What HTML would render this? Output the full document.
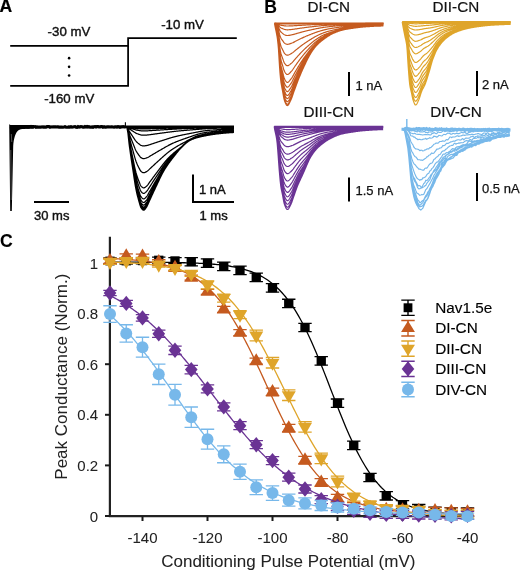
<!DOCTYPE html>
<html><head><meta charset="utf-8"><style>
html,body{margin:0;padding:0;background:#fff;width:520px;height:570px;overflow:hidden}
svg{display:block;font-family:"Liberation Sans", sans-serif;transform:translateZ(0)}
</style></head><body>
<svg width="520" height="570" viewBox="0 0 520 570">

<text x="-0.4" y="12.4" font-size="17.6" text-anchor="start" font-weight="bold" fill="#000" stroke="#000" stroke-width="0.2" stroke-linejoin="round" >A</text>
<text x="264.2" y="12.7" font-size="17.6" text-anchor="start" font-weight="bold" fill="#000" stroke="#000" stroke-width="0.1" stroke-linejoin="round" >B</text>
<text x="0.0" y="247.3" font-size="17.6" text-anchor="start" font-weight="bold" fill="#000" stroke="#000" stroke-width="0.1" stroke-linejoin="round" >C</text>
<path d="M10.2 45.9 H128.1 M10.2 85.9 H128.1 V38.15 H236.8" fill="none" stroke="#000" stroke-width="1.75"/>
<circle cx="69.1" cy="58.15" r="1.3" fill="#000"/>
<circle cx="69.1" cy="66.85" r="1.3" fill="#000"/>
<circle cx="69.1" cy="75.55" r="1.3" fill="#000"/>
<text x="47.6" y="36.1" font-size="13.25" text-anchor="start" font-weight="normal" fill="#111" stroke="#111" stroke-width="0.4" stroke-linejoin="round" >-30 mV</text>
<text x="161.2" y="28.8" font-size="13.25" text-anchor="start" font-weight="normal" fill="#111" stroke="#111" stroke-width="0.4" stroke-linejoin="round" >-10 mV</text>
<text x="44.2" y="102.9" font-size="13.25" text-anchor="start" font-weight="normal" fill="#111" stroke="#111" stroke-width="0.4" stroke-linejoin="round" >-160 mV</text>
<path d="M9.2 124.2 L10.2 210.9 L11.8 210.9 L13.2 146 C13.8 138 15.5 132.5 18.5 130.2 C21 129 26 128.8 34 128.6 L34 125 L10.5 125 Z" fill="#000"/>
<path d="M10.8 150 L11.2 200 M11.3 134 L11.8 142" stroke="#666" stroke-width="0.8"/>
<path d="M10.0 126.72 L11.0 126.93 L12.0 126.81 L13.0 126.97 L14.0 126.99 L15.0 126.60 L16.0 126.56 L17.0 127.14 L18.0 126.73 L19.0 126.71 L20.0 127.25 L21.0 126.88 L22.0 127.14 L23.0 126.88 L24.0 127.00 L25.0 126.66 L26.0 126.99 L27.0 127.16 L28.0 126.92 L29.0 127.07 L30.0 127.02 L31.0 126.59 L32.0 127.08 L33.0 126.96 L34.0 126.76 L35.0 126.57 L36.0 127.16 L37.0 126.88 L38.0 127.05 L39.0 127.17 L40.0 127.05 L41.0 127.19 L42.0 126.83 L43.0 127.11 L44.0 126.86 L45.0 127.20 L46.0 127.17 L47.0 126.62 L48.0 126.65 L49.0 126.70 L50.0 127.23 L51.0 126.86 L52.0 126.99 L53.0 126.76 L54.0 126.91 L55.0 126.82 L56.0 126.80 L57.0 126.96 L58.0 126.96 L59.0 127.18 L60.0 127.03 L61.0 127.20 L62.0 127.15 L63.0 127.24 L64.0 127.02 L65.0 126.66 L66.0 127.15 L67.0 127.23 L68.0 127.18 L69.0 126.95 L70.0 127.05 L71.0 126.70 L72.0 127.13 L73.0 126.95 L74.0 126.75 L75.0 126.59 L76.0 127.15 L77.0 127.24 L78.0 126.61 L79.0 127.11 L80.0 126.84 L81.0 126.66 L82.0 126.76 L83.0 127.09 L84.0 127.16 L85.0 126.58 L86.0 126.98 L87.0 126.58 L88.0 127.05 L89.0 126.78 L90.0 127.17 L91.0 127.24 L92.0 126.90 L93.0 127.25 L94.0 126.77 L95.0 126.60 L96.0 126.97 L97.0 126.57 L98.0 126.69 L99.0 126.84 L100.0 126.98 L101.0 126.66 L102.0 126.58 L103.0 127.16 L104.0 126.77 L105.0 127.22 L106.0 127.18 L107.0 126.81 L108.0 126.87 L109.0 126.91 L110.0 127.00 L111.0 126.97 L112.0 126.94 L113.0 126.98 L114.0 127.21 L115.0 126.90 L116.0 126.85 L117.0 127.05 L118.0 126.72 L119.0 126.76 L120.0 127.23 L121.0 126.91 L122.0 126.93 L123.0 126.56 L124.0 126.84 L125.0 126.96 L126.0 126.56" fill="none" stroke="#000" stroke-width="3.2"/>
<path d="M125.4 127 L125.4 122.3" fill="none" stroke="#000" stroke-width="1.1"/>
<path d="M126.5 126.90 L127.0 128.38 L127.5 130.73 L128.0 133.76 L128.5 138.35 L129.0 142.98 L129.5 146.84 L130.0 150.52 L130.5 154.06 L131.0 157.48 L131.5 160.81 L132.0 164.09 L132.5 167.35 L133.0 170.62 L133.5 173.96 L134.0 177.33 L134.5 180.65 L135.0 183.83 L135.5 186.79 L136.0 189.47 L136.5 191.83 L137.0 194.02 L137.5 196.05 L138.0 197.96 L138.5 199.78 L139.0 201.53 L139.5 203.29 L140.0 205.07 L140.5 206.63 L141.0 207.70 L141.5 208.43 L142.0 209.10 L142.5 209.64 L143.0 210.02 L143.5 210.19 L144.0 210.11 L144.5 209.78 L145.0 209.26 L145.5 208.64 L146.0 207.97 L146.5 207.26 L147.0 206.36 L147.5 205.29 L148.0 204.15 L148.5 202.98 L149.0 201.87 L149.5 200.80 L150.0 199.73 L150.5 198.64 L151.0 197.54 L151.5 196.45 L152.0 195.35 L152.5 194.26 L153.0 193.17 L153.5 192.08 L154.0 191.01 L154.5 189.96 L155.0 188.90 L155.5 187.84 L156.0 186.78 L156.5 185.70 L157.0 184.63 L157.5 183.56 L158.0 182.49 L158.5 181.42 L159.0 180.36 L159.5 179.31 L160.0 178.28 L160.5 177.25 L161.0 176.24 L161.5 175.25 L162.0 174.28 L162.5 173.33 L163.0 172.41 L163.5 171.51 L164.0 170.64 L164.5 169.80 L165.0 168.98 L165.5 168.18 L166.0 167.40 L166.5 166.63 L167.0 165.88 L167.5 165.13 L168.0 164.41 L168.5 163.69 L169.0 162.98 L169.5 162.29 L170.0 161.61 L170.5 160.93 L171.0 160.26 L171.5 159.60 L172.0 158.95 L172.5 158.30 L173.0 157.66 L173.5 157.03 L174.0 156.39 L174.5 155.76 L175.0 155.14 L175.5 154.50 L176.0 153.86 L176.5 153.21 L177.0 152.57 L177.5 151.92 L178.0 151.27 L178.5 150.62 L179.0 149.98 L179.5 149.35 L180.0 148.72 L180.5 148.11 L181.0 147.51 L181.5 146.93 L182.0 146.37 L182.5 145.82 L183.0 145.30 L183.5 144.80 L184.0 144.32 L184.5 143.88 L185.0 143.46 L185.5 143.08 L186.0 142.73 L186.5 142.40 L187.0 142.08 L187.5 141.78 L188.0 141.49 L188.5 141.20 L189.0 140.93 L189.5 140.66 L190.0 140.41 L190.5 140.16 L191.0 139.93 L191.5 139.70 L192.0 139.48 L192.5 139.27 L193.0 139.07 L193.5 138.88 L194.0 138.69 L194.5 138.51 L195.0 138.34 L195.5 138.18 L196.0 138.02 L196.5 137.87 L197.0 137.72 L197.5 137.58 L198.0 137.44 L198.5 137.31 L199.0 137.18 L199.5 137.06 L200.0 136.94 L200.5 136.82 L201.0 136.70 L201.5 136.59 L202.0 136.48 L202.5 136.38 L203.0 136.27 L203.5 136.17 L204.0 136.07 L204.5 135.97 L205.0 135.88 L205.5 135.78 L206.0 135.68 L206.5 135.59 L207.0 135.50 L207.5 135.40 L208.0 135.31 L208.5 135.22 L209.0 135.13 L209.5 135.04 L210.0 134.96 L210.5 134.87 L211.0 134.79 L211.5 134.71 L212.0 134.63 L212.5 134.55 L213.0 134.47 L213.5 134.40 L214.0 134.33 L214.5 134.26 L215.0 134.19 L215.5 134.13 L216.0 134.06 L216.5 134.00 L217.0 133.95 L217.5 133.89 L218.0 133.83 L218.5 133.78 L219.0 133.72 L219.5 133.67 L220.0 133.61 L220.5 133.56 L221.0 133.50 L221.5 133.45 L222.0 133.40 L222.5 133.35 L223.0 133.30 L223.5 133.25 L224.0 133.20 L224.5 133.15 L225.0 133.11 L225.5 133.06 L226.0 133.01 L226.5 132.97 L227.0 132.93 L227.5 132.89 L228.0 132.85 L228.5 132.81 L229.0 132.77 L229.5 132.74 L230.0 132.70 L230.5 132.67 L231.0 132.64 L231.5 132.61 L232.0 132.58 L232.5 132.55 L233.0 132.53 L233.5 132.50 L234.0 132.48 M126.5 126.90 L127.0 128.37 L127.5 130.70 L128.0 133.70 L128.5 138.25 L129.0 142.84 L129.5 146.67 L130.0 150.32 L130.5 153.83 L131.0 157.22 L131.5 160.53 L132.0 163.78 L132.5 167.01 L133.0 170.26 L133.5 173.57 L134.0 176.91 L134.5 180.20 L135.0 183.35 L135.5 186.29 L136.0 188.94 L136.5 191.29 L137.0 193.46 L137.5 195.47 L138.0 197.37 L138.5 199.17 L139.0 200.90 L139.5 202.65 L140.0 204.42 L140.5 205.96 L141.0 207.02 L141.5 207.75 L142.0 208.40 L142.5 208.95 L143.0 209.32 L143.5 209.49 L144.0 209.41 L144.5 209.08 L145.0 208.58 L145.5 207.96 L146.0 207.30 L146.5 206.61 L147.0 205.73 L147.5 204.68 L148.0 203.55 L148.5 202.40 L149.0 201.30 L149.5 200.25 L150.0 199.19 L150.5 198.12 L151.0 197.04 L151.5 195.96 L152.0 194.87 L152.5 193.79 L153.0 192.72 L153.5 191.65 L154.0 190.60 L154.5 189.55 L155.0 188.51 L155.5 187.47 L156.0 186.42 L156.5 185.36 L157.0 184.30 L157.5 183.24 L158.0 182.19 L158.5 181.13 L159.0 180.09 L159.5 179.05 L160.0 178.03 L160.5 177.01 L161.0 176.01 L161.5 175.03 L162.0 174.07 L162.5 173.13 L163.0 172.21 L163.5 171.32 L164.0 170.46 L164.5 169.63 L165.0 168.82 L165.5 168.02 L166.0 167.25 L166.5 166.49 L167.0 165.74 L167.5 165.00 L168.0 164.28 L168.5 163.57 L169.0 162.87 L169.5 162.19 L170.0 161.51 L170.5 160.84 L171.0 160.18 L171.5 159.53 L172.0 158.88 L172.5 158.24 L173.0 157.61 L173.5 156.98 L174.0 156.35 L174.5 155.73 L175.0 155.11 L175.5 154.49 L176.0 153.86 L176.5 153.22 L177.0 152.58 L177.5 151.94 L178.0 151.30 L178.5 150.66 L179.0 150.03 L179.5 149.40 L180.0 148.78 L180.5 148.18 L181.0 147.58 L181.5 147.00 L182.0 146.43 L182.5 145.89 L183.0 145.36 L183.5 144.86 L184.0 144.38 L184.5 143.93 L185.0 143.50 L185.5 143.11 L186.0 142.75 L186.5 142.42 L187.0 142.10 L187.5 141.80 L188.0 141.50 L188.5 141.22 L189.0 140.94 L189.5 140.68 L190.0 140.42 L190.5 140.17 L191.0 139.94 L191.5 139.71 L192.0 139.49 L192.5 139.28 L193.0 139.07 L193.5 138.88 L194.0 138.69 L194.5 138.51 L195.0 138.34 L195.5 138.17 L196.0 138.01 L196.5 137.86 L197.0 137.71 L197.5 137.57 L198.0 137.43 L198.5 137.30 L199.0 137.17 L199.5 137.05 L200.0 136.92 L200.5 136.81 L201.0 136.69 L201.5 136.58 L202.0 136.47 L202.5 136.37 L203.0 136.26 L203.5 136.16 L204.0 136.06 L204.5 135.96 L205.0 135.86 L205.5 135.77 L206.0 135.67 L206.5 135.58 L207.0 135.49 L207.5 135.40 L208.0 135.30 L208.5 135.21 L209.0 135.13 L209.5 135.04 L210.0 134.95 L210.5 134.87 L211.0 134.78 L211.5 134.70 L212.0 134.62 L212.5 134.54 L213.0 134.47 L213.5 134.39 L214.0 134.32 L214.5 134.25 L215.0 134.18 L215.5 134.12 L216.0 134.05 L216.5 133.99 L217.0 133.93 L217.5 133.88 L218.0 133.82 L218.5 133.76 L219.0 133.71 L219.5 133.65 L220.0 133.60 L220.5 133.55 L221.0 133.49 L221.5 133.44 L222.0 133.39 L222.5 133.34 L223.0 133.29 L223.5 133.24 L224.0 133.19 L224.5 133.14 L225.0 133.09 L225.5 133.05 L226.0 133.00 L226.5 132.96 L227.0 132.92 L227.5 132.87 L228.0 132.83 L228.5 132.80 L229.0 132.76 L229.5 132.72 L230.0 132.69 L230.5 132.65 L231.0 132.62 L231.5 132.59 L232.0 132.56 L232.5 132.53 L233.0 132.50 L233.5 132.48 L234.0 132.46 M126.5 126.90 L127.0 128.35 L127.5 130.66 L128.0 133.62 L128.5 138.11 L129.0 142.65 L129.5 146.43 L130.0 150.04 L130.5 153.50 L131.0 156.85 L131.5 160.12 L132.0 163.33 L132.5 166.53 L133.0 169.73 L133.5 173.00 L134.0 176.30 L134.5 179.55 L135.0 182.67 L135.5 185.57 L136.0 188.19 L136.5 190.51 L137.0 192.65 L137.5 194.64 L138.0 196.51 L138.5 198.29 L139.0 200.00 L139.5 201.73 L140.0 203.48 L140.5 205.00 L141.0 206.05 L141.5 206.77 L142.0 207.42 L142.5 207.95 L143.0 208.33 L143.5 208.49 L144.0 208.41 L144.5 208.09 L145.0 207.60 L145.5 207.00 L146.0 206.35 L146.5 205.68 L147.0 204.82 L147.5 203.81 L148.0 202.70 L148.5 201.57 L149.0 200.49 L149.5 199.46 L150.0 198.42 L150.5 197.37 L151.0 196.31 L151.5 195.25 L152.0 194.19 L152.5 193.13 L153.0 192.08 L153.5 191.03 L154.0 189.99 L154.5 188.96 L155.0 187.95 L155.5 186.92 L156.0 185.89 L156.5 184.86 L157.0 183.82 L157.5 182.78 L158.0 181.75 L158.5 180.72 L159.0 179.69 L159.5 178.67 L160.0 177.66 L160.5 176.67 L161.0 175.68 L161.5 174.72 L162.0 173.77 L162.5 172.84 L163.0 171.93 L163.5 171.05 L164.0 170.20 L164.5 169.37 L165.0 168.57 L165.5 167.79 L166.0 167.02 L166.5 166.27 L167.0 165.53 L167.5 164.81 L168.0 164.09 L168.5 163.39 L169.0 162.71 L169.5 162.03 L170.0 161.36 L170.5 160.70 L171.0 160.05 L171.5 159.41 L172.0 158.77 L172.5 158.14 L173.0 157.52 L173.5 156.90 L174.0 156.29 L174.5 155.67 L175.0 155.07 L175.5 154.46 L176.0 153.84 L176.5 153.22 L177.0 152.60 L177.5 151.97 L178.0 151.34 L178.5 150.71 L179.0 150.09 L179.5 149.47 L180.0 148.86 L180.5 148.26 L181.0 147.67 L181.5 147.09 L182.0 146.52 L182.5 145.98 L183.0 145.45 L183.5 144.94 L184.0 144.46 L184.5 144.00 L185.0 143.57 L185.5 143.16 L186.0 142.79 L186.5 142.44 L187.0 142.13 L187.5 141.82 L188.0 141.52 L188.5 141.24 L189.0 140.96 L189.5 140.69 L190.0 140.44 L190.5 140.19 L191.0 139.95 L191.5 139.72 L192.0 139.50 L192.5 139.28 L193.0 139.08 L193.5 138.88 L194.0 138.69 L194.5 138.51 L195.0 138.33 L195.5 138.17 L196.0 138.01 L196.5 137.85 L197.0 137.70 L197.5 137.56 L198.0 137.42 L198.5 137.29 L199.0 137.16 L199.5 137.03 L200.0 136.91 L200.5 136.79 L201.0 136.67 L201.5 136.56 L202.0 136.45 L202.5 136.35 L203.0 136.24 L203.5 136.14 L204.0 136.04 L204.5 135.94 L205.0 135.85 L205.5 135.75 L206.0 135.66 L206.5 135.57 L207.0 135.47 L207.5 135.38 L208.0 135.29 L208.5 135.20 L209.0 135.11 L209.5 135.03 L210.0 134.94 L210.5 134.86 L211.0 134.77 L211.5 134.69 L212.0 134.61 L212.5 134.53 L213.0 134.46 L213.5 134.38 L214.0 134.31 L214.5 134.24 L215.0 134.17 L215.5 134.10 L216.0 134.04 L216.5 133.97 L217.0 133.91 L217.5 133.85 L218.0 133.80 L218.5 133.74 L219.0 133.69 L219.5 133.64 L220.0 133.58 L220.5 133.53 L221.0 133.48 L221.5 133.42 L222.0 133.37 L222.5 133.32 L223.0 133.27 L223.5 133.22 L224.0 133.17 L224.5 133.12 L225.0 133.08 L225.5 133.03 L226.0 132.99 L226.5 132.94 L227.0 132.90 L227.5 132.86 L228.0 132.81 L228.5 132.77 L229.0 132.74 L229.5 132.70 L230.0 132.66 L230.5 132.63 L231.0 132.59 L231.5 132.56 L232.0 132.53 L232.5 132.50 L233.0 132.47 L233.5 132.45 L234.0 132.42 M126.5 126.90 L127.0 128.33 L127.5 130.59 L128.0 133.50 L128.5 137.92 L129.0 142.38 L129.5 146.10 L130.0 149.64 L130.5 153.05 L131.0 156.34 L131.5 159.55 L132.0 162.71 L132.5 165.85 L133.0 169.00 L133.5 172.21 L134.0 175.46 L134.5 178.65 L135.0 181.71 L135.5 184.56 L136.0 187.14 L136.5 189.42 L137.0 191.52 L137.5 193.48 L138.0 195.32 L138.5 197.07 L139.0 198.75 L139.5 200.45 L140.0 202.16 L140.5 203.66 L141.0 204.69 L141.5 205.40 L142.0 206.04 L142.5 206.56 L143.0 206.93 L143.5 207.09 L144.0 207.02 L144.5 206.71 L145.0 206.23 L145.5 205.65 L146.0 205.02 L146.5 204.38 L147.0 203.55 L147.5 202.57 L148.0 201.50 L148.5 200.41 L149.0 199.34 L149.5 198.34 L150.0 197.33 L150.5 196.31 L151.0 195.28 L151.5 194.25 L152.0 193.22 L152.5 192.19 L153.0 191.17 L153.5 190.14 L154.0 189.13 L154.5 188.13 L155.0 187.14 L155.5 186.15 L156.0 185.15 L156.5 184.14 L157.0 183.14 L157.5 182.13 L158.0 181.12 L158.5 180.11 L159.0 179.11 L159.5 178.12 L160.0 177.14 L160.5 176.16 L161.0 175.20 L161.5 174.26 L162.0 173.33 L162.5 172.42 L163.0 171.53 L163.5 170.66 L164.0 169.82 L164.5 169.00 L165.0 168.21 L165.5 167.44 L166.0 166.69 L166.5 165.95 L167.0 165.23 L167.5 164.52 L168.0 163.82 L168.5 163.13 L169.0 162.46 L169.5 161.79 L170.0 161.14 L170.5 160.49 L171.0 159.85 L171.5 159.22 L172.0 158.60 L172.5 157.99 L173.0 157.38 L173.5 156.77 L174.0 156.17 L174.5 155.58 L175.0 154.98 L175.5 154.39 L176.0 153.80 L176.5 153.20 L177.0 152.60 L177.5 151.99 L178.0 151.38 L178.5 150.76 L179.0 150.16 L179.5 149.55 L180.0 148.95 L180.5 148.36 L181.0 147.77 L181.5 147.20 L182.0 146.64 L182.5 146.10 L183.0 145.57 L183.5 145.06 L184.0 144.57 L184.5 144.10 L185.0 143.65 L185.5 143.24 L186.0 142.85 L186.5 142.48 L187.0 142.15 L187.5 141.85 L188.0 141.55 L188.5 141.26 L189.0 140.98 L189.5 140.71 L190.0 140.45 L190.5 140.20 L191.0 139.96 L191.5 139.73 L192.0 139.51 L192.5 139.29 L193.0 139.08 L193.5 138.88 L194.0 138.69 L194.5 138.50 L195.0 138.33 L195.5 138.16 L196.0 137.99 L196.5 137.84 L197.0 137.68 L197.5 137.54 L198.0 137.40 L198.5 137.26 L199.0 137.13 L199.5 137.00 L200.0 136.88 L200.5 136.76 L201.0 136.65 L201.5 136.53 L202.0 136.42 L202.5 136.32 L203.0 136.21 L203.5 136.11 L204.0 136.01 L204.5 135.91 L205.0 135.82 L205.5 135.72 L206.0 135.63 L206.5 135.54 L207.0 135.45 L207.5 135.36 L208.0 135.27 L208.5 135.18 L209.0 135.09 L209.5 135.01 L210.0 134.92 L210.5 134.84 L211.0 134.76 L211.5 134.67 L212.0 134.59 L212.5 134.52 L213.0 134.44 L213.5 134.36 L214.0 134.29 L214.5 134.22 L215.0 134.15 L215.5 134.08 L216.0 134.01 L216.5 133.95 L217.0 133.89 L217.5 133.83 L218.0 133.77 L218.5 133.71 L219.0 133.66 L219.5 133.61 L220.0 133.55 L220.5 133.50 L221.0 133.45 L221.5 133.40 L222.0 133.35 L222.5 133.29 L223.0 133.24 L223.5 133.20 L224.0 133.15 L224.5 133.10 L225.0 133.05 L225.5 133.01 L226.0 132.96 L226.5 132.92 L227.0 132.87 L227.5 132.83 L228.0 132.79 L228.5 132.75 L229.0 132.71 L229.5 132.67 L230.0 132.63 L230.5 132.59 L231.0 132.56 L231.5 132.52 L232.0 132.49 L232.5 132.46 L233.0 132.43 L233.5 132.40 L234.0 132.37 M126.5 126.90 L127.0 128.29 L127.5 130.50 L128.0 133.34 L128.5 137.65 L129.0 141.99 L129.5 145.62 L130.0 149.07 L130.5 152.39 L131.0 155.60 L131.5 158.73 L132.0 161.82 L132.5 164.88 L133.0 167.95 L133.5 171.08 L134.0 174.24 L134.5 177.36 L135.0 180.34 L135.5 183.13 L136.0 185.64 L136.5 187.86 L137.0 189.91 L137.5 191.82 L138.0 193.61 L138.5 195.32 L139.0 196.96 L139.5 198.61 L140.0 200.29 L140.5 201.74 L141.0 202.75 L141.5 203.44 L142.0 204.06 L142.5 204.57 L143.0 204.93 L143.5 205.10 L144.0 205.02 L144.5 204.73 L145.0 204.28 L145.5 203.72 L146.0 203.12 L146.5 202.50 L147.0 201.73 L147.5 200.80 L148.0 199.78 L148.5 198.73 L149.0 197.70 L149.5 196.73 L150.0 195.76 L150.5 194.79 L151.0 193.80 L151.5 192.81 L152.0 191.82 L152.5 190.83 L153.0 189.84 L153.5 188.86 L154.0 187.89 L154.5 186.92 L155.0 185.97 L155.5 185.02 L156.0 184.06 L156.5 183.10 L157.0 182.13 L157.5 181.16 L158.0 180.19 L158.5 179.22 L159.0 178.26 L159.5 177.30 L160.0 176.36 L160.5 175.41 L161.0 174.49 L161.5 173.57 L162.0 172.67 L162.5 171.78 L163.0 170.92 L163.5 170.07 L164.0 169.25 L164.5 168.45 L165.0 167.67 L165.5 166.92 L166.0 166.19 L166.5 165.47 L167.0 164.77 L167.5 164.08 L168.0 163.40 L168.5 162.73 L169.0 162.07 L169.5 161.43 L170.0 160.79 L170.5 160.16 L171.0 159.54 L171.5 158.93 L172.0 158.33 L172.5 157.73 L173.0 157.14 L173.5 156.56 L174.0 155.98 L174.5 155.40 L175.0 154.83 L175.5 154.26 L176.0 153.69 L176.5 153.12 L177.0 152.55 L177.5 151.96 L178.0 151.38 L178.5 150.79 L179.0 150.21 L179.5 149.62 L180.0 149.04 L180.5 148.46 L181.0 147.89 L181.5 147.33 L182.0 146.78 L182.5 146.24 L183.0 145.71 L183.5 145.20 L184.0 144.71 L184.5 144.23 L185.0 143.78 L185.5 143.35 L186.0 142.94 L186.5 142.55 L187.0 142.20 L187.5 141.87 L188.0 141.57 L188.5 141.28 L189.0 141.00 L189.5 140.73 L190.0 140.47 L190.5 140.22 L191.0 139.97 L191.5 139.74 L192.0 139.51 L192.5 139.29 L193.0 139.08 L193.5 138.88 L194.0 138.68 L194.5 138.49 L195.0 138.31 L195.5 138.14 L196.0 137.97 L196.5 137.81 L197.0 137.65 L197.5 137.51 L198.0 137.36 L198.5 137.23 L199.0 137.09 L199.5 136.96 L200.0 136.84 L200.5 136.72 L201.0 136.60 L201.5 136.49 L202.0 136.37 L202.5 136.27 L203.0 136.16 L203.5 136.06 L204.0 135.96 L204.5 135.86 L205.0 135.77 L205.5 135.67 L206.0 135.58 L206.5 135.49 L207.0 135.40 L207.5 135.32 L208.0 135.23 L208.5 135.14 L209.0 135.06 L209.5 134.97 L210.0 134.89 L210.5 134.81 L211.0 134.72 L211.5 134.64 L212.0 134.56 L212.5 134.49 L213.0 134.41 L213.5 134.33 L214.0 134.26 L214.5 134.19 L215.0 134.11 L215.5 134.05 L216.0 133.98 L216.5 133.91 L217.0 133.85 L217.5 133.79 L218.0 133.73 L218.5 133.67 L219.0 133.61 L219.5 133.56 L220.0 133.51 L220.5 133.46 L221.0 133.40 L221.5 133.35 L222.0 133.30 L222.5 133.25 L223.0 133.20 L223.5 133.16 L224.0 133.11 L224.5 133.06 L225.0 133.01 L225.5 132.97 L226.0 132.92 L226.5 132.88 L227.0 132.83 L227.5 132.79 L228.0 132.75 L228.5 132.70 L229.0 132.66 L229.5 132.62 L230.0 132.58 L230.5 132.55 L231.0 132.51 L231.5 132.47 L232.0 132.44 L232.5 132.41 L233.0 132.37 L233.5 132.34 L234.0 132.31 M126.5 126.90 L127.0 128.25 L127.5 130.38 L128.0 133.12 L128.5 137.29 L129.0 141.49 L129.5 145.00 L130.0 148.34 L130.5 151.55 L131.0 154.65 L131.5 157.68 L132.0 160.65 L132.5 163.61 L133.0 166.58 L133.5 169.61 L134.0 172.67 L134.5 175.68 L135.0 178.57 L135.5 181.26 L136.0 183.68 L136.5 185.83 L137.0 187.81 L137.5 189.66 L138.0 191.40 L138.5 193.04 L139.0 194.63 L139.5 196.23 L140.0 197.85 L140.5 199.26 L141.0 200.23 L141.5 200.90 L142.0 201.50 L142.5 201.99 L143.0 202.34 L143.5 202.50 L144.0 202.43 L144.5 202.15 L145.0 201.73 L145.5 201.21 L146.0 200.64 L146.5 200.06 L147.0 199.35 L147.5 198.49 L148.0 197.53 L148.5 196.53 L149.0 195.55 L149.5 194.62 L150.0 193.70 L150.5 192.78 L151.0 191.85 L151.5 190.91 L152.0 189.97 L152.5 189.03 L153.0 188.09 L153.5 187.16 L154.0 186.23 L154.5 185.32 L155.0 184.41 L155.5 183.51 L156.0 182.60 L156.5 181.69 L157.0 180.77 L157.5 179.85 L158.0 178.94 L158.5 178.02 L159.0 177.10 L159.5 176.19 L160.0 175.29 L160.5 174.39 L161.0 173.50 L161.5 172.62 L162.0 171.76 L162.5 170.91 L163.0 170.07 L163.5 169.26 L164.0 168.46 L164.5 167.68 L165.0 166.93 L165.5 166.20 L166.0 165.49 L166.5 164.80 L167.0 164.12 L167.5 163.45 L168.0 162.80 L168.5 162.15 L169.0 161.52 L169.5 160.90 L170.0 160.28 L170.5 159.68 L171.0 159.08 L171.5 158.50 L172.0 157.92 L172.5 157.35 L173.0 156.78 L173.5 156.22 L174.0 155.66 L174.5 155.11 L175.0 154.56 L175.5 154.02 L176.0 153.48 L176.5 152.94 L177.0 152.40 L177.5 151.86 L178.0 151.31 L178.5 150.76 L179.0 150.20 L179.5 149.64 L180.0 149.09 L180.5 148.53 L181.0 147.99 L181.5 147.44 L182.0 146.91 L182.5 146.38 L183.0 145.86 L183.5 145.35 L184.0 144.86 L184.5 144.38 L185.0 143.92 L185.5 143.48 L186.0 143.06 L186.5 142.66 L187.0 142.28 L187.5 141.92 L188.0 141.59 L188.5 141.29 L189.0 141.01 L189.5 140.74 L190.0 140.48 L190.5 140.22 L191.0 139.97 L191.5 139.74 L192.0 139.51 L192.5 139.28 L193.0 139.07 L193.5 138.86 L194.0 138.66 L194.5 138.47 L195.0 138.28 L195.5 138.11 L196.0 137.93 L196.5 137.77 L197.0 137.61 L197.5 137.46 L198.0 137.31 L198.5 137.17 L199.0 137.03 L199.5 136.90 L200.0 136.77 L200.5 136.65 L201.0 136.53 L201.5 136.42 L202.0 136.30 L202.5 136.19 L203.0 136.09 L203.5 135.99 L204.0 135.89 L204.5 135.79 L205.0 135.69 L205.5 135.60 L206.0 135.51 L206.5 135.42 L207.0 135.33 L207.5 135.25 L208.0 135.16 L208.5 135.08 L209.0 135.00 L209.5 134.91 L210.0 134.83 L210.5 134.75 L211.0 134.67 L211.5 134.59 L212.0 134.51 L212.5 134.44 L213.0 134.36 L213.5 134.28 L214.0 134.21 L214.5 134.14 L215.0 134.07 L215.5 134.00 L216.0 133.93 L216.5 133.86 L217.0 133.80 L217.5 133.73 L218.0 133.67 L218.5 133.61 L219.0 133.55 L219.5 133.49 L220.0 133.44 L220.5 133.39 L221.0 133.34 L221.5 133.29 L222.0 133.24 L222.5 133.19 L223.0 133.14 L223.5 133.09 L224.0 133.05 L224.5 133.00 L225.0 132.95 L225.5 132.91 L226.0 132.86 L226.5 132.82 L227.0 132.77 L227.5 132.73 L228.0 132.69 L228.5 132.64 L229.0 132.60 L229.5 132.56 L230.0 132.52 L230.5 132.48 L231.0 132.45 L231.5 132.41 L232.0 132.37 L232.5 132.34 L233.0 132.30 L233.5 132.27 L234.0 132.24 M126.5 126.90 L127.0 128.18 L127.5 130.21 L128.0 132.83 L128.5 136.79 L129.0 140.80 L129.5 144.13 L130.0 147.32 L130.5 150.37 L131.0 153.33 L131.5 156.21 L132.0 159.05 L132.5 161.86 L133.0 164.69 L133.5 167.58 L134.0 170.49 L134.5 173.36 L135.0 176.10 L135.5 178.67 L136.0 180.98 L136.5 183.03 L137.0 184.91 L137.5 186.67 L138.0 188.32 L138.5 189.89 L139.0 191.40 L139.5 192.93 L140.0 194.47 L140.5 195.81 L141.0 196.74 L141.5 197.37 L142.0 197.95 L142.5 198.42 L143.0 198.75 L143.5 198.90 L144.0 198.83 L144.5 198.59 L145.0 198.20 L145.5 197.72 L146.0 197.20 L146.5 196.66 L147.0 196.03 L147.5 195.25 L148.0 194.38 L148.5 193.46 L149.0 192.54 L149.5 191.66 L150.0 190.81 L150.5 189.96 L151.0 189.09 L151.5 188.23 L152.0 187.36 L152.5 186.48 L153.0 185.61 L153.5 184.75 L154.0 183.88 L154.5 183.03 L155.0 182.18 L155.5 181.34 L156.0 180.50 L156.5 179.66 L157.0 178.81 L157.5 177.96 L158.0 177.11 L158.5 176.26 L159.0 175.40 L159.5 174.56 L160.0 173.71 L160.5 172.87 L161.0 172.04 L161.5 171.22 L162.0 170.40 L162.5 169.60 L163.0 168.81 L163.5 168.04 L164.0 167.28 L164.5 166.54 L165.0 165.82 L165.5 165.12 L166.0 164.43 L166.5 163.78 L167.0 163.13 L167.5 162.50 L168.0 161.88 L168.5 161.26 L169.0 160.66 L169.5 160.07 L170.0 159.49 L170.5 158.92 L171.0 158.36 L171.5 157.80 L172.0 157.25 L172.5 156.71 L173.0 156.18 L173.5 155.65 L174.0 155.13 L174.5 154.61 L175.0 154.09 L175.5 153.58 L176.0 153.08 L176.5 152.57 L177.0 152.07 L177.5 151.57 L178.0 151.07 L178.5 150.57 L179.0 150.06 L179.5 149.54 L180.0 149.03 L180.5 148.51 L181.0 147.99 L181.5 147.48 L182.0 146.97 L182.5 146.47 L183.0 145.97 L183.5 145.48 L184.0 145.00 L184.5 144.53 L185.0 144.07 L185.5 143.62 L186.0 143.19 L186.5 142.78 L187.0 142.38 L187.5 142.00 L188.0 141.65 L188.5 141.31 L189.0 141.00 L189.5 140.71 L190.0 140.44 L190.5 140.19 L191.0 139.94 L191.5 139.70 L192.0 139.47 L192.5 139.24 L193.0 139.03 L193.5 138.82 L194.0 138.61 L194.5 138.42 L195.0 138.23 L195.5 138.04 L196.0 137.87 L196.5 137.70 L197.0 137.53 L197.5 137.37 L198.0 137.22 L198.5 137.07 L199.0 136.93 L199.5 136.80 L200.0 136.67 L200.5 136.54 L201.0 136.42 L201.5 136.30 L202.0 136.19 L202.5 136.08 L203.0 135.97 L203.5 135.87 L204.0 135.76 L204.5 135.67 L205.0 135.57 L205.5 135.48 L206.0 135.39 L206.5 135.30 L207.0 135.21 L207.5 135.12 L208.0 135.04 L208.5 134.96 L209.0 134.88 L209.5 134.80 L210.0 134.72 L210.5 134.65 L211.0 134.57 L211.5 134.49 L212.0 134.42 L212.5 134.34 L213.0 134.27 L213.5 134.20 L214.0 134.12 L214.5 134.05 L215.0 133.98 L215.5 133.91 L216.0 133.84 L216.5 133.78 L217.0 133.71 L217.5 133.65 L218.0 133.58 L218.5 133.52 L219.0 133.46 L219.5 133.40 L220.0 133.34 L220.5 133.29 L221.0 133.23 L221.5 133.18 L222.0 133.13 L222.5 133.08 L223.0 133.03 L223.5 132.99 L224.0 132.94 L224.5 132.90 L225.0 132.85 L225.5 132.81 L226.0 132.76 L226.5 132.72 L227.0 132.68 L227.5 132.64 L228.0 132.59 L228.5 132.55 L229.0 132.51 L229.5 132.47 L230.0 132.43 L230.5 132.39 L231.0 132.35 L231.5 132.31 L232.0 132.28 L232.5 132.24 L233.0 132.20 L233.5 132.17 L234.0 132.13 M126.5 126.90 L127.0 128.08 L127.5 129.96 L128.0 132.38 L128.5 136.04 L129.0 139.73 L129.5 142.82 L130.0 145.76 L130.5 148.58 L131.0 151.31 L131.5 153.97 L132.0 156.59 L132.5 159.19 L133.0 161.81 L133.5 164.47 L134.0 167.16 L134.5 169.81 L135.0 172.35 L135.5 174.71 L136.0 176.85 L136.5 178.74 L137.0 180.48 L137.5 182.11 L138.0 183.63 L138.5 185.08 L139.0 186.48 L139.5 187.88 L140.0 189.31 L140.5 190.55 L141.0 191.41 L141.5 191.99 L142.0 192.52 L142.5 192.95 L143.0 193.26 L143.5 193.40 L144.0 193.34 L144.5 193.13 L145.0 192.80 L145.5 192.38 L146.0 191.92 L146.5 191.44 L147.0 190.91 L147.5 190.25 L148.0 189.50 L148.5 188.69 L149.0 187.87 L149.5 187.07 L150.0 186.31 L150.5 185.55 L151.0 184.79 L151.5 184.02 L152.0 183.25 L152.5 182.48 L153.0 181.70 L153.5 180.93 L154.0 180.16 L154.5 179.39 L155.0 178.63 L155.5 177.88 L156.0 177.14 L156.5 176.39 L157.0 175.64 L157.5 174.89 L158.0 174.13 L158.5 173.38 L159.0 172.62 L159.5 171.86 L160.0 171.11 L160.5 170.36 L161.0 169.61 L161.5 168.87 L162.0 168.13 L162.5 167.41 L163.0 166.69 L163.5 165.98 L164.0 165.29 L164.5 164.61 L165.0 163.94 L165.5 163.28 L166.0 162.65 L166.5 162.03 L167.0 161.43 L167.5 160.85 L168.0 160.28 L168.5 159.71 L169.0 159.16 L169.5 158.62 L170.0 158.09 L170.5 157.56 L171.0 157.04 L171.5 156.54 L172.0 156.03 L172.5 155.54 L173.0 155.05 L173.5 154.57 L174.0 154.09 L174.5 153.62 L175.0 153.15 L175.5 152.69 L176.0 152.23 L176.5 151.78 L177.0 151.33 L177.5 150.88 L178.0 150.43 L178.5 149.99 L179.0 149.55 L179.5 149.10 L180.0 148.65 L180.5 148.19 L181.0 147.74 L181.5 147.28 L182.0 146.82 L182.5 146.36 L183.0 145.90 L183.5 145.45 L184.0 145.00 L184.5 144.56 L185.0 144.12 L185.5 143.70 L186.0 143.28 L186.5 142.87 L187.0 142.47 L187.5 142.08 L188.0 141.71 L188.5 141.35 L189.0 141.00 L189.5 140.68 L190.0 140.37 L190.5 140.08 L191.0 139.81 L191.5 139.56 L192.0 139.33 L192.5 139.11 L193.0 138.89 L193.5 138.68 L194.0 138.47 L194.5 138.27 L195.0 138.08 L195.5 137.89 L196.0 137.71 L196.5 137.54 L197.0 137.37 L197.5 137.21 L198.0 137.05 L198.5 136.90 L199.0 136.75 L199.5 136.61 L200.0 136.47 L200.5 136.34 L201.0 136.21 L201.5 136.09 L202.0 135.97 L202.5 135.86 L203.0 135.75 L203.5 135.64 L204.0 135.54 L204.5 135.44 L205.0 135.34 L205.5 135.25 L206.0 135.16 L206.5 135.07 L207.0 134.98 L207.5 134.89 L208.0 134.81 L208.5 134.73 L209.0 134.65 L209.5 134.57 L210.0 134.50 L210.5 134.43 L211.0 134.35 L211.5 134.28 L212.0 134.21 L212.5 134.14 L213.0 134.07 L213.5 134.00 L214.0 133.94 L214.5 133.87 L215.0 133.80 L215.5 133.74 L216.0 133.67 L216.5 133.61 L217.0 133.54 L217.5 133.48 L218.0 133.42 L218.5 133.36 L219.0 133.30 L219.5 133.24 L220.0 133.18 L220.5 133.12 L221.0 133.07 L221.5 133.01 L222.0 132.96 L222.5 132.90 L223.0 132.85 L223.5 132.80 L224.0 132.75 L224.5 132.71 L225.0 132.66 L225.5 132.62 L226.0 132.58 L226.5 132.53 L227.0 132.49 L227.5 132.45 L228.0 132.41 L228.5 132.38 L229.0 132.34 L229.5 132.30 L230.0 132.26 L230.5 132.22 L231.0 132.18 L231.5 132.15 L232.0 132.11 L232.5 132.07 L233.0 132.04 L233.5 132.00 L234.0 131.97 M126.5 126.90 L127.0 127.99 L127.5 129.71 L128.0 131.92 L128.5 135.28 L129.0 138.67 L129.5 141.50 L130.0 144.20 L130.5 146.79 L131.0 149.29 L131.5 151.73 L132.0 154.14 L132.5 156.52 L133.0 158.92 L133.5 161.37 L134.0 163.83 L134.5 166.26 L135.0 168.59 L135.5 170.76 L136.0 172.72 L136.5 174.45 L137.0 176.05 L137.5 177.54 L138.0 178.94 L138.5 180.27 L139.0 181.55 L139.5 182.84 L140.0 184.15 L140.5 185.28 L141.0 186.07 L141.5 186.61 L142.0 187.09 L142.5 187.49 L143.0 187.77 L143.5 187.90 L144.0 187.85 L144.5 187.67 L145.0 187.38 L145.5 187.02 L146.0 186.61 L146.5 186.20 L147.0 185.75 L147.5 185.20 L148.0 184.55 L148.5 183.85 L149.0 183.12 L149.5 182.40 L150.0 181.72 L150.5 181.05 L151.0 180.38 L151.5 179.71 L152.0 179.03 L152.5 178.34 L153.0 177.66 L153.5 176.97 L154.0 176.29 L154.5 175.61 L155.0 174.93 L155.5 174.26 L156.0 173.60 L156.5 172.94 L157.0 172.28 L157.5 171.62 L158.0 170.96 L158.5 170.29 L159.0 169.62 L159.5 168.95 L160.0 168.28 L160.5 167.61 L161.0 166.95 L161.5 166.29 L162.0 165.63 L162.5 164.98 L163.0 164.33 L163.5 163.70 L164.0 163.07 L164.5 162.45 L165.0 161.84 L165.5 161.24 L166.0 160.66 L166.5 160.08 L167.0 159.53 L167.5 158.98 L168.0 158.46 L168.5 157.94 L169.0 157.44 L169.5 156.95 L170.0 156.46 L170.5 155.98 L171.0 155.51 L171.5 155.04 L172.0 154.59 L172.5 154.14 L173.0 153.69 L173.5 153.25 L174.0 152.82 L174.5 152.39 L175.0 151.97 L175.5 151.55 L176.0 151.14 L176.5 150.73 L177.0 150.32 L177.5 149.92 L178.0 149.52 L178.5 149.12 L179.0 148.73 L179.5 148.33 L180.0 147.94 L180.5 147.55 L181.0 147.15 L181.5 146.75 L182.0 146.35 L182.5 145.95 L183.0 145.54 L183.5 145.14 L184.0 144.73 L184.5 144.33 L185.0 143.93 L185.5 143.53 L186.0 143.14 L186.5 142.75 L187.0 142.37 L187.5 142.00 L188.0 141.64 L188.5 141.28 L189.0 140.94 L189.5 140.60 L190.0 140.28 L190.5 139.97 L191.0 139.68 L191.5 139.40 L192.0 139.13 L192.5 138.88 L193.0 138.65 L193.5 138.44 L194.0 138.24 L194.5 138.04 L195.0 137.85 L195.5 137.66 L196.0 137.48 L196.5 137.31 L197.0 137.14 L197.5 136.97 L198.0 136.82 L198.5 136.66 L199.0 136.51 L199.5 136.37 L200.0 136.23 L200.5 136.09 L201.0 135.96 L201.5 135.84 L202.0 135.71 L202.5 135.60 L203.0 135.48 L203.5 135.37 L204.0 135.27 L204.5 135.16 L205.0 135.07 L205.5 134.97 L206.0 134.88 L206.5 134.79 L207.0 134.70 L207.5 134.61 L208.0 134.53 L208.5 134.45 L209.0 134.37 L209.5 134.30 L210.0 134.22 L210.5 134.15 L211.0 134.08 L211.5 134.01 L212.0 133.94 L212.5 133.87 L213.0 133.81 L213.5 133.74 L214.0 133.68 L214.5 133.62 L215.0 133.56 L215.5 133.50 L216.0 133.44 L216.5 133.38 L217.0 133.32 L217.5 133.26 L218.0 133.20 L218.5 133.14 L219.0 133.08 L219.5 133.03 L220.0 132.97 L220.5 132.91 L221.0 132.86 L221.5 132.81 L222.0 132.75 L222.5 132.70 L223.0 132.65 L223.5 132.60 L224.0 132.55 L224.5 132.50 L225.0 132.45 L225.5 132.41 L226.0 132.36 L226.5 132.32 L227.0 132.27 L227.5 132.23 L228.0 132.19 L228.5 132.15 L229.0 132.12 L229.5 132.08 L230.0 132.04 L230.5 132.01 L231.0 131.97 L231.5 131.94 L232.0 131.90 L232.5 131.87 L233.0 131.83 L233.5 131.80 L234.0 131.77 M126.5 126.90 L127.0 127.72 L127.5 129.01 L128.0 130.67 L128.5 133.19 L129.0 135.74 L129.5 137.86 L130.0 139.89 L130.5 141.83 L131.0 143.71 L131.5 145.54 L132.0 147.35 L132.5 149.14 L133.0 150.94 L133.5 152.78 L134.0 154.63 L134.5 156.45 L135.0 158.20 L135.5 159.83 L136.0 161.30 L136.5 162.60 L137.0 163.80 L137.5 164.92 L138.0 165.97 L138.5 166.97 L139.0 167.93 L139.5 168.90 L140.0 169.88 L140.5 170.74 L141.0 171.33 L141.5 171.73 L142.0 172.09 L142.5 172.39 L143.0 172.60 L143.5 172.70 L144.0 172.67 L144.5 172.56 L145.0 172.37 L145.5 172.14 L146.0 171.87 L146.5 171.59 L147.0 171.30 L147.5 170.98 L148.0 170.58 L148.5 170.14 L149.0 169.66 L149.5 169.16 L150.0 168.67 L150.5 168.19 L151.0 167.74 L151.5 167.28 L152.0 166.82 L152.5 166.36 L153.0 165.90 L153.5 165.43 L154.0 164.96 L154.5 164.50 L155.0 164.03 L155.5 163.57 L156.0 163.10 L156.5 162.65 L157.0 162.19 L157.5 161.74 L158.0 161.29 L158.5 160.84 L159.0 160.39 L159.5 159.94 L160.0 159.48 L160.5 159.03 L161.0 158.57 L161.5 158.11 L162.0 157.66 L162.5 157.20 L163.0 156.75 L163.5 156.30 L164.0 155.85 L164.5 155.41 L165.0 154.97 L165.5 154.54 L166.0 154.11 L166.5 153.68 L167.0 153.27 L167.5 152.86 L168.0 152.45 L168.5 152.06 L169.0 151.67 L169.5 151.29 L170.0 150.93 L170.5 150.57 L171.0 150.22 L171.5 149.88 L172.0 149.54 L172.5 149.20 L173.0 148.88 L173.5 148.55 L174.0 148.23 L174.5 147.92 L175.0 147.61 L175.5 147.30 L176.0 147.00 L176.5 146.70 L177.0 146.40 L177.5 146.11 L178.0 145.82 L178.5 145.54 L179.0 145.25 L179.5 144.97 L180.0 144.69 L180.5 144.42 L181.0 144.14 L181.5 143.87 L182.0 143.60 L182.5 143.33 L183.0 143.06 L183.5 142.79 L184.0 142.53 L184.5 142.26 L185.0 141.99 L185.5 141.71 L186.0 141.44 L186.5 141.16 L187.0 140.89 L187.5 140.61 L188.0 140.33 L188.5 140.06 L189.0 139.78 L189.5 139.51 L190.0 139.24 L190.5 138.98 L191.0 138.72 L191.5 138.46 L192.0 138.21 L192.5 137.96 L193.0 137.72 L193.5 137.48 L194.0 137.25 L194.5 137.03 L195.0 136.81 L195.5 136.61 L196.0 136.41 L196.5 136.22 L197.0 136.04 L197.5 135.88 L198.0 135.72 L198.5 135.58 L199.0 135.44 L199.5 135.30 L200.0 135.17 L200.5 135.04 L201.0 134.92 L201.5 134.80 L202.0 134.68 L202.5 134.56 L203.0 134.45 L203.5 134.34 L204.0 134.24 L204.5 134.14 L205.0 134.04 L205.5 133.94 L206.0 133.85 L206.5 133.76 L207.0 133.67 L207.5 133.58 L208.0 133.50 L208.5 133.42 L209.0 133.34 L209.5 133.27 L210.0 133.20 L210.5 133.13 L211.0 133.06 L211.5 132.99 L212.0 132.93 L212.5 132.87 L213.0 132.80 L213.5 132.75 L214.0 132.69 L214.5 132.63 L215.0 132.58 L215.5 132.52 L216.0 132.47 L216.5 132.42 L217.0 132.37 L217.5 132.32 L218.0 132.27 L218.5 132.22 L219.0 132.18 L219.5 132.13 L220.0 132.09 L220.5 132.04 L221.0 132.00 L221.5 131.96 L222.0 131.92 L222.5 131.87 L223.0 131.83 L223.5 131.79 L224.0 131.75 L224.5 131.71 L225.0 131.67 L225.5 131.63 L226.0 131.59 L226.5 131.55 L227.0 131.51 L227.5 131.47 L228.0 131.44 L228.5 131.40 L229.0 131.36 L229.5 131.32 L230.0 131.29 L230.5 131.25 L231.0 131.22 L231.5 131.18 L232.0 131.15 L232.5 131.12 L233.0 131.08 L233.5 131.05 L234.0 131.02 M126.5 126.90 L127.0 127.46 L127.5 128.36 L128.0 129.51 L128.5 131.26 L129.0 133.02 L129.5 134.49 L130.0 135.89 L130.5 137.23 L131.0 138.54 L131.5 139.80 L132.0 141.05 L132.5 142.29 L133.0 143.54 L133.5 144.81 L134.0 146.09 L134.5 147.35 L135.0 148.56 L135.5 149.69 L136.0 150.71 L136.5 151.61 L137.0 152.44 L137.5 153.22 L138.0 153.94 L138.5 154.63 L139.0 155.30 L139.5 155.97 L140.0 156.65 L140.5 157.24 L141.0 157.65 L141.5 157.93 L142.0 158.18 L142.5 158.39 L143.0 158.53 L143.5 158.60 L144.0 158.58 L144.5 158.51 L145.0 158.40 L145.5 158.26 L146.0 158.10 L146.5 157.92 L147.0 157.74 L147.5 157.55 L148.0 157.33 L148.5 157.07 L149.0 156.78 L149.5 156.47 L150.0 156.15 L150.5 155.84 L151.0 155.53 L151.5 155.24 L152.0 154.95 L152.5 154.66 L153.0 154.36 L153.5 154.07 L154.0 153.77 L154.5 153.47 L155.0 153.18 L155.5 152.88 L156.0 152.58 L156.5 152.29 L157.0 151.99 L157.5 151.70 L158.0 151.41 L158.5 151.12 L159.0 150.83 L159.5 150.55 L160.0 150.26 L160.5 149.97 L161.0 149.68 L161.5 149.39 L162.0 149.10 L162.5 148.81 L163.0 148.52 L163.5 148.23 L164.0 147.94 L164.5 147.65 L165.0 147.36 L165.5 147.07 L166.0 146.79 L166.5 146.51 L167.0 146.23 L167.5 145.95 L168.0 145.68 L168.5 145.41 L169.0 145.14 L169.5 144.88 L170.0 144.63 L170.5 144.37 L171.0 144.12 L171.5 143.88 L172.0 143.64 L172.5 143.41 L173.0 143.19 L173.5 142.97 L174.0 142.75 L174.5 142.53 L175.0 142.32 L175.5 142.11 L176.0 141.90 L176.5 141.70 L177.0 141.50 L177.5 141.30 L178.0 141.10 L178.5 140.91 L179.0 140.72 L179.5 140.53 L180.0 140.34 L180.5 140.16 L181.0 139.97 L181.5 139.79 L182.0 139.61 L182.5 139.43 L183.0 139.25 L183.5 139.07 L184.0 138.90 L184.5 138.72 L185.0 138.55 L185.5 138.38 L186.0 138.21 L186.5 138.04 L187.0 137.86 L187.5 137.69 L188.0 137.52 L188.5 137.35 L189.0 137.18 L189.5 137.00 L190.0 136.82 L190.5 136.65 L191.0 136.47 L191.5 136.30 L192.0 136.12 L192.5 135.95 L193.0 135.77 L193.5 135.60 L194.0 135.43 L194.5 135.26 L195.0 135.09 L195.5 134.93 L196.0 134.76 L196.5 134.60 L197.0 134.45 L197.5 134.30 L198.0 134.15 L198.5 134.00 L199.0 133.86 L199.5 133.73 L200.0 133.60 L200.5 133.47 L201.0 133.35 L201.5 133.24 L202.0 133.13 L202.5 133.03 L203.0 132.94 L203.5 132.85 L204.0 132.76 L204.5 132.67 L205.0 132.59 L205.5 132.51 L206.0 132.43 L206.5 132.35 L207.0 132.28 L207.5 132.21 L208.0 132.13 L208.5 132.07 L209.0 132.00 L209.5 131.93 L210.0 131.87 L210.5 131.81 L211.0 131.75 L211.5 131.69 L212.0 131.63 L212.5 131.57 L213.0 131.52 L213.5 131.47 L214.0 131.42 L214.5 131.37 L215.0 131.32 L215.5 131.27 L216.0 131.23 L216.5 131.18 L217.0 131.14 L217.5 131.10 L218.0 131.06 L218.5 131.02 L219.0 130.98 L219.5 130.94 L220.0 130.91 L220.5 130.87 L221.0 130.83 L221.5 130.80 L222.0 130.77 L222.5 130.73 L223.0 130.70 L223.5 130.67 L224.0 130.64 L224.5 130.61 L225.0 130.58 L225.5 130.55 L226.0 130.52 L226.5 130.49 L227.0 130.46 L227.5 130.43 L228.0 130.41 L228.5 130.38 L229.0 130.35 L229.5 130.33 L230.0 130.30 L230.5 130.28 L231.0 130.25 L231.5 130.22 L232.0 130.20 L232.5 130.17 L233.0 130.15 L233.5 130.12 L234.0 130.10 M126.5 126.90 L127.0 127.24 L127.5 127.77 L128.0 128.46 L128.5 129.51 L129.0 130.57 L129.5 131.45 L130.0 132.29 L130.5 133.09 L131.0 133.87 L131.5 134.63 L132.0 135.38 L132.5 136.13 L133.0 136.87 L133.5 137.64 L134.0 138.40 L134.5 139.16 L135.0 139.88 L135.5 140.56 L136.0 141.17 L136.5 141.71 L137.0 142.21 L137.5 142.67 L138.0 143.11 L138.5 143.52 L139.0 143.92 L139.5 144.32 L140.0 144.73 L140.5 145.08 L141.0 145.33 L141.5 145.50 L142.0 145.65 L142.5 145.77 L143.0 145.86 L143.5 145.90 L144.0 145.89 L144.5 145.85 L145.0 145.80 L145.5 145.72 L146.0 145.63 L146.5 145.53 L147.0 145.43 L147.5 145.33 L148.0 145.22 L148.5 145.08 L149.0 144.93 L149.5 144.77 L150.0 144.59 L150.5 144.42 L151.0 144.24 L151.5 144.07 L152.0 143.91 L152.5 143.74 L153.0 143.58 L153.5 143.42 L154.0 143.25 L154.5 143.08 L155.0 142.92 L155.5 142.75 L156.0 142.58 L156.5 142.42 L157.0 142.25 L157.5 142.09 L158.0 141.92 L158.5 141.76 L159.0 141.59 L159.5 141.43 L160.0 141.27 L160.5 141.11 L161.0 140.95 L161.5 140.79 L162.0 140.63 L162.5 140.47 L163.0 140.30 L163.5 140.14 L164.0 139.98 L164.5 139.81 L165.0 139.65 L165.5 139.49 L166.0 139.33 L166.5 139.17 L167.0 139.01 L167.5 138.85 L168.0 138.69 L168.5 138.53 L169.0 138.38 L169.5 138.22 L170.0 138.07 L170.5 137.92 L171.0 137.77 L171.5 137.63 L172.0 137.49 L172.5 137.34 L173.0 137.21 L173.5 137.07 L174.0 136.94 L174.5 136.81 L175.0 136.68 L175.5 136.56 L176.0 136.43 L176.5 136.31 L177.0 136.19 L177.5 136.08 L178.0 135.96 L178.5 135.84 L179.0 135.73 L179.5 135.62 L180.0 135.51 L180.5 135.40 L181.0 135.29 L181.5 135.18 L182.0 135.08 L182.5 134.97 L183.0 134.87 L183.5 134.76 L184.0 134.66 L184.5 134.56 L185.0 134.46 L185.5 134.36 L186.0 134.26 L186.5 134.16 L187.0 134.06 L187.5 133.97 L188.0 133.87 L188.5 133.77 L189.0 133.68 L189.5 133.58 L190.0 133.48 L190.5 133.39 L191.0 133.29 L191.5 133.20 L192.0 133.10 L192.5 133.00 L193.0 132.90 L193.5 132.80 L194.0 132.71 L194.5 132.61 L195.0 132.51 L195.5 132.41 L196.0 132.31 L196.5 132.22 L197.0 132.12 L197.5 132.02 L198.0 131.93 L198.5 131.83 L199.0 131.74 L199.5 131.65 L200.0 131.56 L200.5 131.47 L201.0 131.39 L201.5 131.30 L202.0 131.22 L202.5 131.14 L203.0 131.06 L203.5 130.98 L204.0 130.91 L204.5 130.84 L205.0 130.78 L205.5 130.71 L206.0 130.65 L206.5 130.59 L207.0 130.54 L207.5 130.49 L208.0 130.44 L208.5 130.39 L209.0 130.34 L209.5 130.30 L210.0 130.25 L210.5 130.21 L211.0 130.16 L211.5 130.12 L212.0 130.08 L212.5 130.04 L213.0 130.00 L213.5 129.96 L214.0 129.93 L214.5 129.89 L215.0 129.86 L215.5 129.82 L216.0 129.79 L216.5 129.76 L217.0 129.72 L217.5 129.69 L218.0 129.66 L218.5 129.63 L219.0 129.61 L219.5 129.58 L220.0 129.55 L220.5 129.52 L221.0 129.50 L221.5 129.47 L222.0 129.45 L222.5 129.43 L223.0 129.40 L223.5 129.38 L224.0 129.36 L224.5 129.34 L225.0 129.32 L225.5 129.30 L226.0 129.28 L226.5 129.26 L227.0 129.24 L227.5 129.22 L228.0 129.20 L228.5 129.18 L229.0 129.16 L229.5 129.15 L230.0 129.13 L230.5 129.11 L231.0 129.10 L231.5 129.08 L232.0 129.06 L232.5 129.05 L233.0 129.03 L233.5 129.02 L234.0 129.00 M126.5 126.90 L127.0 127.05 L127.5 127.28 L128.0 127.58 L128.5 128.04 L129.0 128.50 L129.5 128.89 L130.0 129.25 L130.5 129.61 L131.0 129.95 L131.5 130.28 L132.0 130.61 L132.5 130.93 L133.0 131.26 L133.5 131.59 L134.0 131.93 L134.5 132.26 L135.0 132.57 L135.5 132.87 L136.0 133.13 L136.5 133.37 L137.0 133.59 L137.5 133.79 L138.0 133.98 L138.5 134.16 L139.0 134.34 L139.5 134.51 L140.0 134.69 L140.5 134.84 L141.0 134.95 L141.5 135.02 L142.0 135.09 L142.5 135.14 L143.0 135.18 L143.5 135.20 L144.0 135.20 L144.5 135.18 L145.0 135.16 L145.5 135.13 L146.0 135.09 L146.5 135.05 L147.0 135.01 L147.5 134.97 L148.0 134.93 L148.5 134.88 L149.0 134.82 L149.5 134.75 L150.0 134.68 L150.5 134.61 L151.0 134.53 L151.5 134.46 L152.0 134.39 L152.5 134.32 L153.0 134.26 L153.5 134.19 L154.0 134.12 L154.5 134.05 L155.0 133.98 L155.5 133.92 L156.0 133.85 L156.5 133.78 L157.0 133.71 L157.5 133.64 L158.0 133.57 L158.5 133.50 L159.0 133.43 L159.5 133.37 L160.0 133.30 L160.5 133.23 L161.0 133.17 L161.5 133.10 L162.0 133.03 L162.5 132.97 L163.0 132.90 L163.5 132.83 L164.0 132.77 L164.5 132.70 L165.0 132.63 L165.5 132.56 L166.0 132.50 L166.5 132.43 L167.0 132.36 L167.5 132.30 L168.0 132.23 L168.5 132.16 L169.0 132.10 L169.5 132.03 L170.0 131.97 L170.5 131.90 L171.0 131.84 L171.5 131.78 L172.0 131.71 L172.5 131.65 L173.0 131.59 L173.5 131.53 L174.0 131.48 L174.5 131.42 L175.0 131.36 L175.5 131.31 L176.0 131.25 L176.5 131.20 L177.0 131.15 L177.5 131.10 L178.0 131.05 L178.5 131.00 L179.0 130.95 L179.5 130.90 L180.0 130.85 L180.5 130.80 L181.0 130.75 L181.5 130.71 L182.0 130.66 L182.5 130.62 L183.0 130.57 L183.5 130.53 L184.0 130.48 L184.5 130.44 L185.0 130.40 L185.5 130.35 L186.0 130.31 L186.5 130.27 L187.0 130.23 L187.5 130.19 L188.0 130.14 L188.5 130.10 L189.0 130.06 L189.5 130.02 L190.0 129.98 L190.5 129.94 L191.0 129.90 L191.5 129.86 L192.0 129.82 L192.5 129.78 L193.0 129.74 L193.5 129.70 L194.0 129.66 L194.5 129.62 L195.0 129.58 L195.5 129.54 L196.0 129.50 L196.5 129.46 L197.0 129.42 L197.5 129.38 L198.0 129.34 L198.5 129.30 L199.0 129.26 L199.5 129.22 L200.0 129.18 L200.5 129.14 L201.0 129.10 L201.5 129.06 L202.0 129.02 L202.5 128.98 L203.0 128.95 L203.5 128.91 L204.0 128.87 L204.5 128.84 L205.0 128.80 L205.5 128.77 L206.0 128.74 L206.5 128.70 L207.0 128.67 L207.5 128.64 L208.0 128.62 L208.5 128.59 L209.0 128.56 L209.5 128.54 L210.0 128.51 L210.5 128.49 L211.0 128.47 L211.5 128.45 L212.0 128.43 L212.5 128.41 L213.0 128.39 L213.5 128.37 L214.0 128.35 L214.5 128.33 L215.0 128.32 L215.5 128.30 L216.0 128.28 L216.5 128.27 L217.0 128.25 L217.5 128.24 L218.0 128.22 L218.5 128.21 L219.0 128.19 L219.5 128.18 L220.0 128.16 L220.5 128.15 L221.0 128.14 L221.5 128.12 L222.0 128.11 L222.5 128.10 L223.0 128.09 L223.5 128.07 L224.0 128.06 L224.5 128.05 L225.0 128.04 L225.5 128.03 L226.0 128.02 L226.5 128.01 L227.0 128.00 L227.5 127.99 L228.0 127.98 L228.5 127.97 L229.0 127.96 L229.5 127.96 L230.0 127.95 L230.5 127.94 L231.0 127.93 L231.5 127.92 L232.0 127.92 L232.5 127.91 L233.0 127.90 L233.5 127.89 L234.0 127.89 M126.5 126.90 L127.0 126.97 L127.5 127.08 L128.0 127.23 L128.5 127.45 L129.0 127.67 L129.5 127.86 L130.0 128.03 L130.5 128.20 L131.0 128.37 L131.5 128.53 L132.0 128.69 L132.5 128.84 L133.0 129.00 L133.5 129.16 L134.0 129.32 L134.5 129.48 L135.0 129.63 L135.5 129.78 L136.0 129.90 L136.5 130.02 L137.0 130.12 L137.5 130.22 L138.0 130.31 L138.5 130.40 L139.0 130.48 L139.5 130.57 L140.0 130.65 L140.5 130.73 L141.0 130.78 L141.5 130.82 L142.0 130.85 L142.5 130.87 L143.0 130.89 L143.5 130.90 L144.0 130.90 L144.5 130.89 L145.0 130.88 L145.5 130.87 L146.0 130.85 L146.5 130.83 L147.0 130.81 L147.5 130.79 L148.0 130.77 L148.5 130.75 L149.0 130.72 L149.5 130.69 L150.0 130.66 L150.5 130.62 L151.0 130.59 L151.5 130.56 L152.0 130.52 L152.5 130.49 L153.0 130.46 L153.5 130.43 L154.0 130.39 L154.5 130.36 L155.0 130.33 L155.5 130.30 L156.0 130.26 L156.5 130.23 L157.0 130.20 L157.5 130.17 L158.0 130.13 L158.5 130.10 L159.0 130.07 L159.5 130.04 L160.0 130.01 L160.5 129.97 L161.0 129.94 L161.5 129.91 L162.0 129.88 L162.5 129.85 L163.0 129.82 L163.5 129.79 L164.0 129.75 L164.5 129.72 L165.0 129.69 L165.5 129.66 L166.0 129.63 L166.5 129.60 L167.0 129.56 L167.5 129.53 L168.0 129.50 L168.5 129.47 L169.0 129.44 L169.5 129.41 L170.0 129.38 L170.5 129.35 L171.0 129.32 L171.5 129.29 L172.0 129.26 L172.5 129.23 L173.0 129.20 L173.5 129.17 L174.0 129.14 L174.5 129.11 L175.0 129.09 L175.5 129.06 L176.0 129.03 L176.5 129.01 L177.0 128.98 L177.5 128.96 L178.0 128.93 L178.5 128.91 L179.0 128.88 L179.5 128.86 L180.0 128.84 L180.5 128.82 L181.0 128.79 L181.5 128.77 L182.0 128.75 L182.5 128.73 L183.0 128.71 L183.5 128.68 L184.0 128.66 L184.5 128.64 L185.0 128.62 L185.5 128.60 L186.0 128.58 L186.5 128.56 L187.0 128.54 L187.5 128.52 L188.0 128.50 L188.5 128.48 L189.0 128.46 L189.5 128.44 L190.0 128.42 L190.5 128.40 L191.0 128.38 L191.5 128.37 L192.0 128.35 L192.5 128.33 L193.0 128.31 L193.5 128.29 L194.0 128.27 L194.5 128.25 L195.0 128.23 L195.5 128.22 L196.0 128.20 L196.5 128.18 L197.0 128.16 L197.5 128.14 L198.0 128.12 L198.5 128.10 L199.0 128.08 L199.5 128.06 L200.0 128.04 L200.5 128.02 L201.0 128.00 L201.5 127.99 L202.0 127.97 L202.5 127.95 L203.0 127.93 L203.5 127.91 L204.0 127.89 L204.5 127.88 L205.0 127.86 L205.5 127.84 L206.0 127.83 L206.5 127.81 L207.0 127.80 L207.5 127.78 L208.0 127.76 L208.5 127.75 L209.0 127.74 L209.5 127.72 L210.0 127.71 L210.5 127.70 L211.0 127.69 L211.5 127.68 L212.0 127.66 L212.5 127.65 L213.0 127.65 L213.5 127.64 L214.0 127.63 L214.5 127.62 L215.0 127.61 L215.5 127.60 L216.0 127.59 L216.5 127.58 L217.0 127.58 L217.5 127.57 L218.0 127.56 L218.5 127.55 L219.0 127.54 L219.5 127.54 L220.0 127.53 L220.5 127.52 L221.0 127.52 L221.5 127.51 L222.0 127.50 L222.5 127.50 L223.0 127.49 L223.5 127.49 L224.0 127.48 L224.5 127.47 L225.0 127.47 L225.5 127.46 L226.0 127.46 L226.5 127.45 L227.0 127.45 L227.5 127.44 L228.0 127.44 L228.5 127.43 L229.0 127.43 L229.5 127.42 L230.0 127.42 L230.5 127.42 L231.0 127.41 L231.5 127.41 L232.0 127.40 L232.5 127.40 L233.0 127.40 L233.5 127.39 L234.0 127.39 M126.5 126.90 L127.0 126.94 L127.5 126.99 L128.0 127.06 L128.5 127.17 L129.0 127.29 L129.5 127.38 L130.0 127.47 L130.5 127.55 L131.0 127.63 L131.5 127.71 L132.0 127.79 L132.5 127.87 L133.0 127.95 L133.5 128.03 L134.0 128.11 L134.5 128.19 L135.0 128.27 L135.5 128.34 L136.0 128.40 L136.5 128.46 L137.0 128.51 L137.5 128.56 L138.0 128.61 L138.5 128.65 L139.0 128.69 L139.5 128.73 L140.0 128.78 L140.5 128.81 L141.0 128.84 L141.5 128.86 L142.0 128.87 L142.5 128.89 L143.0 128.90 L143.5 128.90 L144.0 128.90 L144.5 128.90 L145.0 128.89 L145.5 128.88 L146.0 128.88 L146.5 128.87 L147.0 128.86 L147.5 128.85 L148.0 128.84 L148.5 128.83 L149.0 128.81 L149.5 128.80 L150.0 128.78 L150.5 128.76 L151.0 128.75 L151.5 128.73 L152.0 128.71 L152.5 128.70 L153.0 128.68 L153.5 128.67 L154.0 128.65 L154.5 128.63 L155.0 128.62 L155.5 128.60 L156.0 128.59 L156.5 128.57 L157.0 128.55 L157.5 128.54 L158.0 128.52 L158.5 128.51 L159.0 128.49 L159.5 128.47 L160.0 128.46 L160.5 128.44 L161.0 128.43 L161.5 128.41 L162.0 128.40 L162.5 128.38 L163.0 128.36 L163.5 128.35 L164.0 128.33 L164.5 128.32 L165.0 128.30 L165.5 128.29 L166.0 128.27 L166.5 128.25 L167.0 128.24 L167.5 128.22 L168.0 128.21 L168.5 128.19 L169.0 128.18 L169.5 128.16 L170.0 128.15 L170.5 128.13 L171.0 128.12 L171.5 128.10 L172.0 128.09 L172.5 128.07 L173.0 128.06 L173.5 128.04 L174.0 128.03 L174.5 128.01 L175.0 128.00 L175.5 127.99 L176.0 127.97 L176.5 127.96 L177.0 127.95 L177.5 127.94 L178.0 127.92 L178.5 127.91 L179.0 127.90 L179.5 127.89 L180.0 127.88 L180.5 127.87 L181.0 127.85 L181.5 127.84 L182.0 127.83 L182.5 127.82 L183.0 127.81 L183.5 127.80 L184.0 127.79 L184.5 127.78 L185.0 127.77 L185.5 127.76 L186.0 127.75 L186.5 127.74 L187.0 127.73 L187.5 127.72 L188.0 127.71 L188.5 127.70 L189.0 127.69 L189.5 127.68 L190.0 127.67 L190.5 127.66 L191.0 127.65 L191.5 127.64 L192.0 127.63 L192.5 127.62 L193.0 127.61 L193.5 127.60 L194.0 127.59 L194.5 127.59 L195.0 127.58 L195.5 127.57 L196.0 127.56 L196.5 127.55 L197.0 127.54 L197.5 127.53 L198.0 127.52 L198.5 127.51 L199.0 127.50 L199.5 127.49 L200.0 127.48 L200.5 127.47 L201.0 127.46 L201.5 127.45 L202.0 127.44 L202.5 127.43 L203.0 127.43 L203.5 127.42 L204.0 127.41 L204.5 127.40 L205.0 127.39 L205.5 127.38 L206.0 127.37 L206.5 127.37 L207.0 127.36 L207.5 127.35 L208.0 127.34 L208.5 127.33 L209.0 127.33 L209.5 127.32 L210.0 127.31 L210.5 127.31 L211.0 127.30 L211.5 127.29 L212.0 127.29 L212.5 127.28 L213.0 127.28 L213.5 127.27 L214.0 127.27 L214.5 127.26 L215.0 127.26 L215.5 127.26 L216.0 127.25 L216.5 127.25 L217.0 127.24 L217.5 127.24 L218.0 127.24 L218.5 127.23 L219.0 127.23 L219.5 127.22 L220.0 127.22 L220.5 127.22 L221.0 127.21 L221.5 127.21 L222.0 127.21 L222.5 127.20 L223.0 127.20 L223.5 127.20 L224.0 127.19 L224.5 127.19 L225.0 127.19 L225.5 127.19 L226.0 127.18 L226.5 127.18 L227.0 127.18 L227.5 127.18 L228.0 127.17 L228.5 127.17 L229.0 127.17 L229.5 127.17 L230.0 127.16 L230.5 127.16 L231.0 127.16 L231.5 127.16 L232.0 127.16 L232.5 127.15 L233.0 127.15 L233.5 127.15 L234.0 127.15 M126.5 126.90 L127.0 126.92 L127.5 126.95 L128.0 126.98 L128.5 127.04 L129.0 127.09 L129.5 127.14 L130.0 127.18 L130.5 127.23 L131.0 127.27 L131.5 127.31 L132.0 127.35 L132.5 127.39 L133.0 127.42 L133.5 127.47 L134.0 127.51 L134.5 127.55 L135.0 127.58 L135.5 127.62 L136.0 127.65 L136.5 127.68 L137.0 127.71 L137.5 127.73 L138.0 127.75 L138.5 127.77 L139.0 127.80 L139.5 127.82 L140.0 127.84 L140.5 127.86 L141.0 127.87 L141.5 127.88 L142.0 127.89 L142.5 127.89 L143.0 127.90 L143.5 127.90 L144.0 127.90 L144.5 127.90 L145.0 127.90 L145.5 127.89 L146.0 127.89 L146.5 127.88 L147.0 127.88 L147.5 127.87 L148.0 127.87 L148.5 127.86 L149.0 127.86 L149.5 127.85 L150.0 127.84 L150.5 127.83 L151.0 127.82 L151.5 127.82 L152.0 127.81 L152.5 127.80 L153.0 127.79 L153.5 127.78 L154.0 127.78 L154.5 127.77 L155.0 127.76 L155.5 127.75 L156.0 127.74 L156.5 127.74 L157.0 127.73 L157.5 127.72 L158.0 127.71 L158.5 127.70 L159.0 127.70 L159.5 127.69 L160.0 127.68 L160.5 127.67 L161.0 127.66 L161.5 127.66 L162.0 127.65 L162.5 127.64 L163.0 127.63 L163.5 127.63 L164.0 127.62 L164.5 127.61 L165.0 127.60 L165.5 127.59 L166.0 127.59 L166.5 127.58 L167.0 127.57 L167.5 127.56 L168.0 127.56 L168.5 127.55 L169.0 127.54 L169.5 127.53 L170.0 127.52 L170.5 127.52 L171.0 127.51 L171.5 127.50 L172.0 127.49 L172.5 127.49 L173.0 127.48 L173.5 127.47 L174.0 127.47 L174.5 127.46 L175.0 127.45 L175.5 127.45 L176.0 127.44 L176.5 127.43 L177.0 127.43 L177.5 127.42 L178.0 127.41 L178.5 127.41 L179.0 127.40 L179.5 127.40 L180.0 127.39 L180.5 127.38 L181.0 127.38 L181.5 127.37 L182.0 127.37 L182.5 127.36 L183.0 127.36 L183.5 127.35 L184.0 127.35 L184.5 127.34 L185.0 127.34 L185.5 127.33 L186.0 127.33 L186.5 127.32 L187.0 127.32 L187.5 127.31 L188.0 127.31 L188.5 127.30 L189.0 127.30 L189.5 127.29 L190.0 127.29 L190.5 127.28 L191.0 127.28 L191.5 127.27 L192.0 127.27 L192.5 127.26 L193.0 127.26 L193.5 127.25 L194.0 127.25 L194.5 127.25 L195.0 127.24 L195.5 127.24 L196.0 127.23 L196.5 127.23 L197.0 127.22 L197.5 127.22 L198.0 127.21 L198.5 127.21 L199.0 127.20 L199.5 127.20 L200.0 127.19 L200.5 127.19 L201.0 127.18 L201.5 127.18 L202.0 127.17 L202.5 127.17 L203.0 127.17 L203.5 127.16 L204.0 127.16 L204.5 127.15 L205.0 127.15 L205.5 127.14 L206.0 127.14 L206.5 127.13 L207.0 127.13 L207.5 127.13 L208.0 127.12 L208.5 127.12 L209.0 127.12 L209.5 127.11 L210.0 127.11 L210.5 127.11 L211.0 127.10 L211.5 127.10 L212.0 127.10 L212.5 127.09 L213.0 127.09 L213.5 127.09 L214.0 127.09 L214.5 127.08 L215.0 127.08 L215.5 127.08 L216.0 127.08 L216.5 127.08 L217.0 127.07 L217.5 127.07 L218.0 127.07 L218.5 127.07 L219.0 127.07 L219.5 127.06 L220.0 127.06 L220.5 127.06 L221.0 127.06 L221.5 127.06 L222.0 127.05 L222.5 127.05 L223.0 127.05 L223.5 127.05 L224.0 127.05 L224.5 127.05 L225.0 127.05 L225.5 127.04 L226.0 127.04 L226.5 127.04 L227.0 127.04 L227.5 127.04 L228.0 127.04 L228.5 127.04 L229.0 127.03 L229.5 127.03 L230.0 127.03 L230.5 127.03 L231.0 127.03 L231.5 127.03 L232.0 127.03 L232.5 127.03 L233.0 127.03 L233.5 127.03 L234.0 127.02" fill="none" stroke="#000" stroke-width="1.25" stroke-linejoin="round" opacity="1"/>
<path d="M126 126.7 H234" fill="none" stroke="#000" stroke-width="2.6"/>
<path d="M34 202 H69" stroke="#000" stroke-width="2"/>
<text x="34" y="220" font-size="13" text-anchor="start" font-weight="normal" fill="#111" stroke="#111" stroke-width="0.4" stroke-linejoin="round" >30 ms</text>
<path d="M193 174.5 V202 H234" fill="none" stroke="#000" stroke-width="2"/>
<text x="199" y="194" font-size="13" text-anchor="start" font-weight="normal" fill="#111" stroke="#111" stroke-width="0.4" stroke-linejoin="round" >1 nA</text>
<text x="199.5" y="220" font-size="13" text-anchor="start" font-weight="normal" fill="#111" stroke="#111" stroke-width="0.4" stroke-linejoin="round" >1 ms</text>
<path d="M274.5 23.20 L275.0 26.23 L275.5 28.73 L276.0 30.98 L276.5 33.30 L277.0 36.02 L277.5 39.45 L278.0 43.81 L278.5 49.35 L279.0 57.72 L279.5 66.05 L280.0 72.58 L280.5 78.22 L281.0 82.35 L281.5 85.48 L282.0 88.12 L282.5 90.62 L283.0 93.37 L283.5 96.31 L284.0 98.93 L284.5 100.69 L285.0 102.03 L285.5 103.26 L286.0 104.30 L286.5 105.08 L287.0 105.52 L287.5 105.57 L288.0 105.26 L288.5 104.65 L289.0 103.84 L289.5 102.88 L290.0 101.85 L290.5 100.81 L291.0 99.78 L291.5 98.57 L292.0 97.20 L292.5 95.75 L293.0 94.26 L293.5 92.79 L294.0 91.40 L294.5 90.04 L295.0 88.68 L295.5 87.31 L296.0 85.95 L296.5 84.59 L297.0 83.26 L297.5 81.94 L298.0 80.65 L298.5 79.38 L299.0 78.13 L299.5 76.89 L300.0 75.66 L300.5 74.46 L301.0 73.27 L301.5 72.11 L302.0 70.97 L302.5 69.87 L303.0 68.77 L303.5 67.68 L304.0 66.59 L304.5 65.51 L305.0 64.44 L305.5 63.38 L306.0 62.34 L306.5 61.31 L307.0 60.29 L307.5 59.30 L308.0 58.33 L308.5 57.38 L309.0 56.45 L309.5 55.55 L310.0 54.68 L310.5 53.84 L311.0 53.03 L311.5 52.25 L312.0 51.48 L312.5 50.73 L313.0 49.99 L313.5 49.28 L314.0 48.59 L314.5 47.93 L315.0 47.29 L315.5 46.68 L316.0 46.10 L316.5 45.55 L317.0 45.03 L317.5 44.53 L318.0 44.04 L318.5 43.56 L319.0 43.10 L319.5 42.65 L320.0 42.22 L320.5 41.79 L321.0 41.38 L321.5 40.98 L322.0 40.58 L322.5 40.19 L323.0 39.81 L323.5 39.44 L324.0 39.07 L324.5 38.71 L325.0 38.35 L325.5 37.99 L326.0 37.63 L326.5 37.28 L327.0 36.93 L327.5 36.58 L328.0 36.24 L328.5 35.91 L329.0 35.59 L329.5 35.28 L330.0 34.98 L330.5 34.69 L331.0 34.42 L331.5 34.16 L332.0 33.91 L332.5 33.67 L333.0 33.43 L333.5 33.20 L334.0 32.97 L334.5 32.74 L335.0 32.53 L335.5 32.31 L336.0 32.11 L336.5 31.90 L337.0 31.71 L337.5 31.52 L338.0 31.34 L338.5 31.17 L339.0 31.00 L339.5 30.85 L340.0 30.70 L340.5 30.56 L341.0 30.43 L341.5 30.30 L342.0 30.18 L342.5 30.06 L343.0 29.95 L343.5 29.84 L344.0 29.73 L344.5 29.63 L345.0 29.53 L345.5 29.43 L346.0 29.34 L346.5 29.25 L347.0 29.16 L347.5 29.07 L348.0 28.99 L348.5 28.91 L349.0 28.83 L349.5 28.75 L350.0 28.67 L350.5 28.59 L351.0 28.52 L351.5 28.44 L352.0 28.37 L352.5 28.29 L353.0 28.22 L353.5 28.15 L354.0 28.08 L354.5 28.00 L355.0 27.93 L355.5 27.86 L356.0 27.79 L356.5 27.72 L357.0 27.65 L357.5 27.59 L358.0 27.52 L358.5 27.46 L359.0 27.40 L359.5 27.34 L360.0 27.28 L360.5 27.22 L361.0 27.17 L361.5 27.12 L362.0 27.07 L362.5 27.03 L363.0 26.98 L363.5 26.94 L364.0 26.91 L364.5 26.87 L365.0 26.84 L365.5 26.80 L366.0 26.77 L366.5 26.73 L367.0 26.70 L367.5 26.67 L368.0 26.63 L368.5 26.60 L369.0 26.57 L369.5 26.53 L370.0 26.50 L370.5 26.47 L371.0 26.44 L371.5 26.41 L372.0 26.38 L372.5 26.35 L373.0 26.32 L373.5 26.30 L374.0 26.27 L374.5 26.25 L375.0 26.22 L375.5 26.20 L376.0 26.18 L376.5 26.16 L377.0 26.14 L377.5 26.12 L378.0 26.10 L378.5 26.08 L379.0 26.07 L379.5 26.05 L380.0 26.04 L380.5 26.03 L381.0 26.02 L381.5 26.02 L382.0 26.01 L382.5 26.01 L383.0 26.00 L383.5 26.00 M274.5 23.20 L275.0 26.18 L275.5 28.64 L276.0 30.85 L276.5 33.14 L277.0 35.82 L277.5 39.19 L278.0 43.48 L278.5 48.94 L279.0 57.18 L279.5 65.37 L280.0 71.80 L280.5 77.35 L281.0 81.42 L281.5 84.50 L282.0 87.09 L282.5 89.56 L283.0 92.26 L283.5 95.16 L284.0 97.73 L284.5 99.46 L285.0 100.79 L285.5 101.99 L286.0 103.02 L286.5 103.78 L287.0 104.22 L287.5 104.27 L288.0 103.97 L288.5 103.38 L289.0 102.59 L289.5 101.66 L290.0 100.65 L290.5 99.64 L291.0 98.64 L291.5 97.47 L292.0 96.15 L292.5 94.74 L293.0 93.28 L293.5 91.85 L294.0 90.48 L294.5 89.15 L295.0 87.82 L295.5 86.49 L296.0 85.16 L296.5 83.84 L297.0 82.53 L297.5 81.24 L298.0 79.97 L298.5 78.73 L299.0 77.51 L299.5 76.30 L300.0 75.10 L300.5 73.92 L301.0 72.75 L301.5 71.61 L302.0 70.50 L302.5 69.41 L303.0 68.34 L303.5 67.28 L304.0 66.21 L304.5 65.16 L305.0 64.11 L305.5 63.07 L306.0 62.05 L306.5 61.04 L307.0 60.05 L307.5 59.07 L308.0 58.11 L308.5 57.18 L309.0 56.26 L309.5 55.38 L310.0 54.52 L310.5 53.68 L311.0 52.88 L311.5 52.11 L312.0 51.35 L312.5 50.61 L313.0 49.89 L313.5 49.18 L314.0 48.50 L314.5 47.84 L315.0 47.21 L315.5 46.60 L316.0 46.02 L316.5 45.47 L317.0 44.95 L317.5 44.45 L318.0 43.96 L318.5 43.49 L319.0 43.03 L319.5 42.59 L320.0 42.16 L320.5 41.74 L321.0 41.33 L321.5 40.93 L322.0 40.54 L322.5 40.16 L323.0 39.78 L323.5 39.41 L324.0 39.05 L324.5 38.69 L325.0 38.34 L325.5 37.99 L326.0 37.64 L326.5 37.29 L327.0 36.95 L327.5 36.60 L328.0 36.27 L328.5 35.94 L329.0 35.62 L329.5 35.31 L330.0 35.01 L330.5 34.72 L331.0 34.44 L331.5 34.18 L332.0 33.93 L332.5 33.69 L333.0 33.46 L333.5 33.22 L334.0 33.00 L334.5 32.77 L335.0 32.56 L335.5 32.34 L336.0 32.14 L336.5 31.93 L337.0 31.74 L337.5 31.55 L338.0 31.37 L338.5 31.19 L339.0 31.02 L339.5 30.86 L340.0 30.71 L340.5 30.57 L341.0 30.43 L341.5 30.30 L342.0 30.18 L342.5 30.06 L343.0 29.95 L343.5 29.84 L344.0 29.73 L344.5 29.63 L345.0 29.53 L345.5 29.43 L346.0 29.34 L346.5 29.25 L347.0 29.16 L347.5 29.07 L348.0 28.98 L348.5 28.90 L349.0 28.82 L349.5 28.74 L350.0 28.67 L350.5 28.59 L351.0 28.51 L351.5 28.44 L352.0 28.37 L352.5 28.29 L353.0 28.22 L353.5 28.15 L354.0 28.08 L354.5 28.01 L355.0 27.94 L355.5 27.87 L356.0 27.80 L356.5 27.73 L357.0 27.66 L357.5 27.60 L358.0 27.53 L358.5 27.47 L359.0 27.41 L359.5 27.35 L360.0 27.29 L360.5 27.23 L361.0 27.18 L361.5 27.12 L362.0 27.07 L362.5 27.02 L363.0 26.98 L363.5 26.94 L364.0 26.90 L364.5 26.86 L365.0 26.83 L365.5 26.79 L366.0 26.76 L366.5 26.73 L367.0 26.69 L367.5 26.66 L368.0 26.62 L368.5 26.59 L369.0 26.56 L369.5 26.53 L370.0 26.50 L370.5 26.46 L371.0 26.43 L371.5 26.40 L372.0 26.37 L372.5 26.34 L373.0 26.32 L373.5 26.29 L374.0 26.26 L374.5 26.24 L375.0 26.21 L375.5 26.19 L376.0 26.16 L376.5 26.14 L377.0 26.12 L377.5 26.10 L378.0 26.08 L378.5 26.06 L379.0 26.05 L379.5 26.03 L380.0 26.02 L380.5 26.00 L381.0 25.99 L381.5 25.98 L382.0 25.98 L382.5 25.97 L383.0 25.96 L383.5 25.96 M274.5 23.20 L275.0 26.09 L275.5 28.46 L276.0 30.61 L276.5 32.82 L277.0 35.41 L277.5 38.68 L278.0 42.83 L278.5 48.12 L279.0 56.09 L279.5 64.02 L280.0 70.24 L280.5 75.61 L281.0 79.55 L281.5 82.53 L282.0 85.04 L282.5 87.43 L283.0 90.05 L283.5 92.85 L284.0 95.34 L284.5 97.02 L285.0 98.30 L285.5 99.47 L286.0 100.46 L286.5 101.20 L287.0 101.63 L287.5 101.67 L288.0 101.39 L288.5 100.84 L289.0 100.10 L289.5 99.21 L290.0 98.26 L290.5 97.29 L291.0 96.35 L291.5 95.26 L292.0 94.02 L292.5 92.69 L293.0 91.31 L293.5 89.93 L294.0 88.62 L294.5 87.35 L295.0 86.09 L295.5 84.82 L296.0 83.55 L296.5 82.29 L297.0 81.04 L297.5 79.81 L298.0 78.59 L298.5 77.41 L299.0 76.24 L299.5 75.08 L300.0 73.93 L300.5 72.80 L301.0 71.68 L301.5 70.59 L302.0 69.52 L302.5 68.47 L303.0 67.44 L303.5 66.43 L304.0 65.41 L304.5 64.41 L305.0 63.41 L305.5 62.41 L306.0 61.43 L306.5 60.46 L307.0 59.50 L307.5 58.56 L308.0 57.64 L308.5 56.73 L309.0 55.85 L309.5 54.99 L310.0 54.15 L310.5 53.34 L311.0 52.55 L311.5 51.80 L312.0 51.06 L312.5 50.34 L313.0 49.64 L313.5 48.95 L314.0 48.29 L314.5 47.64 L315.0 47.01 L315.5 46.41 L316.0 45.83 L316.5 45.28 L317.0 44.76 L317.5 44.26 L318.0 43.78 L318.5 43.32 L319.0 42.87 L319.5 42.44 L320.0 42.01 L320.5 41.60 L321.0 41.20 L321.5 40.81 L322.0 40.43 L322.5 40.05 L323.0 39.69 L323.5 39.33 L324.0 38.98 L324.5 38.63 L325.0 38.29 L325.5 37.95 L326.0 37.62 L326.5 37.28 L327.0 36.95 L327.5 36.62 L328.0 36.30 L328.5 35.98 L329.0 35.66 L329.5 35.35 L330.0 35.05 L330.5 34.76 L331.0 34.48 L331.5 34.21 L332.0 33.95 L332.5 33.71 L333.0 33.48 L333.5 33.25 L334.0 33.03 L334.5 32.81 L335.0 32.60 L335.5 32.39 L336.0 32.18 L336.5 31.98 L337.0 31.79 L337.5 31.60 L338.0 31.41 L338.5 31.23 L339.0 31.06 L339.5 30.90 L340.0 30.74 L340.5 30.59 L341.0 30.44 L341.5 30.31 L342.0 30.18 L342.5 30.06 L343.0 29.94 L343.5 29.83 L344.0 29.72 L344.5 29.62 L345.0 29.52 L345.5 29.42 L346.0 29.32 L346.5 29.23 L347.0 29.14 L347.5 29.05 L348.0 28.97 L348.5 28.89 L349.0 28.81 L349.5 28.73 L350.0 28.65 L350.5 28.58 L351.0 28.50 L351.5 28.43 L352.0 28.36 L352.5 28.29 L353.0 28.22 L353.5 28.15 L354.0 28.08 L354.5 28.01 L355.0 27.94 L355.5 27.88 L356.0 27.81 L356.5 27.74 L357.0 27.68 L357.5 27.61 L358.0 27.55 L358.5 27.48 L359.0 27.42 L359.5 27.36 L360.0 27.30 L360.5 27.24 L361.0 27.18 L361.5 27.13 L362.0 27.08 L362.5 27.02 L363.0 26.98 L363.5 26.93 L364.0 26.88 L364.5 26.84 L365.0 26.80 L365.5 26.77 L366.0 26.73 L366.5 26.70 L367.0 26.67 L367.5 26.64 L368.0 26.60 L368.5 26.57 L369.0 26.54 L369.5 26.51 L370.0 26.48 L370.5 26.45 L371.0 26.42 L371.5 26.39 L372.0 26.36 L372.5 26.33 L373.0 26.30 L373.5 26.27 L374.0 26.24 L374.5 26.22 L375.0 26.19 L375.5 26.16 L376.0 26.14 L376.5 26.11 L377.0 26.09 L377.5 26.07 L378.0 26.05 L378.5 26.03 L379.0 26.01 L379.5 25.99 L380.0 25.97 L380.5 25.96 L381.0 25.94 L381.5 25.93 L382.0 25.92 L382.5 25.91 L383.0 25.90 L383.5 25.89 M274.5 23.20 L275.0 25.97 L275.5 28.26 L276.0 30.32 L276.5 32.44 L277.0 34.93 L277.5 38.07 L278.0 42.06 L278.5 47.13 L279.0 54.79 L279.5 62.41 L280.0 68.39 L280.5 73.54 L281.0 77.33 L281.5 80.19 L282.0 82.60 L282.5 84.90 L283.0 87.41 L283.5 90.10 L284.0 92.49 L284.5 94.10 L285.0 95.33 L285.5 96.46 L286.0 97.41 L286.5 98.12 L287.0 98.53 L287.5 98.57 L288.0 98.31 L288.5 97.80 L289.0 97.11 L289.5 96.29 L290.0 95.39 L290.5 94.48 L291.0 93.60 L291.5 92.60 L292.0 91.45 L292.5 90.21 L293.0 88.92 L293.5 87.62 L294.0 86.36 L294.5 85.17 L295.0 83.97 L295.5 82.78 L296.0 81.58 L296.5 80.39 L297.0 79.21 L297.5 78.05 L298.0 76.90 L298.5 75.77 L299.0 74.66 L299.5 73.56 L300.0 72.48 L300.5 71.40 L301.0 70.35 L301.5 69.31 L302.0 68.28 L302.5 67.28 L303.0 66.31 L303.5 65.35 L304.0 64.39 L304.5 63.44 L305.0 62.49 L305.5 61.55 L306.0 60.62 L306.5 59.70 L307.0 58.78 L307.5 57.89 L308.0 57.00 L308.5 56.14 L309.0 55.29 L309.5 54.46 L310.0 53.65 L310.5 52.86 L311.0 52.10 L311.5 51.36 L312.0 50.65 L312.5 49.96 L313.0 49.28 L313.5 48.62 L314.0 47.97 L314.5 47.34 L315.0 46.73 L315.5 46.14 L316.0 45.57 L316.5 45.02 L317.0 44.50 L317.5 44.00 L318.0 43.53 L318.5 43.08 L319.0 42.64 L319.5 42.21 L320.0 41.80 L320.5 41.40 L321.0 41.01 L321.5 40.62 L322.0 40.25 L322.5 39.89 L323.0 39.54 L323.5 39.19 L324.0 38.85 L324.5 38.51 L325.0 38.18 L325.5 37.86 L326.0 37.54 L326.5 37.22 L327.0 36.91 L327.5 36.60 L328.0 36.29 L328.5 35.98 L329.0 35.67 L329.5 35.37 L330.0 35.08 L330.5 34.79 L331.0 34.51 L331.5 34.23 L332.0 33.97 L332.5 33.72 L333.0 33.48 L333.5 33.26 L334.0 33.04 L334.5 32.83 L335.0 32.62 L335.5 32.41 L336.0 32.21 L336.5 32.01 L337.0 31.82 L337.5 31.63 L338.0 31.45 L338.5 31.27 L339.0 31.10 L339.5 30.93 L340.0 30.76 L340.5 30.61 L341.0 30.46 L341.5 30.32 L342.0 30.18 L342.5 30.05 L343.0 29.93 L343.5 29.81 L344.0 29.70 L344.5 29.60 L345.0 29.50 L345.5 29.40 L346.0 29.30 L346.5 29.21 L347.0 29.12 L347.5 29.03 L348.0 28.94 L348.5 28.86 L349.0 28.78 L349.5 28.70 L350.0 28.62 L350.5 28.55 L351.0 28.47 L351.5 28.40 L352.0 28.33 L352.5 28.26 L353.0 28.19 L353.5 28.13 L354.0 28.06 L354.5 28.00 L355.0 27.93 L355.5 27.87 L356.0 27.80 L356.5 27.74 L357.0 27.68 L357.5 27.61 L358.0 27.55 L358.5 27.49 L359.0 27.43 L359.5 27.37 L360.0 27.31 L360.5 27.25 L361.0 27.19 L361.5 27.13 L362.0 27.08 L362.5 27.03 L363.0 26.97 L363.5 26.92 L364.0 26.88 L364.5 26.83 L365.0 26.78 L365.5 26.74 L366.0 26.70 L366.5 26.67 L367.0 26.63 L367.5 26.60 L368.0 26.57 L368.5 26.54 L369.0 26.51 L369.5 26.48 L370.0 26.45 L370.5 26.42 L371.0 26.39 L371.5 26.36 L372.0 26.33 L372.5 26.30 L373.0 26.27 L373.5 26.24 L374.0 26.21 L374.5 26.19 L375.0 26.16 L375.5 26.13 L376.0 26.11 L376.5 26.08 L377.0 26.06 L377.5 26.04 L378.0 26.01 L378.5 25.99 L379.0 25.97 L379.5 25.95 L380.0 25.93 L380.5 25.91 L381.0 25.89 L381.5 25.88 L382.0 25.86 L382.5 25.85 L383.0 25.83 L383.5 25.82 M274.5 23.20 L275.0 25.86 L275.5 28.05 L276.0 30.02 L276.5 32.06 L277.0 34.45 L277.5 37.46 L278.0 41.28 L278.5 46.15 L279.0 53.49 L279.5 60.80 L280.0 66.53 L280.5 71.47 L281.0 75.10 L281.5 77.85 L282.0 80.16 L282.5 82.36 L283.0 84.77 L283.5 87.35 L284.0 89.64 L284.5 91.19 L285.0 92.37 L285.5 93.44 L286.0 94.36 L286.5 95.04 L287.0 95.43 L287.5 95.48 L288.0 95.23 L288.5 94.76 L289.0 94.12 L289.5 93.36 L290.0 92.52 L290.5 91.66 L291.0 90.83 L291.5 89.91 L292.0 88.86 L292.5 87.70 L293.0 86.49 L293.5 85.27 L294.0 84.07 L294.5 82.94 L295.0 81.82 L295.5 80.69 L296.0 79.57 L296.5 78.45 L297.0 77.34 L297.5 76.23 L298.0 75.14 L298.5 74.07 L299.0 73.02 L299.5 71.99 L300.0 70.96 L300.5 69.95 L301.0 68.95 L301.5 67.96 L302.0 66.99 L302.5 66.03 L303.0 65.10 L303.5 64.19 L304.0 63.29 L304.5 62.39 L305.0 61.50 L305.5 60.61 L306.0 59.73 L306.5 58.85 L307.0 57.99 L307.5 57.13 L308.0 56.29 L308.5 55.46 L309.0 54.65 L309.5 53.86 L310.0 53.08 L310.5 52.32 L311.0 51.58 L311.5 50.87 L312.0 50.17 L312.5 49.51 L313.0 48.86 L313.5 48.22 L314.0 47.60 L314.5 46.99 L315.0 46.39 L315.5 45.82 L316.0 45.26 L316.5 44.72 L317.0 44.20 L317.5 43.71 L318.0 43.24 L318.5 42.79 L319.0 42.36 L319.5 41.94 L320.0 41.54 L320.5 41.15 L321.0 40.77 L321.5 40.39 L322.0 40.03 L322.5 39.68 L323.0 39.34 L323.5 39.00 L324.0 38.67 L324.5 38.35 L325.0 38.03 L325.5 37.72 L326.0 37.41 L326.5 37.11 L327.0 36.81 L327.5 36.51 L328.0 36.22 L328.5 35.93 L329.0 35.63 L329.5 35.35 L330.0 35.06 L330.5 34.78 L331.0 34.50 L331.5 34.23 L332.0 33.97 L332.5 33.72 L333.0 33.47 L333.5 33.24 L334.0 33.02 L334.5 32.81 L335.0 32.61 L335.5 32.41 L336.0 32.21 L336.5 32.02 L337.0 31.83 L337.5 31.64 L338.0 31.46 L338.5 31.28 L339.0 31.11 L339.5 30.94 L340.0 30.78 L340.5 30.62 L341.0 30.47 L341.5 30.32 L342.0 30.18 L342.5 30.04 L343.0 29.91 L343.5 29.79 L344.0 29.67 L344.5 29.57 L345.0 29.46 L345.5 29.36 L346.0 29.26 L346.5 29.17 L347.0 29.08 L347.5 28.99 L348.0 28.90 L348.5 28.82 L349.0 28.74 L349.5 28.66 L350.0 28.58 L350.5 28.51 L351.0 28.43 L351.5 28.36 L352.0 28.29 L352.5 28.22 L353.0 28.16 L353.5 28.09 L354.0 28.03 L354.5 27.96 L355.0 27.90 L355.5 27.84 L356.0 27.78 L356.5 27.72 L357.0 27.66 L357.5 27.60 L358.0 27.54 L358.5 27.48 L359.0 27.42 L359.5 27.36 L360.0 27.30 L360.5 27.24 L361.0 27.19 L361.5 27.13 L362.0 27.07 L362.5 27.02 L363.0 26.97 L363.5 26.92 L364.0 26.87 L364.5 26.82 L365.0 26.77 L365.5 26.73 L366.0 26.68 L366.5 26.64 L367.0 26.60 L367.5 26.56 L368.0 26.53 L368.5 26.49 L369.0 26.46 L369.5 26.43 L370.0 26.41 L370.5 26.38 L371.0 26.35 L371.5 26.32 L372.0 26.29 L372.5 26.26 L373.0 26.24 L373.5 26.21 L374.0 26.18 L374.5 26.15 L375.0 26.13 L375.5 26.10 L376.0 26.08 L376.5 26.05 L377.0 26.03 L377.5 26.00 L378.0 25.98 L378.5 25.95 L379.0 25.93 L379.5 25.91 L380.0 25.89 L380.5 25.87 L381.0 25.85 L381.5 25.83 L382.0 25.81 L382.5 25.79 L383.0 25.78 L383.5 25.76 M274.5 23.20 L275.0 25.71 L275.5 27.79 L276.0 29.66 L276.5 31.59 L277.0 33.84 L277.5 36.69 L278.0 40.31 L278.5 44.91 L279.0 51.86 L279.5 58.77 L280.0 64.19 L280.5 68.87 L281.0 72.30 L281.5 74.90 L282.0 77.09 L282.5 79.17 L283.0 81.45 L283.5 83.89 L284.0 86.06 L284.5 87.52 L285.0 88.64 L285.5 89.66 L286.0 90.52 L286.5 91.16 L287.0 91.54 L287.5 91.58 L288.0 91.36 L288.5 90.93 L289.0 90.35 L289.5 89.65 L290.0 88.88 L290.5 88.09 L291.0 87.32 L291.5 86.50 L292.0 85.55 L292.5 84.50 L293.0 83.39 L293.5 82.26 L294.0 81.14 L294.5 80.07 L295.0 79.04 L295.5 78.01 L296.0 76.97 L296.5 75.93 L297.0 74.90 L297.5 73.88 L298.0 72.86 L298.5 71.87 L299.0 70.89 L299.5 69.93 L300.0 68.97 L300.5 68.03 L301.0 67.09 L301.5 66.17 L302.0 65.27 L302.5 64.37 L303.0 63.50 L303.5 62.64 L304.0 61.80 L304.5 60.97 L305.0 60.14 L305.5 59.32 L306.0 58.50 L306.5 57.68 L307.0 56.88 L307.5 56.08 L308.0 55.29 L308.5 54.51 L309.0 53.75 L309.5 53.00 L310.0 52.26 L310.5 51.54 L311.0 50.84 L311.5 50.16 L312.0 49.49 L312.5 48.85 L313.0 48.23 L313.5 47.62 L314.0 47.03 L314.5 46.45 L315.0 45.89 L315.5 45.33 L316.0 44.80 L316.5 44.27 L317.0 43.77 L317.5 43.28 L318.0 42.82 L318.5 42.37 L319.0 41.94 L319.5 41.54 L320.0 41.15 L320.5 40.77 L321.0 40.40 L321.5 40.04 L322.0 39.69 L322.5 39.36 L323.0 39.02 L323.5 38.70 L324.0 38.38 L324.5 38.08 L325.0 37.77 L325.5 37.48 L326.0 37.18 L326.5 36.90 L327.0 36.61 L327.5 36.33 L328.0 36.06 L328.5 35.78 L329.0 35.51 L329.5 35.24 L330.0 34.97 L330.5 34.71 L331.0 34.44 L331.5 34.18 L332.0 33.93 L332.5 33.68 L333.0 33.43 L333.5 33.20 L334.0 32.97 L334.5 32.75 L335.0 32.54 L335.5 32.35 L336.0 32.16 L336.5 31.97 L337.0 31.79 L337.5 31.61 L338.0 31.44 L338.5 31.26 L339.0 31.09 L339.5 30.93 L340.0 30.77 L340.5 30.61 L341.0 30.45 L341.5 30.31 L342.0 30.16 L342.5 30.02 L343.0 29.89 L343.5 29.76 L344.0 29.64 L344.5 29.52 L345.0 29.41 L345.5 29.30 L346.0 29.20 L346.5 29.11 L347.0 29.01 L347.5 28.92 L348.0 28.84 L348.5 28.75 L349.0 28.67 L349.5 28.59 L350.0 28.51 L350.5 28.44 L351.0 28.37 L351.5 28.30 L352.0 28.23 L352.5 28.16 L353.0 28.09 L353.5 28.03 L354.0 27.96 L354.5 27.90 L355.0 27.84 L355.5 27.78 L356.0 27.72 L356.5 27.66 L357.0 27.61 L357.5 27.55 L358.0 27.49 L358.5 27.44 L359.0 27.38 L359.5 27.33 L360.0 27.27 L360.5 27.22 L361.0 27.16 L361.5 27.11 L362.0 27.06 L362.5 27.00 L363.0 26.95 L363.5 26.90 L364.0 26.85 L364.5 26.80 L365.0 26.75 L365.5 26.70 L366.0 26.66 L366.5 26.61 L367.0 26.57 L367.5 26.53 L368.0 26.49 L368.5 26.45 L369.0 26.41 L369.5 26.38 L370.0 26.35 L370.5 26.32 L371.0 26.29 L371.5 26.26 L372.0 26.23 L372.5 26.21 L373.0 26.18 L373.5 26.15 L374.0 26.13 L374.5 26.10 L375.0 26.08 L375.5 26.05 L376.0 26.03 L376.5 26.00 L377.0 25.98 L377.5 25.95 L378.0 25.93 L378.5 25.91 L379.0 25.88 L379.5 25.86 L380.0 25.84 L380.5 25.82 L381.0 25.79 L381.5 25.77 L382.0 25.75 L382.5 25.73 L383.0 25.72 L383.5 25.70 M274.5 23.20 L275.0 25.55 L275.5 27.49 L276.0 29.24 L276.5 31.05 L277.0 33.16 L277.5 35.82 L278.0 39.21 L278.5 43.51 L279.0 50.01 L279.5 56.48 L280.0 61.55 L280.5 65.93 L281.0 69.14 L281.5 71.57 L282.0 73.62 L282.5 75.57 L283.0 77.70 L283.5 79.99 L284.0 82.02 L284.5 83.38 L285.0 84.43 L285.5 85.38 L286.0 86.19 L286.5 86.79 L287.0 87.14 L287.5 87.18 L288.0 86.99 L288.5 86.61 L289.0 86.08 L289.5 85.46 L290.0 84.76 L290.5 84.04 L291.0 83.33 L291.5 82.61 L292.0 81.77 L292.5 80.83 L293.0 79.83 L293.5 78.80 L294.0 77.78 L294.5 76.78 L295.0 75.84 L295.5 74.90 L296.0 73.95 L296.5 73.01 L297.0 72.06 L297.5 71.13 L298.0 70.20 L298.5 69.28 L299.0 68.38 L299.5 67.49 L300.0 66.62 L300.5 65.75 L301.0 64.90 L301.5 64.05 L302.0 63.21 L302.5 62.39 L303.0 61.58 L303.5 60.78 L304.0 60.00 L304.5 59.24 L305.0 58.49 L305.5 57.73 L306.0 56.98 L306.5 56.23 L307.0 55.49 L307.5 54.75 L308.0 54.03 L308.5 53.31 L309.0 52.60 L309.5 51.90 L310.0 51.21 L310.5 50.54 L311.0 49.88 L311.5 49.24 L312.0 48.61 L312.5 48.00 L313.0 47.40 L313.5 46.83 L314.0 46.27 L314.5 45.73 L315.0 45.20 L315.5 44.68 L316.0 44.17 L316.5 43.67 L317.0 43.19 L317.5 42.72 L318.0 42.27 L318.5 41.83 L319.0 41.41 L319.5 41.01 L320.0 40.63 L320.5 40.26 L321.0 39.91 L321.5 39.57 L322.0 39.23 L322.5 38.91 L323.0 38.59 L323.5 38.28 L324.0 37.98 L324.5 37.69 L325.0 37.40 L325.5 37.12 L326.0 36.84 L326.5 36.57 L327.0 36.31 L327.5 36.04 L328.0 35.79 L328.5 35.53 L329.0 35.28 L329.5 35.03 L330.0 34.78 L330.5 34.53 L331.0 34.29 L331.5 34.04 L332.0 33.80 L332.5 33.56 L333.0 33.33 L333.5 33.10 L334.0 32.87 L334.5 32.66 L335.0 32.45 L335.5 32.24 L336.0 32.05 L336.5 31.86 L337.0 31.69 L337.5 31.52 L338.0 31.35 L338.5 31.18 L339.0 31.02 L339.5 30.86 L340.0 30.71 L340.5 30.55 L341.0 30.40 L341.5 30.25 L342.0 30.11 L342.5 29.97 L343.0 29.84 L343.5 29.71 L344.0 29.58 L344.5 29.46 L345.0 29.34 L345.5 29.23 L346.0 29.12 L346.5 29.02 L347.0 28.92 L347.5 28.83 L348.0 28.74 L348.5 28.66 L349.0 28.58 L349.5 28.50 L350.0 28.42 L350.5 28.34 L351.0 28.27 L351.5 28.20 L352.0 28.13 L352.5 28.06 L353.0 28.00 L353.5 27.93 L354.0 27.87 L354.5 27.81 L355.0 27.75 L355.5 27.69 L356.0 27.63 L356.5 27.58 L357.0 27.52 L357.5 27.47 L358.0 27.42 L358.5 27.36 L359.0 27.31 L359.5 27.26 L360.0 27.21 L360.5 27.16 L361.0 27.11 L361.5 27.06 L362.0 27.01 L362.5 26.96 L363.0 26.91 L363.5 26.86 L364.0 26.81 L364.5 26.76 L365.0 26.71 L365.5 26.66 L366.0 26.62 L366.5 26.57 L367.0 26.53 L367.5 26.49 L368.0 26.44 L368.5 26.40 L369.0 26.36 L369.5 26.33 L370.0 26.29 L370.5 26.25 L371.0 26.22 L371.5 26.19 L372.0 26.16 L372.5 26.13 L373.0 26.10 L373.5 26.08 L374.0 26.05 L374.5 26.03 L375.0 26.00 L375.5 25.98 L376.0 25.96 L376.5 25.93 L377.0 25.91 L377.5 25.89 L378.0 25.86 L378.5 25.84 L379.0 25.82 L379.5 25.79 L380.0 25.77 L380.5 25.75 L381.0 25.73 L381.5 25.71 L382.0 25.69 L382.5 25.67 L383.0 25.65 L383.5 25.63 M274.5 23.20 L275.0 25.38 L275.5 27.17 L276.0 28.79 L276.5 30.46 L277.0 32.41 L277.5 34.87 L278.0 38.01 L278.5 41.99 L279.0 48.00 L279.5 53.98 L280.0 58.68 L280.5 62.73 L281.0 65.70 L281.5 67.95 L282.0 69.84 L282.5 71.64 L283.0 73.61 L283.5 75.73 L284.0 77.60 L284.5 78.87 L285.0 79.83 L285.5 80.72 L286.0 81.46 L286.5 82.02 L287.0 82.34 L287.5 82.38 L288.0 82.21 L288.5 81.88 L289.0 81.42 L289.5 80.86 L290.0 80.24 L290.5 79.60 L291.0 78.95 L291.5 78.32 L292.0 77.59 L292.5 76.76 L293.0 75.88 L293.5 74.96 L294.0 74.04 L294.5 73.13 L295.0 72.26 L295.5 71.42 L296.0 70.57 L296.5 69.72 L297.0 68.87 L297.5 68.02 L298.0 67.18 L298.5 66.35 L299.0 65.53 L299.5 64.72 L300.0 63.93 L300.5 63.15 L301.0 62.37 L301.5 61.60 L302.0 60.84 L302.5 60.09 L303.0 59.35 L303.5 58.62 L304.0 57.91 L304.5 57.21 L305.0 56.53 L305.5 55.85 L306.0 55.17 L306.5 54.49 L307.0 53.82 L307.5 53.15 L308.0 52.49 L308.5 51.83 L309.0 51.18 L309.5 50.54 L310.0 49.91 L310.5 49.29 L311.0 48.68 L311.5 48.09 L312.0 47.50 L312.5 46.93 L313.0 46.37 L313.5 45.83 L314.0 45.31 L314.5 44.80 L315.0 44.31 L315.5 43.83 L316.0 43.35 L316.5 42.89 L317.0 42.43 L317.5 41.99 L318.0 41.56 L318.5 41.14 L319.0 40.74 L319.5 40.35 L320.0 39.97 L320.5 39.62 L321.0 39.27 L321.5 38.95 L322.0 38.63 L322.5 38.32 L323.0 38.02 L323.5 37.73 L324.0 37.45 L324.5 37.17 L325.0 36.90 L325.5 36.63 L326.0 36.37 L326.5 36.12 L327.0 35.87 L327.5 35.63 L328.0 35.39 L328.5 35.15 L329.0 34.92 L329.5 34.69 L330.0 34.46 L330.5 34.23 L331.0 34.01 L331.5 33.79 L332.0 33.56 L332.5 33.34 L333.0 33.13 L333.5 32.91 L334.0 32.70 L334.5 32.49 L335.0 32.28 L335.5 32.08 L336.0 31.89 L336.5 31.70 L337.0 31.52 L337.5 31.35 L338.0 31.18 L338.5 31.03 L339.0 30.87 L339.5 30.72 L340.0 30.57 L340.5 30.43 L341.0 30.28 L341.5 30.14 L342.0 30.01 L342.5 29.87 L343.0 29.74 L343.5 29.61 L344.0 29.48 L344.5 29.36 L345.0 29.24 L345.5 29.13 L346.0 29.02 L346.5 28.91 L347.0 28.81 L347.5 28.71 L348.0 28.61 L348.5 28.53 L349.0 28.44 L349.5 28.36 L350.0 28.29 L350.5 28.21 L351.0 28.14 L351.5 28.07 L352.0 28.00 L352.5 27.93 L353.0 27.87 L353.5 27.80 L354.0 27.74 L354.5 27.68 L355.0 27.62 L355.5 27.57 L356.0 27.51 L356.5 27.45 L357.0 27.40 L357.5 27.35 L358.0 27.30 L358.5 27.25 L359.0 27.20 L359.5 27.15 L360.0 27.10 L360.5 27.05 L361.0 27.01 L361.5 26.96 L362.0 26.91 L362.5 26.87 L363.0 26.82 L363.5 26.78 L364.0 26.73 L364.5 26.69 L365.0 26.64 L365.5 26.60 L366.0 26.55 L366.5 26.51 L367.0 26.47 L367.5 26.42 L368.0 26.38 L368.5 26.34 L369.0 26.30 L369.5 26.26 L370.0 26.22 L370.5 26.19 L371.0 26.15 L371.5 26.11 L372.0 26.08 L372.5 26.05 L373.0 26.02 L373.5 25.99 L374.0 25.96 L374.5 25.93 L375.0 25.90 L375.5 25.88 L376.0 25.86 L376.5 25.84 L377.0 25.82 L377.5 25.79 L378.0 25.77 L378.5 25.75 L379.0 25.73 L379.5 25.71 L380.0 25.69 L380.5 25.67 L381.0 25.65 L381.5 25.63 L382.0 25.60 L382.5 25.58 L383.0 25.57 L383.5 25.55 M274.5 23.20 L275.0 25.09 L275.5 26.64 L276.0 28.04 L276.5 29.49 L277.0 31.18 L277.5 33.31 L278.0 36.03 L278.5 39.48 L279.0 44.69 L279.5 49.88 L280.0 53.94 L280.5 57.45 L281.0 60.03 L281.5 61.97 L282.0 63.61 L282.5 65.18 L283.0 66.89 L283.5 68.72 L284.0 70.34 L284.5 71.44 L285.0 72.28 L285.5 73.04 L286.0 73.69 L286.5 74.17 L287.0 74.45 L287.5 74.49 L288.0 74.35 L288.5 74.08 L289.0 73.71 L289.5 73.26 L290.0 72.76 L290.5 72.23 L291.0 71.69 L291.5 71.17 L292.0 70.60 L292.5 69.95 L293.0 69.24 L293.5 68.49 L294.0 67.72 L294.5 66.96 L295.0 66.21 L295.5 65.51 L296.0 64.81 L296.5 64.10 L297.0 63.40 L297.5 62.69 L298.0 61.99 L298.5 61.30 L299.0 60.61 L299.5 59.93 L300.0 59.26 L300.5 58.60 L301.0 57.95 L301.5 57.30 L302.0 56.67 L302.5 56.03 L303.0 55.41 L303.5 54.79 L304.0 54.18 L304.5 53.59 L305.0 53.00 L305.5 52.43 L306.0 51.86 L306.5 51.30 L307.0 50.74 L307.5 50.18 L308.0 49.62 L308.5 49.07 L309.0 48.52 L309.5 47.98 L310.0 47.44 L310.5 46.91 L311.0 46.39 L311.5 45.87 L312.0 45.37 L312.5 44.87 L313.0 44.38 L313.5 43.91 L314.0 43.44 L314.5 42.99 L315.0 42.55 L315.5 42.12 L316.0 41.71 L316.5 41.30 L317.0 40.91 L317.5 40.51 L318.0 40.13 L318.5 39.76 L319.0 39.39 L319.5 39.04 L320.0 38.70 L320.5 38.36 L321.0 38.04 L321.5 37.73 L322.0 37.43 L322.5 37.15 L323.0 36.88 L323.5 36.62 L324.0 36.36 L324.5 36.11 L325.0 35.87 L325.5 35.63 L326.0 35.40 L326.5 35.17 L327.0 34.95 L327.5 34.73 L328.0 34.52 L328.5 34.31 L329.0 34.10 L329.5 33.90 L330.0 33.70 L330.5 33.51 L331.0 33.32 L331.5 33.13 L332.0 32.94 L332.5 32.75 L333.0 32.56 L333.5 32.38 L334.0 32.20 L334.5 32.01 L335.0 31.83 L335.5 31.65 L336.0 31.48 L336.5 31.30 L337.0 31.13 L337.5 30.96 L338.0 30.80 L338.5 30.64 L339.0 30.49 L339.5 30.34 L340.0 30.20 L340.5 30.07 L341.0 29.94 L341.5 29.81 L342.0 29.69 L342.5 29.57 L343.0 29.45 L343.5 29.33 L344.0 29.21 L344.5 29.10 L345.0 28.98 L345.5 28.87 L346.0 28.77 L346.5 28.66 L347.0 28.56 L347.5 28.46 L348.0 28.37 L348.5 28.27 L349.0 28.18 L349.5 28.10 L350.0 28.01 L350.5 27.93 L351.0 27.86 L351.5 27.79 L352.0 27.72 L352.5 27.65 L353.0 27.59 L353.5 27.53 L354.0 27.47 L354.5 27.41 L355.0 27.35 L355.5 27.30 L356.0 27.24 L356.5 27.19 L357.0 27.14 L357.5 27.09 L358.0 27.04 L358.5 26.99 L359.0 26.95 L359.5 26.90 L360.0 26.86 L360.5 26.81 L361.0 26.77 L361.5 26.73 L362.0 26.69 L362.5 26.65 L363.0 26.61 L363.5 26.57 L364.0 26.53 L364.5 26.49 L365.0 26.45 L365.5 26.41 L366.0 26.37 L366.5 26.34 L367.0 26.30 L367.5 26.26 L368.0 26.22 L368.5 26.19 L369.0 26.15 L369.5 26.11 L370.0 26.08 L370.5 26.04 L371.0 26.01 L371.5 25.97 L372.0 25.94 L372.5 25.90 L373.0 25.87 L373.5 25.84 L374.0 25.81 L374.5 25.78 L375.0 25.75 L375.5 25.72 L376.0 25.69 L376.5 25.66 L377.0 25.64 L377.5 25.61 L378.0 25.59 L378.5 25.57 L379.0 25.54 L379.5 25.52 L380.0 25.51 L380.5 25.49 L381.0 25.47 L381.5 25.45 L382.0 25.43 L382.5 25.42 L383.0 25.40 L383.5 25.38 M274.5 23.20 L275.0 24.76 L275.5 26.05 L276.0 27.21 L276.5 28.41 L277.0 29.81 L277.5 31.58 L278.0 33.83 L278.5 36.69 L279.0 41.01 L279.5 45.30 L280.0 48.67 L280.5 51.58 L281.0 53.71 L281.5 55.32 L282.0 56.68 L282.5 57.98 L283.0 59.39 L283.5 60.91 L284.0 62.26 L284.5 63.17 L285.0 63.86 L285.5 64.49 L286.0 65.03 L286.5 65.43 L287.0 65.66 L287.5 65.69 L288.0 65.59 L288.5 65.38 L289.0 65.10 L289.5 64.76 L290.0 64.37 L290.5 63.95 L291.0 63.52 L291.5 63.11 L292.0 62.68 L292.5 62.20 L293.0 61.66 L293.5 61.08 L294.0 60.48 L294.5 59.87 L295.0 59.27 L295.5 58.69 L296.0 58.14 L296.5 57.58 L297.0 57.03 L297.5 56.47 L298.0 55.91 L298.5 55.36 L299.0 54.81 L299.5 54.27 L300.0 53.73 L300.5 53.20 L301.0 52.67 L301.5 52.16 L302.0 51.65 L302.5 51.14 L303.0 50.64 L303.5 50.14 L304.0 49.65 L304.5 49.17 L305.0 48.69 L305.5 48.22 L306.0 47.76 L306.5 47.31 L307.0 46.87 L307.5 46.42 L308.0 45.98 L308.5 45.53 L309.0 45.09 L309.5 44.66 L310.0 44.22 L310.5 43.79 L311.0 43.37 L311.5 42.95 L312.0 42.53 L312.5 42.13 L313.0 41.72 L313.5 41.33 L314.0 40.94 L314.5 40.56 L315.0 40.19 L315.5 39.82 L316.0 39.47 L316.5 39.13 L317.0 38.79 L317.5 38.47 L318.0 38.15 L318.5 37.83 L319.0 37.53 L319.5 37.22 L320.0 36.93 L320.5 36.64 L321.0 36.36 L321.5 36.09 L322.0 35.82 L322.5 35.56 L323.0 35.32 L323.5 35.08 L324.0 34.85 L324.5 34.63 L325.0 34.42 L325.5 34.22 L326.0 34.02 L326.5 33.82 L327.0 33.63 L327.5 33.44 L328.0 33.26 L328.5 33.08 L329.0 32.91 L329.5 32.74 L330.0 32.57 L330.5 32.40 L331.0 32.24 L331.5 32.08 L332.0 31.93 L332.5 31.77 L333.0 31.62 L333.5 31.47 L334.0 31.32 L334.5 31.17 L335.0 31.02 L335.5 30.88 L336.0 30.73 L336.5 30.59 L337.0 30.44 L337.5 30.30 L338.0 30.16 L338.5 30.02 L339.0 29.88 L339.5 29.75 L340.0 29.62 L340.5 29.49 L341.0 29.36 L341.5 29.24 L342.0 29.13 L342.5 29.01 L343.0 28.91 L343.5 28.81 L344.0 28.71 L344.5 28.61 L345.0 28.51 L345.5 28.41 L346.0 28.32 L346.5 28.23 L347.0 28.14 L347.5 28.05 L348.0 27.96 L348.5 27.87 L349.0 27.79 L349.5 27.71 L350.0 27.63 L350.5 27.55 L351.0 27.47 L351.5 27.40 L352.0 27.33 L352.5 27.26 L353.0 27.19 L353.5 27.13 L354.0 27.07 L354.5 27.01 L355.0 26.96 L355.5 26.91 L356.0 26.86 L356.5 26.81 L357.0 26.76 L357.5 26.71 L358.0 26.67 L358.5 26.62 L359.0 26.58 L359.5 26.54 L360.0 26.50 L360.5 26.45 L361.0 26.42 L361.5 26.38 L362.0 26.34 L362.5 26.30 L363.0 26.27 L363.5 26.23 L364.0 26.20 L364.5 26.16 L365.0 26.13 L365.5 26.10 L366.0 26.06 L366.5 26.03 L367.0 26.00 L367.5 25.97 L368.0 25.94 L368.5 25.91 L369.0 25.88 L369.5 25.85 L370.0 25.82 L370.5 25.79 L371.0 25.76 L371.5 25.73 L372.0 25.70 L372.5 25.67 L373.0 25.64 L373.5 25.61 L374.0 25.58 L374.5 25.56 L375.0 25.53 L375.5 25.50 L376.0 25.47 L376.5 25.45 L377.0 25.42 L377.5 25.39 L378.0 25.37 L378.5 25.35 L379.0 25.32 L379.5 25.30 L380.0 25.28 L380.5 25.25 L381.0 25.23 L381.5 25.21 L382.0 25.19 L382.5 25.17 L383.0 25.16 L383.5 25.14 M274.5 23.20 L275.0 24.38 L275.5 25.35 L276.0 26.22 L276.5 27.12 L277.0 28.18 L277.5 29.51 L278.0 31.20 L278.5 33.36 L279.0 36.61 L279.5 39.84 L280.0 42.38 L280.5 44.57 L281.0 46.17 L281.5 47.39 L282.0 48.41 L282.5 49.38 L283.0 50.45 L283.5 51.59 L284.0 52.61 L284.5 53.29 L285.0 53.81 L285.5 54.29 L286.0 54.69 L286.5 55.00 L287.0 55.17 L287.5 55.19 L288.0 55.12 L288.5 54.99 L289.0 54.79 L289.5 54.55 L290.0 54.28 L290.5 53.99 L291.0 53.69 L291.5 53.38 L292.0 53.09 L292.5 52.77 L293.0 52.40 L293.5 52.01 L294.0 51.59 L294.5 51.16 L295.0 50.72 L295.5 50.30 L296.0 49.89 L296.5 49.49 L297.0 49.10 L297.5 48.70 L298.0 48.30 L298.5 47.91 L299.0 47.51 L299.5 47.12 L300.0 46.73 L300.5 46.34 L301.0 45.96 L301.5 45.58 L302.0 45.21 L302.5 44.85 L303.0 44.48 L303.5 44.12 L304.0 43.77 L304.5 43.41 L305.0 43.06 L305.5 42.72 L306.0 42.38 L306.5 42.05 L307.0 41.72 L307.5 41.40 L308.0 41.08 L308.5 40.76 L309.0 40.44 L309.5 40.13 L310.0 39.81 L310.5 39.50 L311.0 39.19 L311.5 38.88 L312.0 38.58 L312.5 38.27 L313.0 37.97 L313.5 37.68 L314.0 37.39 L314.5 37.10 L315.0 36.82 L315.5 36.54 L316.0 36.27 L316.5 36.01 L317.0 35.75 L317.5 35.49 L318.0 35.25 L318.5 35.01 L319.0 34.77 L319.5 34.54 L320.0 34.32 L320.5 34.10 L321.0 33.88 L321.5 33.67 L322.0 33.46 L322.5 33.25 L323.0 33.05 L323.5 32.86 L324.0 32.67 L324.5 32.49 L325.0 32.32 L325.5 32.15 L326.0 31.98 L326.5 31.83 L327.0 31.68 L327.5 31.53 L328.0 31.38 L328.5 31.24 L329.0 31.11 L329.5 30.97 L330.0 30.84 L330.5 30.71 L331.0 30.59 L331.5 30.46 L332.0 30.34 L332.5 30.22 L333.0 30.10 L333.5 29.99 L334.0 29.88 L334.5 29.76 L335.0 29.65 L335.5 29.54 L336.0 29.44 L336.5 29.33 L337.0 29.22 L337.5 29.12 L338.0 29.02 L338.5 28.91 L339.0 28.81 L339.5 28.71 L340.0 28.60 L340.5 28.50 L341.0 28.40 L341.5 28.30 L342.0 28.21 L342.5 28.11 L343.0 28.02 L343.5 27.92 L344.0 27.84 L344.5 27.75 L345.0 27.67 L345.5 27.59 L346.0 27.51 L346.5 27.44 L347.0 27.37 L347.5 27.30 L348.0 27.23 L348.5 27.16 L349.0 27.09 L349.5 27.02 L350.0 26.96 L350.5 26.89 L351.0 26.83 L351.5 26.77 L352.0 26.70 L352.5 26.64 L353.0 26.59 L353.5 26.53 L354.0 26.47 L354.5 26.42 L355.0 26.37 L355.5 26.32 L356.0 26.27 L356.5 26.22 L357.0 26.17 L357.5 26.13 L358.0 26.09 L358.5 26.05 L359.0 26.01 L359.5 25.97 L360.0 25.94 L360.5 25.90 L361.0 25.87 L361.5 25.84 L362.0 25.80 L362.5 25.77 L363.0 25.74 L363.5 25.71 L364.0 25.68 L364.5 25.65 L365.0 25.63 L365.5 25.60 L366.0 25.57 L366.5 25.54 L367.0 25.52 L367.5 25.49 L368.0 25.47 L368.5 25.44 L369.0 25.42 L369.5 25.40 L370.0 25.37 L370.5 25.35 L371.0 25.33 L371.5 25.31 L372.0 25.28 L372.5 25.26 L373.0 25.24 L373.5 25.22 L374.0 25.20 L374.5 25.18 L375.0 25.15 L375.5 25.13 L376.0 25.11 L376.5 25.09 L377.0 25.07 L377.5 25.05 L378.0 25.03 L378.5 25.01 L379.0 24.99 L379.5 24.97 L380.0 24.95 L380.5 24.93 L381.0 24.91 L381.5 24.89 L382.0 24.87 L382.5 24.85 L383.0 24.83 L383.5 24.82 M274.5 23.20 L275.0 23.98 L275.5 24.62 L276.0 25.19 L276.5 25.79 L277.0 26.48 L277.5 27.36 L278.0 28.48 L278.5 29.90 L279.0 32.04 L279.5 34.17 L280.0 35.85 L280.5 37.29 L281.0 38.35 L281.5 39.15 L282.0 39.82 L282.5 40.47 L283.0 41.17 L283.5 41.92 L284.0 42.59 L284.5 43.04 L285.0 43.39 L285.5 43.70 L286.0 43.97 L286.5 44.17 L287.0 44.28 L287.5 44.30 L288.0 44.25 L288.5 44.17 L289.0 44.06 L289.5 43.91 L290.0 43.75 L290.5 43.57 L291.0 43.38 L291.5 43.19 L292.0 43.00 L292.5 42.81 L293.0 42.60 L293.5 42.36 L294.0 42.11 L294.5 41.85 L295.0 41.58 L295.5 41.31 L296.0 41.04 L296.5 40.78 L297.0 40.54 L297.5 40.29 L298.0 40.04 L298.5 39.79 L299.0 39.54 L299.5 39.30 L300.0 39.05 L300.5 38.81 L301.0 38.56 L301.5 38.32 L302.0 38.09 L302.5 37.85 L303.0 37.62 L303.5 37.40 L304.0 37.17 L304.5 36.94 L305.0 36.72 L305.5 36.50 L306.0 36.28 L306.5 36.07 L307.0 35.85 L307.5 35.64 L308.0 35.44 L308.5 35.24 L309.0 35.04 L309.5 34.84 L310.0 34.64 L310.5 34.44 L311.0 34.25 L311.5 34.05 L312.0 33.85 L312.5 33.66 L313.0 33.47 L313.5 33.28 L314.0 33.09 L314.5 32.90 L315.0 32.72 L315.5 32.54 L316.0 32.36 L316.5 32.18 L317.0 32.01 L317.5 31.84 L318.0 31.67 L318.5 31.51 L319.0 31.35 L319.5 31.20 L320.0 31.04 L320.5 30.90 L321.0 30.75 L321.5 30.61 L322.0 30.47 L322.5 30.33 L323.0 30.20 L323.5 30.06 L324.0 29.94 L324.5 29.81 L325.0 29.68 L325.5 29.56 L326.0 29.45 L326.5 29.33 L327.0 29.22 L327.5 29.12 L328.0 29.01 L328.5 28.91 L329.0 28.82 L329.5 28.73 L330.0 28.64 L330.5 28.55 L331.0 28.46 L331.5 28.37 L332.0 28.29 L332.5 28.21 L333.0 28.13 L333.5 28.05 L334.0 27.97 L334.5 27.90 L335.0 27.82 L335.5 27.75 L336.0 27.68 L336.5 27.61 L337.0 27.54 L337.5 27.47 L338.0 27.40 L338.5 27.33 L339.0 27.27 L339.5 27.20 L340.0 27.13 L340.5 27.07 L341.0 27.00 L341.5 26.94 L342.0 26.87 L342.5 26.81 L343.0 26.75 L343.5 26.68 L344.0 26.62 L344.5 26.56 L345.0 26.50 L345.5 26.44 L346.0 26.38 L346.5 26.32 L347.0 26.27 L347.5 26.21 L348.0 26.16 L348.5 26.11 L349.0 26.06 L349.5 26.01 L350.0 25.97 L350.5 25.92 L351.0 25.88 L351.5 25.84 L352.0 25.79 L352.5 25.75 L353.0 25.71 L353.5 25.67 L354.0 25.63 L354.5 25.59 L355.0 25.55 L355.5 25.51 L356.0 25.47 L356.5 25.44 L357.0 25.40 L357.5 25.37 L358.0 25.33 L358.5 25.30 L359.0 25.27 L359.5 25.24 L360.0 25.21 L360.5 25.18 L361.0 25.15 L361.5 25.12 L362.0 25.10 L362.5 25.07 L363.0 25.05 L363.5 25.03 L364.0 25.00 L364.5 24.98 L365.0 24.96 L365.5 24.94 L366.0 24.92 L366.5 24.90 L367.0 24.88 L367.5 24.86 L368.0 24.84 L368.5 24.83 L369.0 24.81 L369.5 24.79 L370.0 24.77 L370.5 24.76 L371.0 24.74 L371.5 24.72 L372.0 24.71 L372.5 24.69 L373.0 24.68 L373.5 24.66 L374.0 24.65 L374.5 24.63 L375.0 24.62 L375.5 24.60 L376.0 24.59 L376.5 24.58 L377.0 24.56 L377.5 24.55 L378.0 24.54 L378.5 24.52 L379.0 24.51 L379.5 24.50 L380.0 24.48 L380.5 24.47 L381.0 24.46 L381.5 24.44 L382.0 24.43 L382.5 24.42 L383.0 24.40 L383.5 24.39 M274.5 23.20 L275.0 23.65 L275.5 24.02 L276.0 24.36 L276.5 24.71 L277.0 25.11 L277.5 25.63 L278.0 26.28 L278.5 27.10 L279.0 28.35 L279.5 29.60 L280.0 30.57 L280.5 31.41 L281.0 32.03 L281.5 32.50 L282.0 32.89 L282.5 33.26 L283.0 33.67 L283.5 34.11 L284.0 34.50 L284.5 34.77 L285.0 34.97 L285.5 35.15 L286.0 35.31 L286.5 35.42 L287.0 35.49 L287.5 35.50 L288.0 35.48 L288.5 35.43 L289.0 35.37 L289.5 35.29 L290.0 35.20 L290.5 35.10 L291.0 35.00 L291.5 34.89 L292.0 34.78 L292.5 34.68 L293.0 34.57 L293.5 34.44 L294.0 34.30 L294.5 34.16 L295.0 34.01 L295.5 33.86 L296.0 33.71 L296.5 33.56 L297.0 33.42 L297.5 33.28 L298.0 33.14 L298.5 33.00 L299.0 32.86 L299.5 32.72 L300.0 32.59 L300.5 32.45 L301.0 32.31 L301.5 32.18 L302.0 32.04 L302.5 31.91 L303.0 31.78 L303.5 31.65 L304.0 31.52 L304.5 31.39 L305.0 31.27 L305.5 31.14 L306.0 31.02 L306.5 30.89 L307.0 30.77 L307.5 30.65 L308.0 30.53 L308.5 30.42 L309.0 30.30 L309.5 30.19 L310.0 30.08 L310.5 29.97 L311.0 29.86 L311.5 29.75 L312.0 29.64 L312.5 29.53 L313.0 29.42 L313.5 29.31 L314.0 29.20 L314.5 29.10 L315.0 28.99 L315.5 28.89 L316.0 28.78 L316.5 28.68 L317.0 28.58 L317.5 28.48 L318.0 28.38 L318.5 28.29 L319.0 28.19 L319.5 28.10 L320.0 28.01 L320.5 27.92 L321.0 27.83 L321.5 27.75 L322.0 27.67 L322.5 27.59 L323.0 27.51 L323.5 27.43 L324.0 27.35 L324.5 27.28 L325.0 27.20 L325.5 27.13 L326.0 27.06 L326.5 26.99 L327.0 26.92 L327.5 26.86 L328.0 26.79 L328.5 26.73 L329.0 26.67 L329.5 26.61 L330.0 26.55 L330.5 26.50 L331.0 26.45 L331.5 26.40 L332.0 26.35 L332.5 26.30 L333.0 26.25 L333.5 26.20 L334.0 26.16 L334.5 26.11 L335.0 26.07 L335.5 26.02 L336.0 25.98 L336.5 25.94 L337.0 25.89 L337.5 25.85 L338.0 25.81 L338.5 25.77 L339.0 25.73 L339.5 25.70 L340.0 25.66 L340.5 25.62 L341.0 25.58 L341.5 25.54 L342.0 25.51 L342.5 25.47 L343.0 25.43 L343.5 25.40 L344.0 25.36 L344.5 25.33 L345.0 25.29 L345.5 25.25 L346.0 25.22 L346.5 25.18 L347.0 25.15 L347.5 25.12 L348.0 25.08 L348.5 25.05 L349.0 25.02 L349.5 24.99 L350.0 24.96 L350.5 24.93 L351.0 24.90 L351.5 24.87 L352.0 24.85 L352.5 24.82 L353.0 24.79 L353.5 24.77 L354.0 24.75 L354.5 24.72 L355.0 24.70 L355.5 24.67 L356.0 24.65 L356.5 24.63 L357.0 24.61 L357.5 24.58 L358.0 24.56 L358.5 24.54 L359.0 24.52 L359.5 24.50 L360.0 24.48 L360.5 24.46 L361.0 24.44 L361.5 24.42 L362.0 24.41 L362.5 24.39 L363.0 24.37 L363.5 24.35 L364.0 24.34 L364.5 24.32 L365.0 24.31 L365.5 24.30 L366.0 24.28 L366.5 24.27 L367.0 24.26 L367.5 24.24 L368.0 24.23 L368.5 24.22 L369.0 24.21 L369.5 24.20 L370.0 24.19 L370.5 24.18 L371.0 24.17 L371.5 24.16 L372.0 24.15 L372.5 24.14 L373.0 24.13 L373.5 24.12 L374.0 24.11 L374.5 24.10 L375.0 24.09 L375.5 24.08 L376.0 24.07 L376.5 24.06 L377.0 24.05 L377.5 24.05 L378.0 24.04 L378.5 24.03 L379.0 24.02 L379.5 24.01 L380.0 24.01 L380.5 24.00 L381.0 23.99 L381.5 23.98 L382.0 23.98 L382.5 23.97 L383.0 23.96 L383.5 23.95 M274.5 23.20 L275.0 23.44 L275.5 23.64 L276.0 23.82 L276.5 24.01 L277.0 24.23 L277.5 24.50 L278.0 24.85 L278.5 25.29 L279.0 25.97 L279.5 26.63 L280.0 27.16 L280.5 27.61 L281.0 27.94 L281.5 28.19 L282.0 28.40 L282.5 28.60 L283.0 28.82 L283.5 29.06 L284.0 29.27 L284.5 29.41 L285.0 29.51 L285.5 29.61 L286.0 29.70 L286.5 29.76 L287.0 29.79 L287.5 29.80 L288.0 29.79 L288.5 29.76 L289.0 29.73 L289.5 29.69 L290.0 29.65 L290.5 29.59 L291.0 29.54 L291.5 29.48 L292.0 29.43 L292.5 29.38 L293.0 29.32 L293.5 29.25 L294.0 29.18 L294.5 29.11 L295.0 29.03 L295.5 28.95 L296.0 28.87 L296.5 28.80 L297.0 28.72 L297.5 28.65 L298.0 28.57 L298.5 28.50 L299.0 28.43 L299.5 28.36 L300.0 28.28 L300.5 28.21 L301.0 28.14 L301.5 28.07 L302.0 28.00 L302.5 27.93 L303.0 27.86 L303.5 27.79 L304.0 27.72 L304.5 27.66 L305.0 27.59 L305.5 27.52 L306.0 27.46 L306.5 27.39 L307.0 27.33 L307.5 27.26 L308.0 27.20 L308.5 27.14 L309.0 27.08 L309.5 27.02 L310.0 26.96 L310.5 26.90 L311.0 26.84 L311.5 26.79 L312.0 26.73 L312.5 26.67 L313.0 26.61 L313.5 26.56 L314.0 26.50 L314.5 26.44 L315.0 26.39 L315.5 26.33 L316.0 26.28 L316.5 26.22 L317.0 26.17 L317.5 26.11 L318.0 26.06 L318.5 26.01 L319.0 25.96 L319.5 25.91 L320.0 25.86 L320.5 25.81 L321.0 25.77 L321.5 25.72 L322.0 25.68 L322.5 25.63 L323.0 25.59 L323.5 25.55 L324.0 25.51 L324.5 25.46 L325.0 25.42 L325.5 25.39 L326.0 25.35 L326.5 25.31 L327.0 25.27 L327.5 25.23 L328.0 25.20 L328.5 25.16 L329.0 25.13 L329.5 25.10 L330.0 25.07 L330.5 25.04 L331.0 25.01 L331.5 24.98 L332.0 24.95 L332.5 24.92 L333.0 24.90 L333.5 24.87 L334.0 24.85 L334.5 24.82 L335.0 24.80 L335.5 24.77 L336.0 24.75 L336.5 24.73 L337.0 24.70 L337.5 24.68 L338.0 24.66 L338.5 24.64 L339.0 24.62 L339.5 24.59 L340.0 24.57 L340.5 24.55 L341.0 24.53 L341.5 24.51 L342.0 24.49 L342.5 24.47 L343.0 24.45 L343.5 24.44 L344.0 24.42 L344.5 24.40 L345.0 24.38 L345.5 24.36 L346.0 24.34 L346.5 24.32 L347.0 24.30 L347.5 24.28 L348.0 24.27 L348.5 24.25 L349.0 24.23 L349.5 24.21 L350.0 24.20 L350.5 24.18 L351.0 24.16 L351.5 24.15 L352.0 24.13 L352.5 24.12 L353.0 24.10 L353.5 24.09 L354.0 24.07 L354.5 24.06 L355.0 24.05 L355.5 24.04 L356.0 24.02 L356.5 24.01 L357.0 24.00 L357.5 23.99 L358.0 23.97 L358.5 23.96 L359.0 23.95 L359.5 23.94 L360.0 23.93 L360.5 23.92 L361.0 23.91 L361.5 23.89 L362.0 23.88 L362.5 23.87 L363.0 23.86 L363.5 23.85 L364.0 23.85 L364.5 23.84 L365.0 23.83 L365.5 23.82 L366.0 23.81 L366.5 23.80 L367.0 23.80 L367.5 23.79 L368.0 23.78 L368.5 23.77 L369.0 23.77 L369.5 23.76 L370.0 23.75 L370.5 23.75 L371.0 23.74 L371.5 23.74 L372.0 23.73 L372.5 23.73 L373.0 23.72 L373.5 23.71 L374.0 23.71 L374.5 23.70 L375.0 23.70 L375.5 23.69 L376.0 23.69 L376.5 23.68 L377.0 23.68 L377.5 23.67 L378.0 23.67 L378.5 23.67 L379.0 23.66 L379.5 23.66 L380.0 23.65 L380.5 23.65 L381.0 23.64 L381.5 23.64 L382.0 23.64 L382.5 23.63 L383.0 23.63 L383.5 23.62 M274.5 23.20 L275.0 23.30 L275.5 23.39 L276.0 23.46 L276.5 23.54 L277.0 23.64 L277.5 23.75 L278.0 23.90 L278.5 24.09 L279.0 24.37 L279.5 24.66 L280.0 24.88 L280.5 25.07 L281.0 25.21 L281.5 25.32 L282.0 25.41 L282.5 25.49 L283.0 25.58 L283.5 25.68 L284.0 25.77 L284.5 25.83 L285.0 25.88 L285.5 25.92 L286.0 25.96 L286.5 25.98 L287.0 26.00 L287.5 26.00 L288.0 25.99 L288.5 25.99 L289.0 25.97 L289.5 25.96 L290.0 25.94 L290.5 25.92 L291.0 25.89 L291.5 25.87 L292.0 25.85 L292.5 25.82 L293.0 25.80 L293.5 25.77 L294.0 25.75 L294.5 25.71 L295.0 25.68 L295.5 25.65 L296.0 25.62 L296.5 25.58 L297.0 25.55 L297.5 25.52 L298.0 25.49 L298.5 25.46 L299.0 25.43 L299.5 25.40 L300.0 25.37 L300.5 25.34 L301.0 25.31 L301.5 25.28 L302.0 25.25 L302.5 25.22 L303.0 25.19 L303.5 25.16 L304.0 25.13 L304.5 25.11 L305.0 25.08 L305.5 25.05 L306.0 25.02 L306.5 25.00 L307.0 24.97 L307.5 24.94 L308.0 24.92 L308.5 24.89 L309.0 24.86 L309.5 24.84 L310.0 24.81 L310.5 24.79 L311.0 24.77 L311.5 24.74 L312.0 24.72 L312.5 24.69 L313.0 24.67 L313.5 24.64 L314.0 24.62 L314.5 24.60 L315.0 24.57 L315.5 24.55 L316.0 24.53 L316.5 24.50 L317.0 24.48 L317.5 24.46 L318.0 24.44 L318.5 24.42 L319.0 24.39 L319.5 24.37 L320.0 24.35 L320.5 24.33 L321.0 24.31 L321.5 24.29 L322.0 24.27 L322.5 24.25 L323.0 24.23 L323.5 24.22 L324.0 24.20 L324.5 24.18 L325.0 24.17 L325.5 24.15 L326.0 24.13 L326.5 24.12 L327.0 24.10 L327.5 24.08 L328.0 24.07 L328.5 24.05 L329.0 24.04 L329.5 24.02 L330.0 24.01 L330.5 24.00 L331.0 23.98 L331.5 23.97 L332.0 23.96 L332.5 23.95 L333.0 23.94 L333.5 23.93 L334.0 23.91 L334.5 23.90 L335.0 23.89 L335.5 23.88 L336.0 23.87 L336.5 23.86 L337.0 23.85 L337.5 23.84 L338.0 23.83 L338.5 23.83 L339.0 23.82 L339.5 23.81 L340.0 23.80 L340.5 23.79 L341.0 23.78 L341.5 23.77 L342.0 23.76 L342.5 23.76 L343.0 23.75 L343.5 23.74 L344.0 23.73 L344.5 23.72 L345.0 23.72 L345.5 23.71 L346.0 23.70 L346.5 23.69 L347.0 23.68 L347.5 23.68 L348.0 23.67 L348.5 23.66 L349.0 23.65 L349.5 23.65 L350.0 23.64 L350.5 23.63 L351.0 23.62 L351.5 23.62 L352.0 23.61 L352.5 23.60 L353.0 23.60 L353.5 23.59 L354.0 23.58 L354.5 23.58 L355.0 23.57 L355.5 23.57 L356.0 23.56 L356.5 23.56 L357.0 23.55 L357.5 23.55 L358.0 23.54 L358.5 23.54 L359.0 23.53 L359.5 23.53 L360.0 23.52 L360.5 23.52 L361.0 23.51 L361.5 23.51 L362.0 23.50 L362.5 23.50 L363.0 23.49 L363.5 23.49 L364.0 23.48 L364.5 23.48 L365.0 23.48 L365.5 23.47 L366.0 23.47 L366.5 23.46 L367.0 23.46 L367.5 23.46 L368.0 23.45 L368.5 23.45 L369.0 23.45 L369.5 23.45 L370.0 23.44 L370.5 23.44 L371.0 23.44 L371.5 23.43 L372.0 23.43 L372.5 23.43 L373.0 23.43 L373.5 23.42 L374.0 23.42 L374.5 23.42 L375.0 23.42 L375.5 23.42 L376.0 23.41 L376.5 23.41 L377.0 23.41 L377.5 23.41 L378.0 23.41 L378.5 23.40 L379.0 23.40 L379.5 23.40 L380.0 23.40 L380.5 23.40 L381.0 23.39 L381.5 23.39 L382.0 23.39 L382.5 23.39 L383.0 23.39 L383.5 23.39" fill="none" stroke="#c55a1f" stroke-width="1.2" stroke-linejoin="round" opacity="1"/>
<path d="M274.5 23.5 H383.6" stroke="#c55a1f" stroke-width="2.2"/>
<path d="M402.2 21.90 L402.7 24.96 L403.2 27.66 L403.7 30.18 L404.2 32.62 L404.7 35.09 L405.2 37.55 L405.7 39.73 L406.2 42.11 L406.7 45.23 L407.2 50.72 L407.7 58.96 L408.2 66.44 L408.7 73.19 L409.2 79.48 L409.7 84.34 L410.2 87.38 L410.7 89.62 L411.2 91.66 L411.7 93.98 L412.2 96.49 L412.7 98.74 L413.2 100.34 L413.7 101.77 L414.2 103.08 L414.7 104.14 L415.2 104.82 L415.7 104.99 L416.2 104.71 L416.7 104.09 L417.2 103.23 L417.7 102.19 L418.2 101.08 L418.7 99.98 L419.2 98.81 L419.7 97.38 L420.2 95.79 L420.7 94.15 L421.2 92.58 L421.7 91.20 L422.2 90.06 L422.7 89.06 L423.2 88.14 L423.7 87.23 L424.2 86.28 L424.7 85.21 L425.2 83.99 L425.7 82.67 L426.2 81.25 L426.7 79.76 L427.2 78.22 L427.7 76.63 L428.2 75.01 L428.7 73.38 L429.2 71.76 L429.7 70.07 L430.2 68.27 L430.7 66.42 L431.2 64.58 L431.7 62.81 L432.2 61.15 L432.7 59.68 L433.2 58.30 L433.7 56.96 L434.2 55.66 L434.7 54.42 L435.2 53.24 L435.7 52.11 L436.2 51.06 L436.7 50.07 L437.2 49.16 L437.7 48.33 L438.2 47.53 L438.7 46.76 L439.2 46.01 L439.7 45.30 L440.2 44.61 L440.7 43.94 L441.2 43.31 L441.7 42.70 L442.2 42.11 L442.7 41.55 L443.2 41.01 L443.7 40.50 L444.2 40.01 L444.7 39.54 L445.2 39.10 L445.7 38.67 L446.2 38.25 L446.7 37.84 L447.2 37.44 L447.7 37.06 L448.2 36.68 L448.7 36.32 L449.2 35.96 L449.7 35.62 L450.2 35.28 L450.7 34.96 L451.2 34.65 L451.7 34.35 L452.2 34.06 L452.7 33.78 L453.2 33.51 L453.7 33.25 L454.2 33.00 L454.7 32.76 L455.2 32.54 L455.7 32.32 L456.2 32.10 L456.7 31.89 L457.2 31.69 L457.7 31.49 L458.2 31.30 L458.7 31.11 L459.2 30.93 L459.7 30.75 L460.2 30.57 L460.7 30.41 L461.2 30.24 L461.7 30.08 L462.2 29.93 L462.7 29.77 L463.2 29.63 L463.7 29.49 L464.2 29.35 L464.7 29.21 L465.2 29.08 L465.7 28.96 L466.2 28.83 L466.7 28.71 L467.2 28.60 L467.7 28.48 L468.2 28.37 L468.7 28.27 L469.2 28.16 L469.7 28.05 L470.2 27.95 L470.7 27.85 L471.2 27.76 L471.7 27.66 L472.2 27.57 L472.7 27.48 L473.2 27.39 L473.7 27.30 L474.2 27.22 L474.7 27.13 L475.2 27.05 L475.7 26.97 L476.2 26.90 L476.7 26.82 L477.2 26.75 L477.7 26.68 L478.2 26.61 L478.7 26.54 L479.2 26.47 L479.7 26.41 L480.2 26.34 L480.7 26.28 L481.2 26.21 L481.7 26.15 L482.2 26.09 L482.7 26.03 L483.2 25.97 L483.7 25.91 L484.2 25.85 L484.7 25.80 L485.2 25.74 L485.7 25.69 L486.2 25.64 L486.7 25.59 L487.2 25.54 L487.7 25.50 L488.2 25.45 L488.7 25.41 L489.2 25.37 L489.7 25.33 L490.2 25.29 L490.7 25.26 L491.2 25.22 L491.7 25.19 L492.2 25.16 L492.7 25.13 L493.2 25.10 L493.7 25.07 L494.2 25.04 L494.7 25.01 L495.2 24.98 L495.7 24.95 L496.2 24.92 L496.7 24.89 L497.2 24.86 L497.7 24.83 L498.2 24.81 L498.7 24.78 L499.2 24.75 L499.7 24.73 L500.2 24.70 L500.7 24.68 L501.2 24.66 L501.7 24.63 L502.2 24.61 L502.7 24.59 L503.2 24.57 L503.7 24.55 L504.2 24.53 L504.7 24.51 L505.2 24.50 L505.7 24.48 L506.2 24.47 L506.7 24.45 L507.2 24.44 L507.7 24.43 L508.2 24.42 L508.7 24.41 L509.2 24.41 L509.7 24.40 L510.2 24.40 L510.7 24.39 M402.2 21.90 L402.7 24.83 L403.2 27.40 L403.7 29.81 L404.2 32.14 L404.7 34.50 L405.2 36.85 L405.7 38.94 L406.2 41.21 L406.7 44.20 L407.2 49.43 L407.7 57.31 L408.2 64.45 L408.7 70.91 L409.2 76.92 L409.7 81.56 L410.2 84.46 L410.7 86.61 L411.2 88.55 L411.7 90.77 L412.2 93.17 L412.7 95.32 L413.2 96.85 L413.7 98.22 L414.2 99.47 L414.7 100.48 L415.2 101.12 L415.7 101.29 L416.2 101.04 L416.7 100.47 L417.2 99.67 L417.7 98.72 L418.2 97.69 L418.7 96.65 L419.2 95.60 L419.7 94.30 L420.2 92.84 L420.7 91.31 L421.2 89.82 L421.7 88.47 L422.2 87.35 L422.7 86.39 L423.2 85.51 L423.7 84.66 L424.2 83.80 L424.7 82.85 L425.2 81.77 L425.7 80.58 L426.2 79.30 L426.7 77.95 L427.2 76.53 L427.7 75.07 L428.2 73.58 L428.7 72.06 L429.2 70.55 L429.7 69.03 L430.2 67.42 L430.7 65.72 L431.2 63.99 L431.7 62.28 L432.2 60.65 L432.7 59.13 L433.2 57.79 L433.7 56.50 L434.2 55.26 L434.7 54.06 L435.2 52.90 L435.7 51.80 L436.2 50.75 L436.7 49.77 L437.2 48.85 L437.7 48.00 L438.2 47.22 L438.7 46.47 L439.2 45.74 L439.7 45.05 L440.2 44.37 L440.7 43.73 L441.2 43.10 L441.7 42.50 L442.2 41.93 L442.7 41.37 L443.2 40.84 L443.7 40.33 L444.2 39.85 L444.7 39.38 L445.2 38.94 L445.7 38.52 L446.2 38.11 L446.7 37.71 L447.2 37.33 L447.7 36.95 L448.2 36.59 L448.7 36.23 L449.2 35.88 L449.7 35.55 L450.2 35.22 L450.7 34.90 L451.2 34.60 L451.7 34.30 L452.2 34.01 L452.7 33.73 L453.2 33.46 L453.7 33.20 L454.2 32.95 L454.7 32.71 L455.2 32.48 L455.7 32.26 L456.2 32.05 L456.7 31.85 L457.2 31.65 L457.7 31.45 L458.2 31.26 L458.7 31.08 L459.2 30.90 L459.7 30.72 L460.2 30.55 L460.7 30.38 L461.2 30.22 L461.7 30.06 L462.2 29.90 L462.7 29.75 L463.2 29.61 L463.7 29.47 L464.2 29.33 L464.7 29.19 L465.2 29.06 L465.7 28.94 L466.2 28.81 L466.7 28.69 L467.2 28.58 L467.7 28.47 L468.2 28.36 L468.7 28.25 L469.2 28.15 L469.7 28.04 L470.2 27.94 L470.7 27.84 L471.2 27.75 L471.7 27.65 L472.2 27.56 L472.7 27.47 L473.2 27.38 L473.7 27.30 L474.2 27.21 L474.7 27.13 L475.2 27.05 L475.7 26.97 L476.2 26.89 L476.7 26.82 L477.2 26.74 L477.7 26.67 L478.2 26.60 L478.7 26.53 L479.2 26.47 L479.7 26.40 L480.2 26.34 L480.7 26.27 L481.2 26.21 L481.7 26.15 L482.2 26.09 L482.7 26.03 L483.2 25.98 L483.7 25.92 L484.2 25.86 L484.7 25.81 L485.2 25.75 L485.7 25.70 L486.2 25.64 L486.7 25.59 L487.2 25.54 L487.7 25.49 L488.2 25.45 L488.7 25.40 L489.2 25.36 L489.7 25.32 L490.2 25.27 L490.7 25.24 L491.2 25.20 L491.7 25.16 L492.2 25.13 L492.7 25.10 L493.2 25.07 L493.7 25.04 L494.2 25.01 L494.7 24.98 L495.2 24.95 L495.7 24.92 L496.2 24.89 L496.7 24.87 L497.2 24.84 L497.7 24.81 L498.2 24.78 L498.7 24.76 L499.2 24.73 L499.7 24.70 L500.2 24.68 L500.7 24.65 L501.2 24.63 L501.7 24.61 L502.2 24.58 L502.7 24.56 L503.2 24.54 L503.7 24.52 L504.2 24.50 L504.7 24.48 L505.2 24.46 L505.7 24.44 L506.2 24.42 L506.7 24.40 L507.2 24.39 L507.7 24.37 L508.2 24.36 L508.7 24.35 L509.2 24.33 L509.7 24.32 L510.2 24.31 L510.7 24.31 M402.2 21.90 L402.7 24.69 L403.2 27.14 L403.7 29.43 L404.2 31.65 L404.7 33.90 L405.2 36.14 L405.7 38.12 L406.2 40.28 L406.7 43.13 L407.2 48.11 L407.7 55.61 L408.2 62.42 L408.7 68.56 L409.2 74.28 L409.7 78.70 L410.2 81.47 L410.7 83.51 L411.2 85.36 L411.7 87.48 L412.2 89.76 L412.7 91.80 L413.2 93.26 L413.7 94.56 L414.2 95.75 L414.7 96.72 L415.2 97.33 L415.7 97.49 L416.2 97.26 L416.7 96.74 L417.2 96.02 L417.7 95.14 L418.2 94.19 L418.7 93.22 L419.2 92.26 L419.7 91.10 L420.2 89.76 L420.7 88.35 L421.2 86.94 L421.7 85.64 L422.2 84.54 L422.7 83.60 L423.2 82.76 L423.7 81.97 L424.2 81.18 L424.7 80.34 L425.2 79.40 L425.7 78.33 L426.2 77.18 L426.7 75.96 L427.2 74.68 L427.7 73.34 L428.2 71.97 L428.7 70.57 L429.2 69.16 L429.7 67.75 L430.2 66.32 L430.7 64.80 L431.2 63.21 L431.7 61.60 L432.2 60.02 L432.7 58.52 L433.2 57.14 L433.7 55.90 L434.2 54.72 L434.7 53.56 L435.2 52.45 L435.7 51.38 L436.2 50.35 L436.7 49.38 L437.2 48.46 L437.7 47.61 L438.2 46.81 L438.7 46.08 L439.2 45.38 L439.7 44.71 L440.2 44.06 L440.7 43.43 L441.2 42.82 L441.7 42.23 L442.2 41.67 L442.7 41.13 L443.2 40.61 L443.7 40.11 L444.2 39.63 L444.7 39.17 L445.2 38.73 L445.7 38.31 L446.2 37.91 L446.7 37.52 L447.2 37.15 L447.7 36.79 L448.2 36.43 L448.7 36.09 L449.2 35.75 L449.7 35.42 L450.2 35.10 L450.7 34.79 L451.2 34.49 L451.7 34.20 L452.2 33.92 L452.7 33.64 L453.2 33.38 L453.7 33.12 L454.2 32.87 L454.7 32.63 L455.2 32.40 L455.7 32.18 L456.2 31.97 L456.7 31.76 L457.2 31.56 L457.7 31.37 L458.2 31.19 L458.7 31.01 L459.2 30.83 L459.7 30.66 L460.2 30.49 L460.7 30.32 L461.2 30.16 L461.7 30.01 L462.2 29.86 L462.7 29.71 L463.2 29.56 L463.7 29.42 L464.2 29.29 L464.7 29.15 L465.2 29.02 L465.7 28.90 L466.2 28.77 L466.7 28.65 L467.2 28.54 L467.7 28.43 L468.2 28.32 L468.7 28.21 L469.2 28.11 L469.7 28.01 L470.2 27.91 L470.7 27.81 L471.2 27.72 L471.7 27.62 L472.2 27.53 L472.7 27.44 L473.2 27.36 L473.7 27.27 L474.2 27.19 L474.7 27.11 L475.2 27.03 L475.7 26.95 L476.2 26.87 L476.7 26.80 L477.2 26.72 L477.7 26.65 L478.2 26.58 L478.7 26.51 L479.2 26.45 L479.7 26.38 L480.2 26.32 L480.7 26.25 L481.2 26.19 L481.7 26.13 L482.2 26.08 L482.7 26.02 L483.2 25.96 L483.7 25.91 L484.2 25.85 L484.7 25.80 L485.2 25.74 L485.7 25.69 L486.2 25.64 L486.7 25.59 L487.2 25.54 L487.7 25.49 L488.2 25.44 L488.7 25.39 L489.2 25.35 L489.7 25.30 L490.2 25.26 L490.7 25.22 L491.2 25.18 L491.7 25.14 L492.2 25.10 L492.7 25.06 L493.2 25.03 L493.7 25.00 L494.2 24.97 L494.7 24.94 L495.2 24.91 L495.7 24.88 L496.2 24.86 L496.7 24.83 L497.2 24.80 L497.7 24.78 L498.2 24.75 L498.7 24.72 L499.2 24.70 L499.7 24.67 L500.2 24.65 L500.7 24.62 L501.2 24.60 L501.7 24.57 L502.2 24.55 L502.7 24.53 L503.2 24.50 L503.7 24.48 L504.2 24.46 L504.7 24.44 L505.2 24.42 L505.7 24.40 L506.2 24.38 L506.7 24.36 L507.2 24.34 L507.7 24.32 L508.2 24.31 L508.7 24.29 L509.2 24.28 L509.7 24.26 L510.2 24.25 L510.7 24.24 M402.2 21.90 L402.7 24.50 L403.2 26.79 L403.7 28.93 L404.2 31.01 L404.7 33.11 L405.2 35.20 L405.7 37.05 L406.2 39.07 L406.7 41.72 L407.2 46.38 L407.7 53.38 L408.2 59.74 L408.7 65.48 L409.2 70.82 L409.7 74.95 L410.2 77.53 L410.7 79.44 L411.2 81.16 L411.7 83.14 L412.2 85.27 L412.7 87.18 L413.2 88.54 L413.7 89.76 L414.2 90.87 L414.7 91.77 L415.2 92.34 L415.7 92.49 L416.2 92.29 L416.7 91.83 L417.2 91.19 L417.7 90.41 L418.2 89.55 L418.7 88.67 L419.2 87.82 L419.7 86.81 L420.2 85.64 L420.7 84.37 L421.2 83.08 L421.7 81.86 L422.2 80.78 L422.7 79.88 L423.2 79.09 L423.7 78.36 L424.2 77.65 L424.7 76.92 L425.2 76.12 L425.7 75.22 L426.2 74.23 L426.7 73.17 L427.2 72.04 L427.7 70.86 L428.2 69.65 L428.7 68.40 L429.2 67.13 L429.7 65.85 L430.2 64.58 L430.7 63.28 L431.2 61.89 L431.7 60.45 L432.2 59.00 L432.7 57.57 L433.2 56.20 L433.7 54.94 L434.2 53.81 L434.7 52.73 L435.2 51.68 L435.7 50.66 L436.2 49.68 L436.7 48.74 L437.2 47.85 L437.7 47.00 L438.2 46.20 L438.7 45.46 L439.2 44.78 L439.7 44.14 L440.2 43.51 L440.7 42.91 L441.2 42.33 L441.7 41.77 L442.2 41.23 L442.7 40.71 L443.2 40.20 L443.7 39.72 L444.2 39.25 L444.7 38.80 L445.2 38.37 L445.7 37.96 L446.2 37.56 L446.7 37.18 L447.2 36.82 L447.7 36.48 L448.2 36.14 L448.7 35.81 L449.2 35.49 L449.7 35.18 L450.2 34.87 L450.7 34.57 L451.2 34.28 L451.7 34.00 L452.2 33.73 L452.7 33.46 L453.2 33.20 L453.7 32.95 L454.2 32.71 L454.7 32.47 L455.2 32.24 L455.7 32.02 L456.2 31.81 L456.7 31.60 L457.2 31.41 L457.7 31.22 L458.2 31.03 L458.7 30.86 L459.2 30.69 L459.7 30.52 L460.2 30.36 L460.7 30.20 L461.2 30.04 L461.7 29.89 L462.2 29.74 L462.7 29.60 L463.2 29.46 L463.7 29.32 L464.2 29.19 L464.7 29.06 L465.2 28.93 L465.7 28.80 L466.2 28.68 L466.7 28.57 L467.2 28.45 L467.7 28.34 L468.2 28.23 L468.7 28.13 L469.2 28.02 L469.7 27.92 L470.2 27.83 L470.7 27.73 L471.2 27.64 L471.7 27.55 L472.2 27.46 L472.7 27.37 L473.2 27.29 L473.7 27.21 L474.2 27.13 L474.7 27.05 L475.2 26.97 L475.7 26.89 L476.2 26.82 L476.7 26.74 L477.2 26.67 L477.7 26.60 L478.2 26.53 L478.7 26.46 L479.2 26.40 L479.7 26.33 L480.2 26.27 L480.7 26.21 L481.2 26.15 L481.7 26.09 L482.2 26.03 L482.7 25.97 L483.2 25.92 L483.7 25.86 L484.2 25.81 L484.7 25.76 L485.2 25.71 L485.7 25.66 L486.2 25.61 L486.7 25.56 L487.2 25.51 L487.7 25.46 L488.2 25.41 L488.7 25.37 L489.2 25.32 L489.7 25.27 L490.2 25.23 L490.7 25.19 L491.2 25.15 L491.7 25.10 L492.2 25.06 L492.7 25.03 L493.2 24.99 L493.7 24.95 L494.2 24.92 L494.7 24.88 L495.2 24.85 L495.7 24.82 L496.2 24.79 L496.7 24.76 L497.2 24.74 L497.7 24.71 L498.2 24.69 L498.7 24.66 L499.2 24.64 L499.7 24.61 L500.2 24.59 L500.7 24.57 L501.2 24.54 L501.7 24.52 L502.2 24.50 L502.7 24.47 L503.2 24.45 L503.7 24.43 L504.2 24.41 L504.7 24.38 L505.2 24.36 L505.7 24.34 L506.2 24.32 L506.7 24.30 L507.2 24.28 L507.7 24.26 L508.2 24.24 L508.7 24.23 L509.2 24.21 L509.7 24.19 L510.2 24.18 L510.7 24.16 M402.2 21.90 L402.7 24.32 L403.2 26.44 L403.7 28.43 L404.2 30.36 L404.7 32.31 L405.2 34.26 L405.7 35.97 L406.2 37.85 L406.7 40.32 L407.2 44.65 L407.7 51.15 L408.2 57.06 L408.7 62.39 L409.2 67.36 L409.7 71.19 L410.2 73.59 L410.7 75.36 L411.2 76.97 L411.7 78.80 L412.2 80.79 L412.7 82.56 L413.2 83.82 L413.7 84.95 L414.2 85.98 L414.7 86.82 L415.2 87.35 L415.7 87.49 L416.2 87.31 L416.7 86.91 L417.2 86.34 L417.7 85.65 L418.2 84.88 L418.7 84.09 L419.2 83.32 L419.7 82.46 L420.2 81.43 L420.7 80.30 L421.2 79.14 L421.7 78.02 L422.2 76.99 L422.7 76.12 L423.2 75.36 L423.7 74.68 L424.2 74.04 L424.7 73.39 L425.2 72.71 L425.7 71.96 L426.2 71.11 L426.7 70.20 L427.2 69.22 L427.7 68.19 L428.2 67.11 L428.7 66.01 L429.2 64.88 L429.7 63.73 L430.2 62.58 L430.7 61.43 L431.2 60.25 L431.7 59.00 L432.2 57.70 L432.7 56.39 L433.2 55.10 L433.7 53.86 L434.2 52.72 L434.7 51.68 L435.2 50.71 L435.7 49.76 L436.2 48.83 L436.7 47.94 L437.2 47.08 L437.7 46.27 L438.2 45.49 L438.7 44.75 L439.2 44.06 L439.7 43.42 L440.2 42.83 L440.7 42.26 L441.2 41.71 L441.7 41.18 L442.2 40.66 L442.7 40.16 L443.2 39.68 L443.7 39.22 L444.2 38.77 L444.7 38.34 L445.2 37.92 L445.7 37.52 L446.2 37.13 L446.7 36.76 L447.2 36.41 L447.7 36.07 L448.2 35.74 L448.7 35.43 L449.2 35.13 L449.7 34.83 L450.2 34.54 L450.7 34.26 L451.2 33.98 L451.7 33.71 L452.2 33.45 L452.7 33.20 L453.2 32.95 L453.7 32.70 L454.2 32.47 L454.7 32.24 L455.2 32.02 L455.7 31.80 L456.2 31.60 L456.7 31.39 L457.2 31.20 L457.7 31.01 L458.2 30.83 L458.7 30.65 L459.2 30.49 L459.7 30.32 L460.2 30.17 L460.7 30.02 L461.2 29.87 L461.7 29.72 L462.2 29.58 L462.7 29.44 L463.2 29.30 L463.7 29.17 L464.2 29.04 L464.7 28.91 L465.2 28.79 L465.7 28.67 L466.2 28.55 L466.7 28.43 L467.2 28.32 L467.7 28.21 L468.2 28.11 L468.7 28.00 L469.2 27.90 L469.7 27.80 L470.2 27.71 L470.7 27.61 L471.2 27.52 L471.7 27.44 L472.2 27.35 L472.7 27.27 L473.2 27.18 L473.7 27.10 L474.2 27.02 L474.7 26.95 L475.2 26.87 L475.7 26.80 L476.2 26.72 L476.7 26.65 L477.2 26.58 L477.7 26.51 L478.2 26.45 L478.7 26.38 L479.2 26.32 L479.7 26.25 L480.2 26.19 L480.7 26.13 L481.2 26.07 L481.7 26.01 L482.2 25.96 L482.7 25.90 L483.2 25.85 L483.7 25.79 L484.2 25.74 L484.7 25.69 L485.2 25.64 L485.7 25.59 L486.2 25.54 L486.7 25.50 L487.2 25.45 L487.7 25.40 L488.2 25.36 L488.7 25.31 L489.2 25.27 L489.7 25.23 L490.2 25.18 L490.7 25.14 L491.2 25.10 L491.7 25.06 L492.2 25.02 L492.7 24.98 L493.2 24.94 L493.7 24.90 L494.2 24.86 L494.7 24.83 L495.2 24.79 L495.7 24.76 L496.2 24.73 L496.7 24.70 L497.2 24.67 L497.7 24.64 L498.2 24.61 L498.7 24.58 L499.2 24.56 L499.7 24.54 L500.2 24.51 L500.7 24.49 L501.2 24.47 L501.7 24.45 L502.2 24.43 L502.7 24.40 L503.2 24.38 L503.7 24.36 L504.2 24.34 L504.7 24.32 L505.2 24.30 L505.7 24.28 L506.2 24.26 L506.7 24.24 L507.2 24.22 L507.7 24.20 L508.2 24.18 L508.7 24.16 L509.2 24.14 L509.7 24.12 L510.2 24.11 L510.7 24.09 M402.2 21.90 L402.7 24.13 L403.2 26.10 L403.7 27.93 L404.2 29.72 L404.7 31.52 L405.2 33.31 L405.7 34.90 L406.2 36.63 L406.7 38.92 L407.2 42.91 L407.7 48.92 L408.2 54.38 L408.7 59.31 L409.2 63.89 L409.7 67.43 L410.2 69.65 L410.7 71.29 L411.2 72.77 L411.7 74.46 L412.2 76.30 L412.7 77.93 L413.2 79.10 L413.7 80.15 L414.2 81.10 L414.7 81.87 L415.2 82.37 L415.7 82.50 L416.2 82.34 L416.7 81.99 L417.2 81.49 L417.7 80.87 L418.2 80.19 L418.7 79.48 L419.2 78.79 L419.7 78.05 L420.2 77.16 L420.7 76.16 L421.2 75.13 L421.7 74.10 L422.2 73.14 L422.7 72.29 L423.2 71.58 L423.7 70.95 L424.2 70.36 L424.7 69.78 L425.2 69.19 L425.7 68.56 L426.2 67.85 L426.7 67.06 L427.2 66.22 L427.7 65.33 L428.2 64.39 L428.7 63.42 L429.2 62.42 L429.7 61.40 L430.2 60.37 L430.7 59.34 L431.2 58.31 L431.7 57.25 L432.2 56.12 L432.7 54.95 L433.2 53.78 L433.7 52.62 L434.2 51.51 L434.7 50.47 L435.2 49.53 L435.7 48.65 L436.2 47.79 L436.7 46.96 L437.2 46.15 L437.7 45.38 L438.2 44.63 L438.7 43.92 L439.2 43.25 L439.7 42.62 L440.2 42.02 L440.7 41.48 L441.2 40.96 L441.7 40.46 L442.2 39.97 L442.7 39.50 L443.2 39.04 L443.7 38.60 L444.2 38.17 L444.7 37.76 L445.2 37.36 L445.7 36.98 L446.2 36.61 L446.7 36.25 L447.2 35.91 L447.7 35.58 L448.2 35.26 L448.7 34.96 L449.2 34.67 L449.7 34.39 L450.2 34.12 L450.7 33.85 L451.2 33.59 L451.7 33.34 L452.2 33.09 L452.7 32.85 L453.2 32.61 L453.7 32.38 L454.2 32.16 L454.7 31.94 L455.2 31.72 L455.7 31.52 L456.2 31.32 L456.7 31.12 L457.2 30.93 L457.7 30.75 L458.2 30.57 L458.7 30.40 L459.2 30.23 L459.7 30.07 L460.2 29.92 L460.7 29.77 L461.2 29.63 L461.7 29.49 L462.2 29.35 L462.7 29.22 L463.2 29.09 L463.7 28.96 L464.2 28.84 L464.7 28.72 L465.2 28.60 L465.7 28.48 L466.2 28.37 L466.7 28.26 L467.2 28.15 L467.7 28.04 L468.2 27.94 L468.7 27.84 L469.2 27.74 L469.7 27.65 L470.2 27.55 L470.7 27.46 L471.2 27.37 L471.7 27.29 L472.2 27.20 L472.7 27.12 L473.2 27.04 L473.7 26.96 L474.2 26.89 L474.7 26.81 L475.2 26.74 L475.7 26.67 L476.2 26.60 L476.7 26.53 L477.2 26.46 L477.7 26.40 L478.2 26.33 L478.7 26.27 L479.2 26.20 L479.7 26.14 L480.2 26.08 L480.7 26.02 L481.2 25.97 L481.7 25.91 L482.2 25.86 L482.7 25.80 L483.2 25.75 L483.7 25.70 L484.2 25.64 L484.7 25.59 L485.2 25.55 L485.7 25.50 L486.2 25.45 L486.7 25.40 L487.2 25.36 L487.7 25.32 L488.2 25.27 L488.7 25.23 L489.2 25.19 L489.7 25.15 L490.2 25.11 L490.7 25.07 L491.2 25.03 L491.7 24.99 L492.2 24.95 L492.7 24.91 L493.2 24.87 L493.7 24.84 L494.2 24.80 L494.7 24.76 L495.2 24.73 L495.7 24.69 L496.2 24.66 L496.7 24.63 L497.2 24.60 L497.7 24.57 L498.2 24.54 L498.7 24.51 L499.2 24.48 L499.7 24.45 L500.2 24.43 L500.7 24.40 L501.2 24.38 L501.7 24.36 L502.2 24.33 L502.7 24.31 L503.2 24.29 L503.7 24.27 L504.2 24.26 L504.7 24.24 L505.2 24.22 L505.7 24.20 L506.2 24.18 L506.7 24.16 L507.2 24.14 L507.7 24.12 L508.2 24.10 L508.7 24.08 L509.2 24.07 L509.7 24.05 L510.2 24.03 L510.7 24.01 M402.2 21.90 L402.7 23.90 L403.2 25.67 L403.7 27.32 L404.2 28.92 L404.7 30.54 L405.2 32.15 L405.7 33.57 L406.2 35.13 L406.7 37.18 L407.2 40.76 L407.7 46.16 L408.2 51.05 L408.7 55.48 L409.2 59.59 L409.7 62.78 L410.2 64.76 L410.7 66.23 L411.2 67.56 L411.7 69.09 L412.2 70.73 L412.7 72.20 L413.2 73.25 L413.7 74.19 L414.2 75.04 L414.7 75.74 L415.2 76.18 L415.7 76.30 L416.2 76.16 L416.7 75.87 L417.2 75.45 L417.7 74.92 L418.2 74.34 L418.7 73.73 L419.2 73.12 L419.7 72.51 L420.2 71.77 L420.7 70.93 L421.2 70.04 L421.7 69.14 L422.2 68.28 L422.7 67.49 L423.2 66.82 L423.7 66.24 L424.2 65.71 L424.7 65.21 L425.2 64.71 L425.7 64.19 L426.2 63.62 L426.7 62.99 L427.2 62.30 L427.7 61.56 L428.2 60.78 L428.7 59.96 L429.2 59.12 L429.7 58.25 L430.2 57.37 L430.7 56.48 L431.2 55.58 L431.7 54.69 L432.2 53.77 L432.7 52.80 L433.2 51.80 L433.7 50.78 L434.2 49.77 L434.7 48.79 L435.2 47.87 L435.7 47.02 L436.2 46.25 L436.7 45.49 L437.2 44.76 L437.7 44.05 L438.2 43.36 L438.7 42.70 L439.2 42.07 L439.7 41.46 L440.2 40.89 L440.7 40.35 L441.2 39.85 L441.7 39.38 L442.2 38.93 L442.7 38.50 L443.2 38.08 L443.7 37.67 L444.2 37.28 L444.7 36.89 L445.2 36.52 L445.7 36.17 L446.2 35.82 L446.7 35.49 L447.2 35.16 L447.7 34.85 L448.2 34.55 L448.7 34.26 L449.2 33.99 L449.7 33.72 L450.2 33.46 L450.7 33.22 L451.2 32.98 L451.7 32.75 L452.2 32.52 L452.7 32.29 L453.2 32.08 L453.7 31.86 L454.2 31.65 L454.7 31.45 L455.2 31.25 L455.7 31.06 L456.2 30.87 L456.7 30.69 L457.2 30.51 L457.7 30.34 L458.2 30.17 L458.7 30.00 L459.2 29.84 L459.7 29.69 L460.2 29.54 L460.7 29.40 L461.2 29.26 L461.7 29.12 L462.2 28.99 L462.7 28.87 L463.2 28.75 L463.7 28.63 L464.2 28.51 L464.7 28.40 L465.2 28.29 L465.7 28.18 L466.2 28.07 L466.7 27.97 L467.2 27.87 L467.7 27.77 L468.2 27.67 L468.7 27.57 L469.2 27.48 L469.7 27.39 L470.2 27.30 L470.7 27.21 L471.2 27.13 L471.7 27.05 L472.2 26.97 L472.7 26.89 L473.2 26.81 L473.7 26.73 L474.2 26.66 L474.7 26.59 L475.2 26.52 L475.7 26.45 L476.2 26.39 L476.7 26.32 L477.2 26.26 L477.7 26.20 L478.2 26.14 L478.7 26.08 L479.2 26.02 L479.7 25.96 L480.2 25.90 L480.7 25.85 L481.2 25.79 L481.7 25.74 L482.2 25.69 L482.7 25.64 L483.2 25.59 L483.7 25.54 L484.2 25.49 L484.7 25.44 L485.2 25.39 L485.7 25.35 L486.2 25.30 L486.7 25.26 L487.2 25.21 L487.7 25.17 L488.2 25.13 L488.7 25.09 L489.2 25.05 L489.7 25.01 L490.2 24.97 L490.7 24.93 L491.2 24.90 L491.7 24.86 L492.2 24.83 L492.7 24.79 L493.2 24.76 L493.7 24.72 L494.2 24.69 L494.7 24.65 L495.2 24.62 L495.7 24.59 L496.2 24.55 L496.7 24.52 L497.2 24.49 L497.7 24.46 L498.2 24.43 L498.7 24.40 L499.2 24.37 L499.7 24.34 L500.2 24.32 L500.7 24.29 L501.2 24.26 L501.7 24.24 L502.2 24.21 L502.7 24.19 L503.2 24.17 L503.7 24.15 L504.2 24.13 L504.7 24.11 L505.2 24.09 L505.7 24.07 L506.2 24.05 L506.7 24.04 L507.2 24.02 L507.7 24.00 L508.2 23.99 L508.7 23.97 L509.2 23.95 L509.7 23.94 L510.2 23.92 L510.7 23.90 M402.2 21.90 L402.7 23.67 L403.2 25.23 L403.7 26.69 L404.2 28.11 L404.7 29.54 L405.2 30.96 L405.7 32.22 L406.2 33.60 L406.7 35.41 L407.2 38.58 L407.7 43.35 L408.2 47.68 L408.7 51.59 L409.2 55.23 L409.7 58.04 L410.2 59.80 L410.7 61.10 L411.2 62.28 L411.7 63.62 L412.2 65.08 L412.7 66.38 L413.2 67.30 L413.7 68.13 L414.2 68.89 L414.7 69.50 L415.2 69.89 L415.7 70.00 L416.2 69.89 L416.7 69.64 L417.2 69.29 L417.7 68.85 L418.2 68.36 L418.7 67.84 L419.2 67.32 L419.7 66.81 L420.2 66.21 L420.7 65.52 L421.2 64.77 L421.7 64.00 L422.2 63.24 L422.7 62.53 L423.2 61.91 L423.7 61.38 L424.2 60.91 L424.7 60.46 L425.2 60.04 L425.7 59.61 L426.2 59.15 L426.7 58.66 L427.2 58.10 L427.7 57.50 L428.2 56.86 L428.7 56.19 L429.2 55.49 L429.7 54.77 L430.2 54.03 L430.7 53.28 L431.2 52.52 L431.7 51.75 L432.2 50.99 L432.7 50.21 L433.2 49.39 L433.7 48.54 L434.2 47.67 L434.7 46.80 L435.2 45.95 L435.7 45.15 L436.2 44.40 L436.7 43.72 L437.2 43.07 L437.7 42.43 L438.2 41.82 L438.7 41.22 L439.2 40.64 L439.7 40.08 L440.2 39.55 L440.7 39.04 L441.2 38.56 L441.7 38.11 L442.2 37.68 L442.7 37.29 L443.2 36.91 L443.7 36.54 L444.2 36.18 L444.7 35.83 L445.2 35.50 L445.7 35.17 L446.2 34.85 L446.7 34.55 L447.2 34.25 L447.7 33.96 L448.2 33.69 L448.7 33.42 L449.2 33.16 L449.7 32.91 L450.2 32.67 L450.7 32.44 L451.2 32.22 L451.7 32.00 L452.2 31.80 L452.7 31.59 L453.2 31.40 L453.7 31.20 L454.2 31.02 L454.7 30.83 L455.2 30.65 L455.7 30.47 L456.2 30.30 L456.7 30.13 L457.2 29.97 L457.7 29.81 L458.2 29.65 L458.7 29.50 L459.2 29.35 L459.7 29.21 L460.2 29.07 L460.7 28.93 L461.2 28.80 L461.7 28.67 L462.2 28.55 L462.7 28.43 L463.2 28.31 L463.7 28.20 L464.2 28.09 L464.7 27.99 L465.2 27.89 L465.7 27.79 L466.2 27.69 L466.7 27.59 L467.2 27.50 L467.7 27.41 L468.2 27.32 L468.7 27.23 L469.2 27.14 L469.7 27.06 L470.2 26.97 L470.7 26.89 L471.2 26.81 L471.7 26.74 L472.2 26.66 L472.7 26.59 L473.2 26.52 L473.7 26.45 L474.2 26.38 L474.7 26.31 L475.2 26.24 L475.7 26.18 L476.2 26.12 L476.7 26.06 L477.2 26.00 L477.7 25.94 L478.2 25.88 L478.7 25.83 L479.2 25.77 L479.7 25.72 L480.2 25.67 L480.7 25.61 L481.2 25.56 L481.7 25.51 L482.2 25.47 L482.7 25.42 L483.2 25.37 L483.7 25.32 L484.2 25.28 L484.7 25.23 L485.2 25.19 L485.7 25.15 L486.2 25.10 L486.7 25.06 L487.2 25.02 L487.7 24.98 L488.2 24.94 L488.7 24.91 L489.2 24.87 L489.7 24.83 L490.2 24.79 L490.7 24.76 L491.2 24.72 L491.7 24.69 L492.2 24.66 L492.7 24.62 L493.2 24.59 L493.7 24.56 L494.2 24.53 L494.7 24.50 L495.2 24.47 L495.7 24.44 L496.2 24.41 L496.7 24.38 L497.2 24.35 L497.7 24.32 L498.2 24.29 L498.7 24.26 L499.2 24.24 L499.7 24.21 L500.2 24.18 L500.7 24.16 L501.2 24.13 L501.7 24.11 L502.2 24.08 L502.7 24.06 L503.2 24.03 L503.7 24.01 L504.2 23.99 L504.7 23.97 L505.2 23.95 L505.7 23.93 L506.2 23.91 L506.7 23.89 L507.2 23.87 L507.7 23.86 L508.2 23.84 L508.7 23.82 L509.2 23.81 L509.7 23.80 L510.2 23.78 L510.7 23.77 M402.2 21.90 L402.7 23.40 L403.2 24.71 L403.7 25.94 L404.2 27.14 L404.7 28.35 L405.2 29.55 L405.7 30.61 L406.2 31.77 L406.7 33.30 L407.2 35.98 L407.7 40.01 L408.2 43.66 L408.7 46.96 L409.2 50.03 L409.7 52.41 L410.2 53.89 L410.7 54.99 L411.2 55.98 L411.7 57.12 L412.2 58.34 L412.7 59.44 L413.2 60.22 L413.7 60.92 L414.2 61.56 L414.7 62.08 L415.2 62.41 L415.7 62.50 L416.2 62.41 L416.7 62.22 L417.2 61.94 L417.7 61.60 L418.2 61.20 L418.7 60.78 L419.2 60.36 L419.7 59.94 L420.2 59.49 L420.7 58.95 L421.2 58.36 L421.7 57.74 L422.2 57.12 L422.7 56.52 L423.2 55.97 L423.7 55.50 L424.2 55.09 L424.7 54.71 L425.2 54.36 L425.7 54.01 L426.2 53.66 L426.7 53.29 L427.2 52.88 L427.7 52.43 L428.2 51.94 L428.7 51.42 L429.2 50.88 L429.7 50.31 L430.2 49.73 L430.7 49.13 L431.2 48.52 L431.7 47.90 L432.2 47.28 L432.7 46.66 L433.2 46.04 L433.7 45.39 L434.2 44.71 L434.7 44.00 L435.2 43.30 L435.7 42.60 L436.2 41.92 L436.7 41.28 L437.2 40.69 L437.7 40.16 L438.2 39.63 L438.7 39.12 L439.2 38.62 L439.7 38.14 L440.2 37.67 L440.7 37.22 L441.2 36.79 L441.7 36.38 L442.2 35.99 L442.7 35.62 L443.2 35.27 L443.7 34.95 L444.2 34.64 L444.7 34.34 L445.2 34.04 L445.7 33.76 L446.2 33.48 L446.7 33.21 L447.2 32.95 L447.7 32.70 L448.2 32.45 L448.7 32.22 L449.2 31.99 L449.7 31.77 L450.2 31.55 L450.7 31.34 L451.2 31.14 L451.7 30.95 L452.2 30.76 L452.7 30.58 L453.2 30.41 L453.7 30.24 L454.2 30.08 L454.7 29.92 L455.2 29.76 L455.7 29.61 L456.2 29.46 L456.7 29.31 L457.2 29.17 L457.7 29.03 L458.2 28.89 L458.7 28.76 L459.2 28.63 L459.7 28.50 L460.2 28.37 L460.7 28.25 L461.2 28.13 L461.7 28.02 L462.2 27.91 L462.7 27.80 L463.2 27.69 L463.7 27.59 L464.2 27.49 L464.7 27.39 L465.2 27.30 L465.7 27.21 L466.2 27.12 L466.7 27.04 L467.2 26.95 L467.7 26.87 L468.2 26.79 L468.7 26.71 L469.2 26.64 L469.7 26.56 L470.2 26.49 L470.7 26.42 L471.2 26.35 L471.7 26.28 L472.2 26.21 L472.7 26.14 L473.2 26.08 L473.7 26.02 L474.2 25.95 L474.7 25.89 L475.2 25.83 L475.7 25.78 L476.2 25.72 L476.7 25.66 L477.2 25.61 L477.7 25.56 L478.2 25.50 L478.7 25.45 L479.2 25.40 L479.7 25.36 L480.2 25.31 L480.7 25.26 L481.2 25.22 L481.7 25.17 L482.2 25.13 L482.7 25.09 L483.2 25.05 L483.7 25.00 L484.2 24.96 L484.7 24.92 L485.2 24.88 L485.7 24.85 L486.2 24.81 L486.7 24.77 L487.2 24.73 L487.7 24.70 L488.2 24.66 L488.7 24.63 L489.2 24.59 L489.7 24.56 L490.2 24.53 L490.7 24.50 L491.2 24.46 L491.7 24.43 L492.2 24.40 L492.7 24.37 L493.2 24.34 L493.7 24.31 L494.2 24.29 L494.7 24.26 L495.2 24.23 L495.7 24.20 L496.2 24.18 L496.7 24.15 L497.2 24.13 L497.7 24.10 L498.2 24.08 L498.7 24.05 L499.2 24.03 L499.7 24.00 L500.2 23.98 L500.7 23.96 L501.2 23.93 L501.7 23.91 L502.2 23.89 L502.7 23.87 L503.2 23.84 L503.7 23.82 L504.2 23.80 L504.7 23.78 L505.2 23.76 L505.7 23.74 L506.2 23.72 L506.7 23.70 L507.2 23.68 L507.7 23.67 L508.2 23.65 L508.7 23.63 L509.2 23.62 L509.7 23.60 L510.2 23.58 L510.7 23.57 M402.2 21.90 L402.7 23.08 L403.2 24.11 L403.7 25.08 L404.2 26.02 L404.7 26.96 L405.2 27.91 L405.7 28.74 L406.2 29.66 L406.7 30.86 L407.2 32.96 L407.7 36.13 L408.2 39.00 L408.7 41.59 L409.2 44.00 L409.7 45.87 L410.2 47.04 L410.7 47.90 L411.2 48.68 L411.7 49.57 L412.2 50.53 L412.7 51.40 L413.2 52.01 L413.7 52.56 L414.2 53.06 L414.7 53.47 L415.2 53.73 L415.7 53.80 L416.2 53.74 L416.7 53.60 L417.2 53.39 L417.7 53.14 L418.2 52.85 L418.7 52.54 L419.2 52.22 L419.7 51.90 L420.2 51.58 L420.7 51.21 L421.2 50.78 L421.7 50.32 L422.2 49.85 L422.7 49.38 L423.2 48.95 L423.7 48.55 L424.2 48.21 L424.7 47.91 L425.2 47.63 L425.7 47.37 L426.2 47.11 L426.7 46.84 L427.2 46.56 L427.7 46.26 L428.2 45.92 L428.7 45.55 L429.2 45.17 L429.7 44.76 L430.2 44.34 L430.7 43.90 L431.2 43.46 L431.7 43.00 L432.2 42.54 L432.7 42.07 L433.2 41.61 L433.7 41.14 L434.2 40.67 L434.7 40.17 L435.2 39.65 L435.7 39.12 L436.2 38.59 L436.7 38.06 L437.2 37.56 L437.7 37.08 L438.2 36.64 L438.7 36.24 L439.2 35.84 L439.7 35.46 L440.2 35.08 L440.7 34.72 L441.2 34.37 L441.7 34.02 L442.2 33.70 L442.7 33.38 L443.2 33.08 L443.7 32.80 L444.2 32.53 L444.7 32.28 L445.2 32.04 L445.7 31.81 L446.2 31.59 L446.7 31.37 L447.2 31.16 L447.7 30.95 L448.2 30.75 L448.7 30.55 L449.2 30.36 L449.7 30.18 L450.2 30.00 L450.7 29.83 L451.2 29.66 L451.7 29.50 L452.2 29.34 L452.7 29.19 L453.2 29.05 L453.7 28.90 L454.2 28.77 L454.7 28.64 L455.2 28.51 L455.7 28.39 L456.2 28.26 L456.7 28.14 L457.2 28.03 L457.7 27.91 L458.2 27.80 L458.7 27.69 L459.2 27.58 L459.7 27.48 L460.2 27.38 L460.7 27.28 L461.2 27.18 L461.7 27.08 L462.2 26.99 L462.7 26.90 L463.2 26.81 L463.7 26.72 L464.2 26.63 L464.7 26.55 L465.2 26.47 L465.7 26.39 L466.2 26.32 L466.7 26.24 L467.2 26.17 L467.7 26.10 L468.2 26.04 L468.7 25.97 L469.2 25.91 L469.7 25.85 L470.2 25.79 L470.7 25.73 L471.2 25.67 L471.7 25.61 L472.2 25.56 L472.7 25.50 L473.2 25.45 L473.7 25.39 L474.2 25.34 L474.7 25.29 L475.2 25.24 L475.7 25.19 L476.2 25.14 L476.7 25.10 L477.2 25.05 L477.7 25.01 L478.2 24.96 L478.7 24.92 L479.2 24.88 L479.7 24.84 L480.2 24.80 L480.7 24.76 L481.2 24.72 L481.7 24.68 L482.2 24.64 L482.7 24.61 L483.2 24.57 L483.7 24.54 L484.2 24.50 L484.7 24.47 L485.2 24.44 L485.7 24.41 L486.2 24.37 L486.7 24.34 L487.2 24.31 L487.7 24.28 L488.2 24.25 L488.7 24.22 L489.2 24.20 L489.7 24.17 L490.2 24.14 L490.7 24.11 L491.2 24.09 L491.7 24.06 L492.2 24.03 L492.7 24.01 L493.2 23.98 L493.7 23.96 L494.2 23.93 L494.7 23.91 L495.2 23.89 L495.7 23.86 L496.2 23.84 L496.7 23.82 L497.2 23.80 L497.7 23.78 L498.2 23.76 L498.7 23.73 L499.2 23.71 L499.7 23.69 L500.2 23.68 L500.7 23.66 L501.2 23.64 L501.7 23.62 L502.2 23.60 L502.7 23.58 L503.2 23.56 L503.7 23.55 L504.2 23.53 L504.7 23.51 L505.2 23.49 L505.7 23.48 L506.2 23.46 L506.7 23.44 L507.2 23.43 L507.7 23.41 L508.2 23.39 L508.7 23.38 L509.2 23.36 L509.7 23.35 L510.2 23.33 L510.7 23.32 M402.2 21.90 L402.7 22.84 L403.2 23.67 L403.7 24.45 L404.2 25.20 L404.7 25.96 L405.2 26.72 L405.7 27.39 L406.2 28.12 L406.7 29.09 L407.2 30.78 L407.7 33.32 L408.2 35.62 L408.7 37.70 L409.2 39.64 L409.7 41.14 L410.2 42.07 L410.7 42.76 L411.2 43.39 L411.7 44.11 L412.2 44.88 L412.7 45.57 L413.2 46.07 L413.7 46.51 L414.2 46.91 L414.7 47.23 L415.2 47.44 L415.7 47.50 L416.2 47.45 L416.7 47.35 L417.2 47.19 L417.7 47.00 L418.2 46.78 L418.7 46.54 L419.2 46.29 L419.7 46.04 L420.2 45.80 L420.7 45.52 L421.2 45.19 L421.7 44.84 L422.2 44.48 L422.7 44.11 L423.2 43.76 L423.7 43.44 L424.2 43.15 L424.7 42.90 L425.2 42.68 L425.7 42.47 L426.2 42.26 L426.7 42.06 L427.2 41.85 L427.7 41.63 L428.2 41.38 L428.7 41.11 L429.2 40.83 L429.7 40.52 L430.2 40.21 L430.7 39.88 L431.2 39.54 L431.7 39.19 L432.2 38.83 L432.7 38.47 L433.2 38.11 L433.7 37.75 L434.2 37.39 L434.7 37.02 L435.2 36.63 L435.7 36.23 L436.2 35.82 L436.7 35.41 L437.2 35.00 L437.7 34.60 L438.2 34.22 L438.7 33.87 L439.2 33.54 L439.7 33.23 L440.2 32.93 L440.7 32.63 L441.2 32.35 L441.7 32.07 L442.2 31.79 L442.7 31.53 L443.2 31.28 L443.7 31.04 L444.2 30.81 L444.7 30.59 L445.2 30.39 L445.7 30.19 L446.2 30.01 L446.7 29.83 L447.2 29.66 L447.7 29.49 L448.2 29.32 L448.7 29.16 L449.2 29.01 L449.7 28.85 L450.2 28.71 L450.7 28.56 L451.2 28.42 L451.7 28.29 L452.2 28.16 L452.7 28.03 L453.2 27.91 L453.7 27.79 L454.2 27.67 L454.7 27.56 L455.2 27.45 L455.7 27.35 L456.2 27.25 L456.7 27.15 L457.2 27.06 L457.7 26.96 L458.2 26.87 L458.7 26.78 L459.2 26.69 L459.7 26.61 L460.2 26.52 L460.7 26.44 L461.2 26.36 L461.7 26.28 L462.2 26.20 L462.7 26.12 L463.2 26.05 L463.7 25.98 L464.2 25.90 L464.7 25.83 L465.2 25.77 L465.7 25.70 L466.2 25.64 L466.7 25.57 L467.2 25.51 L467.7 25.45 L468.2 25.40 L468.7 25.34 L469.2 25.29 L469.7 25.23 L470.2 25.18 L470.7 25.13 L471.2 25.09 L471.7 25.04 L472.2 24.99 L472.7 24.95 L473.2 24.90 L473.7 24.86 L474.2 24.81 L474.7 24.77 L475.2 24.73 L475.7 24.69 L476.2 24.65 L476.7 24.61 L477.2 24.57 L477.7 24.53 L478.2 24.50 L478.7 24.46 L479.2 24.42 L479.7 24.39 L480.2 24.35 L480.7 24.32 L481.2 24.29 L481.7 24.26 L482.2 24.22 L482.7 24.19 L483.2 24.16 L483.7 24.13 L484.2 24.11 L484.7 24.08 L485.2 24.05 L485.7 24.02 L486.2 24.00 L486.7 23.97 L487.2 23.95 L487.7 23.92 L488.2 23.90 L488.7 23.87 L489.2 23.85 L489.7 23.82 L490.2 23.80 L490.7 23.78 L491.2 23.75 L491.7 23.73 L492.2 23.71 L492.7 23.69 L493.2 23.67 L493.7 23.65 L494.2 23.63 L494.7 23.61 L495.2 23.59 L495.7 23.57 L496.2 23.55 L496.7 23.53 L497.2 23.51 L497.7 23.49 L498.2 23.48 L498.7 23.46 L499.2 23.44 L499.7 23.42 L500.2 23.41 L500.7 23.39 L501.2 23.38 L501.7 23.36 L502.2 23.34 L502.7 23.33 L503.2 23.31 L503.7 23.30 L504.2 23.28 L504.7 23.27 L505.2 23.26 L505.7 23.24 L506.2 23.23 L506.7 23.21 L507.2 23.20 L507.7 23.19 L508.2 23.17 L508.7 23.16 L509.2 23.15 L509.7 23.13 L510.2 23.12 L510.7 23.11 M402.2 21.90 L402.7 22.61 L403.2 23.24 L403.7 23.83 L404.2 24.40 L404.7 24.98 L405.2 25.55 L405.7 26.06 L406.2 26.62 L406.7 27.35 L407.2 28.63 L407.7 30.55 L408.2 32.30 L408.7 33.87 L409.2 35.34 L409.7 36.48 L410.2 37.19 L410.7 37.71 L411.2 38.18 L411.7 38.73 L412.2 39.31 L412.7 39.84 L413.2 40.21 L413.7 40.55 L414.2 40.85 L414.7 41.10 L415.2 41.26 L415.7 41.30 L416.2 41.27 L416.7 41.19 L417.2 41.08 L417.7 40.94 L418.2 40.78 L418.7 40.60 L419.2 40.42 L419.7 40.24 L420.2 40.06 L420.7 39.86 L421.2 39.63 L421.7 39.38 L422.2 39.12 L422.7 38.85 L423.2 38.58 L423.7 38.33 L424.2 38.11 L424.7 37.91 L425.2 37.74 L425.7 37.58 L426.2 37.43 L426.7 37.28 L427.2 37.13 L427.7 36.97 L428.2 36.80 L428.7 36.62 L429.2 36.41 L429.7 36.20 L430.2 35.98 L430.7 35.74 L431.2 35.50 L431.7 35.25 L432.2 34.99 L432.7 34.73 L433.2 34.47 L433.7 34.20 L434.2 33.93 L434.7 33.66 L435.2 33.40 L435.7 33.11 L436.2 32.82 L436.7 32.52 L437.2 32.21 L437.7 31.91 L438.2 31.61 L438.7 31.33 L439.2 31.06 L439.7 30.82 L440.2 30.59 L440.7 30.36 L441.2 30.14 L441.7 29.93 L442.2 29.72 L442.7 29.51 L443.2 29.32 L443.7 29.13 L444.2 28.94 L444.7 28.77 L445.2 28.60 L445.7 28.44 L446.2 28.30 L446.7 28.16 L447.2 28.02 L447.7 27.89 L448.2 27.76 L448.7 27.64 L449.2 27.52 L449.7 27.40 L450.2 27.28 L450.7 27.17 L451.2 27.06 L451.7 26.96 L452.2 26.86 L452.7 26.76 L453.2 26.66 L453.7 26.56 L454.2 26.47 L454.7 26.39 L455.2 26.30 L455.7 26.22 L456.2 26.14 L456.7 26.06 L457.2 25.98 L457.7 25.91 L458.2 25.84 L458.7 25.77 L459.2 25.70 L459.7 25.64 L460.2 25.57 L460.7 25.51 L461.2 25.44 L461.7 25.38 L462.2 25.32 L462.7 25.26 L463.2 25.20 L463.7 25.14 L464.2 25.09 L464.7 25.03 L465.2 24.98 L465.7 24.93 L466.2 24.88 L466.7 24.83 L467.2 24.78 L467.7 24.73 L468.2 24.69 L468.7 24.64 L469.2 24.60 L469.7 24.56 L470.2 24.51 L470.7 24.47 L471.2 24.44 L471.7 24.40 L472.2 24.36 L472.7 24.33 L473.2 24.29 L473.7 24.26 L474.2 24.22 L474.7 24.19 L475.2 24.16 L475.7 24.12 L476.2 24.09 L476.7 24.06 L477.2 24.03 L477.7 24.00 L478.2 23.97 L478.7 23.94 L479.2 23.91 L479.7 23.89 L480.2 23.86 L480.7 23.83 L481.2 23.81 L481.7 23.78 L482.2 23.76 L482.7 23.73 L483.2 23.71 L483.7 23.68 L484.2 23.66 L484.7 23.64 L485.2 23.62 L485.7 23.59 L486.2 23.57 L486.7 23.55 L487.2 23.53 L487.7 23.51 L488.2 23.49 L488.7 23.47 L489.2 23.45 L489.7 23.44 L490.2 23.42 L490.7 23.40 L491.2 23.38 L491.7 23.36 L492.2 23.35 L492.7 23.33 L493.2 23.31 L493.7 23.30 L494.2 23.28 L494.7 23.27 L495.2 23.25 L495.7 23.23 L496.2 23.22 L496.7 23.20 L497.2 23.19 L497.7 23.17 L498.2 23.16 L498.7 23.15 L499.2 23.13 L499.7 23.12 L500.2 23.11 L500.7 23.09 L501.2 23.08 L501.7 23.07 L502.2 23.06 L502.7 23.04 L503.2 23.03 L503.7 23.02 L504.2 23.01 L504.7 23.00 L505.2 22.98 L505.7 22.97 L506.2 22.96 L506.7 22.95 L507.2 22.94 L507.7 22.93 L508.2 22.92 L508.7 22.91 L509.2 22.90 L509.7 22.89 L510.2 22.88 L510.7 22.87 M402.2 21.90 L402.7 22.38 L403.2 22.81 L403.7 23.20 L404.2 23.59 L404.7 23.98 L405.2 24.37 L405.7 24.71 L406.2 25.09 L406.7 25.58 L407.2 26.44 L407.7 27.74 L408.2 28.92 L408.7 29.99 L409.2 30.98 L409.7 31.74 L410.2 32.22 L410.7 32.58 L411.2 32.90 L411.7 33.26 L412.2 33.66 L412.7 34.01 L413.2 34.27 L413.7 34.49 L414.2 34.70 L414.7 34.86 L415.2 34.97 L415.7 35.00 L416.2 34.98 L416.7 34.93 L417.2 34.86 L417.7 34.77 L418.2 34.67 L418.7 34.55 L419.2 34.43 L419.7 34.31 L420.2 34.19 L420.7 34.07 L421.2 33.93 L421.7 33.77 L422.2 33.59 L422.7 33.42 L423.2 33.24 L423.7 33.07 L424.2 32.92 L424.7 32.78 L425.2 32.66 L425.7 32.55 L426.2 32.45 L426.7 32.35 L427.2 32.25 L427.7 32.15 L428.2 32.04 L428.7 31.93 L429.2 31.81 L429.7 31.67 L430.2 31.53 L430.7 31.38 L431.2 31.23 L431.7 31.07 L432.2 30.90 L432.7 30.74 L433.2 30.56 L433.7 30.39 L434.2 30.22 L434.7 30.04 L435.2 29.86 L435.7 29.69 L436.2 29.51 L436.7 29.31 L437.2 29.12 L437.7 28.92 L438.2 28.72 L438.7 28.52 L439.2 28.33 L439.7 28.15 L440.2 27.99 L440.7 27.83 L441.2 27.68 L441.7 27.54 L442.2 27.39 L442.7 27.25 L443.2 27.12 L443.7 26.99 L444.2 26.86 L444.7 26.74 L445.2 26.62 L445.7 26.51 L446.2 26.40 L446.7 26.30 L447.2 26.20 L447.7 26.11 L448.2 26.02 L448.7 25.94 L449.2 25.85 L449.7 25.77 L450.2 25.69 L450.7 25.61 L451.2 25.54 L451.7 25.46 L452.2 25.39 L452.7 25.32 L453.2 25.26 L453.7 25.19 L454.2 25.13 L454.7 25.06 L455.2 25.00 L455.7 24.95 L456.2 24.89 L456.7 24.83 L457.2 24.78 L457.7 24.73 L458.2 24.68 L458.7 24.63 L459.2 24.58 L459.7 24.54 L460.2 24.49 L460.7 24.45 L461.2 24.40 L461.7 24.36 L462.2 24.32 L462.7 24.28 L463.2 24.24 L463.7 24.20 L464.2 24.16 L464.7 24.12 L465.2 24.08 L465.7 24.05 L466.2 24.01 L466.7 23.98 L467.2 23.94 L467.7 23.91 L468.2 23.88 L468.7 23.85 L469.2 23.81 L469.7 23.78 L470.2 23.75 L470.7 23.73 L471.2 23.70 L471.7 23.67 L472.2 23.64 L472.7 23.62 L473.2 23.59 L473.7 23.57 L474.2 23.55 L474.7 23.52 L475.2 23.50 L475.7 23.48 L476.2 23.46 L476.7 23.43 L477.2 23.41 L477.7 23.39 L478.2 23.37 L478.7 23.35 L479.2 23.33 L479.7 23.31 L480.2 23.29 L480.7 23.27 L481.2 23.26 L481.7 23.24 L482.2 23.22 L482.7 23.20 L483.2 23.18 L483.7 23.17 L484.2 23.15 L484.7 23.14 L485.2 23.12 L485.7 23.10 L486.2 23.09 L486.7 23.07 L487.2 23.06 L487.7 23.05 L488.2 23.03 L488.7 23.02 L489.2 23.00 L489.7 22.99 L490.2 22.98 L490.7 22.97 L491.2 22.95 L491.7 22.94 L492.2 22.93 L492.7 22.92 L493.2 22.91 L493.7 22.89 L494.2 22.88 L494.7 22.87 L495.2 22.86 L495.7 22.85 L496.2 22.84 L496.7 22.83 L497.2 22.82 L497.7 22.81 L498.2 22.80 L498.7 22.79 L499.2 22.78 L499.7 22.77 L500.2 22.76 L500.7 22.75 L501.2 22.74 L501.7 22.73 L502.2 22.72 L502.7 22.71 L503.2 22.71 L503.7 22.70 L504.2 22.69 L504.7 22.68 L505.2 22.67 L505.7 22.66 L506.2 22.66 L506.7 22.65 L507.2 22.64 L507.7 22.63 L508.2 22.63 L508.7 22.62 L509.2 22.61 L509.7 22.61 L510.2 22.60 L510.7 22.59 M402.2 21.90 L402.7 22.20 L403.2 22.46 L403.7 22.71 L404.2 22.94 L404.7 23.19 L405.2 23.43 L405.7 23.64 L406.2 23.87 L406.7 24.17 L407.2 24.71 L407.7 25.51 L408.2 26.24 L408.7 26.90 L409.2 27.51 L409.7 27.99 L410.2 28.28 L410.7 28.50 L411.2 28.70 L411.7 28.93 L412.2 29.17 L412.7 29.39 L413.2 29.55 L413.7 29.69 L414.2 29.81 L414.7 29.92 L415.2 29.98 L415.7 30.00 L416.2 29.99 L416.7 29.96 L417.2 29.92 L417.7 29.86 L418.2 29.80 L418.7 29.73 L419.2 29.66 L419.7 29.59 L420.2 29.52 L420.7 29.44 L421.2 29.36 L421.7 29.26 L422.2 29.16 L422.7 29.06 L423.2 28.95 L423.7 28.85 L424.2 28.75 L424.7 28.66 L425.2 28.58 L425.7 28.51 L426.2 28.45 L426.7 28.39 L427.2 28.33 L427.7 28.27 L428.2 28.21 L428.7 28.14 L429.2 28.07 L429.7 28.00 L430.2 27.91 L430.7 27.83 L431.2 27.73 L431.7 27.64 L432.2 27.54 L432.7 27.44 L433.2 27.34 L433.7 27.24 L434.2 27.13 L434.7 27.02 L435.2 26.92 L435.7 26.81 L436.2 26.71 L436.7 26.60 L437.2 26.48 L437.7 26.36 L438.2 26.24 L438.7 26.12 L439.2 26.00 L439.7 25.89 L440.2 25.78 L440.7 25.67 L441.2 25.58 L441.7 25.49 L442.2 25.40 L442.7 25.31 L443.2 25.23 L443.7 25.15 L444.2 25.07 L444.7 24.99 L445.2 24.91 L445.7 24.84 L446.2 24.77 L446.7 24.71 L447.2 24.64 L447.7 24.58 L448.2 24.53 L448.7 24.47 L449.2 24.42 L449.7 24.37 L450.2 24.32 L450.7 24.27 L451.2 24.22 L451.7 24.18 L452.2 24.13 L452.7 24.09 L453.2 24.05 L453.7 24.00 L454.2 23.96 L454.7 23.92 L455.2 23.89 L455.7 23.85 L456.2 23.81 L456.7 23.78 L457.2 23.74 L457.7 23.71 L458.2 23.68 L458.7 23.65 L459.2 23.62 L459.7 23.59 L460.2 23.56 L460.7 23.53 L461.2 23.50 L461.7 23.48 L462.2 23.45 L462.7 23.42 L463.2 23.40 L463.7 23.37 L464.2 23.35 L464.7 23.33 L465.2 23.30 L465.7 23.28 L466.2 23.26 L466.7 23.23 L467.2 23.21 L467.7 23.19 L468.2 23.17 L468.7 23.15 L469.2 23.13 L469.7 23.11 L470.2 23.09 L470.7 23.07 L471.2 23.05 L471.7 23.04 L472.2 23.02 L472.7 23.00 L473.2 22.99 L473.7 22.97 L474.2 22.96 L474.7 22.94 L475.2 22.93 L475.7 22.91 L476.2 22.90 L476.7 22.89 L477.2 22.87 L477.7 22.86 L478.2 22.85 L478.7 22.83 L479.2 22.82 L479.7 22.81 L480.2 22.80 L480.7 22.78 L481.2 22.77 L481.7 22.76 L482.2 22.75 L482.7 22.74 L483.2 22.73 L483.7 22.72 L484.2 22.71 L484.7 22.70 L485.2 22.68 L485.7 22.67 L486.2 22.67 L486.7 22.66 L487.2 22.65 L487.7 22.64 L488.2 22.63 L488.7 22.62 L489.2 22.61 L489.7 22.60 L490.2 22.59 L490.7 22.59 L491.2 22.58 L491.7 22.57 L492.2 22.56 L492.7 22.55 L493.2 22.55 L493.7 22.54 L494.2 22.53 L494.7 22.53 L495.2 22.52 L495.7 22.51 L496.2 22.50 L496.7 22.50 L497.2 22.49 L497.7 22.48 L498.2 22.48 L498.7 22.47 L499.2 22.47 L499.7 22.46 L500.2 22.45 L500.7 22.45 L501.2 22.44 L501.7 22.44 L502.2 22.43 L502.7 22.42 L503.2 22.42 L503.7 22.41 L504.2 22.41 L504.7 22.40 L505.2 22.40 L505.7 22.39 L506.2 22.39 L506.7 22.38 L507.2 22.38 L507.7 22.37 L508.2 22.37 L508.7 22.36 L509.2 22.36 L509.7 22.35 L510.2 22.35 L510.7 22.35 M402.2 21.90 L402.7 22.06 L403.2 22.20 L403.7 22.34 L404.2 22.47 L404.7 22.60 L405.2 22.73 L405.7 22.84 L406.2 22.97 L406.7 23.14 L407.2 23.43 L407.7 23.86 L408.2 24.26 L408.7 24.62 L409.2 24.95 L409.7 25.21 L410.2 25.37 L410.7 25.49 L411.2 25.59 L411.7 25.72 L412.2 25.85 L412.7 25.97 L413.2 26.05 L413.7 26.13 L414.2 26.20 L414.7 26.25 L415.2 26.29 L415.7 26.30 L416.2 26.29 L416.7 26.28 L417.2 26.26 L417.7 26.23 L418.2 26.19 L418.7 26.16 L419.2 26.12 L419.7 26.08 L420.2 26.04 L420.7 26.00 L421.2 25.96 L421.7 25.91 L422.2 25.86 L422.7 25.80 L423.2 25.74 L423.7 25.69 L424.2 25.63 L424.7 25.59 L425.2 25.54 L425.7 25.50 L426.2 25.47 L426.7 25.44 L427.2 25.40 L427.7 25.37 L428.2 25.34 L428.7 25.31 L429.2 25.27 L429.7 25.23 L430.2 25.19 L430.7 25.14 L431.2 25.09 L431.7 25.04 L432.2 24.99 L432.7 24.94 L433.2 24.89 L433.7 24.83 L434.2 24.78 L434.7 24.72 L435.2 24.66 L435.7 24.61 L436.2 24.55 L436.7 24.49 L437.2 24.43 L437.7 24.37 L438.2 24.30 L438.7 24.24 L439.2 24.18 L439.7 24.11 L440.2 24.05 L440.7 23.99 L441.2 23.94 L441.7 23.89 L442.2 23.84 L442.7 23.80 L443.2 23.75 L443.7 23.70 L444.2 23.66 L444.7 23.62 L445.2 23.58 L445.7 23.54 L446.2 23.50 L446.7 23.46 L447.2 23.42 L447.7 23.39 L448.2 23.36 L448.7 23.33 L449.2 23.30 L449.7 23.27 L450.2 23.24 L450.7 23.22 L451.2 23.19 L451.7 23.17 L452.2 23.14 L452.7 23.12 L453.2 23.09 L453.7 23.07 L454.2 23.05 L454.7 23.03 L455.2 23.01 L455.7 22.98 L456.2 22.96 L456.7 22.94 L457.2 22.93 L457.7 22.91 L458.2 22.89 L458.7 22.87 L459.2 22.86 L459.7 22.84 L460.2 22.82 L460.7 22.81 L461.2 22.79 L461.7 22.78 L462.2 22.76 L462.7 22.75 L463.2 22.74 L463.7 22.72 L464.2 22.71 L464.7 22.70 L465.2 22.68 L465.7 22.67 L466.2 22.66 L466.7 22.64 L467.2 22.63 L467.7 22.62 L468.2 22.61 L468.7 22.60 L469.2 22.59 L469.7 22.58 L470.2 22.57 L470.7 22.56 L471.2 22.55 L471.7 22.54 L472.2 22.53 L472.7 22.52 L473.2 22.51 L473.7 22.50 L474.2 22.49 L474.7 22.48 L475.2 22.47 L475.7 22.47 L476.2 22.46 L476.7 22.45 L477.2 22.44 L477.7 22.44 L478.2 22.43 L478.7 22.42 L479.2 22.41 L479.7 22.41 L480.2 22.40 L480.7 22.39 L481.2 22.39 L481.7 22.38 L482.2 22.37 L482.7 22.37 L483.2 22.36 L483.7 22.36 L484.2 22.35 L484.7 22.34 L485.2 22.34 L485.7 22.33 L486.2 22.33 L486.7 22.32 L487.2 22.32 L487.7 22.31 L488.2 22.31 L488.7 22.30 L489.2 22.30 L489.7 22.29 L490.2 22.29 L490.7 22.28 L491.2 22.28 L491.7 22.27 L492.2 22.27 L492.7 22.27 L493.2 22.26 L493.7 22.26 L494.2 22.25 L494.7 22.25 L495.2 22.25 L495.7 22.24 L496.2 22.24 L496.7 22.23 L497.2 22.23 L497.7 22.23 L498.2 22.22 L498.7 22.22 L499.2 22.22 L499.7 22.21 L500.2 22.21 L500.7 22.21 L501.2 22.20 L501.7 22.20 L502.2 22.20 L502.7 22.19 L503.2 22.19 L503.7 22.19 L504.2 22.18 L504.7 22.18 L505.2 22.18 L505.7 22.18 L506.2 22.17 L506.7 22.17 L507.2 22.17 L507.7 22.16 L508.2 22.16 L508.7 22.16 L509.2 22.16 L509.7 22.15 L510.2 22.15 L510.7 22.15 M402.2 21.90 L402.7 21.97 L403.2 22.03 L403.7 22.09 L404.2 22.15 L404.7 22.20 L405.2 22.26 L405.7 22.31 L406.2 22.36 L406.7 22.43 L407.2 22.56 L407.7 22.75 L408.2 22.92 L408.7 23.07 L409.2 23.22 L409.7 23.33 L410.2 23.40 L410.7 23.45 L411.2 23.49 L411.7 23.55 L412.2 23.61 L412.7 23.66 L413.2 23.69 L413.7 23.73 L414.2 23.76 L414.7 23.78 L415.2 23.80 L415.7 23.80 L416.2 23.80 L416.7 23.79 L417.2 23.78 L417.7 23.77 L418.2 23.76 L418.7 23.74 L419.2 23.72 L419.7 23.71 L420.2 23.69 L420.7 23.67 L421.2 23.66 L421.7 23.63 L422.2 23.61 L422.7 23.59 L423.2 23.56 L423.7 23.54 L424.2 23.52 L424.7 23.50 L425.2 23.48 L425.7 23.46 L426.2 23.44 L426.7 23.43 L427.2 23.42 L427.7 23.40 L428.2 23.39 L428.7 23.38 L429.2 23.36 L429.7 23.34 L430.2 23.33 L430.7 23.31 L431.2 23.29 L431.7 23.27 L432.2 23.24 L432.7 23.22 L433.2 23.20 L433.7 23.18 L434.2 23.15 L434.7 23.13 L435.2 23.10 L435.7 23.08 L436.2 23.05 L436.7 23.03 L437.2 23.01 L437.7 22.98 L438.2 22.95 L438.7 22.92 L439.2 22.90 L439.7 22.87 L440.2 22.84 L440.7 22.82 L441.2 22.79 L441.7 22.77 L442.2 22.75 L442.7 22.73 L443.2 22.71 L443.7 22.69 L444.2 22.67 L444.7 22.65 L445.2 22.64 L445.7 22.62 L446.2 22.60 L446.7 22.58 L447.2 22.57 L447.7 22.55 L448.2 22.54 L448.7 22.53 L449.2 22.51 L449.7 22.50 L450.2 22.49 L450.7 22.48 L451.2 22.47 L451.7 22.46 L452.2 22.44 L452.7 22.43 L453.2 22.42 L453.7 22.41 L454.2 22.40 L454.7 22.39 L455.2 22.38 L455.7 22.38 L456.2 22.37 L456.7 22.36 L457.2 22.35 L457.7 22.34 L458.2 22.33 L458.7 22.33 L459.2 22.32 L459.7 22.31 L460.2 22.31 L460.7 22.30 L461.2 22.29 L461.7 22.29 L462.2 22.28 L462.7 22.27 L463.2 22.27 L463.7 22.26 L464.2 22.26 L464.7 22.25 L465.2 22.24 L465.7 22.24 L466.2 22.23 L466.7 22.23 L467.2 22.22 L467.7 22.22 L468.2 22.21 L468.7 22.21 L469.2 22.20 L469.7 22.20 L470.2 22.19 L470.7 22.19 L471.2 22.18 L471.7 22.18 L472.2 22.18 L472.7 22.17 L473.2 22.17 L473.7 22.16 L474.2 22.16 L474.7 22.16 L475.2 22.15 L475.7 22.15 L476.2 22.15 L476.7 22.14 L477.2 22.14 L477.7 22.14 L478.2 22.13 L478.7 22.13 L479.2 22.13 L479.7 22.12 L480.2 22.12 L480.7 22.12 L481.2 22.11 L481.7 22.11 L482.2 22.11 L482.7 22.11 L483.2 22.10 L483.7 22.10 L484.2 22.10 L484.7 22.10 L485.2 22.09 L485.7 22.09 L486.2 22.09 L486.7 22.09 L487.2 22.08 L487.7 22.08 L488.2 22.08 L488.7 22.08 L489.2 22.07 L489.7 22.07 L490.2 22.07 L490.7 22.07 L491.2 22.07 L491.7 22.06 L492.2 22.06 L492.7 22.06 L493.2 22.06 L493.7 22.06 L494.2 22.06 L494.7 22.05 L495.2 22.05 L495.7 22.05 L496.2 22.05 L496.7 22.05 L497.2 22.05 L497.7 22.04 L498.2 22.04 L498.7 22.04 L499.2 22.04 L499.7 22.04 L500.2 22.04 L500.7 22.03 L501.2 22.03 L501.7 22.03 L502.2 22.03 L502.7 22.03 L503.2 22.03 L503.7 22.03 L504.2 22.03 L504.7 22.02 L505.2 22.02 L505.7 22.02 L506.2 22.02 L506.7 22.02 L507.2 22.02 L507.7 22.02 L508.2 22.02 L508.7 22.01 L509.2 22.01 L509.7 22.01 L510.2 22.01 L510.7 22.01" fill="none" stroke="#dfa52a" stroke-width="1.2" stroke-linejoin="round" opacity="1"/>
<path d="M402.2 22.2 H510.7" stroke="#dfa52a" stroke-width="2.2"/>
<path d="M274.2 126.50 L274.7 129.55 L275.2 131.99 L275.7 134.16 L276.2 136.46 L276.7 139.31 L277.2 143.43 L277.7 149.35 L278.2 155.85 L278.7 163.04 L279.2 169.66 L279.7 175.57 L280.2 181.07 L280.7 185.54 L281.2 188.72 L281.7 191.24 L282.2 193.48 L282.7 195.81 L283.2 198.54 L283.7 201.35 L284.2 203.64 L284.7 205.06 L285.2 206.30 L285.7 207.42 L286.2 208.35 L286.7 209.04 L287.2 209.43 L287.7 209.47 L288.2 209.15 L288.7 208.55 L289.2 207.73 L289.7 206.76 L290.2 205.72 L290.7 204.67 L291.2 203.64 L291.7 202.42 L292.2 201.06 L292.7 199.60 L293.2 198.10 L293.7 196.61 L294.2 195.19 L294.7 193.78 L295.2 192.34 L295.7 190.89 L296.2 189.47 L296.7 188.08 L297.2 186.76 L297.7 185.52 L298.2 184.33 L298.7 183.18 L299.2 182.06 L299.7 180.97 L300.2 179.90 L300.7 178.84 L301.2 177.78 L301.7 176.73 L302.2 175.67 L302.7 174.60 L303.2 173.51 L303.7 172.38 L304.2 171.23 L304.7 170.07 L305.2 168.88 L305.7 167.70 L306.2 166.51 L306.7 165.33 L307.2 164.17 L307.7 163.03 L308.2 161.92 L308.7 160.84 L309.2 159.81 L309.7 158.83 L310.2 157.90 L310.7 157.04 L311.2 156.22 L311.7 155.42 L312.2 154.65 L312.7 153.90 L313.2 153.18 L313.7 152.49 L314.2 151.82 L314.7 151.18 L315.2 150.57 L315.7 149.99 L316.2 149.43 L316.7 148.90 L317.2 148.38 L317.7 147.88 L318.2 147.40 L318.7 146.92 L319.2 146.46 L319.7 146.01 L320.2 145.57 L320.7 145.15 L321.2 144.73 L321.7 144.32 L322.2 143.93 L322.7 143.54 L323.2 143.16 L323.7 142.79 L324.2 142.43 L324.7 142.07 L325.2 141.72 L325.7 141.37 L326.2 141.03 L326.7 140.70 L327.2 140.38 L327.7 140.07 L328.2 139.76 L328.7 139.46 L329.2 139.18 L329.7 138.90 L330.2 138.63 L330.7 138.37 L331.2 138.12 L331.7 137.88 L332.2 137.63 L332.7 137.39 L333.2 137.16 L333.7 136.92 L334.2 136.69 L334.7 136.46 L335.2 136.24 L335.7 136.03 L336.2 135.82 L336.7 135.61 L337.2 135.41 L337.7 135.23 L338.2 135.04 L338.7 134.87 L339.2 134.71 L339.7 134.55 L340.2 134.41 L340.7 134.28 L341.2 134.15 L341.7 134.03 L342.2 133.91 L342.7 133.80 L343.2 133.69 L343.7 133.58 L344.2 133.48 L344.7 133.38 L345.2 133.28 L345.7 133.19 L346.2 133.10 L346.7 133.01 L347.2 132.92 L347.7 132.84 L348.2 132.75 L348.7 132.67 L349.2 132.59 L349.7 132.51 L350.2 132.44 L350.7 132.36 L351.2 132.28 L351.7 132.21 L352.2 132.13 L352.7 132.05 L353.2 131.98 L353.7 131.90 L354.2 131.82 L354.7 131.75 L355.2 131.67 L355.7 131.60 L356.2 131.53 L356.7 131.45 L357.2 131.38 L357.7 131.31 L358.2 131.25 L358.7 131.18 L359.2 131.11 L359.7 131.05 L360.2 130.99 L360.7 130.94 L361.2 130.88 L361.7 130.83 L362.2 130.78 L362.7 130.73 L363.2 130.69 L363.7 130.65 L364.2 130.61 L364.7 130.57 L365.2 130.54 L365.7 130.50 L366.2 130.46 L366.7 130.42 L367.2 130.39 L367.7 130.35 L368.2 130.32 L368.7 130.28 L369.2 130.24 L369.7 130.21 L370.2 130.18 L370.7 130.14 L371.2 130.11 L371.7 130.08 L372.2 130.05 L372.7 130.02 L373.2 129.99 L373.7 129.96 L374.2 129.93 L374.7 129.90 L375.2 129.88 L375.7 129.85 L376.2 129.83 L376.7 129.81 L377.2 129.79 L377.7 129.77 L378.2 129.75 L378.7 129.73 L379.2 129.72 L379.7 129.71 L380.2 129.69 L380.7 129.68 L381.2 129.67 L381.7 129.67 L382.2 129.66 L382.7 129.66 L383.2 129.65 M274.2 126.50 L274.7 129.47 L275.2 131.85 L275.7 133.96 L276.2 136.20 L276.7 138.97 L277.2 142.98 L277.7 148.74 L278.2 155.07 L278.7 162.07 L279.2 168.52 L279.7 174.27 L280.2 179.62 L280.7 183.98 L281.2 187.07 L281.7 189.52 L282.2 191.70 L282.7 193.97 L283.2 196.63 L283.7 199.37 L284.2 201.59 L284.7 202.97 L285.2 204.19 L285.7 205.27 L286.2 206.18 L286.7 206.85 L287.2 207.23 L287.7 207.27 L288.2 206.97 L288.7 206.40 L289.2 205.62 L289.7 204.69 L290.2 203.70 L290.7 202.69 L291.2 201.71 L291.7 200.56 L292.2 199.27 L292.7 197.88 L293.2 196.44 L293.7 195.01 L294.2 193.63 L294.7 192.28 L295.2 190.90 L295.7 189.52 L296.2 188.14 L296.7 186.80 L297.2 185.52 L297.7 184.31 L298.2 183.15 L298.7 182.03 L299.2 180.95 L299.7 179.89 L300.2 178.86 L300.7 177.84 L301.2 176.83 L301.7 175.82 L302.2 174.81 L302.7 173.78 L303.2 172.74 L303.7 171.68 L304.2 170.59 L304.7 169.48 L305.2 168.35 L305.7 167.21 L306.2 166.07 L306.7 164.93 L307.2 163.81 L307.7 162.70 L308.2 161.62 L308.7 160.57 L309.2 159.55 L309.7 158.58 L310.2 157.65 L310.7 156.79 L311.2 155.97 L311.7 155.19 L312.2 154.43 L312.7 153.70 L313.2 152.99 L313.7 152.31 L314.2 151.65 L314.7 151.01 L315.2 150.41 L315.7 149.82 L316.2 149.27 L316.7 148.74 L317.2 148.23 L317.7 147.74 L318.2 147.26 L318.7 146.79 L319.2 146.34 L319.7 145.90 L320.2 145.47 L320.7 145.05 L321.2 144.64 L321.7 144.24 L322.2 143.85 L322.7 143.47 L323.2 143.10 L323.7 142.73 L324.2 142.38 L324.7 142.03 L325.2 141.68 L325.7 141.35 L326.2 141.01 L326.7 140.69 L327.2 140.37 L327.7 140.06 L328.2 139.76 L328.7 139.46 L329.2 139.18 L329.7 138.90 L330.2 138.63 L330.7 138.37 L331.2 138.12 L331.7 137.88 L332.2 137.64 L332.7 137.41 L333.2 137.18 L333.7 136.95 L334.2 136.72 L334.7 136.50 L335.2 136.28 L335.7 136.07 L336.2 135.86 L336.7 135.65 L337.2 135.45 L337.7 135.26 L338.2 135.08 L338.7 134.90 L339.2 134.73 L339.7 134.57 L340.2 134.42 L340.7 134.27 L341.2 134.14 L341.7 134.01 L342.2 133.90 L342.7 133.78 L343.2 133.67 L343.7 133.56 L344.2 133.46 L344.7 133.36 L345.2 133.26 L345.7 133.16 L346.2 133.07 L346.7 132.98 L347.2 132.90 L347.7 132.81 L348.2 132.73 L348.7 132.65 L349.2 132.57 L349.7 132.49 L350.2 132.42 L350.7 132.34 L351.2 132.27 L351.7 132.19 L352.2 132.12 L352.7 132.04 L353.2 131.97 L353.7 131.90 L354.2 131.82 L354.7 131.75 L355.2 131.68 L355.7 131.61 L356.2 131.53 L356.7 131.46 L357.2 131.39 L357.7 131.32 L358.2 131.26 L358.7 131.19 L359.2 131.12 L359.7 131.06 L360.2 131.00 L360.7 130.94 L361.2 130.88 L361.7 130.83 L362.2 130.77 L362.7 130.72 L363.2 130.67 L363.7 130.63 L364.2 130.59 L364.7 130.55 L365.2 130.51 L365.7 130.48 L366.2 130.44 L366.7 130.40 L367.2 130.37 L367.7 130.33 L368.2 130.30 L368.7 130.26 L369.2 130.23 L369.7 130.19 L370.2 130.16 L370.7 130.12 L371.2 130.09 L371.7 130.06 L372.2 130.03 L372.7 130.00 L373.2 129.97 L373.7 129.94 L374.2 129.91 L374.7 129.88 L375.2 129.85 L375.7 129.83 L376.2 129.80 L376.7 129.78 L377.2 129.76 L377.7 129.73 L378.2 129.71 L378.7 129.69 L379.2 129.68 L379.7 129.66 L380.2 129.64 L380.7 129.63 L381.2 129.62 L381.7 129.61 L382.2 129.60 L382.7 129.59 L383.2 129.58 M274.2 126.50 L274.7 129.36 L275.2 131.65 L275.7 133.68 L276.2 135.84 L276.7 138.51 L277.2 142.37 L277.7 147.92 L278.2 154.01 L278.7 160.75 L279.2 166.96 L279.7 172.49 L280.2 177.65 L280.7 181.84 L281.2 184.82 L281.7 187.18 L282.2 189.28 L282.7 191.46 L283.2 194.03 L283.7 196.66 L284.2 198.81 L284.7 200.13 L285.2 201.30 L285.7 202.35 L286.2 203.22 L286.7 203.87 L287.2 204.24 L287.7 204.27 L288.2 203.99 L288.7 203.46 L289.2 202.73 L289.7 201.87 L290.2 200.93 L290.7 199.98 L291.2 199.06 L291.7 198.00 L292.2 196.80 L292.7 195.50 L293.2 194.15 L293.7 192.79 L294.2 191.47 L294.7 190.21 L295.2 188.91 L295.7 187.60 L296.2 186.29 L296.7 185.01 L297.2 183.78 L297.7 182.61 L298.2 181.50 L298.7 180.43 L299.2 179.39 L299.7 178.39 L300.2 177.40 L300.7 176.43 L301.2 175.47 L301.7 174.52 L302.2 173.56 L302.7 172.60 L303.2 171.63 L303.7 170.64 L304.2 169.63 L304.7 168.59 L305.2 167.53 L305.7 166.46 L306.2 165.39 L306.7 164.31 L307.2 163.24 L307.7 162.19 L308.2 161.14 L308.7 160.13 L309.2 159.14 L309.7 158.18 L310.2 157.27 L310.7 156.40 L311.2 155.59 L311.7 154.83 L312.2 154.09 L312.7 153.37 L313.2 152.68 L313.7 152.01 L314.2 151.37 L314.7 150.74 L315.2 150.14 L315.7 149.57 L316.2 149.02 L316.7 148.49 L317.2 147.99 L317.7 147.50 L318.2 147.04 L318.7 146.58 L319.2 146.14 L319.7 145.71 L320.2 145.28 L320.7 144.88 L321.2 144.48 L321.7 144.09 L322.2 143.71 L322.7 143.34 L323.2 142.97 L323.7 142.62 L324.2 142.27 L324.7 141.93 L325.2 141.60 L325.7 141.27 L326.2 140.95 L326.7 140.64 L327.2 140.33 L327.7 140.02 L328.2 139.72 L328.7 139.43 L329.2 139.15 L329.7 138.88 L330.2 138.61 L330.7 138.35 L331.2 138.10 L331.7 137.86 L332.2 137.62 L332.7 137.39 L333.2 137.17 L333.7 136.95 L334.2 136.74 L334.7 136.52 L335.2 136.31 L335.7 136.10 L336.2 135.89 L336.7 135.69 L337.2 135.49 L337.7 135.30 L338.2 135.11 L338.7 134.93 L339.2 134.76 L339.7 134.59 L340.2 134.43 L340.7 134.28 L341.2 134.13 L341.7 134.00 L342.2 133.87 L342.7 133.75 L343.2 133.64 L343.7 133.53 L344.2 133.42 L344.7 133.32 L345.2 133.22 L345.7 133.12 L346.2 133.03 L346.7 132.94 L347.2 132.85 L347.7 132.77 L348.2 132.69 L348.7 132.61 L349.2 132.53 L349.7 132.45 L350.2 132.38 L350.7 132.30 L351.2 132.23 L351.7 132.16 L352.2 132.09 L352.7 132.02 L353.2 131.95 L353.7 131.88 L354.2 131.81 L354.7 131.74 L355.2 131.67 L355.7 131.60 L356.2 131.53 L356.7 131.46 L357.2 131.39 L357.7 131.33 L358.2 131.26 L358.7 131.19 L359.2 131.13 L359.7 131.06 L360.2 131.00 L360.7 130.94 L361.2 130.88 L361.7 130.82 L362.2 130.77 L362.7 130.71 L363.2 130.66 L363.7 130.61 L364.2 130.56 L364.7 130.52 L365.2 130.48 L365.7 130.44 L366.2 130.40 L366.7 130.36 L367.2 130.33 L367.7 130.30 L368.2 130.26 L368.7 130.23 L369.2 130.19 L369.7 130.16 L370.2 130.13 L370.7 130.09 L371.2 130.06 L371.7 130.03 L372.2 130.00 L372.7 129.97 L373.2 129.94 L373.7 129.91 L374.2 129.88 L374.7 129.85 L375.2 129.82 L375.7 129.79 L376.2 129.77 L376.7 129.74 L377.2 129.72 L377.7 129.69 L378.2 129.67 L378.7 129.65 L379.2 129.62 L379.7 129.60 L380.2 129.59 L380.7 129.57 L381.2 129.55 L381.7 129.54 L382.2 129.52 L382.7 129.51 L383.2 129.50 M274.2 126.50 L274.7 129.23 L275.2 131.41 L275.7 133.35 L276.2 135.41 L276.7 137.95 L277.2 141.63 L277.7 146.93 L278.2 152.74 L278.7 159.16 L279.2 165.08 L279.7 170.37 L280.2 175.28 L280.7 179.28 L281.2 182.13 L281.7 184.37 L282.2 186.37 L282.7 188.46 L283.2 190.90 L283.7 193.42 L284.2 195.46 L284.7 196.73 L285.2 197.84 L285.7 198.84 L286.2 199.67 L286.7 200.29 L287.2 200.64 L287.7 200.68 L288.2 200.42 L288.7 199.93 L289.2 199.26 L289.7 198.47 L290.2 197.60 L290.7 196.71 L291.2 195.85 L291.7 194.89 L292.2 193.80 L292.7 192.60 L293.2 191.35 L293.7 190.08 L294.2 188.84 L294.7 187.65 L295.2 186.45 L295.7 185.23 L296.2 184.01 L296.7 182.81 L297.2 181.64 L297.7 180.52 L298.2 179.46 L298.7 178.45 L299.2 177.46 L299.7 176.51 L300.2 175.58 L300.7 174.67 L301.2 173.77 L301.7 172.88 L302.2 171.99 L302.7 171.10 L303.2 170.20 L303.7 169.29 L304.2 168.36 L304.7 167.41 L305.2 166.44 L305.7 165.45 L306.2 164.45 L306.7 163.45 L307.2 162.45 L307.7 161.45 L308.2 160.47 L308.7 159.50 L309.2 158.55 L309.7 157.63 L310.2 156.74 L310.7 155.88 L311.2 155.07 L311.7 154.31 L312.2 153.60 L312.7 152.91 L313.2 152.24 L313.7 151.59 L314.2 150.96 L314.7 150.35 L315.2 149.77 L315.7 149.20 L316.2 148.66 L316.7 148.14 L317.2 147.64 L317.7 147.16 L318.2 146.71 L318.7 146.27 L319.2 145.84 L319.7 145.42 L320.2 145.01 L320.7 144.61 L321.2 144.23 L321.7 143.85 L322.2 143.48 L322.7 143.12 L323.2 142.77 L323.7 142.43 L324.2 142.09 L324.7 141.77 L325.2 141.45 L325.7 141.13 L326.2 140.82 L326.7 140.52 L327.2 140.22 L327.7 139.93 L328.2 139.64 L328.7 139.36 L329.2 139.08 L329.7 138.81 L330.2 138.55 L330.7 138.29 L331.2 138.04 L331.7 137.80 L332.2 137.57 L332.7 137.34 L333.2 137.12 L333.7 136.91 L334.2 136.70 L334.7 136.50 L335.2 136.29 L335.7 136.09 L336.2 135.89 L336.7 135.70 L337.2 135.50 L337.7 135.31 L338.2 135.13 L338.7 134.95 L339.2 134.77 L339.7 134.60 L340.2 134.44 L340.7 134.28 L341.2 134.13 L341.7 133.98 L342.2 133.84 L342.7 133.71 L343.2 133.59 L343.7 133.47 L344.2 133.37 L344.7 133.26 L345.2 133.16 L345.7 133.06 L346.2 132.97 L346.7 132.88 L347.2 132.79 L347.7 132.70 L348.2 132.62 L348.7 132.54 L349.2 132.46 L349.7 132.38 L350.2 132.31 L350.7 132.24 L351.2 132.17 L351.7 132.10 L352.2 132.03 L352.7 131.96 L353.2 131.89 L353.7 131.83 L354.2 131.76 L354.7 131.70 L355.2 131.63 L355.7 131.57 L356.2 131.50 L356.7 131.44 L357.2 131.37 L357.7 131.31 L358.2 131.24 L358.7 131.18 L359.2 131.12 L359.7 131.06 L360.2 130.99 L360.7 130.93 L361.2 130.87 L361.7 130.81 L362.2 130.76 L362.7 130.70 L363.2 130.64 L363.7 130.59 L364.2 130.54 L364.7 130.49 L365.2 130.44 L365.7 130.40 L366.2 130.35 L366.7 130.31 L367.2 130.28 L367.7 130.24 L368.2 130.21 L368.7 130.17 L369.2 130.14 L369.7 130.11 L370.2 130.08 L370.7 130.05 L371.2 130.02 L371.7 129.98 L372.2 129.95 L372.7 129.92 L373.2 129.89 L373.7 129.86 L374.2 129.83 L374.7 129.80 L375.2 129.78 L375.7 129.75 L376.2 129.72 L376.7 129.69 L377.2 129.67 L377.7 129.64 L378.2 129.62 L378.7 129.59 L379.2 129.57 L379.7 129.55 L380.2 129.53 L380.7 129.50 L381.2 129.48 L381.7 129.47 L382.2 129.45 L382.7 129.43 L383.2 129.41 M274.2 126.50 L274.7 129.08 L275.2 131.15 L275.7 132.99 L276.2 134.94 L276.7 137.35 L277.2 140.84 L277.7 145.85 L278.2 151.36 L278.7 157.45 L279.2 163.06 L279.7 168.06 L280.2 172.72 L280.7 176.51 L281.2 179.20 L281.7 181.33 L282.2 183.23 L282.7 185.20 L283.2 187.52 L283.7 189.90 L284.2 191.84 L284.7 193.04 L285.2 194.09 L285.7 195.04 L286.2 195.83 L286.7 196.41 L287.2 196.74 L287.7 196.78 L288.2 196.55 L288.7 196.10 L289.2 195.50 L289.7 194.77 L290.2 193.97 L290.7 193.15 L291.2 192.35 L291.7 191.49 L292.2 190.50 L292.7 189.42 L293.2 188.27 L293.7 187.09 L294.2 185.93 L294.7 184.82 L295.2 183.72 L295.7 182.60 L296.2 181.47 L296.7 180.35 L297.2 179.25 L297.7 178.19 L298.2 177.18 L298.7 176.22 L299.2 175.30 L299.7 174.40 L300.2 173.53 L300.7 172.68 L301.2 171.84 L301.7 171.01 L302.2 170.19 L302.7 169.37 L303.2 168.54 L303.7 167.71 L304.2 166.86 L304.7 166.00 L305.2 165.12 L305.7 164.22 L306.2 163.30 L306.7 162.38 L307.2 161.45 L307.7 160.52 L308.2 159.60 L308.7 158.69 L309.2 157.79 L309.7 156.92 L310.2 156.06 L310.7 155.24 L311.2 154.44 L311.7 153.69 L312.2 152.97 L312.7 152.31 L313.2 151.66 L313.7 151.04 L314.2 150.44 L314.7 149.85 L315.2 149.28 L315.7 148.73 L316.2 148.20 L316.7 147.69 L317.2 147.20 L317.7 146.73 L318.2 146.28 L318.7 145.85 L319.2 145.44 L319.7 145.04 L320.2 144.64 L320.7 144.26 L321.2 143.89 L321.7 143.52 L322.2 143.17 L322.7 142.82 L323.2 142.49 L323.7 142.16 L324.2 141.84 L324.7 141.52 L325.2 141.21 L325.7 140.91 L326.2 140.61 L326.7 140.32 L327.2 140.04 L327.7 139.76 L328.2 139.48 L328.7 139.21 L329.2 138.94 L329.7 138.68 L330.2 138.43 L330.7 138.18 L331.2 137.93 L331.7 137.70 L332.2 137.47 L332.7 137.24 L333.2 137.02 L333.7 136.81 L334.2 136.61 L334.7 136.41 L335.2 136.22 L335.7 136.03 L336.2 135.84 L336.7 135.65 L337.2 135.47 L337.7 135.29 L338.2 135.11 L338.7 134.93 L339.2 134.76 L339.7 134.59 L340.2 134.42 L340.7 134.26 L341.2 134.11 L341.7 133.96 L342.2 133.81 L342.7 133.67 L343.2 133.54 L343.7 133.41 L344.2 133.30 L344.7 133.19 L345.2 133.08 L345.7 132.98 L346.2 132.89 L346.7 132.79 L347.2 132.70 L347.7 132.62 L348.2 132.53 L348.7 132.45 L349.2 132.37 L349.7 132.30 L350.2 132.22 L350.7 132.15 L351.2 132.08 L351.7 132.01 L352.2 131.94 L352.7 131.88 L353.2 131.81 L353.7 131.75 L354.2 131.68 L354.7 131.62 L355.2 131.56 L355.7 131.50 L356.2 131.44 L356.7 131.38 L357.2 131.32 L357.7 131.26 L358.2 131.20 L358.7 131.14 L359.2 131.08 L359.7 131.02 L360.2 130.96 L360.7 130.90 L361.2 130.85 L361.7 130.79 L362.2 130.73 L362.7 130.68 L363.2 130.62 L363.7 130.57 L364.2 130.51 L364.7 130.46 L365.2 130.41 L365.7 130.36 L366.2 130.32 L366.7 130.27 L367.2 130.23 L367.7 130.19 L368.2 130.15 L368.7 130.11 L369.2 130.07 L369.7 130.04 L370.2 130.01 L370.7 129.98 L371.2 129.95 L371.7 129.92 L372.2 129.89 L372.7 129.86 L373.2 129.83 L373.7 129.80 L374.2 129.78 L374.7 129.75 L375.2 129.72 L375.7 129.69 L376.2 129.66 L376.7 129.64 L377.2 129.61 L377.7 129.59 L378.2 129.56 L378.7 129.53 L379.2 129.51 L379.7 129.49 L380.2 129.46 L380.7 129.44 L381.2 129.42 L381.7 129.40 L382.2 129.38 L382.7 129.36 L383.2 129.34 M274.2 126.50 L274.7 128.92 L275.2 130.86 L275.7 132.58 L276.2 134.41 L276.7 136.67 L277.2 139.94 L277.7 144.64 L278.2 149.81 L278.7 155.51 L279.2 160.77 L279.7 165.46 L280.2 169.83 L280.7 173.38 L281.2 175.90 L281.7 177.90 L282.2 179.68 L282.7 181.53 L283.2 183.70 L283.7 185.93 L284.2 187.75 L284.7 188.87 L285.2 189.86 L285.7 190.75 L286.2 191.49 L286.7 192.04 L287.2 192.35 L287.7 192.38 L288.2 192.18 L288.7 191.78 L289.2 191.23 L289.7 190.58 L290.2 189.86 L290.7 189.11 L291.2 188.37 L291.7 187.61 L292.2 186.74 L292.7 185.76 L293.2 184.73 L293.7 183.66 L294.2 182.59 L294.7 181.56 L295.2 180.56 L295.7 179.54 L296.2 178.51 L296.7 177.48 L297.2 176.47 L297.7 175.48 L298.2 174.53 L298.7 173.63 L299.2 172.77 L299.7 171.94 L300.2 171.13 L300.7 170.34 L301.2 169.57 L301.7 168.80 L302.2 168.05 L302.7 167.30 L303.2 166.55 L303.7 165.79 L304.2 165.03 L304.7 164.26 L305.2 163.47 L305.7 162.66 L306.2 161.84 L306.7 161.00 L307.2 160.16 L307.7 159.31 L308.2 158.47 L308.7 157.63 L309.2 156.79 L309.7 155.97 L310.2 155.17 L310.7 154.38 L311.2 153.62 L311.7 152.89 L312.2 152.19 L312.7 151.53 L313.2 150.90 L313.7 150.31 L314.2 149.74 L314.7 149.18 L315.2 148.63 L315.7 148.11 L316.2 147.60 L316.7 147.10 L317.2 146.63 L317.7 146.17 L318.2 145.73 L318.7 145.31 L319.2 144.91 L319.7 144.52 L320.2 144.14 L320.7 143.78 L321.2 143.42 L321.7 143.08 L322.2 142.74 L322.7 142.41 L323.2 142.08 L323.7 141.77 L324.2 141.46 L324.7 141.16 L325.2 140.87 L325.7 140.58 L326.2 140.30 L326.7 140.02 L327.2 139.75 L327.7 139.49 L328.2 139.23 L328.7 138.97 L329.2 138.72 L329.7 138.47 L330.2 138.22 L330.7 137.98 L331.2 137.75 L331.7 137.52 L332.2 137.30 L332.7 137.08 L333.2 136.86 L333.7 136.66 L334.2 136.46 L334.7 136.26 L335.2 136.07 L335.7 135.89 L336.2 135.71 L336.7 135.54 L337.2 135.36 L337.7 135.19 L338.2 135.02 L338.7 134.85 L339.2 134.69 L339.7 134.52 L340.2 134.36 L340.7 134.21 L341.2 134.05 L341.7 133.90 L342.2 133.76 L342.7 133.61 L343.2 133.48 L343.7 133.35 L344.2 133.22 L344.7 133.10 L345.2 132.98 L345.7 132.88 L346.2 132.77 L346.7 132.68 L347.2 132.59 L347.7 132.50 L348.2 132.42 L348.7 132.33 L349.2 132.25 L349.7 132.18 L350.2 132.10 L350.7 132.03 L351.2 131.96 L351.7 131.89 L352.2 131.82 L352.7 131.76 L353.2 131.69 L353.7 131.63 L354.2 131.57 L354.7 131.51 L355.2 131.45 L355.7 131.39 L356.2 131.34 L356.7 131.28 L357.2 131.22 L357.7 131.17 L358.2 131.11 L358.7 131.06 L359.2 131.01 L359.7 130.95 L360.2 130.90 L360.7 130.84 L361.2 130.79 L361.7 130.73 L362.2 130.68 L362.7 130.63 L363.2 130.57 L363.7 130.52 L364.2 130.47 L364.7 130.42 L365.2 130.37 L365.7 130.32 L366.2 130.27 L366.7 130.22 L367.2 130.18 L367.7 130.13 L368.2 130.09 L368.7 130.05 L369.2 130.01 L369.7 129.97 L370.2 129.93 L370.7 129.90 L371.2 129.86 L371.7 129.83 L372.2 129.80 L372.7 129.78 L373.2 129.75 L373.7 129.72 L374.2 129.69 L374.7 129.67 L375.2 129.64 L375.7 129.61 L376.2 129.59 L376.7 129.56 L377.2 129.54 L377.7 129.51 L378.2 129.49 L378.7 129.46 L379.2 129.44 L379.7 129.41 L380.2 129.39 L380.7 129.37 L381.2 129.34 L381.7 129.32 L382.2 129.30 L382.7 129.28 L383.2 129.26 M274.2 126.50 L274.7 128.73 L275.2 130.51 L275.7 132.09 L276.2 133.77 L276.7 135.85 L277.2 138.86 L277.7 143.18 L278.2 147.93 L278.7 153.18 L279.2 158.01 L279.7 162.33 L280.2 166.34 L280.7 169.61 L281.2 171.93 L281.7 173.77 L282.2 175.40 L282.7 177.10 L283.2 179.10 L283.7 181.15 L284.2 182.82 L284.7 183.86 L285.2 184.76 L285.7 185.58 L286.2 186.26 L286.7 186.76 L287.2 187.05 L287.7 187.08 L288.2 186.91 L288.7 186.56 L289.2 186.08 L289.7 185.51 L290.2 184.87 L290.7 184.21 L291.2 183.54 L291.7 182.89 L292.2 182.13 L292.7 181.29 L293.2 180.38 L293.7 179.44 L294.2 178.48 L294.7 177.54 L295.2 176.65 L295.7 175.75 L296.2 174.83 L296.7 173.91 L297.2 173.00 L297.7 172.10 L298.2 171.23 L298.7 170.40 L299.2 169.62 L299.7 168.86 L300.2 168.12 L300.7 167.40 L301.2 166.70 L301.7 166.01 L302.2 165.33 L302.7 164.66 L303.2 163.99 L303.7 163.32 L304.2 162.65 L304.7 161.97 L305.2 161.28 L305.7 160.58 L306.2 159.86 L306.7 159.13 L307.2 158.39 L307.7 157.64 L308.2 156.88 L308.7 156.13 L309.2 155.38 L309.7 154.63 L310.2 153.89 L310.7 153.17 L311.2 152.46 L311.7 151.77 L312.2 151.11 L312.7 150.47 L313.2 149.86 L313.7 149.28 L314.2 148.74 L314.7 148.22 L315.2 147.71 L315.7 147.21 L316.2 146.73 L316.7 146.27 L317.2 145.82 L317.7 145.38 L318.2 144.96 L318.7 144.55 L319.2 144.16 L319.7 143.79 L320.2 143.42 L320.7 143.08 L321.2 142.75 L321.7 142.42 L322.2 142.10 L322.7 141.79 L323.2 141.49 L323.7 141.19 L324.2 140.90 L324.7 140.62 L325.2 140.34 L325.7 140.07 L326.2 139.81 L326.7 139.55 L327.2 139.30 L327.7 139.05 L328.2 138.81 L328.7 138.57 L329.2 138.33 L329.7 138.10 L330.2 137.88 L330.7 137.65 L331.2 137.43 L331.7 137.22 L332.2 137.00 L332.7 136.79 L333.2 136.59 L333.7 136.39 L334.2 136.20 L334.7 136.01 L335.2 135.82 L335.7 135.65 L336.2 135.47 L336.7 135.30 L337.2 135.14 L337.7 134.98 L338.2 134.82 L338.7 134.67 L339.2 134.52 L339.7 134.36 L340.2 134.21 L340.7 134.07 L341.2 133.92 L341.7 133.78 L342.2 133.64 L342.7 133.50 L343.2 133.36 L343.7 133.23 L344.2 133.10 L344.7 132.98 L345.2 132.86 L345.7 132.74 L346.2 132.63 L346.7 132.53 L347.2 132.43 L347.7 132.33 L348.2 132.24 L348.7 132.16 L349.2 132.08 L349.7 132.00 L350.2 131.93 L350.7 131.85 L351.2 131.78 L351.7 131.71 L352.2 131.65 L352.7 131.58 L353.2 131.52 L353.7 131.46 L354.2 131.40 L354.7 131.34 L355.2 131.28 L355.7 131.23 L356.2 131.17 L356.7 131.12 L357.2 131.07 L357.7 131.01 L358.2 130.96 L358.7 130.91 L359.2 130.86 L359.7 130.81 L360.2 130.77 L360.7 130.72 L361.2 130.67 L361.7 130.62 L362.2 130.57 L362.7 130.52 L363.2 130.47 L363.7 130.43 L364.2 130.38 L364.7 130.33 L365.2 130.28 L365.7 130.23 L366.2 130.19 L366.7 130.14 L367.2 130.10 L367.7 130.05 L368.2 130.01 L368.7 129.96 L369.2 129.92 L369.7 129.88 L370.2 129.84 L370.7 129.80 L371.2 129.76 L371.7 129.73 L372.2 129.69 L372.7 129.66 L373.2 129.63 L373.7 129.60 L374.2 129.57 L374.7 129.55 L375.2 129.52 L375.7 129.50 L376.2 129.47 L376.7 129.45 L377.2 129.42 L377.7 129.40 L378.2 129.38 L378.7 129.35 L379.2 129.33 L379.7 129.31 L380.2 129.28 L380.7 129.26 L381.2 129.24 L381.7 129.22 L382.2 129.20 L382.7 129.17 L383.2 129.15 M274.2 126.50 L274.7 128.50 L275.2 130.11 L275.7 131.53 L276.2 133.04 L276.7 134.91 L277.2 137.62 L277.7 141.50 L278.2 145.77 L278.7 150.49 L279.2 154.84 L279.7 158.72 L280.2 162.33 L280.7 165.27 L281.2 167.36 L281.7 169.01 L282.2 170.48 L282.7 172.01 L283.2 173.81 L283.7 175.65 L284.2 177.15 L284.7 178.08 L285.2 178.90 L285.7 179.63 L286.2 180.25 L286.7 180.70 L287.2 180.96 L287.7 180.99 L288.2 180.84 L288.7 180.55 L289.2 180.14 L289.7 179.65 L290.2 179.10 L290.7 178.53 L291.2 177.95 L291.7 177.39 L292.2 176.76 L292.7 176.05 L293.2 175.28 L293.7 174.47 L294.2 173.64 L294.7 172.82 L295.2 172.02 L295.7 171.24 L296.2 170.46 L296.7 169.66 L297.2 168.86 L297.7 168.07 L298.2 167.30 L298.7 166.55 L299.2 165.84 L299.7 165.16 L300.2 164.50 L300.7 163.86 L301.2 163.24 L301.7 162.63 L302.2 162.03 L302.7 161.44 L303.2 160.86 L303.7 160.28 L304.2 159.70 L304.7 159.11 L305.2 158.52 L305.7 157.93 L306.2 157.32 L306.7 156.70 L307.2 156.07 L307.7 155.43 L308.2 154.78 L308.7 154.12 L309.2 153.47 L309.7 152.81 L310.2 152.16 L310.7 151.52 L311.2 150.88 L311.7 150.26 L312.2 149.65 L312.7 149.06 L313.2 148.48 L313.7 147.93 L314.2 147.41 L314.7 146.91 L315.2 146.45 L315.7 145.99 L316.2 145.55 L316.7 145.12 L317.2 144.70 L317.7 144.30 L318.2 143.91 L318.7 143.53 L319.2 143.16 L319.7 142.80 L320.2 142.46 L320.7 142.13 L321.2 141.81 L321.7 141.51 L322.2 141.22 L322.7 140.93 L323.2 140.65 L323.7 140.38 L324.2 140.11 L324.7 139.85 L325.2 139.60 L325.7 139.35 L326.2 139.11 L326.7 138.87 L327.2 138.64 L327.7 138.41 L328.2 138.19 L328.7 137.97 L329.2 137.75 L329.7 137.54 L330.2 137.33 L330.7 137.13 L331.2 136.93 L331.7 136.73 L332.2 136.54 L332.7 136.35 L333.2 136.16 L333.7 135.97 L334.2 135.79 L334.7 135.61 L335.2 135.44 L335.7 135.27 L336.2 135.10 L336.7 134.94 L337.2 134.79 L337.7 134.63 L338.2 134.48 L338.7 134.34 L339.2 134.20 L339.7 134.06 L340.2 133.93 L340.7 133.79 L341.2 133.66 L341.7 133.53 L342.2 133.40 L342.7 133.27 L343.2 133.15 L343.7 133.02 L344.2 132.90 L344.7 132.78 L345.2 132.66 L345.7 132.55 L346.2 132.44 L346.7 132.33 L347.2 132.23 L347.7 132.12 L348.2 132.03 L348.7 131.94 L349.2 131.85 L349.7 131.76 L350.2 131.69 L350.7 131.61 L351.2 131.54 L351.7 131.47 L352.2 131.41 L352.7 131.34 L353.2 131.28 L353.7 131.22 L354.2 131.16 L354.7 131.10 L355.2 131.05 L355.7 130.99 L356.2 130.94 L356.7 130.89 L357.2 130.84 L357.7 130.79 L358.2 130.74 L358.7 130.69 L359.2 130.65 L359.7 130.60 L360.2 130.56 L360.7 130.51 L361.2 130.47 L361.7 130.43 L362.2 130.38 L362.7 130.34 L363.2 130.30 L363.7 130.26 L364.2 130.21 L364.7 130.17 L365.2 130.13 L365.7 130.09 L366.2 130.05 L366.7 130.00 L367.2 129.96 L367.7 129.92 L368.2 129.88 L368.7 129.84 L369.2 129.80 L369.7 129.76 L370.2 129.72 L370.7 129.68 L371.2 129.64 L371.7 129.60 L372.2 129.57 L372.7 129.53 L373.2 129.50 L373.7 129.47 L374.2 129.43 L374.7 129.40 L375.2 129.37 L375.7 129.34 L376.2 129.32 L376.7 129.29 L377.2 129.26 L377.7 129.24 L378.2 129.22 L378.7 129.20 L379.2 129.18 L379.7 129.16 L380.2 129.14 L380.7 129.12 L381.2 129.10 L381.7 129.08 L382.2 129.05 L382.7 129.03 L383.2 129.01 M274.2 126.50 L274.7 128.23 L275.2 129.62 L275.7 130.86 L276.2 132.17 L276.7 133.78 L277.2 136.13 L277.7 139.49 L278.2 143.19 L278.7 147.28 L279.2 151.04 L279.7 154.40 L280.2 157.53 L280.7 160.08 L281.2 161.88 L281.7 163.32 L282.2 164.59 L282.7 165.91 L283.2 167.47 L283.7 169.07 L284.2 170.37 L284.7 171.17 L285.2 171.88 L285.7 172.52 L286.2 173.05 L286.7 173.44 L287.2 173.66 L287.7 173.69 L288.2 173.57 L288.7 173.33 L289.2 173.01 L289.7 172.61 L290.2 172.16 L290.7 171.69 L291.2 171.20 L291.7 170.73 L292.2 170.24 L292.7 169.67 L293.2 169.05 L293.7 168.39 L294.2 167.70 L294.7 167.01 L295.2 166.33 L295.7 165.68 L296.2 165.03 L296.7 164.37 L297.2 163.71 L297.7 163.05 L298.2 162.39 L298.7 161.75 L299.2 161.13 L299.7 160.54 L300.2 159.98 L300.7 159.43 L301.2 158.90 L301.7 158.38 L302.2 157.87 L302.7 157.37 L303.2 156.88 L303.7 156.39 L304.2 155.91 L304.7 155.42 L305.2 154.94 L305.7 154.45 L306.2 153.96 L306.7 153.46 L307.2 152.95 L307.7 152.43 L308.2 151.90 L308.7 151.36 L309.2 150.82 L309.7 150.27 L310.2 149.73 L310.7 149.18 L311.2 148.64 L311.7 148.11 L312.2 147.58 L312.7 147.06 L313.2 146.55 L313.7 146.06 L314.2 145.58 L314.7 145.12 L315.2 144.68 L315.7 144.27 L316.2 143.87 L316.7 143.49 L317.2 143.12 L317.7 142.76 L318.2 142.41 L318.7 142.07 L319.2 141.74 L319.7 141.42 L320.2 141.10 L320.7 140.80 L321.2 140.51 L321.7 140.23 L322.2 139.96 L322.7 139.70 L323.2 139.45 L323.7 139.20 L324.2 138.97 L324.7 138.73 L325.2 138.51 L325.7 138.29 L326.2 138.07 L326.7 137.86 L327.2 137.65 L327.7 137.45 L328.2 137.25 L328.7 137.06 L329.2 136.86 L329.7 136.68 L330.2 136.49 L330.7 136.31 L331.2 136.14 L331.7 135.96 L332.2 135.79 L332.7 135.62 L333.2 135.46 L333.7 135.30 L334.2 135.14 L334.7 134.98 L335.2 134.82 L335.7 134.67 L336.2 134.52 L336.7 134.37 L337.2 134.23 L337.7 134.08 L338.2 133.95 L338.7 133.81 L339.2 133.68 L339.7 133.55 L340.2 133.43 L340.7 133.31 L341.2 133.19 L341.7 133.08 L342.2 132.97 L342.7 132.85 L343.2 132.74 L343.7 132.63 L344.2 132.52 L344.7 132.42 L345.2 132.31 L345.7 132.21 L346.2 132.10 L346.7 132.00 L347.2 131.90 L347.7 131.81 L348.2 131.71 L348.7 131.62 L349.2 131.53 L349.7 131.45 L350.2 131.36 L350.7 131.28 L351.2 131.21 L351.7 131.13 L352.2 131.06 L352.7 131.00 L353.2 130.94 L353.7 130.88 L354.2 130.82 L354.7 130.76 L355.2 130.71 L355.7 130.66 L356.2 130.61 L356.7 130.56 L357.2 130.51 L357.7 130.46 L358.2 130.42 L358.7 130.37 L359.2 130.33 L359.7 130.29 L360.2 130.24 L360.7 130.20 L361.2 130.16 L361.7 130.12 L362.2 130.09 L362.7 130.05 L363.2 130.01 L363.7 129.97 L364.2 129.94 L364.7 129.90 L365.2 129.87 L365.7 129.83 L366.2 129.80 L366.7 129.76 L367.2 129.73 L367.7 129.69 L368.2 129.66 L368.7 129.62 L369.2 129.58 L369.7 129.55 L370.2 129.51 L370.7 129.48 L371.2 129.45 L371.7 129.41 L372.2 129.38 L372.7 129.34 L373.2 129.31 L373.7 129.28 L374.2 129.25 L374.7 129.22 L375.2 129.18 L375.7 129.15 L376.2 129.12 L376.7 129.10 L377.2 129.07 L377.7 129.04 L378.2 129.02 L378.7 128.99 L379.2 128.97 L379.7 128.94 L380.2 128.92 L380.7 128.90 L381.2 128.88 L381.7 128.86 L382.2 128.85 L382.7 128.83 L383.2 128.81 M274.2 126.50 L274.7 127.97 L275.2 129.15 L275.7 130.19 L276.2 131.30 L276.7 132.67 L277.2 134.66 L277.7 137.51 L278.2 140.65 L278.7 144.11 L279.2 147.30 L279.7 150.15 L280.2 152.80 L280.7 154.95 L281.2 156.49 L281.7 157.70 L282.2 158.78 L282.7 159.90 L283.2 161.22 L283.7 162.57 L284.2 163.68 L284.7 164.36 L285.2 164.96 L285.7 165.50 L286.2 165.95 L286.7 166.28 L287.2 166.47 L287.7 166.49 L288.2 166.40 L288.7 166.21 L289.2 165.95 L289.7 165.63 L290.2 165.28 L290.7 164.89 L291.2 164.49 L291.7 164.11 L292.2 163.72 L292.7 163.28 L293.2 162.79 L293.7 162.26 L294.2 161.71 L294.7 161.14 L295.2 160.58 L295.7 160.04 L296.2 159.51 L296.7 158.98 L297.2 158.44 L297.7 157.90 L298.2 157.36 L298.7 156.82 L299.2 156.30 L299.7 155.80 L300.2 155.32 L300.7 154.86 L301.2 154.41 L301.7 153.98 L302.2 153.55 L302.7 153.14 L303.2 152.73 L303.7 152.33 L304.2 151.93 L304.7 151.53 L305.2 151.14 L305.7 150.74 L306.2 150.35 L306.7 149.95 L307.2 149.54 L307.7 149.13 L308.2 148.71 L308.7 148.28 L309.2 147.85 L309.7 147.41 L310.2 146.96 L310.7 146.52 L311.2 146.07 L311.7 145.63 L312.2 145.19 L312.7 144.75 L313.2 144.32 L313.7 143.90 L314.2 143.49 L314.7 143.08 L315.2 142.69 L315.7 142.32 L316.2 141.96 L316.7 141.61 L317.2 141.29 L317.7 140.98 L318.2 140.67 L318.7 140.38 L319.2 140.09 L319.7 139.81 L320.2 139.53 L320.7 139.27 L321.2 139.01 L321.7 138.76 L322.2 138.51 L322.7 138.28 L323.2 138.05 L323.7 137.83 L324.2 137.62 L324.7 137.42 L325.2 137.23 L325.7 137.03 L326.2 136.84 L326.7 136.66 L327.2 136.48 L327.7 136.30 L328.2 136.13 L328.7 135.96 L329.2 135.79 L329.7 135.63 L330.2 135.47 L330.7 135.32 L331.2 135.16 L331.7 135.01 L332.2 134.87 L332.7 134.72 L333.2 134.58 L333.7 134.44 L334.2 134.30 L334.7 134.16 L335.2 134.03 L335.7 133.90 L336.2 133.77 L336.7 133.64 L337.2 133.51 L337.7 133.39 L338.2 133.26 L338.7 133.14 L339.2 133.03 L339.7 132.91 L340.2 132.80 L340.7 132.69 L341.2 132.58 L341.7 132.48 L342.2 132.38 L342.7 132.28 L343.2 132.18 L343.7 132.09 L344.2 132.00 L344.7 131.91 L345.2 131.82 L345.7 131.73 L346.2 131.64 L346.7 131.55 L347.2 131.46 L347.7 131.38 L348.2 131.29 L348.7 131.21 L349.2 131.13 L349.7 131.05 L350.2 130.97 L350.7 130.89 L351.2 130.82 L351.7 130.75 L352.2 130.68 L352.7 130.61 L353.2 130.55 L353.7 130.48 L354.2 130.42 L354.7 130.37 L355.2 130.31 L355.7 130.26 L356.2 130.21 L356.7 130.17 L357.2 130.12 L357.7 130.08 L358.2 130.04 L358.7 129.99 L359.2 129.95 L359.7 129.91 L360.2 129.87 L360.7 129.84 L361.2 129.80 L361.7 129.76 L362.2 129.73 L362.7 129.69 L363.2 129.66 L363.7 129.63 L364.2 129.59 L364.7 129.56 L365.2 129.53 L365.7 129.50 L366.2 129.47 L366.7 129.44 L367.2 129.41 L367.7 129.38 L368.2 129.35 L368.7 129.32 L369.2 129.29 L369.7 129.27 L370.2 129.24 L370.7 129.21 L371.2 129.18 L371.7 129.15 L372.2 129.12 L372.7 129.09 L373.2 129.07 L373.7 129.04 L374.2 129.01 L374.7 128.98 L375.2 128.95 L375.7 128.93 L376.2 128.90 L376.7 128.87 L377.2 128.85 L377.7 128.82 L378.2 128.79 L378.7 128.77 L379.2 128.74 L379.7 128.72 L380.2 128.70 L380.7 128.67 L381.2 128.65 L381.7 128.63 L382.2 128.61 L382.7 128.59 L383.2 128.57 M274.2 126.50 L274.7 127.73 L275.2 128.71 L275.7 129.58 L276.2 130.51 L276.7 131.65 L277.2 133.31 L277.7 135.70 L278.2 138.31 L278.7 141.20 L279.2 143.87 L279.7 146.25 L280.2 148.46 L280.7 150.26 L281.2 151.54 L281.7 152.55 L282.2 153.45 L282.7 154.39 L283.2 155.49 L283.7 156.62 L284.2 157.54 L284.7 158.11 L285.2 158.61 L285.7 159.06 L286.2 159.44 L286.7 159.72 L287.2 159.87 L287.7 159.89 L288.2 159.82 L288.7 159.67 L289.2 159.47 L289.7 159.22 L290.2 158.93 L290.7 158.62 L291.2 158.31 L291.7 157.99 L292.2 157.68 L292.7 157.34 L293.2 156.96 L293.7 156.54 L294.2 156.10 L294.7 155.65 L295.2 155.20 L295.7 154.75 L296.2 154.31 L296.7 153.89 L297.2 153.46 L297.7 153.02 L298.2 152.58 L298.7 152.15 L299.2 151.72 L299.7 151.30 L300.2 150.90 L300.7 150.51 L301.2 150.14 L301.7 149.78 L302.2 149.43 L302.7 149.09 L303.2 148.76 L303.7 148.43 L304.2 148.10 L304.7 147.78 L305.2 147.46 L305.7 147.14 L306.2 146.82 L306.7 146.50 L307.2 146.18 L307.7 145.85 L308.2 145.52 L308.7 145.19 L309.2 144.84 L309.7 144.49 L310.2 144.14 L310.7 143.78 L311.2 143.42 L311.7 143.06 L312.2 142.71 L312.7 142.35 L313.2 141.99 L313.7 141.64 L314.2 141.30 L314.7 140.96 L315.2 140.62 L315.7 140.30 L316.2 139.99 L316.7 139.68 L317.2 139.39 L317.7 139.12 L318.2 138.85 L318.7 138.60 L319.2 138.36 L319.7 138.12 L320.2 137.88 L320.7 137.65 L321.2 137.43 L321.7 137.21 L322.2 137.00 L322.7 136.80 L323.2 136.60 L323.7 136.41 L324.2 136.22 L324.7 136.05 L325.2 135.87 L325.7 135.71 L326.2 135.55 L326.7 135.39 L327.2 135.23 L327.7 135.08 L328.2 134.93 L328.7 134.79 L329.2 134.65 L329.7 134.51 L330.2 134.37 L330.7 134.24 L331.2 134.11 L331.7 133.98 L332.2 133.85 L332.7 133.73 L333.2 133.61 L333.7 133.49 L334.2 133.37 L334.7 133.26 L335.2 133.14 L335.7 133.03 L336.2 132.92 L336.7 132.81 L337.2 132.71 L337.7 132.60 L338.2 132.50 L338.7 132.39 L339.2 132.29 L339.7 132.19 L340.2 132.09 L340.7 132.00 L341.2 131.91 L341.7 131.81 L342.2 131.72 L342.7 131.64 L343.2 131.55 L343.7 131.47 L344.2 131.39 L344.7 131.31 L345.2 131.23 L345.7 131.16 L346.2 131.08 L346.7 131.01 L347.2 130.94 L347.7 130.86 L348.2 130.79 L348.7 130.72 L349.2 130.65 L349.7 130.58 L350.2 130.51 L350.7 130.44 L351.2 130.38 L351.7 130.31 L352.2 130.25 L352.7 130.19 L353.2 130.13 L353.7 130.07 L354.2 130.01 L354.7 129.96 L355.2 129.90 L355.7 129.85 L356.2 129.80 L356.7 129.76 L357.2 129.71 L357.7 129.67 L358.2 129.63 L358.7 129.59 L359.2 129.55 L359.7 129.52 L360.2 129.48 L360.7 129.45 L361.2 129.41 L361.7 129.38 L362.2 129.35 L362.7 129.32 L363.2 129.29 L363.7 129.26 L364.2 129.23 L364.7 129.20 L365.2 129.17 L365.7 129.14 L366.2 129.12 L366.7 129.09 L367.2 129.06 L367.7 129.04 L368.2 129.01 L368.7 128.99 L369.2 128.96 L369.7 128.94 L370.2 128.92 L370.7 128.89 L371.2 128.87 L371.7 128.85 L372.2 128.82 L372.7 128.80 L373.2 128.78 L373.7 128.75 L374.2 128.73 L374.7 128.71 L375.2 128.68 L375.7 128.66 L376.2 128.64 L376.7 128.62 L377.2 128.59 L377.7 128.57 L378.2 128.55 L378.7 128.53 L379.2 128.50 L379.7 128.48 L380.2 128.46 L380.7 128.44 L381.2 128.42 L381.7 128.40 L382.2 128.38 L382.7 128.36 L383.2 128.34 M274.2 126.50 L274.7 127.52 L275.2 128.33 L275.7 129.06 L276.2 129.82 L276.7 130.77 L277.2 132.15 L277.7 134.13 L278.2 136.30 L278.7 138.69 L279.2 140.90 L279.7 142.88 L280.2 144.71 L280.7 146.20 L281.2 147.27 L281.7 148.11 L282.2 148.85 L282.7 149.63 L283.2 150.54 L283.7 151.48 L284.2 152.24 L284.7 152.72 L285.2 153.13 L285.7 153.51 L286.2 153.82 L286.7 154.05 L287.2 154.18 L287.7 154.19 L288.2 154.14 L288.7 154.02 L289.2 153.86 L289.7 153.66 L290.2 153.43 L290.7 153.19 L291.2 152.93 L291.7 152.68 L292.2 152.43 L292.7 152.16 L293.2 151.86 L293.7 151.53 L294.2 151.19 L294.7 150.83 L295.2 150.46 L295.7 150.09 L296.2 149.74 L296.7 149.40 L297.2 149.05 L297.7 148.70 L298.2 148.35 L298.7 147.99 L299.2 147.64 L299.7 147.30 L300.2 146.97 L300.7 146.65 L301.2 146.34 L301.7 146.04 L302.2 145.76 L302.7 145.47 L303.2 145.20 L303.7 144.93 L304.2 144.66 L304.7 144.40 L305.2 144.14 L305.7 143.88 L306.2 143.63 L306.7 143.37 L307.2 143.11 L307.7 142.85 L308.2 142.59 L308.7 142.32 L309.2 142.05 L309.7 141.78 L310.2 141.50 L310.7 141.21 L311.2 140.93 L311.7 140.64 L312.2 140.35 L312.7 140.06 L313.2 139.77 L313.7 139.48 L314.2 139.20 L314.7 138.91 L315.2 138.64 L315.7 138.37 L316.2 138.10 L316.7 137.84 L317.2 137.59 L317.7 137.35 L318.2 137.12 L318.7 136.90 L319.2 136.69 L319.7 136.49 L320.2 136.29 L320.7 136.10 L321.2 135.91 L321.7 135.73 L322.2 135.55 L322.7 135.38 L323.2 135.21 L323.7 135.04 L324.2 134.88 L324.7 134.73 L325.2 134.58 L325.7 134.43 L326.2 134.29 L326.7 134.16 L327.2 134.03 L327.7 133.90 L328.2 133.77 L328.7 133.65 L329.2 133.53 L329.7 133.41 L330.2 133.30 L330.7 133.19 L331.2 133.08 L331.7 132.97 L332.2 132.86 L332.7 132.76 L333.2 132.65 L333.7 132.55 L334.2 132.45 L334.7 132.36 L335.2 132.26 L335.7 132.17 L336.2 132.08 L336.7 131.98 L337.2 131.89 L337.7 131.81 L338.2 131.72 L338.7 131.63 L339.2 131.55 L339.7 131.46 L340.2 131.38 L340.7 131.30 L341.2 131.22 L341.7 131.14 L342.2 131.06 L342.7 130.99 L343.2 130.91 L343.7 130.84 L344.2 130.77 L344.7 130.70 L345.2 130.63 L345.7 130.57 L346.2 130.50 L346.7 130.44 L347.2 130.38 L347.7 130.32 L348.2 130.26 L348.7 130.20 L349.2 130.14 L349.7 130.08 L350.2 130.03 L350.7 129.97 L351.2 129.91 L351.7 129.86 L352.2 129.80 L352.7 129.75 L353.2 129.70 L353.7 129.64 L354.2 129.59 L354.7 129.54 L355.2 129.50 L355.7 129.45 L356.2 129.40 L356.7 129.36 L357.2 129.32 L357.7 129.27 L358.2 129.23 L358.7 129.20 L359.2 129.16 L359.7 129.13 L360.2 129.09 L360.7 129.06 L361.2 129.03 L361.7 129.00 L362.2 128.98 L362.7 128.95 L363.2 128.92 L363.7 128.89 L364.2 128.87 L364.7 128.84 L365.2 128.82 L365.7 128.79 L366.2 128.77 L366.7 128.75 L367.2 128.72 L367.7 128.70 L368.2 128.68 L368.7 128.66 L369.2 128.64 L369.7 128.62 L370.2 128.60 L370.7 128.58 L371.2 128.56 L371.7 128.54 L372.2 128.52 L372.7 128.50 L373.2 128.48 L373.7 128.46 L374.2 128.44 L374.7 128.42 L375.2 128.40 L375.7 128.39 L376.2 128.37 L376.7 128.35 L377.2 128.33 L377.7 128.31 L378.2 128.29 L378.7 128.27 L379.2 128.26 L379.7 128.24 L380.2 128.22 L380.7 128.20 L381.2 128.18 L381.7 128.17 L382.2 128.15 L382.7 128.13 L383.2 128.11 M274.2 126.50 L274.7 127.24 L275.2 127.84 L275.7 128.36 L276.2 128.92 L276.7 129.62 L277.2 130.62 L277.7 132.06 L278.2 133.64 L278.7 135.39 L279.2 137.00 L279.7 138.44 L280.2 139.78 L280.7 140.87 L281.2 141.64 L281.7 142.26 L282.2 142.80 L282.7 143.37 L283.2 144.03 L283.7 144.72 L284.2 145.27 L284.7 145.62 L285.2 145.92 L285.7 146.19 L286.2 146.42 L286.7 146.59 L287.2 146.68 L287.7 146.70 L288.2 146.66 L288.7 146.58 L289.2 146.47 L289.7 146.33 L290.2 146.17 L290.7 146.00 L291.2 145.82 L291.7 145.64 L292.2 145.47 L292.7 145.29 L293.2 145.09 L293.7 144.86 L294.2 144.62 L294.7 144.37 L295.2 144.12 L295.7 143.86 L296.2 143.60 L296.7 143.36 L297.2 143.12 L297.7 142.87 L298.2 142.62 L298.7 142.38 L299.2 142.13 L299.7 141.88 L300.2 141.64 L300.7 141.41 L301.2 141.18 L301.7 140.97 L302.2 140.76 L302.7 140.56 L303.2 140.36 L303.7 140.16 L304.2 139.97 L304.7 139.78 L305.2 139.60 L305.7 139.42 L306.2 139.23 L306.7 139.05 L307.2 138.87 L307.7 138.69 L308.2 138.51 L308.7 138.33 L309.2 138.14 L309.7 137.95 L310.2 137.76 L310.7 137.57 L311.2 137.37 L311.7 137.17 L312.2 136.96 L312.7 136.76 L313.2 136.56 L313.7 136.35 L314.2 136.15 L314.7 135.95 L315.2 135.75 L315.7 135.55 L316.2 135.35 L316.7 135.16 L317.2 134.98 L317.7 134.79 L318.2 134.62 L318.7 134.45 L319.2 134.28 L319.7 134.13 L320.2 133.98 L320.7 133.83 L321.2 133.69 L321.7 133.56 L322.2 133.42 L322.7 133.29 L323.2 133.17 L323.7 133.04 L324.2 132.92 L324.7 132.80 L325.2 132.69 L325.7 132.58 L326.2 132.47 L326.7 132.36 L327.2 132.26 L327.7 132.17 L328.2 132.07 L328.7 131.98 L329.2 131.89 L329.7 131.80 L330.2 131.72 L330.7 131.63 L331.2 131.55 L331.7 131.47 L332.2 131.39 L332.7 131.31 L333.2 131.23 L333.7 131.16 L334.2 131.08 L334.7 131.01 L335.2 130.94 L335.7 130.87 L336.2 130.80 L336.7 130.73 L337.2 130.67 L337.7 130.60 L338.2 130.54 L338.7 130.47 L339.2 130.41 L339.7 130.35 L340.2 130.29 L340.7 130.23 L341.2 130.17 L341.7 130.11 L342.2 130.05 L342.7 129.99 L343.2 129.94 L343.7 129.88 L344.2 129.83 L344.7 129.77 L345.2 129.72 L345.7 129.67 L346.2 129.62 L346.7 129.57 L347.2 129.52 L347.7 129.48 L348.2 129.43 L348.7 129.39 L349.2 129.34 L349.7 129.30 L350.2 129.26 L350.7 129.22 L351.2 129.18 L351.7 129.14 L352.2 129.09 L352.7 129.05 L353.2 129.01 L353.7 128.97 L354.2 128.94 L354.7 128.90 L355.2 128.86 L355.7 128.82 L356.2 128.79 L356.7 128.75 L357.2 128.72 L357.7 128.68 L358.2 128.65 L358.7 128.62 L359.2 128.59 L359.7 128.56 L360.2 128.53 L360.7 128.50 L361.2 128.47 L361.7 128.45 L362.2 128.42 L362.7 128.40 L363.2 128.38 L363.7 128.36 L364.2 128.33 L364.7 128.31 L365.2 128.29 L365.7 128.27 L366.2 128.26 L366.7 128.24 L367.2 128.22 L367.7 128.20 L368.2 128.18 L368.7 128.17 L369.2 128.15 L369.7 128.13 L370.2 128.12 L370.7 128.10 L371.2 128.09 L371.7 128.07 L372.2 128.06 L372.7 128.04 L373.2 128.03 L373.7 128.02 L374.2 128.00 L374.7 127.99 L375.2 127.97 L375.7 127.96 L376.2 127.95 L376.7 127.93 L377.2 127.92 L377.7 127.91 L378.2 127.89 L378.7 127.88 L379.2 127.87 L379.7 127.85 L380.2 127.84 L380.7 127.83 L381.2 127.82 L381.7 127.80 L382.2 127.79 L382.7 127.78 L383.2 127.76 M274.2 126.50 L274.7 127.00 L275.2 127.40 L275.7 127.76 L276.2 128.13 L276.7 128.60 L277.2 129.27 L277.7 130.24 L278.2 131.31 L278.7 132.49 L279.2 133.57 L279.7 134.54 L280.2 135.44 L280.7 136.17 L281.2 136.70 L281.7 137.11 L282.2 137.47 L282.7 137.86 L283.2 138.30 L283.7 138.77 L284.2 139.14 L284.7 139.37 L285.2 139.58 L285.7 139.76 L286.2 139.91 L286.7 140.02 L287.2 140.09 L287.7 140.10 L288.2 140.07 L288.7 140.02 L289.2 139.95 L289.7 139.86 L290.2 139.76 L290.7 139.65 L291.2 139.54 L291.7 139.42 L292.2 139.30 L292.7 139.19 L293.2 139.06 L293.7 138.92 L294.2 138.77 L294.7 138.61 L295.2 138.44 L295.7 138.27 L296.2 138.10 L296.7 137.94 L297.2 137.78 L297.7 137.62 L298.2 137.46 L298.7 137.30 L299.2 137.14 L299.7 136.98 L300.2 136.82 L300.7 136.66 L301.2 136.51 L301.7 136.36 L302.2 136.22 L302.7 136.09 L303.2 135.96 L303.7 135.83 L304.2 135.70 L304.7 135.57 L305.2 135.45 L305.7 135.33 L306.2 135.21 L306.7 135.09 L307.2 134.97 L307.7 134.86 L308.2 134.74 L308.7 134.62 L309.2 134.50 L309.7 134.38 L310.2 134.26 L310.7 134.13 L311.2 134.01 L311.7 133.88 L312.2 133.75 L312.7 133.61 L313.2 133.48 L313.7 133.35 L314.2 133.22 L314.7 133.08 L315.2 132.95 L315.7 132.82 L316.2 132.69 L316.7 132.56 L317.2 132.43 L317.7 132.31 L318.2 132.19 L318.7 132.07 L319.2 131.95 L319.7 131.84 L320.2 131.74 L320.7 131.63 L321.2 131.54 L321.7 131.44 L322.2 131.35 L322.7 131.26 L323.2 131.17 L323.7 131.09 L324.2 131.00 L324.7 130.92 L325.2 130.84 L325.7 130.77 L326.2 130.69 L326.7 130.62 L327.2 130.55 L327.7 130.48 L328.2 130.41 L328.7 130.34 L329.2 130.28 L329.7 130.22 L330.2 130.16 L330.7 130.10 L331.2 130.05 L331.7 129.99 L332.2 129.94 L332.7 129.88 L333.2 129.83 L333.7 129.78 L334.2 129.73 L334.7 129.68 L335.2 129.63 L335.7 129.58 L336.2 129.53 L336.7 129.49 L337.2 129.44 L337.7 129.40 L338.2 129.35 L338.7 129.31 L339.2 129.27 L339.7 129.22 L340.2 129.18 L340.7 129.14 L341.2 129.10 L341.7 129.06 L342.2 129.02 L342.7 128.98 L343.2 128.94 L343.7 128.90 L344.2 128.87 L344.7 128.83 L345.2 128.79 L345.7 128.76 L346.2 128.72 L346.7 128.69 L347.2 128.65 L347.7 128.62 L348.2 128.59 L348.7 128.56 L349.2 128.53 L349.7 128.50 L350.2 128.47 L350.7 128.44 L351.2 128.41 L351.7 128.38 L352.2 128.35 L352.7 128.33 L353.2 128.30 L353.7 128.27 L354.2 128.25 L354.7 128.22 L355.2 128.19 L355.7 128.17 L356.2 128.14 L356.7 128.12 L357.2 128.09 L357.7 128.07 L358.2 128.04 L358.7 128.02 L359.2 128.00 L359.7 127.98 L360.2 127.95 L360.7 127.93 L361.2 127.91 L361.7 127.89 L362.2 127.87 L362.7 127.85 L363.2 127.84 L363.7 127.82 L364.2 127.80 L364.7 127.79 L365.2 127.77 L365.7 127.76 L366.2 127.74 L366.7 127.73 L367.2 127.72 L367.7 127.71 L368.2 127.69 L368.7 127.68 L369.2 127.67 L369.7 127.66 L370.2 127.64 L370.7 127.63 L371.2 127.62 L371.7 127.61 L372.2 127.60 L372.7 127.59 L373.2 127.58 L373.7 127.57 L374.2 127.56 L374.7 127.55 L375.2 127.54 L375.7 127.53 L376.2 127.52 L376.7 127.51 L377.2 127.50 L377.7 127.50 L378.2 127.49 L378.7 127.48 L379.2 127.47 L379.7 127.46 L380.2 127.45 L380.7 127.44 L381.2 127.44 L381.7 127.43 L382.2 127.42 L382.7 127.41 L383.2 127.40 M274.2 126.50 L274.7 126.89 L275.2 127.20 L275.7 127.48 L276.2 127.77 L276.7 128.14 L277.2 128.66 L277.7 129.42 L278.2 130.25 L278.7 131.17 L279.2 132.01 L279.7 132.77 L280.2 133.47 L280.7 134.04 L281.2 134.45 L281.7 134.77 L282.2 135.05 L282.7 135.35 L283.2 135.70 L283.7 136.06 L284.2 136.35 L284.7 136.53 L285.2 136.69 L285.7 136.83 L286.2 136.95 L286.7 137.04 L287.2 137.09 L287.7 137.10 L288.2 137.08 L288.7 137.04 L289.2 136.99 L289.7 136.92 L290.2 136.84 L290.7 136.76 L291.2 136.67 L291.7 136.58 L292.2 136.49 L292.7 136.40 L293.2 136.31 L293.7 136.20 L294.2 136.08 L294.7 135.96 L295.2 135.83 L295.7 135.70 L296.2 135.58 L296.7 135.45 L297.2 135.32 L297.7 135.20 L298.2 135.08 L298.7 134.96 L299.2 134.83 L299.7 134.71 L300.2 134.58 L300.7 134.46 L301.2 134.34 L301.7 134.23 L302.2 134.12 L302.7 134.02 L303.2 133.91 L303.7 133.81 L304.2 133.71 L304.7 133.62 L305.2 133.52 L305.7 133.43 L306.2 133.34 L306.7 133.24 L307.2 133.15 L307.7 133.06 L308.2 132.97 L308.7 132.88 L309.2 132.79 L309.7 132.70 L310.2 132.60 L310.7 132.51 L311.2 132.41 L311.7 132.31 L312.2 132.22 L312.7 132.11 L313.2 132.01 L313.7 131.91 L314.2 131.81 L314.7 131.71 L315.2 131.60 L315.7 131.50 L316.2 131.40 L316.7 131.30 L317.2 131.20 L317.7 131.11 L318.2 131.01 L318.7 130.92 L319.2 130.83 L319.7 130.74 L320.2 130.65 L320.7 130.57 L321.2 130.49 L321.7 130.42 L322.2 130.35 L322.7 130.28 L323.2 130.21 L323.7 130.14 L324.2 130.08 L324.7 130.01 L325.2 129.95 L325.7 129.89 L326.2 129.83 L326.7 129.77 L327.2 129.71 L327.7 129.66 L328.2 129.60 L328.7 129.55 L329.2 129.50 L329.7 129.45 L330.2 129.41 L330.7 129.36 L331.2 129.32 L331.7 129.27 L332.2 129.23 L332.7 129.19 L333.2 129.15 L333.7 129.11 L334.2 129.07 L334.7 129.03 L335.2 128.99 L335.7 128.95 L336.2 128.91 L336.7 128.88 L337.2 128.84 L337.7 128.80 L338.2 128.77 L338.7 128.74 L339.2 128.70 L339.7 128.67 L340.2 128.64 L340.7 128.60 L341.2 128.57 L341.7 128.54 L342.2 128.51 L342.7 128.48 L343.2 128.45 L343.7 128.42 L344.2 128.39 L344.7 128.36 L345.2 128.33 L345.7 128.30 L346.2 128.28 L346.7 128.25 L347.2 128.22 L347.7 128.19 L348.2 128.17 L348.7 128.14 L349.2 128.12 L349.7 128.10 L350.2 128.07 L350.7 128.05 L351.2 128.03 L351.7 128.00 L352.2 127.98 L352.7 127.96 L353.2 127.94 L353.7 127.92 L354.2 127.90 L354.7 127.88 L355.2 127.86 L355.7 127.84 L356.2 127.82 L356.7 127.80 L357.2 127.78 L357.7 127.76 L358.2 127.74 L358.7 127.72 L359.2 127.70 L359.7 127.68 L360.2 127.67 L360.7 127.65 L361.2 127.63 L361.7 127.62 L362.2 127.60 L362.7 127.59 L363.2 127.57 L363.7 127.56 L364.2 127.54 L364.7 127.53 L365.2 127.52 L365.7 127.50 L366.2 127.49 L366.7 127.48 L367.2 127.47 L367.7 127.46 L368.2 127.45 L368.7 127.44 L369.2 127.43 L369.7 127.42 L370.2 127.41 L370.7 127.40 L371.2 127.39 L371.7 127.39 L372.2 127.38 L372.7 127.37 L373.2 127.36 L373.7 127.35 L374.2 127.34 L374.7 127.34 L375.2 127.33 L375.7 127.32 L376.2 127.31 L376.7 127.31 L377.2 127.30 L377.7 127.29 L378.2 127.29 L378.7 127.28 L379.2 127.27 L379.7 127.27 L380.2 127.26 L380.7 127.25 L381.2 127.25 L381.7 127.24 L382.2 127.23 L382.7 127.23 L383.2 127.22 M274.2 126.50 L274.7 126.79 L275.2 127.02 L275.7 127.23 L276.2 127.45 L276.7 127.72 L277.2 128.11 L277.7 128.67 L278.2 129.29 L278.7 129.98 L279.2 130.61 L279.7 131.17 L280.2 131.69 L280.7 132.12 L281.2 132.42 L281.7 132.66 L282.2 132.87 L282.7 133.10 L283.2 133.36 L283.7 133.62 L284.2 133.84 L284.7 133.98 L285.2 134.10 L285.7 134.20 L286.2 134.29 L286.7 134.36 L287.2 134.39 L287.7 134.40 L288.2 134.38 L288.7 134.36 L289.2 134.32 L289.7 134.27 L290.2 134.21 L290.7 134.15 L291.2 134.09 L291.7 134.02 L292.2 133.95 L292.7 133.89 L293.2 133.82 L293.7 133.74 L294.2 133.66 L294.7 133.57 L295.2 133.47 L295.7 133.38 L296.2 133.28 L296.7 133.19 L297.2 133.10 L297.7 133.01 L298.2 132.92 L298.7 132.83 L299.2 132.74 L299.7 132.64 L300.2 132.55 L300.7 132.46 L301.2 132.38 L301.7 132.29 L302.2 132.21 L302.7 132.13 L303.2 132.05 L303.7 131.98 L304.2 131.91 L304.7 131.83 L305.2 131.76 L305.7 131.69 L306.2 131.63 L306.7 131.56 L307.2 131.49 L307.7 131.42 L308.2 131.36 L308.7 131.29 L309.2 131.22 L309.7 131.16 L310.2 131.09 L310.7 131.02 L311.2 130.95 L311.7 130.88 L312.2 130.80 L312.7 130.73 L313.2 130.66 L313.7 130.58 L314.2 130.51 L314.7 130.43 L315.2 130.35 L315.7 130.28 L316.2 130.20 L316.7 130.13 L317.2 130.06 L317.7 129.98 L318.2 129.91 L318.7 129.84 L319.2 129.78 L319.7 129.71 L320.2 129.65 L320.7 129.58 L321.2 129.52 L321.7 129.47 L322.2 129.41 L322.7 129.36 L323.2 129.31 L323.7 129.26 L324.2 129.21 L324.7 129.16 L325.2 129.11 L325.7 129.07 L326.2 129.02 L326.7 128.98 L327.2 128.93 L327.7 128.89 L328.2 128.85 L328.7 128.81 L329.2 128.77 L329.7 128.74 L330.2 128.70 L330.7 128.67 L331.2 128.63 L331.7 128.60 L332.2 128.57 L332.7 128.54 L333.2 128.51 L333.7 128.48 L334.2 128.45 L334.7 128.42 L335.2 128.39 L335.7 128.36 L336.2 128.33 L336.7 128.30 L337.2 128.28 L337.7 128.25 L338.2 128.22 L338.7 128.20 L339.2 128.17 L339.7 128.15 L340.2 128.12 L340.7 128.10 L341.2 128.07 L341.7 128.05 L342.2 128.03 L342.7 128.00 L343.2 127.98 L343.7 127.96 L344.2 127.94 L344.7 127.92 L345.2 127.89 L345.7 127.87 L346.2 127.85 L346.7 127.83 L347.2 127.81 L347.7 127.79 L348.2 127.77 L348.7 127.75 L349.2 127.73 L349.7 127.72 L350.2 127.70 L350.7 127.68 L351.2 127.66 L351.7 127.65 L352.2 127.63 L352.7 127.61 L353.2 127.60 L353.7 127.58 L354.2 127.57 L354.7 127.55 L355.2 127.54 L355.7 127.52 L356.2 127.51 L356.7 127.49 L357.2 127.48 L357.7 127.46 L358.2 127.45 L358.7 127.43 L359.2 127.42 L359.7 127.41 L360.2 127.39 L360.7 127.38 L361.2 127.37 L361.7 127.35 L362.2 127.34 L362.7 127.33 L363.2 127.32 L363.7 127.31 L364.2 127.30 L364.7 127.29 L365.2 127.28 L365.7 127.27 L366.2 127.26 L366.7 127.25 L367.2 127.24 L367.7 127.23 L368.2 127.22 L368.7 127.22 L369.2 127.21 L369.7 127.20 L370.2 127.19 L370.7 127.19 L371.2 127.18 L371.7 127.17 L372.2 127.17 L372.7 127.16 L373.2 127.15 L373.7 127.15 L374.2 127.14 L374.7 127.14 L375.2 127.13 L375.7 127.12 L376.2 127.12 L376.7 127.11 L377.2 127.11 L377.7 127.10 L378.2 127.10 L378.7 127.09 L379.2 127.09 L379.7 127.08 L380.2 127.08 L380.7 127.07 L381.2 127.07 L381.7 127.06 L382.2 127.06 L382.7 127.05 L383.2 127.05 M274.2 126.50 L274.7 126.71 L275.2 126.88 L275.7 127.03 L276.2 127.18 L276.7 127.38 L277.2 127.66 L277.7 128.07 L278.2 128.52 L278.7 129.01 L279.2 129.46 L279.7 129.87 L280.2 130.25 L280.7 130.55 L281.2 130.77 L281.7 130.95 L282.2 131.10 L282.7 131.26 L283.2 131.45 L283.7 131.64 L284.2 131.80 L284.7 131.89 L285.2 131.98 L285.7 132.06 L286.2 132.12 L286.7 132.17 L287.2 132.20 L287.7 132.20 L288.2 132.19 L288.7 132.17 L289.2 132.14 L289.7 132.11 L290.2 132.07 L290.7 132.02 L291.2 131.98 L291.7 131.93 L292.2 131.88 L292.7 131.84 L293.2 131.79 L293.7 131.73 L294.2 131.67 L294.7 131.61 L295.2 131.54 L295.7 131.47 L296.2 131.41 L296.7 131.34 L297.2 131.27 L297.7 131.21 L298.2 131.14 L298.7 131.08 L299.2 131.01 L299.7 130.95 L300.2 130.88 L300.7 130.82 L301.2 130.76 L301.7 130.69 L302.2 130.64 L302.7 130.58 L303.2 130.52 L303.7 130.47 L304.2 130.42 L304.7 130.37 L305.2 130.31 L305.7 130.27 L306.2 130.22 L306.7 130.17 L307.2 130.12 L307.7 130.07 L308.2 130.02 L308.7 129.98 L309.2 129.93 L309.7 129.88 L310.2 129.83 L310.7 129.78 L311.2 129.73 L311.7 129.68 L312.2 129.63 L312.7 129.58 L313.2 129.52 L313.7 129.47 L314.2 129.42 L314.7 129.36 L315.2 129.31 L315.7 129.26 L316.2 129.20 L316.7 129.15 L317.2 129.10 L317.7 129.04 L318.2 128.99 L318.7 128.94 L319.2 128.89 L319.7 128.85 L320.2 128.80 L320.7 128.75 L321.2 128.71 L321.7 128.67 L322.2 128.63 L322.7 128.59 L323.2 128.55 L323.7 128.51 L324.2 128.48 L324.7 128.44 L325.2 128.41 L325.7 128.38 L326.2 128.34 L326.7 128.31 L327.2 128.28 L327.7 128.25 L328.2 128.22 L328.7 128.19 L329.2 128.16 L329.7 128.14 L330.2 128.11 L330.7 128.08 L331.2 128.06 L331.7 128.04 L332.2 128.01 L332.7 127.99 L333.2 127.97 L333.7 127.94 L334.2 127.92 L334.7 127.90 L335.2 127.88 L335.7 127.86 L336.2 127.84 L336.7 127.82 L337.2 127.80 L337.7 127.78 L338.2 127.76 L338.7 127.74 L339.2 127.72 L339.7 127.71 L340.2 127.69 L340.7 127.67 L341.2 127.65 L341.7 127.64 L342.2 127.62 L342.7 127.60 L343.2 127.59 L343.7 127.57 L344.2 127.55 L344.7 127.54 L345.2 127.52 L345.7 127.51 L346.2 127.49 L346.7 127.48 L347.2 127.46 L347.7 127.45 L348.2 127.43 L348.7 127.42 L349.2 127.41 L349.7 127.39 L350.2 127.38 L350.7 127.37 L351.2 127.35 L351.7 127.34 L352.2 127.33 L352.7 127.32 L353.2 127.31 L353.7 127.30 L354.2 127.28 L354.7 127.27 L355.2 127.26 L355.7 127.25 L356.2 127.24 L356.7 127.23 L357.2 127.22 L357.7 127.21 L358.2 127.20 L358.7 127.19 L359.2 127.18 L359.7 127.17 L360.2 127.16 L360.7 127.15 L361.2 127.14 L361.7 127.13 L362.2 127.12 L362.7 127.11 L363.2 127.10 L363.7 127.09 L364.2 127.09 L364.7 127.08 L365.2 127.07 L365.7 127.06 L366.2 127.06 L366.7 127.05 L367.2 127.04 L367.7 127.04 L368.2 127.03 L368.7 127.03 L369.2 127.02 L369.7 127.01 L370.2 127.01 L370.7 127.00 L371.2 127.00 L371.7 126.99 L372.2 126.99 L372.7 126.98 L373.2 126.98 L373.7 126.97 L374.2 126.97 L374.7 126.97 L375.2 126.96 L375.7 126.96 L376.2 126.95 L376.7 126.95 L377.2 126.95 L377.7 126.94 L378.2 126.94 L378.7 126.93 L379.2 126.93 L379.7 126.93 L380.2 126.92 L380.7 126.92 L381.2 126.92 L381.7 126.91 L382.2 126.91 L382.7 126.90 L383.2 126.90 M274.2 126.50 L274.7 126.61 L275.2 126.71 L275.7 126.79 L276.2 126.87 L276.7 126.98 L277.2 127.13 L277.7 127.35 L278.2 127.60 L278.7 127.86 L279.2 128.11 L279.7 128.33 L280.2 128.54 L280.7 128.71 L281.2 128.82 L281.7 128.92 L282.2 129.00 L282.7 129.09 L283.2 129.19 L283.7 129.30 L284.2 129.38 L284.7 129.43 L285.2 129.48 L285.7 129.52 L286.2 129.56 L286.7 129.58 L287.2 129.60 L287.7 129.60 L288.2 129.59 L288.7 129.58 L289.2 129.57 L289.7 129.55 L290.2 129.53 L290.7 129.51 L291.2 129.48 L291.7 129.46 L292.2 129.43 L292.7 129.40 L293.2 129.38 L293.7 129.35 L294.2 129.32 L294.7 129.28 L295.2 129.25 L295.7 129.21 L296.2 129.18 L296.7 129.14 L297.2 129.10 L297.7 129.07 L298.2 129.03 L298.7 129.00 L299.2 128.96 L299.7 128.93 L300.2 128.89 L300.7 128.86 L301.2 128.82 L301.7 128.79 L302.2 128.76 L302.7 128.73 L303.2 128.70 L303.7 128.67 L304.2 128.64 L304.7 128.61 L305.2 128.59 L305.7 128.56 L306.2 128.53 L306.7 128.51 L307.2 128.48 L307.7 128.45 L308.2 128.43 L308.7 128.40 L309.2 128.38 L309.7 128.35 L310.2 128.33 L310.7 128.30 L311.2 128.27 L311.7 128.25 L312.2 128.22 L312.7 128.19 L313.2 128.16 L313.7 128.13 L314.2 128.10 L314.7 128.08 L315.2 128.05 L315.7 128.02 L316.2 127.99 L316.7 127.96 L317.2 127.93 L317.7 127.90 L318.2 127.88 L318.7 127.85 L319.2 127.82 L319.7 127.79 L320.2 127.77 L320.7 127.74 L321.2 127.72 L321.7 127.70 L322.2 127.67 L322.7 127.65 L323.2 127.63 L323.7 127.61 L324.2 127.59 L324.7 127.57 L325.2 127.55 L325.7 127.54 L326.2 127.52 L326.7 127.50 L327.2 127.48 L327.7 127.47 L328.2 127.45 L328.7 127.43 L329.2 127.42 L329.7 127.40 L330.2 127.39 L330.7 127.38 L331.2 127.36 L331.7 127.35 L332.2 127.34 L332.7 127.32 L333.2 127.31 L333.7 127.30 L334.2 127.29 L334.7 127.27 L335.2 127.26 L335.7 127.25 L336.2 127.24 L336.7 127.23 L337.2 127.22 L337.7 127.21 L338.2 127.20 L338.7 127.19 L339.2 127.18 L339.7 127.17 L340.2 127.16 L340.7 127.15 L341.2 127.14 L341.7 127.13 L342.2 127.12 L342.7 127.11 L343.2 127.10 L343.7 127.09 L344.2 127.08 L344.7 127.08 L345.2 127.07 L345.7 127.06 L346.2 127.05 L346.7 127.04 L347.2 127.03 L347.7 127.03 L348.2 127.02 L348.7 127.01 L349.2 127.00 L349.7 127.00 L350.2 126.99 L350.7 126.98 L351.2 126.97 L351.7 126.97 L352.2 126.96 L352.7 126.95 L353.2 126.95 L353.7 126.94 L354.2 126.94 L354.7 126.93 L355.2 126.92 L355.7 126.92 L356.2 126.91 L356.7 126.91 L357.2 126.90 L357.7 126.89 L358.2 126.89 L358.7 126.88 L359.2 126.88 L359.7 126.87 L360.2 126.87 L360.7 126.86 L361.2 126.86 L361.7 126.85 L362.2 126.85 L362.7 126.84 L363.2 126.84 L363.7 126.83 L364.2 126.83 L364.7 126.82 L365.2 126.82 L365.7 126.81 L366.2 126.81 L366.7 126.81 L367.2 126.80 L367.7 126.80 L368.2 126.79 L368.7 126.79 L369.2 126.79 L369.7 126.79 L370.2 126.78 L370.7 126.78 L371.2 126.78 L371.7 126.77 L372.2 126.77 L372.7 126.77 L373.2 126.77 L373.7 126.76 L374.2 126.76 L374.7 126.76 L375.2 126.76 L375.7 126.75 L376.2 126.75 L376.7 126.75 L377.2 126.75 L377.7 126.74 L378.2 126.74 L378.7 126.74 L379.2 126.74 L379.7 126.74 L380.2 126.73 L380.7 126.73 L381.2 126.73 L381.7 126.73 L382.2 126.73 L382.7 126.72 L383.2 126.72" fill="none" stroke="#6a3394" stroke-width="1.2" stroke-linejoin="round" opacity="1"/>
<path d="M274.2 126.8 H383.2" stroke="#6a3394" stroke-width="2.2"/>
<path d="M403.8 128.20 L404.8 131.49 L405.8 137.20 L406.8 142.70 L407.8 148.07 L408.8 157.08 L409.8 168.14 L410.8 179.80 L411.8 186.70 L412.8 191.82 L413.8 196.90 L414.8 200.37 L415.8 203.08 L416.8 205.06 L417.8 206.41 L418.8 208.46 L419.8 209.32 L420.8 210.04 L421.8 209.07 L422.8 208.20 L423.8 205.92 L424.8 203.74 L425.8 201.26 L426.8 200.30 L427.8 198.75 L428.8 196.21 L429.8 193.46 L430.8 190.40 L431.8 188.19 L432.8 186.75 L433.8 184.33 L434.8 182.43 L435.8 179.46 L436.8 177.91 L437.8 176.27 L438.8 174.45 L439.8 171.92 L440.8 171.02 L441.8 168.13 L442.8 167.11 L443.8 165.82 L444.8 164.77 L445.8 162.74 L446.8 160.96 L447.8 160.05 L448.8 159.64 L449.8 159.44 L450.8 159.01 L451.8 158.39 L452.8 158.27 L453.8 157.27 L454.8 155.99 L455.8 155.08 L456.8 155.33 L457.8 153.77 L458.8 152.44 L459.8 151.96 L460.8 151.80 L461.8 151.02 L462.8 151.42 L463.8 150.52 L464.8 150.28 L465.8 149.01 L466.8 148.76 L467.8 147.20 L468.8 147.63 L469.8 147.12 L470.8 146.65 L471.8 147.11 L472.8 145.89 L473.8 145.88 L474.8 145.12 L475.8 145.64 L476.8 144.35 L477.8 143.91 L478.8 144.17 L479.8 143.75 L480.8 142.34 L481.8 141.58 L482.8 141.36 L483.8 140.95 L484.8 141.09 L485.8 141.36 L486.8 141.08 L487.8 140.31 L488.8 140.85 L489.8 141.21 L490.8 140.60 L491.8 139.44 L492.8 137.97 L493.8 138.92 L494.8 137.90 L495.8 137.77 L496.8 137.65 L497.8 137.52 L498.8 137.06 L499.8 136.78 L500.8 137.47 L501.8 136.59 L502.8 136.42 L503.8 136.96 L504.8 136.33 L505.8 135.92 L506.8 136.15 L507.8 136.26 L508.8 135.47 L509.8 135.47 M403.8 128.20 L404.8 132.09 L405.8 137.31 L406.8 142.39 L407.8 148.01 L408.8 156.70 L409.8 166.64 L410.8 177.83 L411.8 183.88 L412.8 190.12 L413.8 194.38 L414.8 197.82 L415.8 200.18 L416.8 202.45 L417.8 204.96 L418.8 205.95 L419.8 207.00 L420.8 206.44 L421.8 206.36 L422.8 205.45 L423.8 203.82 L424.8 202.13 L425.8 200.35 L426.8 199.67 L427.8 197.64 L428.8 194.96 L429.8 192.02 L430.8 188.99 L431.8 186.67 L432.8 184.28 L433.8 182.77 L434.8 180.34 L435.8 177.98 L436.8 176.13 L437.8 174.75 L438.8 172.83 L439.8 171.34 L440.8 168.82 L441.8 167.18 L442.8 165.75 L443.8 164.67 L444.8 163.63 L445.8 162.84 L446.8 160.90 L447.8 159.58 L448.8 158.35 L449.8 158.59 L450.8 157.47 L451.8 156.54 L452.8 155.69 L453.8 155.77 L454.8 155.00 L455.8 153.95 L456.8 153.39 L457.8 152.49 L458.8 152.23 L459.8 152.45 L460.8 151.66 L461.8 150.84 L462.8 149.85 L463.8 149.74 L464.8 150.08 L465.8 148.42 L466.8 147.28 L467.8 147.91 L468.8 147.44 L469.8 146.50 L470.8 145.89 L471.8 145.65 L472.8 145.57 L473.8 144.39 L474.8 144.87 L475.8 143.75 L476.8 143.09 L477.8 142.24 L478.8 142.08 L479.8 141.96 L480.8 141.80 L481.8 141.58 L482.8 141.88 L483.8 142.08 L484.8 141.62 L485.8 141.08 L486.8 141.42 L487.8 141.28 L488.8 140.54 L489.8 140.05 L490.8 139.69 L491.8 139.03 L492.8 139.17 L493.8 138.13 L494.8 138.67 L495.8 137.22 L496.8 136.53 L497.8 136.40 L498.8 137.50 L499.8 137.44 L500.8 136.34 L501.8 136.34 L502.8 136.98 L503.8 137.15 L504.8 136.84 L505.8 136.34 L506.8 135.77 L507.8 136.22 L508.8 136.03 L509.8 135.36 M403.8 128.20 L404.8 132.48 L405.8 136.14 L406.8 140.73 L407.8 146.55 L408.8 155.32 L409.8 165.83 L410.8 176.47 L411.8 182.91 L412.8 188.07 L413.8 190.86 L414.8 194.66 L415.8 196.74 L416.8 199.89 L417.8 202.44 L418.8 204.59 L419.8 205.28 L420.8 204.52 L421.8 203.52 L422.8 202.60 L423.8 200.56 L424.8 198.32 L425.8 197.20 L426.8 195.95 L427.8 194.11 L428.8 190.92 L429.8 188.60 L430.8 186.72 L431.8 184.70 L432.8 182.42 L433.8 180.66 L434.8 179.32 L435.8 177.08 L436.8 175.16 L437.8 173.60 L438.8 172.65 L439.8 171.06 L440.8 168.96 L441.8 167.08 L442.8 165.04 L443.8 164.21 L444.8 162.33 L445.8 161.30 L446.8 160.72 L447.8 160.29 L448.8 159.25 L449.8 158.02 L450.8 157.45 L451.8 156.37 L452.8 156.09 L453.8 155.39 L454.8 154.42 L455.8 154.46 L456.8 153.65 L457.8 152.51 L458.8 151.72 L459.8 151.81 L460.8 150.37 L461.8 149.55 L462.8 149.18 L463.8 148.77 L464.8 147.54 L465.8 146.90 L466.8 147.47 L467.8 147.68 L468.8 146.95 L469.8 146.51 L470.8 146.39 L471.8 145.64 L472.8 144.44 L473.8 145.24 L474.8 144.37 L475.8 143.95 L476.8 143.86 L477.8 143.31 L478.8 143.18 L479.8 142.36 L480.8 141.06 L481.8 141.41 L482.8 140.95 L483.8 141.07 L484.8 140.41 L485.8 139.51 L486.8 139.96 L487.8 139.94 L488.8 139.74 L489.8 139.63 L490.8 138.89 L491.8 138.30 L492.8 138.79 L493.8 138.44 L494.8 138.13 L495.8 137.63 L496.8 137.99 L497.8 137.32 L498.8 137.21 L499.8 135.96 L500.8 135.58 L501.8 135.43 L502.8 136.14 L503.8 136.40 L504.8 136.47 L505.8 136.04 L506.8 135.64 L507.8 136.37 L508.8 135.21 L509.8 136.14 M403.8 128.20 L404.8 131.71 L405.8 136.71 L406.8 141.37 L407.8 146.51 L408.8 154.13 L409.8 164.10 L410.8 174.43 L411.8 180.63 L412.8 185.71 L413.8 188.56 L414.8 192.02 L415.8 194.32 L416.8 197.43 L417.8 199.89 L418.8 200.88 L419.8 202.61 L420.8 202.34 L421.8 201.20 L422.8 200.60 L423.8 199.77 L424.8 197.58 L425.8 195.54 L426.8 194.52 L427.8 192.04 L428.8 190.91 L429.8 189.28 L430.8 186.85 L431.8 184.59 L432.8 181.98 L433.8 179.20 L434.8 176.92 L435.8 175.28 L436.8 173.43 L437.8 172.17 L438.8 170.72 L439.8 169.30 L440.8 167.49 L441.8 165.19 L442.8 163.29 L443.8 162.23 L444.8 161.11 L445.8 160.60 L446.8 158.89 L447.8 159.01 L448.8 158.68 L449.8 157.78 L450.8 156.84 L451.8 156.87 L452.8 155.51 L453.8 155.10 L454.8 153.77 L455.8 153.61 L456.8 153.01 L457.8 151.91 L458.8 151.62 L459.8 150.88 L460.8 150.40 L461.8 150.15 L462.8 150.23 L463.8 149.98 L464.8 149.03 L465.8 147.99 L466.8 147.69 L467.8 147.61 L468.8 146.87 L469.8 145.37 L470.8 145.21 L471.8 144.29 L472.8 144.56 L473.8 144.66 L474.8 144.37 L475.8 144.42 L476.8 143.41 L477.8 142.83 L478.8 142.48 L479.8 143.01 L480.8 143.20 L481.8 142.47 L482.8 142.69 L483.8 140.98 L484.8 140.14 L485.8 140.42 L486.8 139.45 L487.8 139.02 L488.8 139.77 L489.8 139.26 L490.8 138.67 L491.8 139.47 L492.8 138.24 L493.8 138.16 L494.8 137.95 L495.8 137.71 L496.8 137.62 L497.8 136.66 L498.8 136.13 L499.8 136.38 L500.8 136.11 L501.8 136.27 L502.8 136.08 L503.8 136.01 L504.8 135.20 L505.8 135.37 L506.8 134.81 L507.8 135.23 L508.8 136.23 L509.8 135.48 M403.8 128.20 L404.8 132.62 L405.8 136.05 L406.8 140.16 L407.8 145.07 L408.8 152.60 L409.8 162.63 L410.8 171.65 L411.8 177.63 L412.8 181.52 L413.8 185.58 L414.8 187.63 L415.8 190.52 L416.8 193.02 L417.8 193.45 L418.8 194.29 L419.8 195.33 L420.8 194.96 L421.8 194.45 L422.8 194.71 L423.8 194.27 L424.8 191.98 L425.8 189.58 L426.8 188.72 L427.8 186.94 L428.8 185.31 L429.8 183.67 L430.8 181.71 L431.8 179.79 L432.8 178.10 L433.8 175.40 L434.8 174.02 L435.8 172.08 L436.8 170.67 L437.8 169.09 L438.8 167.44 L439.8 165.40 L440.8 164.62 L441.8 163.18 L442.8 162.25 L443.8 161.69 L444.8 159.80 L445.8 158.43 L446.8 157.95 L447.8 156.35 L448.8 155.66 L449.8 155.12 L450.8 154.58 L451.8 154.20 L452.8 154.38 L453.8 153.77 L454.8 153.29 L455.8 152.49 L456.8 152.02 L457.8 151.46 L458.8 151.14 L459.8 150.35 L460.8 149.73 L461.8 149.29 L462.8 148.80 L463.8 147.95 L464.8 147.45 L465.8 147.50 L466.8 146.89 L467.8 145.63 L468.8 145.79 L469.8 145.78 L470.8 145.29 L471.8 144.60 L472.8 144.19 L473.8 144.08 L474.8 143.46 L475.8 143.49 L476.8 143.22 L477.8 142.97 L478.8 142.92 L479.8 142.03 L480.8 141.72 L481.8 141.97 L482.8 141.49 L483.8 140.70 L484.8 141.12 L485.8 139.26 L486.8 139.43 L487.8 139.06 L488.8 139.22 L489.8 138.78 L490.8 139.43 L491.8 138.50 L492.8 137.85 L493.8 138.33 L494.8 138.34 L495.8 138.50 L496.8 137.73 L497.8 137.45 L498.8 137.09 L499.8 137.06 L500.8 136.88 L501.8 136.70 L502.8 136.40 L503.8 135.51 L504.8 134.64 L505.8 135.35 L506.8 136.59 L507.8 135.10 L508.8 135.17 L509.8 136.05 M403.8 128.20 L404.8 131.34 L405.8 134.98 L406.8 137.98 L407.8 142.29 L408.8 149.67 L409.8 158.70 L410.8 167.00 L411.8 172.04 L412.8 175.73 L413.8 179.49 L414.8 181.60 L415.8 182.72 L416.8 185.42 L417.8 187.94 L418.8 188.93 L419.8 188.69 L420.8 188.11 L421.8 187.94 L422.8 187.28 L423.8 186.97 L424.8 185.88 L425.8 185.39 L426.8 183.36 L427.8 182.02 L428.8 180.84 L429.8 179.71 L430.8 176.99 L431.8 174.79 L432.8 172.86 L433.8 171.92 L434.8 170.92 L435.8 170.03 L436.8 168.86 L437.8 167.14 L438.8 165.53 L439.8 163.25 L440.8 162.44 L441.8 161.38 L442.8 160.47 L443.8 158.49 L444.8 158.24 L445.8 156.28 L446.8 154.46 L447.8 154.42 L448.8 153.77 L449.8 152.75 L450.8 152.22 L451.8 151.96 L452.8 150.45 L453.8 151.09 L454.8 151.07 L455.8 150.75 L456.8 150.15 L457.8 149.59 L458.8 148.74 L459.8 147.97 L460.8 147.91 L461.8 147.52 L462.8 146.61 L463.8 145.78 L464.8 146.01 L465.8 145.65 L466.8 145.60 L467.8 145.00 L468.8 144.07 L469.8 143.66 L470.8 143.60 L471.8 142.62 L472.8 142.72 L473.8 141.89 L474.8 141.99 L475.8 142.09 L476.8 142.57 L477.8 142.35 L478.8 141.75 L479.8 141.25 L480.8 141.09 L481.8 140.49 L482.8 140.26 L483.8 139.72 L484.8 139.07 L485.8 139.01 L486.8 139.13 L487.8 138.17 L488.8 137.58 L489.8 137.01 L490.8 137.56 L491.8 137.16 L492.8 136.75 L493.8 136.52 L494.8 137.37 L495.8 137.69 L496.8 136.44 L497.8 135.87 L498.8 136.14 L499.8 136.67 L500.8 135.54 L501.8 135.76 L502.8 136.06 L503.8 135.99 L504.8 135.48 L505.8 135.33 L506.8 134.40 L507.8 134.29 L508.8 133.79 L509.8 134.42 M403.8 128.20 L404.8 130.75 L405.8 133.32 L406.8 138.95 L407.8 142.91 L408.8 149.53 L409.8 157.85 L410.8 165.53 L411.8 170.94 L412.8 175.35 L413.8 177.73 L414.8 178.90 L415.8 181.68 L416.8 183.19 L417.8 185.22 L418.8 185.92 L419.8 185.55 L420.8 186.68 L421.8 187.29 L422.8 185.40 L423.8 183.51 L424.8 182.73 L425.8 180.19 L426.8 180.59 L427.8 179.74 L428.8 178.00 L429.8 176.76 L430.8 174.92 L431.8 173.93 L432.8 172.51 L433.8 170.46 L434.8 169.50 L435.8 167.79 L436.8 166.24 L437.8 164.89 L438.8 163.19 L439.8 161.67 L440.8 160.88 L441.8 159.72 L442.8 157.80 L443.8 157.01 L444.8 156.42 L445.8 155.33 L446.8 155.00 L447.8 154.28 L448.8 153.47 L449.8 152.70 L450.8 151.18 L451.8 152.21 L452.8 151.05 L453.8 150.71 L454.8 149.65 L455.8 149.41 L456.8 149.24 L457.8 148.01 L458.8 147.84 L459.8 146.99 L460.8 146.65 L461.8 146.65 L462.8 145.91 L463.8 144.62 L464.8 144.95 L465.8 144.90 L466.8 144.18 L467.8 144.04 L468.8 144.68 L469.8 144.28 L470.8 143.65 L471.8 142.52 L472.8 142.20 L473.8 142.08 L474.8 141.95 L475.8 141.85 L476.8 142.26 L477.8 140.20 L478.8 140.52 L479.8 140.60 L480.8 138.88 L481.8 139.41 L482.8 139.38 L483.8 139.72 L484.8 139.34 L485.8 138.89 L486.8 138.74 L487.8 138.22 L488.8 137.96 L489.8 137.65 L490.8 137.87 L491.8 137.74 L492.8 136.93 L493.8 136.85 L494.8 136.89 L495.8 136.06 L496.8 136.43 L497.8 135.79 L498.8 134.85 L499.8 135.35 L500.8 135.10 L501.8 135.79 L502.8 136.23 L503.8 135.95 L504.8 135.00 L505.8 135.26 L506.8 134.50 L507.8 134.49 L508.8 134.79 L509.8 135.33 M403.8 128.20 L404.8 131.71 L405.8 133.71 L406.8 136.42 L407.8 140.87 L408.8 147.33 L409.8 153.99 L410.8 160.47 L411.8 164.81 L412.8 168.10 L413.8 171.12 L414.8 173.81 L415.8 176.14 L416.8 178.00 L417.8 178.91 L418.8 179.36 L419.8 180.29 L420.8 179.46 L421.8 179.67 L422.8 177.87 L423.8 177.86 L424.8 177.21 L425.8 176.46 L426.8 174.73 L427.8 173.72 L428.8 173.18 L429.8 170.96 L430.8 170.42 L431.8 168.60 L432.8 167.88 L433.8 166.42 L434.8 164.42 L435.8 163.20 L436.8 162.08 L437.8 161.88 L438.8 160.74 L439.8 159.31 L440.8 157.92 L441.8 156.49 L442.8 154.61 L443.8 154.07 L444.8 154.19 L445.8 153.06 L446.8 152.63 L447.8 152.79 L448.8 151.78 L449.8 151.21 L450.8 150.43 L451.8 149.19 L452.8 148.49 L453.8 149.27 L454.8 148.77 L455.8 147.76 L456.8 146.83 L457.8 146.71 L458.8 146.49 L459.8 146.25 L460.8 145.88 L461.8 145.30 L462.8 144.88 L463.8 144.77 L464.8 144.77 L465.8 144.39 L466.8 143.70 L467.8 142.24 L468.8 141.57 L469.8 140.99 L470.8 141.60 L471.8 141.46 L472.8 141.43 L473.8 141.06 L474.8 140.72 L475.8 141.04 L476.8 140.48 L477.8 140.74 L478.8 140.53 L479.8 140.05 L480.8 139.83 L481.8 139.26 L482.8 139.16 L483.8 138.57 L484.8 139.05 L485.8 138.47 L486.8 137.91 L487.8 137.43 L488.8 138.08 L489.8 137.88 L490.8 137.54 L491.8 137.41 L492.8 137.43 L493.8 136.00 L494.8 137.21 L495.8 137.04 L496.8 136.02 L497.8 135.71 L498.8 135.97 L499.8 135.98 L500.8 136.03 L501.8 135.57 L502.8 135.46 L503.8 135.36 L504.8 135.36 L505.8 135.33 L506.8 135.09 L507.8 134.63 L508.8 134.83 L509.8 135.59 M403.8 128.20 L404.8 131.13 L405.8 133.27 L406.8 136.29 L407.8 139.78 L408.8 143.68 L409.8 149.33 L410.8 154.46 L411.8 158.70 L412.8 161.39 L413.8 163.57 L414.8 164.45 L415.8 165.62 L416.8 167.02 L417.8 167.94 L418.8 169.10 L419.8 169.01 L420.8 169.46 L421.8 169.83 L422.8 170.13 L423.8 170.16 L424.8 168.50 L425.8 168.08 L426.8 168.09 L427.8 166.81 L428.8 165.21 L429.8 164.02 L430.8 163.21 L431.8 163.24 L432.8 161.96 L433.8 159.47 L434.8 158.99 L435.8 157.89 L436.8 156.92 L437.8 156.54 L438.8 154.71 L439.8 154.68 L440.8 153.53 L441.8 151.71 L442.8 151.01 L443.8 150.94 L444.8 150.43 L445.8 149.24 L446.8 148.64 L447.8 147.58 L448.8 146.82 L449.8 145.95 L450.8 145.72 L451.8 145.26 L452.8 145.45 L453.8 143.87 L454.8 143.08 L455.8 144.22 L456.8 143.48 L457.8 143.52 L458.8 142.86 L459.8 143.10 L460.8 142.68 L461.8 142.80 L462.8 142.76 L463.8 142.16 L464.8 141.29 L465.8 140.86 L466.8 140.42 L467.8 140.91 L468.8 140.45 L469.8 139.58 L470.8 139.65 L471.8 140.55 L472.8 138.91 L473.8 138.35 L474.8 138.35 L475.8 138.22 L476.8 138.07 L477.8 137.16 L478.8 137.83 L479.8 137.74 L480.8 137.41 L481.8 137.61 L482.8 136.96 L483.8 137.36 L484.8 136.99 L485.8 136.89 L486.8 137.24 L487.8 137.16 L488.8 136.29 L489.8 136.59 L490.8 135.59 L491.8 135.24 L492.8 135.56 L493.8 134.87 L494.8 134.89 L495.8 134.35 L496.8 135.01 L497.8 135.30 L498.8 134.48 L499.8 134.63 L500.8 134.73 L501.8 133.99 L502.8 134.48 L503.8 134.36 L504.8 134.27 L505.8 133.84 L506.8 134.09 L507.8 134.44 L508.8 134.11 L509.8 134.30 M403.8 128.20 L404.8 129.52 L405.8 130.52 L406.8 133.58 L407.8 135.09 L408.8 138.11 L409.8 143.33 L410.8 148.45 L411.8 151.69 L412.8 152.93 L413.8 154.95 L414.8 156.41 L415.8 156.91 L416.8 158.13 L417.8 159.66 L418.8 159.70 L419.8 159.78 L420.8 160.25 L421.8 159.94 L422.8 160.37 L423.8 159.45 L424.8 158.74 L425.8 158.24 L426.8 156.87 L427.8 156.69 L428.8 155.28 L429.8 155.05 L430.8 154.01 L431.8 152.90 L432.8 153.50 L433.8 153.21 L434.8 151.87 L435.8 150.69 L436.8 149.17 L437.8 149.11 L438.8 148.71 L439.8 148.03 L440.8 147.96 L441.8 147.14 L442.8 145.45 L443.8 145.64 L444.8 145.25 L445.8 144.20 L446.8 143.20 L447.8 143.31 L448.8 143.13 L449.8 142.39 L450.8 141.85 L451.8 141.71 L452.8 141.30 L453.8 140.93 L454.8 141.25 L455.8 140.55 L456.8 140.08 L457.8 139.80 L458.8 139.71 L459.8 140.06 L460.8 140.02 L461.8 139.05 L462.8 138.56 L463.8 139.88 L464.8 138.89 L465.8 138.02 L466.8 138.07 L467.8 138.29 L468.8 138.16 L469.8 137.64 L470.8 136.72 L471.8 136.65 L472.8 136.15 L473.8 136.97 L474.8 137.56 L475.8 136.48 L476.8 136.27 L477.8 135.77 L478.8 136.24 L479.8 136.16 L480.8 135.73 L481.8 135.84 L482.8 135.79 L483.8 135.21 L484.8 135.58 L485.8 134.17 L486.8 135.14 L487.8 135.61 L488.8 134.81 L489.8 134.77 L490.8 134.53 L491.8 134.42 L492.8 133.68 L493.8 133.69 L494.8 134.21 L495.8 133.16 L496.8 133.72 L497.8 133.71 L498.8 133.26 L499.8 133.38 L500.8 133.22 L501.8 133.48 L502.8 133.05 L503.8 132.49 L504.8 132.82 L505.8 132.94 L506.8 132.15 L507.8 132.47 L508.8 132.43 L509.8 133.13 M403.8 128.20 L404.8 130.13 L405.8 130.85 L406.8 132.00 L407.8 133.72 L408.8 135.58 L409.8 138.26 L410.8 141.42 L411.8 143.25 L412.8 144.63 L413.8 147.00 L414.8 148.13 L415.8 149.01 L416.8 148.95 L417.8 149.21 L418.8 149.64 L419.8 150.70 L420.8 150.16 L421.8 150.30 L422.8 150.97 L423.8 150.74 L424.8 149.92 L425.8 149.85 L426.8 149.05 L427.8 148.78 L428.8 148.82 L429.8 147.50 L430.8 147.60 L431.8 146.55 L432.8 145.78 L433.8 144.26 L434.8 143.94 L435.8 143.11 L436.8 143.15 L437.8 143.29 L438.8 142.45 L439.8 141.53 L440.8 141.50 L441.8 141.43 L442.8 140.78 L443.8 141.24 L444.8 141.13 L445.8 140.04 L446.8 139.51 L447.8 140.01 L448.8 138.72 L449.8 137.04 L450.8 136.97 L451.8 137.65 L452.8 136.83 L453.8 136.95 L454.8 137.04 L455.8 136.59 L456.8 135.88 L457.8 135.78 L458.8 136.45 L459.8 135.99 L460.8 135.85 L461.8 135.65 L462.8 135.08 L463.8 135.11 L464.8 135.42 L465.8 134.97 L466.8 134.92 L467.8 134.94 L468.8 134.64 L469.8 134.45 L470.8 134.75 L471.8 134.12 L472.8 134.60 L473.8 134.62 L474.8 134.55 L475.8 134.02 L476.8 134.03 L477.8 133.65 L478.8 133.67 L479.8 134.15 L480.8 134.26 L481.8 134.81 L482.8 133.74 L483.8 133.02 L484.8 133.01 L485.8 133.38 L486.8 133.35 L487.8 132.67 L488.8 133.79 L489.8 134.23 L490.8 134.38 L491.8 133.08 L492.8 132.88 L493.8 132.55 L494.8 133.69 L495.8 133.32 L496.8 133.41 L497.8 132.51 L498.8 132.24 L499.8 132.32 L500.8 133.53 L501.8 133.00 L502.8 131.67 L503.8 131.82 L504.8 131.56 L505.8 131.28 L506.8 130.52 L507.8 130.93 L508.8 131.61 L509.8 131.90 M403.8 128.20 L404.8 128.76 L405.8 129.13 L406.8 129.81 L407.8 130.50 L408.8 131.47 L409.8 133.39 L410.8 135.68 L411.8 135.97 L412.8 136.13 L413.8 137.15 L414.8 137.08 L415.8 138.32 L416.8 138.76 L417.8 139.77 L418.8 139.39 L419.8 139.34 L420.8 139.79 L421.8 139.79 L422.8 139.40 L423.8 139.03 L424.8 139.01 L425.8 138.29 L426.8 139.29 L427.8 138.60 L428.8 138.32 L429.8 137.65 L430.8 138.23 L431.8 138.03 L432.8 137.59 L433.8 136.13 L434.8 136.36 L435.8 136.59 L436.8 137.17 L437.8 136.53 L438.8 135.35 L439.8 135.46 L440.8 135.73 L441.8 135.94 L442.8 135.15 L443.8 134.34 L444.8 134.51 L445.8 134.62 L446.8 133.65 L447.8 133.00 L448.8 133.31 L449.8 133.44 L450.8 134.18 L451.8 134.24 L452.8 133.36 L453.8 133.56 L454.8 133.98 L455.8 133.48 L456.8 133.11 L457.8 133.69 L458.8 133.63 L459.8 133.17 L460.8 132.75 L461.8 132.28 L462.8 132.85 L463.8 132.70 L464.8 131.83 L465.8 133.09 L466.8 133.36 L467.8 133.31 L468.8 132.03 L469.8 132.50 L470.8 131.48 L471.8 131.79 L472.8 131.54 L473.8 131.84 L474.8 130.82 L475.8 131.31 L476.8 131.11 L477.8 131.47 L478.8 131.17 L479.8 131.27 L480.8 130.93 L481.8 131.57 L482.8 130.69 L483.8 130.59 L484.8 130.68 L485.8 130.84 L486.8 131.26 L487.8 131.12 L488.8 131.16 L489.8 131.56 L490.8 131.09 L491.8 131.71 L492.8 130.63 L493.8 130.12 L494.8 130.18 L495.8 129.65 L496.8 129.53 L497.8 130.02 L498.8 130.93 L499.8 130.98 L500.8 130.43 L501.8 130.31 L502.8 130.81 L503.8 130.22 L504.8 129.76 L505.8 129.47 L506.8 131.04 L507.8 131.99 L508.8 131.39 L509.8 131.20 M403.8 128.20 L404.8 128.70 L405.8 128.47 L406.8 129.11 L407.8 129.77 L408.8 131.70 L409.8 132.19 L410.8 132.91 L411.8 133.31 L412.8 133.69 L413.8 133.76 L414.8 133.16 L415.8 133.94 L416.8 134.27 L417.8 134.41 L418.8 134.35 L419.8 134.28 L420.8 134.69 L421.8 134.73 L422.8 135.05 L423.8 134.79 L424.8 134.58 L425.8 134.69 L426.8 134.53 L427.8 134.74 L428.8 134.43 L429.8 134.98 L430.8 134.94 L431.8 133.60 L432.8 133.41 L433.8 132.69 L434.8 132.86 L435.8 133.59 L436.8 133.70 L437.8 132.06 L438.8 132.22 L439.8 132.55 L440.8 132.52 L441.8 131.93 L442.8 131.02 L443.8 130.75 L444.8 131.61 L445.8 131.25 L446.8 131.26 L447.8 130.75 L448.8 131.21 L449.8 131.72 L450.8 131.65 L451.8 131.47 L452.8 130.97 L453.8 130.65 L454.8 130.87 L455.8 130.47 L456.8 131.22 L457.8 131.04 L458.8 129.70 L459.8 129.80 L460.8 130.23 L461.8 130.32 L462.8 130.60 L463.8 130.65 L464.8 131.28 L465.8 130.69 L466.8 130.37 L467.8 130.50 L468.8 130.67 L469.8 130.81 L470.8 131.15 L471.8 130.77 L472.8 131.60 L473.8 130.63 L474.8 130.27 L475.8 130.09 L476.8 130.15 L477.8 130.03 L478.8 129.20 L479.8 129.00 L480.8 129.99 L481.8 129.92 L482.8 130.26 L483.8 130.15 L484.8 130.35 L485.8 129.57 L486.8 129.21 L487.8 129.39 L488.8 129.29 L489.8 129.51 L490.8 129.00 L491.8 128.83 L492.8 129.55 L493.8 129.26 L494.8 129.51 L495.8 128.95 L496.8 129.61 L497.8 129.32 L498.8 128.29 L499.8 129.11 L500.8 130.22 L501.8 130.13 L502.8 129.07 L503.8 129.45 L504.8 129.37 L505.8 129.52 L506.8 128.37 L507.8 129.21 L508.8 129.69 L509.8 129.90 M403.8 128.20 L404.8 128.96 L405.8 128.06 L406.8 128.23 L407.8 128.82 L408.8 129.48 L409.8 130.85 L410.8 130.53 L411.8 130.95 L412.8 129.97 L413.8 130.91 L414.8 131.10 L415.8 131.34 L416.8 131.83 L417.8 131.61 L418.8 130.60 L419.8 131.92 L420.8 131.75 L421.8 131.89 L422.8 132.02 L423.8 131.55 L424.8 131.69 L425.8 132.70 L426.8 132.26 L427.8 132.90 L428.8 131.98 L429.8 131.99 L430.8 131.72 L431.8 132.01 L432.8 131.07 L433.8 130.76 L434.8 130.31 L435.8 130.41 L436.8 131.07 L437.8 129.84 L438.8 130.10 L439.8 129.28 L440.8 130.04 L441.8 130.28 L442.8 130.33 L443.8 130.53 L444.8 131.41 L445.8 130.64 L446.8 130.92 L447.8 130.19 L448.8 130.45 L449.8 130.55 L450.8 131.26 L451.8 131.02 L452.8 130.45 L453.8 130.54 L454.8 130.49 L455.8 130.02 L456.8 130.22 L457.8 129.74 L458.8 129.53 L459.8 129.31 L460.8 129.77 L461.8 129.34 L462.8 128.96 L463.8 129.74 L464.8 129.28 L465.8 129.10 L466.8 129.66 L467.8 129.98 L468.8 130.71 L469.8 130.30 L470.8 129.71 L471.8 129.78 L472.8 129.44 L473.8 129.56 L474.8 129.16 L475.8 129.74 L476.8 129.13 L477.8 129.38 L478.8 129.13 L479.8 129.67 L480.8 129.53 L481.8 128.82 L482.8 128.98 L483.8 128.43 L484.8 128.89 L485.8 129.14 L486.8 129.41 L487.8 128.77 L488.8 128.40 L489.8 129.02 L490.8 129.26 L491.8 128.73 L492.8 128.49 L493.8 129.02 L494.8 129.59 L495.8 129.34 L496.8 128.57 L497.8 128.75 L498.8 128.25 L499.8 128.64 L500.8 128.64 L501.8 128.39 L502.8 128.79 L503.8 128.76 L504.8 128.97 L505.8 128.65 L506.8 128.80 L507.8 128.40 L508.8 129.08 L509.8 129.23" fill="none" stroke="#77b8ea" stroke-width="1.15" stroke-linejoin="round" opacity="1"/>
<path d="M401.5 129.24 L402.5 129.26 L403.5 129.30 L404.5 129.41 L405.5 128.50 L406.5 128.83 L407.5 128.57 L408.5 129.23 L409.5 128.94 L410.5 129.24 L411.5 129.30 L412.5 129.52 L413.5 129.21 L414.5 129.42 L415.5 129.10 L416.5 128.64 L417.5 129.47 L418.5 128.68 L419.5 128.68 L420.5 129.44 L421.5 128.90 L422.5 129.29 L423.5 128.67 L424.5 128.86 L425.5 129.38 L426.5 128.71 L427.5 129.19 L428.5 129.63 L429.5 128.92 L430.5 129.42 L431.5 129.47 L432.5 129.36 L433.5 129.52 L434.5 129.46 L435.5 128.79 L436.5 128.97 L437.5 129.33 L438.5 129.77 L439.5 129.03 L440.5 129.41 L441.5 128.96 L442.5 129.69 L443.5 129.30 L444.5 129.39 L445.5 129.55 L446.5 129.03 L447.5 129.63 L448.5 129.71 L449.5 129.78 L450.5 129.22 L451.5 129.18 L452.5 129.12 L453.5 129.87 L454.5 129.42 L455.5 129.38 L456.5 129.52 L457.5 129.71 L458.5 129.34 L459.5 129.37 L460.5 129.81 L461.5 129.83 L462.5 129.36 L463.5 129.15 L464.5 130.02 L465.5 129.83 L466.5 129.70 L467.5 129.52 L468.5 130.09 L469.5 129.57 L470.5 129.37 L471.5 129.26 L472.5 129.53 L473.5 129.79 L474.5 129.56 L475.5 130.15 L476.5 129.87 L477.5 129.69 L478.5 129.90 L479.5 129.85 L480.5 129.88 L481.5 129.77 L482.5 129.81 L483.5 129.79 L484.5 130.14 L485.5 129.51 L486.5 130.11 L487.5 129.64 L488.5 130.20 L489.5 129.43 L490.5 129.86 L491.5 129.82 L492.5 130.10 L493.5 129.61 L494.5 129.68 L495.5 129.56 L496.5 130.00 L497.5 130.02 L498.5 129.46 L499.5 129.65 L500.5 129.68 L501.5 130.45 L502.5 129.96 L503.5 130.08 L504.5 129.81 L505.5 130.19 L506.5 130.36 L507.5 130.23 L508.5 129.57 L509.5 130.02 L510.5 130.08" fill="none" stroke="#77b8ea" stroke-width="3.2"/>
<path d="M406.8 128 V119" stroke="#77b8ea" stroke-width="1.4"/>
<text x="307.6" y="11.6" font-size="15.25" text-anchor="start" font-weight="normal" fill="#111" stroke="#111" stroke-width="0.2" stroke-linejoin="round" >DI-CN</text>
<text x="432.6" y="11.7" font-size="15.25" text-anchor="start" font-weight="normal" fill="#111" stroke="#111" stroke-width="0.2" stroke-linejoin="round" >DII-CN</text>
<text x="303.4" y="117.2" font-size="15.25" text-anchor="start" font-weight="normal" fill="#111" stroke="#111" stroke-width="0.2" stroke-linejoin="round" >DIII-CN</text>
<text x="430.2" y="117.2" font-size="15.25" text-anchor="start" font-weight="normal" fill="#111" stroke="#111" stroke-width="0.2" stroke-linejoin="round" >DIV-CN</text>
<path d="M349 72 V96 M477 71 V96 M349 177.5 V201.5 M477 173 V201" stroke="#000" stroke-width="2"/>
<text x="355.5" y="89.5" font-size="13" text-anchor="start" font-weight="normal" fill="#111" stroke="#111" stroke-width="0.25" stroke-linejoin="round" >1 nA</text>
<text x="482" y="88.7" font-size="13" text-anchor="start" font-weight="normal" fill="#111" stroke="#111" stroke-width="0.25" stroke-linejoin="round" >2 nA</text>
<text x="355.5" y="195" font-size="13" text-anchor="start" font-weight="normal" fill="#111" stroke="#111" stroke-width="0.25" stroke-linejoin="round" >1.5 nA</text>
<text x="482" y="192.5" font-size="13" text-anchor="start" font-weight="normal" fill="#111" stroke="#111" stroke-width="0.25" stroke-linejoin="round" >0.5 nA</text>
<path d="M109.9 236.7 V516.2 H470" fill="none" stroke="#222" stroke-width="2.2"/>
<path d="M105 263.0 H110" stroke="#1a1a1a" stroke-width="2"/>
<text x="98.2" y="268.5" font-size="15" text-anchor="end" font-weight="normal" fill="#222" stroke="#222" stroke-width="0.05" stroke-linejoin="round" >1</text>
<path d="M105 313.6 H110" stroke="#1a1a1a" stroke-width="2"/>
<text x="98.2" y="319.1" font-size="15" text-anchor="end" font-weight="normal" fill="#222" stroke="#222" stroke-width="0.05" stroke-linejoin="round" >0.8</text>
<path d="M105 364.2 H110" stroke="#1a1a1a" stroke-width="2"/>
<text x="98.2" y="369.70000000000005" font-size="15" text-anchor="end" font-weight="normal" fill="#222" stroke="#222" stroke-width="0.05" stroke-linejoin="round" >0.6</text>
<path d="M105 414.8 H110" stroke="#1a1a1a" stroke-width="2"/>
<text x="98.2" y="420.3" font-size="15" text-anchor="end" font-weight="normal" fill="#222" stroke="#222" stroke-width="0.05" stroke-linejoin="round" >0.4</text>
<path d="M105 465.4 H110" stroke="#1a1a1a" stroke-width="2"/>
<text x="98.2" y="470.9" font-size="15" text-anchor="end" font-weight="normal" fill="#222" stroke="#222" stroke-width="0.05" stroke-linejoin="round" >0.2</text>
<path d="M105 516.0 H110" stroke="#1a1a1a" stroke-width="2"/>
<text x="98.2" y="521.5" font-size="15" text-anchor="end" font-weight="normal" fill="#222" stroke="#222" stroke-width="0.05" stroke-linejoin="round" >0</text>
<path d="M142.5 516 V521" stroke="#1a1a1a" stroke-width="2"/>
<text x="142.5" y="543.2" font-size="15" text-anchor="middle" font-weight="normal" fill="#222" stroke="#222" stroke-width="0.05" stroke-linejoin="round" >-140</text>
<path d="M207.5 516 V521" stroke="#1a1a1a" stroke-width="2"/>
<text x="207.5" y="543.2" font-size="15" text-anchor="middle" font-weight="normal" fill="#222" stroke="#222" stroke-width="0.05" stroke-linejoin="round" >-120</text>
<path d="M272.5 516 V521" stroke="#1a1a1a" stroke-width="2"/>
<text x="272.5" y="543.2" font-size="15" text-anchor="middle" font-weight="normal" fill="#222" stroke="#222" stroke-width="0.05" stroke-linejoin="round" >-100</text>
<path d="M337.5 516 V521" stroke="#1a1a1a" stroke-width="2"/>
<text x="337.5" y="543.2" font-size="15" text-anchor="middle" font-weight="normal" fill="#222" stroke="#222" stroke-width="0.05" stroke-linejoin="round" >-80</text>
<path d="M402.5 516 V521" stroke="#1a1a1a" stroke-width="2"/>
<text x="402.5" y="543.2" font-size="15" text-anchor="middle" font-weight="normal" fill="#222" stroke="#222" stroke-width="0.05" stroke-linejoin="round" >-60</text>
<path d="M467.5 516 V521" stroke="#1a1a1a" stroke-width="2"/>
<text x="467.5" y="543.2" font-size="15" text-anchor="middle" font-weight="normal" fill="#222" stroke="#222" stroke-width="0.05" stroke-linejoin="round" >-40</text>
<text x="288.3" y="566.5" font-size="17" text-anchor="middle" font-weight="normal" fill="#222" stroke="#222" stroke-width="0.05" stroke-linejoin="round" >Conditioning Pulse Potential (mV)</text>
<text transform="translate(67.2,376.7) rotate(-90)" font-size="17" text-anchor="middle" fill="#222">Peak Conductance (Norm.)</text>
<path d="M110.00 262.15 L111.62 262.15 L113.25 262.15 L114.88 262.16 L116.50 262.16 L118.12 262.16 L119.75 262.16 L121.38 262.17 L123.00 262.17 L124.62 262.17 L126.25 262.18 L127.88 262.18 L129.50 262.19 L131.12 262.19 L132.75 262.20 L134.38 262.20 L136.00 262.21 L137.62 262.21 L139.25 262.22 L140.88 262.23 L142.50 262.23 L144.12 262.24 L145.75 262.25 L147.38 262.26 L149.00 262.27 L150.62 262.28 L152.25 262.29 L153.88 262.30 L155.50 262.32 L157.12 262.33 L158.75 262.34 L160.38 262.36 L162.00 262.38 L163.62 262.39 L165.25 262.41 L166.88 262.43 L168.50 262.45 L170.12 262.48 L171.75 262.50 L173.38 262.53 L175.00 262.56 L176.62 262.59 L178.25 262.62 L179.88 262.65 L181.50 262.69 L183.12 262.73 L184.75 262.77 L186.38 262.81 L188.00 262.86 L189.62 262.91 L191.25 262.97 L192.88 263.02 L194.50 263.09 L196.12 263.15 L197.75 263.22 L199.38 263.30 L201.00 263.38 L202.62 263.47 L204.25 263.56 L205.88 263.66 L207.50 263.76 L209.12 263.87 L210.75 263.99 L212.38 264.12 L214.00 264.26 L215.62 264.40 L217.25 264.56 L218.88 264.72 L220.50 264.90 L222.12 265.09 L223.75 265.29 L225.38 265.51 L227.00 265.74 L228.62 265.98 L230.25 266.24 L231.88 266.52 L233.50 266.82 L235.12 267.13 L236.75 267.47 L238.38 267.83 L240.00 268.21 L241.62 268.62 L243.25 269.06 L244.88 269.52 L246.50 270.01 L248.12 270.53 L249.75 271.09 L251.38 271.68 L253.00 272.32 L254.62 272.99 L256.25 273.70 L257.88 274.45 L259.50 275.26 L261.12 276.11 L262.75 277.01 L264.38 277.97 L266.00 278.99 L267.62 280.07 L269.25 281.21 L270.88 282.41 L272.50 283.69 L274.12 285.03 L275.75 286.46 L277.38 287.96 L279.00 289.54 L280.62 291.21 L282.25 292.96 L283.88 294.81 L285.50 296.74 L287.12 298.78 L288.75 300.91 L290.38 303.14 L292.00 305.48 L293.62 307.92 L295.25 310.47 L296.88 313.12 L298.50 315.88 L300.12 318.75 L301.75 321.72 L303.38 324.80 L305.00 327.99 L306.62 331.28 L308.25 334.67 L309.88 338.16 L311.50 341.74 L313.12 345.41 L314.75 349.17 L316.38 353.00 L318.00 356.91 L319.62 360.89 L321.25 364.92 L322.88 369.01 L324.50 373.13 L326.12 377.30 L327.75 381.48 L329.38 385.69 L331.00 389.90 L332.62 394.11 L334.25 398.30 L335.88 402.48 L337.50 406.63 L339.12 410.74 L340.75 414.80 L342.38 418.81 L344.00 422.76 L345.62 426.63 L347.25 430.43 L348.88 434.15 L350.50 437.79 L352.12 441.33 L353.75 444.77 L355.38 448.12 L357.00 451.36 L358.62 454.50 L360.25 457.53 L361.88 460.46 L363.50 463.28 L365.12 465.99 L366.75 468.60 L368.38 471.10 L370.00 473.49 L371.62 475.78 L373.25 477.97 L374.88 480.05 L376.50 482.04 L378.12 483.94 L379.75 485.74 L381.38 487.46 L383.00 489.09 L384.62 490.63 L386.25 492.10 L387.88 493.49 L389.50 494.80 L391.12 496.05 L392.75 497.22 L394.38 498.33 L396.00 499.38 L397.62 500.37 L399.25 501.31 L400.88 502.19 L402.50 503.02 L404.12 503.80 L405.75 504.54 L407.38 505.23 L409.00 505.88 L410.62 506.49 L412.25 507.07 L413.88 507.61 L415.50 508.12 L417.12 508.60 L418.75 509.05 L420.38 509.47 L422.00 509.87 L423.62 510.24 L425.25 510.59 L426.88 510.92 L428.50 511.23 L430.12 511.51 L431.75 511.79 L433.38 512.04 L435.00 512.28 L436.62 512.50 L438.25 512.71 L439.88 512.90 L441.50 513.09 L443.12 513.26 L444.75 513.42 L446.38 513.57 L448.00 513.71 L449.62 513.85 L451.25 513.97 L452.88 514.09 L454.50 514.20 L456.12 514.30 L457.75 514.39 L459.38 514.48 L461.00 514.57 L462.62 514.64 L464.25 514.72 L465.88 514.79 L467.50 514.85" fill="none" stroke="#000" stroke-width="1.3"/>
<path d="M103.30 258.00 H116.70 M103.30 264.00 H116.70 M110.00 258.00 V264.00" stroke="#000" stroke-width="1.3" fill="none"/>
<path d="M119.55 258.00 H132.95 M119.55 264.00 H132.95 M126.25 258.00 V264.00" stroke="#000" stroke-width="1.3" fill="none"/>
<path d="M135.80 257.80 H149.20 M135.80 263.80 H149.20 M142.50 257.80 V263.80" stroke="#000" stroke-width="1.3" fill="none"/>
<path d="M152.05 257.05 H165.45 M152.05 263.05 H165.45 M158.75 257.05 V263.05" stroke="#000" stroke-width="1.3" fill="none"/>
<path d="M168.30 257.70 H181.70 M168.30 263.70 H181.70 M175.00 257.70 V263.70" stroke="#000" stroke-width="1.3" fill="none"/>
<path d="M184.55 257.55 H197.95 M184.55 265.95 H197.95 M191.25 257.55 V265.95" stroke="#000" stroke-width="1.3" fill="none"/>
<path d="M200.80 258.90 H214.20 M200.80 267.30 H214.20 M207.50 258.90 V267.30" stroke="#000" stroke-width="1.3" fill="none"/>
<path d="M217.05 262.20 H230.45 M217.05 270.60 H230.45 M223.75 262.20 V270.60" stroke="#000" stroke-width="1.3" fill="none"/>
<path d="M233.30 266.20 H246.70 M233.30 274.60 H246.70 M240.00 266.20 V274.60" stroke="#000" stroke-width="1.3" fill="none"/>
<path d="M249.55 273.20 H262.95 M249.55 281.60 H262.95 M256.25 273.20 V281.60" stroke="#000" stroke-width="1.3" fill="none"/>
<path d="M265.80 283.70 H279.20 M265.80 292.10 H279.20 M272.50 283.70 V292.10" stroke="#000" stroke-width="1.3" fill="none"/>
<path d="M282.05 299.25 H295.45 M282.05 307.65 H295.45 M288.75 299.25 V307.65" stroke="#000" stroke-width="1.3" fill="none"/>
<path d="M298.30 323.30 H311.70 M298.30 331.70 H311.70 M305.00 323.30 V331.70" stroke="#000" stroke-width="1.3" fill="none"/>
<path d="M314.55 356.70 H327.95 M314.55 365.10 H327.95 M321.25 356.70 V365.10" stroke="#000" stroke-width="1.3" fill="none"/>
<path d="M330.80 399.00 H344.20 M330.80 407.40 H344.20 M337.50 399.00 V407.40" stroke="#000" stroke-width="1.3" fill="none"/>
<path d="M347.05 441.20 H360.45 M347.05 449.60 H360.45 M353.75 441.20 V449.60" stroke="#000" stroke-width="1.3" fill="none"/>
<path d="M363.30 473.30 H376.70 M363.30 481.70 H376.70 M370.00 473.30 V481.70" stroke="#000" stroke-width="1.3" fill="none"/>
<path d="M379.55 491.60 H392.95 M379.55 500.00 H392.95 M386.25 491.60 V500.00" stroke="#000" stroke-width="1.3" fill="none"/>
<path d="M395.80 500.60 H409.20 M395.80 509.00 H409.20 M402.50 500.60 V509.00" stroke="#000" stroke-width="1.3" fill="none"/>
<path d="M412.05 504.50 H425.45 M412.05 512.90 H425.45 M418.75 504.50 V512.90" stroke="#000" stroke-width="1.3" fill="none"/>
<path d="M428.30 507.10 H441.70 M428.30 515.50 H441.70 M435.00 507.10 V515.50" stroke="#000" stroke-width="1.3" fill="none"/>
<path d="M444.55 507.70 H457.95 M444.55 516.10 H457.95 M451.25 507.70 V516.10" stroke="#000" stroke-width="1.3" fill="none"/>
<path d="M460.80 507.90 H474.20 M460.80 516.30 H474.20 M467.50 507.90 V516.30" stroke="#000" stroke-width="1.3" fill="none"/>
<rect x="105.35" y="256.60" width="9.3" height="8.8" fill="#000"/>
<rect x="121.60" y="256.60" width="9.3" height="8.8" fill="#000"/>
<rect x="137.85" y="256.40" width="9.3" height="8.8" fill="#000"/>
<rect x="154.10" y="255.65" width="9.3" height="8.8" fill="#000"/>
<rect x="170.35" y="256.30" width="9.3" height="8.8" fill="#000"/>
<rect x="186.60" y="257.35" width="9.3" height="8.8" fill="#000"/>
<rect x="202.85" y="258.70" width="9.3" height="8.8" fill="#000"/>
<rect x="219.10" y="262.00" width="9.3" height="8.8" fill="#000"/>
<rect x="235.35" y="266.00" width="9.3" height="8.8" fill="#000"/>
<rect x="251.60" y="273.00" width="9.3" height="8.8" fill="#000"/>
<rect x="267.85" y="283.50" width="9.3" height="8.8" fill="#000"/>
<rect x="284.10" y="299.05" width="9.3" height="8.8" fill="#000"/>
<rect x="300.35" y="323.10" width="9.3" height="8.8" fill="#000"/>
<rect x="316.60" y="356.50" width="9.3" height="8.8" fill="#000"/>
<rect x="332.85" y="398.80" width="9.3" height="8.8" fill="#000"/>
<rect x="349.10" y="441.00" width="9.3" height="8.8" fill="#000"/>
<rect x="365.35" y="473.10" width="9.3" height="8.8" fill="#000"/>
<rect x="381.60" y="491.40" width="9.3" height="8.8" fill="#000"/>
<rect x="397.85" y="500.40" width="9.3" height="8.8" fill="#000"/>
<rect x="414.10" y="504.30" width="9.3" height="8.8" fill="#000"/>
<rect x="430.35" y="506.90" width="9.3" height="8.8" fill="#000"/>
<rect x="446.60" y="507.50" width="9.3" height="8.8" fill="#000"/>
<rect x="462.85" y="507.70" width="9.3" height="8.8" fill="#000"/>
<path d="M110.00 258.45 L111.62 258.52 L113.25 258.60 L114.88 258.68 L116.50 258.76 L118.12 258.85 L119.75 258.94 L121.38 259.04 L123.00 259.14 L124.62 259.25 L126.25 259.37 L127.88 259.49 L129.50 259.62 L131.12 259.76 L132.75 259.90 L134.38 260.05 L136.00 260.21 L137.62 260.38 L139.25 260.56 L140.88 260.75 L142.50 260.94 L144.12 261.15 L145.75 261.37 L147.38 261.61 L149.00 261.85 L150.62 262.11 L152.25 262.38 L153.88 262.67 L155.50 262.97 L157.12 263.29 L158.75 263.63 L160.38 263.99 L162.00 264.36 L163.62 264.75 L165.25 265.17 L166.88 265.60 L168.50 266.06 L170.12 266.55 L171.75 267.06 L173.38 267.59 L175.00 268.16 L176.62 268.75 L178.25 269.37 L179.88 270.03 L181.50 270.71 L183.12 271.44 L184.75 272.20 L186.38 272.99 L188.00 273.83 L189.62 274.71 L191.25 275.63 L192.88 276.59 L194.50 277.60 L196.12 278.66 L197.75 279.77 L199.38 280.93 L201.00 282.14 L202.62 283.41 L204.25 284.74 L205.88 286.12 L207.50 287.56 L209.12 289.07 L210.75 290.64 L212.38 292.27 L214.00 293.97 L215.62 295.74 L217.25 297.58 L218.88 299.49 L220.50 301.47 L222.12 303.53 L223.75 305.66 L225.38 307.86 L227.00 310.14 L228.62 312.49 L230.25 314.92 L231.88 317.42 L233.50 319.99 L235.12 322.64 L236.75 325.36 L238.38 328.16 L240.00 331.02 L241.62 333.95 L243.25 336.95 L244.88 340.01 L246.50 343.13 L248.12 346.31 L249.75 349.54 L251.38 352.82 L253.00 356.15 L254.62 359.52 L256.25 362.93 L257.88 366.37 L259.50 369.85 L261.12 373.34 L262.75 376.86 L264.38 380.38 L266.00 383.92 L267.62 387.46 L269.25 390.99 L270.88 394.52 L272.50 398.04 L274.12 401.53 L275.75 405.01 L277.38 408.45 L279.00 411.86 L280.62 415.23 L282.25 418.56 L283.88 421.85 L285.50 425.08 L287.12 428.26 L288.75 431.38 L290.38 434.45 L292.00 437.45 L293.62 440.38 L295.25 443.24 L296.88 446.04 L298.50 448.76 L300.12 451.42 L301.75 454.00 L303.38 456.50 L305.00 458.93 L306.62 461.28 L308.25 463.56 L309.88 465.77 L311.50 467.90 L313.12 469.96 L314.75 471.94 L316.38 473.85 L318.00 475.69 L319.62 477.47 L321.25 479.17 L322.88 480.81 L324.50 482.38 L326.12 483.89 L327.75 485.33 L329.38 486.72 L331.00 488.05 L332.62 489.32 L334.25 490.53 L335.88 491.69 L337.50 492.80 L339.12 493.86 L340.75 494.87 L342.38 495.84 L344.00 496.76 L345.62 497.64 L347.25 498.48 L348.88 499.28 L350.50 500.04 L352.12 500.76 L353.75 501.45 L355.38 502.11 L357.00 502.73 L358.62 503.33 L360.25 503.89 L361.88 504.43 L363.50 504.94 L365.12 505.42 L366.75 505.88 L368.38 506.32 L370.00 506.73 L371.62 507.13 L373.25 507.50 L374.88 507.86 L376.50 508.20 L378.12 508.52 L379.75 508.82 L381.38 509.11 L383.00 509.38 L384.62 509.64 L386.25 509.89 L387.88 510.12 L389.50 510.34 L391.12 510.55 L392.75 510.75 L394.38 510.94 L396.00 511.12 L397.62 511.28 L399.25 511.44 L400.88 511.60 L402.50 511.74 L404.12 511.88 L405.75 512.01 L407.38 512.13 L409.00 512.24 L410.62 512.35 L412.25 512.46 L413.88 512.56 L415.50 512.65 L417.12 512.74 L418.75 512.82 L420.38 512.90 L422.00 512.98 L423.62 513.05 L425.25 513.11 L426.88 513.18 L428.50 513.24 L430.12 513.30 L431.75 513.35 L433.38 513.40 L435.00 513.45 L436.62 513.50 L438.25 513.54 L439.88 513.58 L441.50 513.62 L443.12 513.66 L444.75 513.69 L446.38 513.72 L448.00 513.76 L449.62 513.79 L451.25 513.81 L452.88 513.84 L454.50 513.87 L456.12 513.89 L457.75 513.91 L459.38 513.93 L461.00 513.95 L462.62 513.97 L464.25 513.99 L465.88 514.01 L467.50 514.02" fill="none" stroke="#c55a1f" stroke-width="1.3"/>
<path d="M103.30 258.50 H116.70 M103.30 263.50 H116.70 M110.00 258.50 V263.50" stroke="#c55a1f" stroke-width="1.3" fill="none"/>
<path d="M119.55 253.80 H132.95 M119.55 258.80 H132.95 M126.25 253.80 V258.80" stroke="#c55a1f" stroke-width="1.3" fill="none"/>
<path d="M135.80 254.10 H149.20 M135.80 259.10 H149.20 M142.50 254.10 V259.10" stroke="#c55a1f" stroke-width="1.3" fill="none"/>
<path d="M152.05 259.60 H165.45 M152.05 264.60 H165.45 M158.75 259.60 V264.60" stroke="#c55a1f" stroke-width="1.3" fill="none"/>
<path d="M168.30 265.40 H181.70 M168.30 270.40 H181.70 M175.00 265.40 V270.40" stroke="#c55a1f" stroke-width="1.3" fill="none"/>
<path d="M184.55 275.20 H197.95 M184.55 280.20 H197.95 M191.25 275.20 V280.20" stroke="#c55a1f" stroke-width="1.3" fill="none"/>
<path d="M200.80 289.30 H214.20 M200.80 294.30 H214.20 M207.50 289.30 V294.30" stroke="#c55a1f" stroke-width="1.3" fill="none"/>
<path d="M217.05 306.40 H230.45 M217.05 312.40 H230.45 M223.75 306.40 V312.40" stroke="#c55a1f" stroke-width="1.3" fill="none"/>
<path d="M233.30 329.70 H246.70 M233.30 335.70 H246.70 M240.00 329.70 V335.70" stroke="#c55a1f" stroke-width="1.3" fill="none"/>
<path d="M249.55 358.20 H262.95 M249.55 364.20 H262.95 M256.25 358.20 V364.20" stroke="#c55a1f" stroke-width="1.3" fill="none"/>
<path d="M265.80 388.20 H279.20 M265.80 395.80 H279.20 M272.50 388.20 V395.80" stroke="#c55a1f" stroke-width="1.3" fill="none"/>
<path d="M282.05 424.40 H295.45 M282.05 432.00 H295.45 M288.75 424.40 V432.00" stroke="#c55a1f" stroke-width="1.3" fill="none"/>
<path d="M298.30 456.40 H311.70 M298.30 464.00 H311.70 M305.00 456.40 V464.00" stroke="#c55a1f" stroke-width="1.3" fill="none"/>
<path d="M314.55 478.70 H327.95 M314.55 486.30 H327.95 M321.25 478.70 V486.30" stroke="#c55a1f" stroke-width="1.3" fill="none"/>
<path d="M330.80 494.40 H344.20 M330.80 502.00 H344.20 M337.50 494.40 V502.00" stroke="#c55a1f" stroke-width="1.3" fill="none"/>
<path d="M347.05 502.50 H360.45 M347.05 510.10 H360.45 M353.75 502.50 V510.10" stroke="#c55a1f" stroke-width="1.3" fill="none"/>
<path d="M363.30 504.00 H376.70 M363.30 511.60 H376.70 M370.00 504.00 V511.60" stroke="#c55a1f" stroke-width="1.3" fill="none"/>
<path d="M379.55 505.90 H392.95 M379.55 513.50 H392.95 M386.25 505.90 V513.50" stroke="#c55a1f" stroke-width="1.3" fill="none"/>
<path d="M395.80 506.50 H409.20 M395.80 514.10 H409.20 M402.50 506.50 V514.10" stroke="#c55a1f" stroke-width="1.3" fill="none"/>
<path d="M412.05 506.90 H425.45 M412.05 514.50 H425.45 M418.75 506.90 V514.50" stroke="#c55a1f" stroke-width="1.3" fill="none"/>
<path d="M428.30 507.30 H441.70 M428.30 514.90 H441.70 M435.00 507.30 V514.90" stroke="#c55a1f" stroke-width="1.3" fill="none"/>
<path d="M444.55 507.90 H457.95 M444.55 515.50 H457.95 M451.25 507.90 V515.50" stroke="#c55a1f" stroke-width="1.3" fill="none"/>
<path d="M460.80 508.40 H474.20 M460.80 516.00 H474.20 M467.50 508.40 V516.00" stroke="#c55a1f" stroke-width="1.3" fill="none"/>
<path d="M110.00 252.93 L117.00 265.03 L103.00 265.03Z" fill="#c55a1f"/>
<path d="M126.25 248.23 L133.25 260.33 L119.25 260.33Z" fill="#c55a1f"/>
<path d="M142.50 248.53 L149.50 260.63 L135.50 260.63Z" fill="#c55a1f"/>
<path d="M158.75 254.03 L165.75 266.13 L151.75 266.13Z" fill="#c55a1f"/>
<path d="M175.00 259.83 L182.00 271.93 L168.00 271.93Z" fill="#c55a1f"/>
<path d="M191.25 269.63 L198.25 281.73 L184.25 281.73Z" fill="#c55a1f"/>
<path d="M207.50 283.73 L214.50 295.83 L200.50 295.83Z" fill="#c55a1f"/>
<path d="M223.75 301.33 L230.75 313.43 L216.75 313.43Z" fill="#c55a1f"/>
<path d="M240.00 324.63 L247.00 336.73 L233.00 336.73Z" fill="#c55a1f"/>
<path d="M256.25 353.13 L263.25 365.23 L249.25 365.23Z" fill="#c55a1f"/>
<path d="M272.50 383.93 L279.50 396.03 L265.50 396.03Z" fill="#c55a1f"/>
<path d="M288.75 420.13 L295.75 432.23 L281.75 432.23Z" fill="#c55a1f"/>
<path d="M305.00 452.13 L312.00 464.23 L298.00 464.23Z" fill="#c55a1f"/>
<path d="M321.25 474.43 L328.25 486.53 L314.25 486.53Z" fill="#c55a1f"/>
<path d="M337.50 490.13 L344.50 502.23 L330.50 502.23Z" fill="#c55a1f"/>
<path d="M353.75 498.23 L360.75 510.33 L346.75 510.33Z" fill="#c55a1f"/>
<path d="M370.00 499.73 L377.00 511.83 L363.00 511.83Z" fill="#c55a1f"/>
<path d="M386.25 501.63 L393.25 513.73 L379.25 513.73Z" fill="#c55a1f"/>
<path d="M402.50 502.23 L409.50 514.33 L395.50 514.33Z" fill="#c55a1f"/>
<path d="M418.75 502.63 L425.75 514.73 L411.75 514.73Z" fill="#c55a1f"/>
<path d="M435.00 503.03 L442.00 515.13 L428.00 515.13Z" fill="#c55a1f"/>
<path d="M451.25 503.63 L458.25 515.73 L444.25 515.73Z" fill="#c55a1f"/>
<path d="M467.50 504.13 L474.50 516.23 L460.50 516.23Z" fill="#c55a1f"/>
<path d="M110.00 262.08 L111.62 262.13 L113.25 262.18 L114.88 262.24 L116.50 262.30 L118.12 262.37 L119.75 262.43 L121.38 262.50 L123.00 262.58 L124.62 262.65 L126.25 262.74 L127.88 262.82 L129.50 262.91 L131.12 263.01 L132.75 263.11 L134.38 263.22 L136.00 263.33 L137.62 263.45 L139.25 263.57 L140.88 263.70 L142.50 263.84 L144.12 263.98 L145.75 264.13 L147.38 264.29 L149.00 264.46 L150.62 264.64 L152.25 264.82 L153.88 265.02 L155.50 265.22 L157.12 265.44 L158.75 265.67 L160.38 265.91 L162.00 266.16 L163.62 266.42 L165.25 266.70 L166.88 266.99 L168.50 267.30 L170.12 267.62 L171.75 267.96 L173.38 268.31 L175.00 268.69 L176.62 269.08 L178.25 269.49 L179.88 269.92 L181.50 270.38 L183.12 270.85 L184.75 271.35 L186.38 271.88 L188.00 272.43 L189.62 273.00 L191.25 273.61 L192.88 274.24 L194.50 274.90 L196.12 275.60 L197.75 276.33 L199.38 277.09 L201.00 277.89 L202.62 278.72 L204.25 279.59 L205.88 280.51 L207.50 281.46 L209.12 282.46 L210.75 283.50 L212.38 284.58 L214.00 285.72 L215.62 286.90 L217.25 288.13 L218.88 289.41 L220.50 290.75 L222.12 292.14 L223.75 293.59 L225.38 295.09 L227.00 296.65 L228.62 298.28 L230.25 299.96 L231.88 301.71 L233.50 303.51 L235.12 305.39 L236.75 307.33 L238.38 309.33 L240.00 311.40 L241.62 313.53 L243.25 315.73 L244.88 318.00 L246.50 320.34 L248.12 322.74 L249.75 325.20 L251.38 327.74 L253.00 330.33 L254.62 332.99 L256.25 335.71 L257.88 338.49 L259.50 341.32 L261.12 344.21 L262.75 347.16 L264.38 350.15 L266.00 353.20 L267.62 356.28 L269.25 359.41 L270.88 362.58 L272.50 365.78 L274.12 369.01 L275.75 372.27 L277.38 375.55 L279.00 378.84 L280.62 382.15 L282.25 385.47 L283.88 388.80 L285.50 392.12 L287.12 395.44 L288.75 398.75 L290.38 402.05 L292.00 405.33 L293.62 408.59 L295.25 411.82 L296.88 415.03 L298.50 418.20 L300.12 421.33 L301.75 424.42 L303.38 427.46 L305.00 430.46 L306.62 433.41 L308.25 436.30 L309.88 439.14 L311.50 441.93 L313.12 444.65 L314.75 447.31 L316.38 449.91 L318.00 452.45 L319.62 454.92 L321.25 457.32 L322.88 459.66 L324.50 461.94 L326.12 464.14 L327.75 466.28 L329.38 468.36 L331.00 470.36 L332.62 472.30 L334.25 474.18 L335.88 476.00 L337.50 477.75 L339.12 479.43 L340.75 481.06 L342.38 482.63 L344.00 484.13 L345.62 485.59 L347.25 486.98 L348.88 488.32 L350.50 489.61 L352.12 490.84 L353.75 492.03 L355.38 493.17 L357.00 494.25 L358.62 495.30 L360.25 496.30 L361.88 497.25 L363.50 498.17 L365.12 499.04 L366.75 499.88 L368.38 500.68 L370.00 501.45 L371.62 502.18 L373.25 502.87 L374.88 503.54 L376.50 504.17 L378.12 504.78 L379.75 505.36 L381.38 505.91 L383.00 506.44 L384.62 506.94 L386.25 507.42 L387.88 507.87 L389.50 508.30 L391.12 508.72 L392.75 509.11 L394.38 509.49 L396.00 509.84 L397.62 510.18 L399.25 510.51 L400.88 510.81 L402.50 511.11 L404.12 511.38 L405.75 511.65 L407.38 511.90 L409.00 512.14 L410.62 512.37 L412.25 512.59 L413.88 512.79 L415.50 512.99 L417.12 513.18 L418.75 513.35 L420.38 513.52 L422.00 513.68 L423.62 513.83 L425.25 513.98 L426.88 514.12 L428.50 514.25 L430.12 514.37 L431.75 514.49 L433.38 514.60 L435.00 514.71 L436.62 514.81 L438.25 514.90 L439.88 515.00 L441.50 515.08 L443.12 515.16 L444.75 515.24 L446.38 515.32 L448.00 515.39 L449.62 515.45 L451.25 515.52 L452.88 515.58 L454.50 515.64 L456.12 515.69 L457.75 515.74 L459.38 515.79 L461.00 515.84 L462.62 515.88 L464.25 515.92 L465.88 515.96 L467.50 516.00" fill="none" stroke="#dfa52a" stroke-width="1.3"/>
<path d="M103.30 259.40 H116.70 M103.30 264.40 H116.70 M110.00 259.40 V264.40" stroke="#dfa52a" stroke-width="1.3" fill="none"/>
<path d="M119.55 258.50 H132.95 M119.55 263.50 H132.95 M126.25 258.50 V263.50" stroke="#dfa52a" stroke-width="1.3" fill="none"/>
<path d="M135.80 258.40 H149.20 M135.80 263.40 H149.20 M142.50 258.40 V263.40" stroke="#dfa52a" stroke-width="1.3" fill="none"/>
<path d="M152.05 262.10 H165.45 M152.05 267.10 H165.45 M158.75 262.10 V267.10" stroke="#dfa52a" stroke-width="1.3" fill="none"/>
<path d="M168.30 265.50 H181.70 M168.30 270.50 H181.70 M175.00 265.50 V270.50" stroke="#dfa52a" stroke-width="1.3" fill="none"/>
<path d="M184.55 271.30 H197.95 M184.55 276.30 H197.95 M191.25 271.30 V276.30" stroke="#dfa52a" stroke-width="1.3" fill="none"/>
<path d="M200.80 280.80 H214.20 M200.80 288.80 H214.20 M207.50 280.80 V288.80" stroke="#dfa52a" stroke-width="1.3" fill="none"/>
<path d="M217.05 294.10 H230.45 M217.05 302.10 H230.45 M223.75 294.10 V302.10" stroke="#dfa52a" stroke-width="1.3" fill="none"/>
<path d="M233.30 310.70 H246.70 M233.30 318.70 H246.70 M240.00 310.70 V318.70" stroke="#dfa52a" stroke-width="1.3" fill="none"/>
<path d="M249.55 330.20 H262.95 M249.55 340.80 H262.95 M256.25 330.20 V340.80" stroke="#dfa52a" stroke-width="1.3" fill="none"/>
<path d="M265.80 357.40 H279.20 M265.80 368.00 H279.20 M272.50 357.40 V368.00" stroke="#dfa52a" stroke-width="1.3" fill="none"/>
<path d="M282.05 389.90 H295.45 M282.05 400.50 H295.45 M288.75 389.90 V400.50" stroke="#dfa52a" stroke-width="1.3" fill="none"/>
<path d="M298.30 421.60 H311.70 M298.30 432.20 H311.70 M305.00 421.60 V432.20" stroke="#dfa52a" stroke-width="1.3" fill="none"/>
<path d="M314.55 453.10 H327.95 M314.55 463.70 H327.95 M321.25 453.10 V463.70" stroke="#dfa52a" stroke-width="1.3" fill="none"/>
<path d="M330.80 476.20 H344.20 M330.80 486.80 H344.20 M337.50 476.20 V486.80" stroke="#dfa52a" stroke-width="1.3" fill="none"/>
<path d="M347.05 493.10 H360.45 M347.05 501.10 H360.45 M353.75 493.10 V501.10" stroke="#dfa52a" stroke-width="1.3" fill="none"/>
<path d="M363.30 501.00 H376.70 M363.30 509.00 H376.70 M370.00 501.00 V509.00" stroke="#dfa52a" stroke-width="1.3" fill="none"/>
<path d="M379.55 504.70 H392.95 M379.55 512.70 H392.95 M386.25 504.70 V512.70" stroke="#dfa52a" stroke-width="1.3" fill="none"/>
<path d="M395.80 505.50 H409.20 M395.80 513.50 H409.20 M402.50 505.50 V513.50" stroke="#dfa52a" stroke-width="1.3" fill="none"/>
<path d="M412.05 506.50 H425.45 M412.05 514.50 H425.45 M418.75 506.50 V514.50" stroke="#dfa52a" stroke-width="1.3" fill="none"/>
<path d="M428.30 509.50 H441.70 M428.30 517.50 H441.70 M435.00 509.50 V517.50" stroke="#dfa52a" stroke-width="1.3" fill="none"/>
<path d="M444.55 510.10 H457.95 M444.55 518.10 H457.95 M451.25 510.10 V518.10" stroke="#dfa52a" stroke-width="1.3" fill="none"/>
<path d="M460.80 510.00 H474.20 M460.80 518.00 H474.20 M467.50 510.00 V518.00" stroke="#dfa52a" stroke-width="1.3" fill="none"/>
<path d="M110.00 269.97 L117.00 257.87 L103.00 257.87Z" fill="#dfa52a"/>
<path d="M126.25 269.07 L133.25 256.97 L119.25 256.97Z" fill="#dfa52a"/>
<path d="M142.50 268.97 L149.50 256.87 L135.50 256.87Z" fill="#dfa52a"/>
<path d="M158.75 272.67 L165.75 260.57 L151.75 260.57Z" fill="#dfa52a"/>
<path d="M175.00 276.07 L182.00 263.97 L168.00 263.97Z" fill="#dfa52a"/>
<path d="M191.25 281.87 L198.25 269.77 L184.25 269.77Z" fill="#dfa52a"/>
<path d="M207.50 292.87 L214.50 280.77 L200.50 280.77Z" fill="#dfa52a"/>
<path d="M223.75 306.17 L230.75 294.07 L216.75 294.07Z" fill="#dfa52a"/>
<path d="M240.00 322.77 L247.00 310.67 L233.00 310.67Z" fill="#dfa52a"/>
<path d="M256.25 343.57 L263.25 331.47 L249.25 331.47Z" fill="#dfa52a"/>
<path d="M272.50 370.77 L279.50 358.67 L265.50 358.67Z" fill="#dfa52a"/>
<path d="M288.75 403.27 L295.75 391.17 L281.75 391.17Z" fill="#dfa52a"/>
<path d="M305.00 434.97 L312.00 422.87 L298.00 422.87Z" fill="#dfa52a"/>
<path d="M321.25 466.47 L328.25 454.37 L314.25 454.37Z" fill="#dfa52a"/>
<path d="M337.50 489.57 L344.50 477.47 L330.50 477.47Z" fill="#dfa52a"/>
<path d="M353.75 505.17 L360.75 493.07 L346.75 493.07Z" fill="#dfa52a"/>
<path d="M370.00 513.07 L377.00 500.97 L363.00 500.97Z" fill="#dfa52a"/>
<path d="M386.25 516.77 L393.25 504.67 L379.25 504.67Z" fill="#dfa52a"/>
<path d="M402.50 517.57 L409.50 505.47 L395.50 505.47Z" fill="#dfa52a"/>
<path d="M418.75 518.57 L425.75 506.47 L411.75 506.47Z" fill="#dfa52a"/>
<path d="M435.00 521.57 L442.00 509.47 L428.00 509.47Z" fill="#dfa52a"/>
<path d="M451.25 522.17 L458.25 510.07 L444.25 510.07Z" fill="#dfa52a"/>
<path d="M467.50 522.07 L474.50 509.97 L460.50 509.97Z" fill="#dfa52a"/>
<path d="M110.00 295.54 L111.62 296.37 L113.25 297.22 L114.88 298.10 L116.50 298.99 L118.12 299.91 L119.75 300.86 L121.38 301.82 L123.00 302.81 L124.62 303.83 L126.25 304.87 L127.88 305.93 L129.50 307.02 L131.12 308.14 L132.75 309.28 L134.38 310.44 L136.00 311.63 L137.62 312.85 L139.25 314.10 L140.88 315.37 L142.50 316.67 L144.12 317.99 L145.75 319.34 L147.38 320.72 L149.00 322.13 L150.62 323.56 L152.25 325.02 L153.88 326.51 L155.50 328.02 L157.12 329.56 L158.75 331.13 L160.38 332.72 L162.00 334.34 L163.62 335.99 L165.25 337.66 L166.88 339.36 L168.50 341.08 L170.12 342.82 L171.75 344.59 L173.38 346.38 L175.00 348.20 L176.62 350.03 L178.25 351.89 L179.88 353.77 L181.50 355.67 L183.12 357.59 L184.75 359.53 L186.38 361.48 L188.00 363.45 L189.62 365.44 L191.25 367.44 L192.88 369.46 L194.50 371.49 L196.12 373.54 L197.75 375.59 L199.38 377.65 L201.00 379.73 L202.62 381.81 L204.25 383.89 L205.88 385.99 L207.50 388.08 L209.12 390.18 L210.75 392.29 L212.38 394.39 L214.00 396.49 L215.62 398.60 L217.25 400.70 L218.88 402.79 L220.50 404.88 L222.12 406.97 L223.75 409.05 L225.38 411.12 L227.00 413.18 L228.62 415.23 L230.25 417.26 L231.88 419.29 L233.50 421.30 L235.12 423.30 L236.75 425.28 L238.38 427.25 L240.00 429.20 L241.62 431.13 L243.25 433.04 L244.88 434.93 L246.50 436.81 L248.12 438.66 L249.75 440.49 L251.38 442.29 L253.00 444.08 L254.62 445.84 L256.25 447.57 L257.88 449.28 L259.50 450.97 L261.12 452.63 L262.75 454.27 L264.38 455.88 L266.00 457.46 L267.62 459.02 L269.25 460.55 L270.88 462.06 L272.50 463.54 L274.12 464.99 L275.75 466.41 L277.38 467.81 L279.00 469.18 L280.62 470.52 L282.25 471.83 L283.88 473.12 L285.50 474.38 L287.12 475.62 L288.75 476.83 L290.38 478.01 L292.00 479.17 L293.62 480.30 L295.25 481.41 L296.88 482.49 L298.50 483.54 L300.12 484.57 L301.75 485.58 L303.38 486.56 L305.00 487.52 L306.62 488.45 L308.25 489.36 L309.88 490.25 L311.50 491.12 L313.12 491.96 L314.75 492.79 L316.38 493.59 L318.00 494.37 L319.62 495.13 L321.25 495.87 L322.88 496.59 L324.50 497.29 L326.12 497.98 L327.75 498.64 L329.38 499.29 L331.00 499.91 L332.62 500.52 L334.25 501.12 L335.88 501.69 L337.50 502.26 L339.12 502.80 L340.75 503.33 L342.38 503.84 L344.00 504.34 L345.62 504.83 L347.25 505.30 L348.88 505.76 L350.50 506.20 L352.12 506.63 L353.75 507.05 L355.38 507.46 L357.00 507.85 L358.62 508.24 L360.25 508.61 L361.88 508.97 L363.50 509.32 L365.12 509.65 L366.75 509.98 L368.38 510.30 L370.00 510.61 L371.62 510.91 L373.25 511.20 L374.88 511.48 L376.50 511.75 L378.12 512.02 L379.75 512.28 L381.38 512.52 L383.00 512.76 L384.62 513.00 L386.25 513.22 L387.88 513.44 L389.50 513.66 L391.12 513.86 L392.75 514.06 L394.38 514.25 L396.00 514.44 L397.62 514.62 L399.25 514.80 L400.88 514.97 L402.50 515.13 L404.12 515.29 L405.75 515.44 L407.38 515.59 L409.00 515.74 L410.62 515.88 L412.25 516.01 L413.88 516.15 L415.50 516.27 L417.12 516.40 L418.75 516.51 L420.38 516.63 L422.00 516.74 L423.62 516.85 L425.25 516.95 L426.88 517.06 L428.50 517.15 L430.12 517.25 L431.75 517.34 L433.38 517.43 L435.00 517.52 L436.62 517.60 L438.25 517.68 L439.88 517.76 L441.50 517.83 L443.12 517.91 L444.75 517.98 L446.38 518.05 L448.00 518.11 L449.62 518.18 L451.25 518.24 L452.88 518.30 L454.50 518.36 L456.12 518.41 L457.75 518.47 L459.38 518.52 L461.00 518.57 L462.62 518.62 L464.25 518.67 L465.88 518.71 L467.50 518.76" fill="none" stroke="#6a3394" stroke-width="1.3"/>
<path d="M103.30 290.40 H116.70 M103.30 295.60 H116.70 M110.00 290.40 V295.60" stroke="#6a3394" stroke-width="1.3" fill="none"/>
<path d="M119.55 300.40 H132.95 M119.55 306.40 H132.95 M126.25 300.40 V306.40" stroke="#6a3394" stroke-width="1.3" fill="none"/>
<path d="M135.80 314.60 H149.20 M135.80 321.20 H149.20 M142.50 314.60 V321.20" stroke="#6a3394" stroke-width="1.3" fill="none"/>
<path d="M152.05 330.10 H165.45 M152.05 337.30 H165.45 M158.75 330.10 V337.30" stroke="#6a3394" stroke-width="1.3" fill="none"/>
<path d="M168.30 346.10 H181.70 M168.30 354.50 H181.70 M175.00 346.10 V354.50" stroke="#6a3394" stroke-width="1.3" fill="none"/>
<path d="M184.55 365.40 H197.95 M184.55 373.80 H197.95 M191.25 365.40 V373.80" stroke="#6a3394" stroke-width="1.3" fill="none"/>
<path d="M200.80 384.90 H214.20 M200.80 392.90 H214.20 M207.50 384.90 V392.90" stroke="#6a3394" stroke-width="1.3" fill="none"/>
<path d="M217.05 402.90 H230.45 M217.05 410.90 H230.45 M223.75 402.90 V410.90" stroke="#6a3394" stroke-width="1.3" fill="none"/>
<path d="M233.30 421.70 H246.70 M233.30 429.70 H246.70 M240.00 421.70 V429.70" stroke="#6a3394" stroke-width="1.3" fill="none"/>
<path d="M249.55 440.70 H262.95 M249.55 448.70 H262.95 M256.25 440.70 V448.70" stroke="#6a3394" stroke-width="1.3" fill="none"/>
<path d="M265.80 456.60 H279.20 M265.80 464.60 H279.20 M272.50 456.60 V464.60" stroke="#6a3394" stroke-width="1.3" fill="none"/>
<path d="M282.05 473.20 H295.45 M282.05 481.20 H295.45 M288.75 473.20 V481.20" stroke="#6a3394" stroke-width="1.3" fill="none"/>
<path d="M298.30 485.00 H311.70 M298.30 493.00 H311.70 M305.00 485.00 V493.00" stroke="#6a3394" stroke-width="1.3" fill="none"/>
<path d="M314.55 495.70 H327.95 M314.55 503.70 H327.95 M321.25 495.70 V503.70" stroke="#6a3394" stroke-width="1.3" fill="none"/>
<path d="M330.80 502.30 H344.20 M330.80 510.30 H344.20 M337.50 502.30 V510.30" stroke="#6a3394" stroke-width="1.3" fill="none"/>
<path d="M347.05 506.40 H360.45 M347.05 514.40 H360.45 M353.75 506.40 V514.40" stroke="#6a3394" stroke-width="1.3" fill="none"/>
<path d="M363.30 509.30 H376.70 M363.30 517.30 H376.70 M370.00 509.30 V517.30" stroke="#6a3394" stroke-width="1.3" fill="none"/>
<path d="M379.55 510.40 H392.95 M379.55 518.40 H392.95 M386.25 510.40 V518.40" stroke="#6a3394" stroke-width="1.3" fill="none"/>
<path d="M395.80 510.40 H409.20 M395.80 518.40 H409.20 M402.50 510.40 V518.40" stroke="#6a3394" stroke-width="1.3" fill="none"/>
<path d="M412.05 511.00 H425.45 M412.05 519.00 H425.45 M418.75 511.00 V519.00" stroke="#6a3394" stroke-width="1.3" fill="none"/>
<path d="M428.30 511.20 H441.70 M428.30 519.20 H441.70 M435.00 511.20 V519.20" stroke="#6a3394" stroke-width="1.3" fill="none"/>
<path d="M444.55 511.80 H457.95 M444.55 519.80 H457.95 M451.25 511.80 V519.80" stroke="#6a3394" stroke-width="1.3" fill="none"/>
<path d="M460.80 511.40 H474.20 M460.80 519.40 H474.20 M467.50 511.40 V519.40" stroke="#6a3394" stroke-width="1.3" fill="none"/>
<path d="M110.00 285.30 L116.30 293.00 L110.00 300.70 L103.70 293.00Z" fill="#6a3394"/>
<path d="M126.25 295.70 L132.55 303.40 L126.25 311.10 L119.95 303.40Z" fill="#6a3394"/>
<path d="M142.50 310.20 L148.80 317.90 L142.50 325.60 L136.20 317.90Z" fill="#6a3394"/>
<path d="M158.75 326.00 L165.05 333.70 L158.75 341.40 L152.45 333.70Z" fill="#6a3394"/>
<path d="M175.00 342.60 L181.30 350.30 L175.00 358.00 L168.70 350.30Z" fill="#6a3394"/>
<path d="M191.25 361.90 L197.55 369.60 L191.25 377.30 L184.95 369.60Z" fill="#6a3394"/>
<path d="M207.50 381.20 L213.80 388.90 L207.50 396.60 L201.20 388.90Z" fill="#6a3394"/>
<path d="M223.75 399.20 L230.05 406.90 L223.75 414.60 L217.45 406.90Z" fill="#6a3394"/>
<path d="M240.00 418.00 L246.30 425.70 L240.00 433.40 L233.70 425.70Z" fill="#6a3394"/>
<path d="M256.25 437.00 L262.55 444.70 L256.25 452.40 L249.95 444.70Z" fill="#6a3394"/>
<path d="M272.50 452.90 L278.80 460.60 L272.50 468.30 L266.20 460.60Z" fill="#6a3394"/>
<path d="M288.75 469.50 L295.05 477.20 L288.75 484.90 L282.45 477.20Z" fill="#6a3394"/>
<path d="M305.00 481.30 L311.30 489.00 L305.00 496.70 L298.70 489.00Z" fill="#6a3394"/>
<path d="M321.25 492.00 L327.55 499.70 L321.25 507.40 L314.95 499.70Z" fill="#6a3394"/>
<path d="M337.50 498.60 L343.80 506.30 L337.50 514.00 L331.20 506.30Z" fill="#6a3394"/>
<path d="M353.75 502.70 L360.05 510.40 L353.75 518.10 L347.45 510.40Z" fill="#6a3394"/>
<path d="M370.00 505.60 L376.30 513.30 L370.00 521.00 L363.70 513.30Z" fill="#6a3394"/>
<path d="M386.25 506.70 L392.55 514.40 L386.25 522.10 L379.95 514.40Z" fill="#6a3394"/>
<path d="M402.50 506.70 L408.80 514.40 L402.50 522.10 L396.20 514.40Z" fill="#6a3394"/>
<path d="M418.75 507.30 L425.05 515.00 L418.75 522.70 L412.45 515.00Z" fill="#6a3394"/>
<path d="M435.00 507.50 L441.30 515.20 L435.00 522.90 L428.70 515.20Z" fill="#6a3394"/>
<path d="M451.25 508.10 L457.55 515.80 L451.25 523.50 L444.95 515.80Z" fill="#6a3394"/>
<path d="M467.50 507.70 L473.80 515.40 L467.50 523.10 L461.20 515.40Z" fill="#6a3394"/>
<path d="M110.00 315.04 L111.62 316.49 L113.25 317.96 L114.88 319.48 L116.50 321.02 L118.12 322.60 L119.75 324.21 L121.38 325.86 L123.00 327.53 L124.62 329.25 L126.25 330.99 L127.88 332.77 L129.50 334.58 L131.12 336.43 L132.75 338.30 L134.38 340.20 L136.00 342.14 L137.62 344.10 L139.25 346.10 L140.88 348.12 L142.50 350.17 L144.12 352.24 L145.75 354.34 L147.38 356.47 L149.00 358.62 L150.62 360.78 L152.25 362.97 L153.88 365.18 L155.50 367.41 L157.12 369.65 L158.75 371.91 L160.38 374.18 L162.00 376.47 L163.62 378.76 L165.25 381.06 L166.88 383.37 L168.50 385.69 L170.12 388.01 L171.75 390.33 L173.38 392.66 L175.00 394.98 L176.62 397.30 L178.25 399.62 L179.88 401.93 L181.50 404.23 L183.12 406.52 L184.75 408.80 L186.38 411.08 L188.00 413.33 L189.62 415.57 L191.25 417.80 L192.88 420.01 L194.50 422.19 L196.12 424.36 L197.75 426.51 L199.38 428.63 L201.00 430.73 L202.62 432.80 L204.25 434.84 L205.88 436.86 L207.50 438.85 L209.12 440.82 L210.75 442.75 L212.38 444.65 L214.00 446.52 L215.62 448.36 L217.25 450.17 L218.88 451.95 L220.50 453.69 L222.12 455.40 L223.75 457.07 L225.38 458.72 L227.00 460.33 L228.62 461.90 L230.25 463.44 L231.88 464.95 L233.50 466.42 L235.12 467.86 L236.75 469.27 L238.38 470.64 L240.00 471.98 L241.62 473.29 L243.25 474.57 L244.88 475.81 L246.50 477.02 L248.12 478.20 L249.75 479.35 L251.38 480.46 L253.00 481.55 L254.62 482.61 L256.25 483.64 L257.88 484.64 L259.50 485.61 L261.12 486.55 L262.75 487.47 L264.38 488.36 L266.00 489.22 L267.62 490.06 L269.25 490.87 L270.88 491.66 L272.50 492.42 L274.12 493.16 L275.75 493.88 L277.38 494.57 L279.00 495.25 L280.62 495.90 L282.25 496.53 L283.88 497.14 L285.50 497.74 L287.12 498.31 L288.75 498.86 L290.38 499.40 L292.00 499.92 L293.62 500.42 L295.25 500.91 L296.88 501.38 L298.50 501.83 L300.12 502.27 L301.75 502.69 L303.38 503.10 L305.00 503.50 L306.62 503.88 L308.25 504.25 L309.88 504.61 L311.50 504.95 L313.12 505.28 L314.75 505.60 L316.38 505.91 L318.00 506.21 L319.62 506.50 L321.25 506.78 L322.88 507.05 L324.50 507.31 L326.12 507.56 L327.75 507.80 L329.38 508.03 L331.00 508.26 L332.62 508.48 L334.25 508.69 L335.88 508.89 L337.50 509.08 L339.12 509.27 L340.75 509.45 L342.38 509.63 L344.00 509.79 L345.62 509.96 L347.25 510.11 L348.88 510.26 L350.50 510.41 L352.12 510.55 L353.75 510.69 L355.38 510.82 L357.00 510.94 L358.62 511.06 L360.25 511.18 L361.88 511.29 L363.50 511.40 L365.12 511.50 L366.75 511.61 L368.38 511.70 L370.00 511.80 L371.62 511.89 L373.25 511.97 L374.88 512.06 L376.50 512.14 L378.12 512.22 L379.75 512.29 L381.38 512.36 L383.00 512.43 L384.62 512.50 L386.25 512.56 L387.88 512.63 L389.50 512.68 L391.12 512.74 L392.75 512.80 L394.38 512.85 L396.00 512.90 L397.62 512.95 L399.25 513.00 L400.88 513.05 L402.50 513.09 L404.12 513.13 L405.75 513.17 L407.38 513.21 L409.00 513.25 L410.62 513.29 L412.25 513.32 L413.88 513.36 L415.50 513.39 L417.12 513.42 L418.75 513.45 L420.38 513.48 L422.00 513.51 L423.62 513.54 L425.25 513.57 L426.88 513.59 L428.50 513.61 L430.12 513.64 L431.75 513.66 L433.38 513.68 L435.00 513.70 L436.62 513.72 L438.25 513.74 L439.88 513.76 L441.50 513.78 L443.12 513.80 L444.75 513.81 L446.38 513.83 L448.00 513.85 L449.62 513.86 L451.25 513.87 L452.88 513.89 L454.50 513.90 L456.12 513.91 L457.75 513.93 L459.38 513.94 L461.00 513.95 L462.62 513.96 L464.25 513.97 L465.88 513.98 L467.50 513.99" fill="none" stroke="#77b8ea" stroke-width="1.3"/>
<path d="M103.30 305.75 H116.70 M103.30 322.45 H116.70 M110.00 305.75 V322.45" stroke="#77b8ea" stroke-width="1.3" fill="none"/>
<path d="M119.55 324.75 H132.95 M119.55 342.05 H132.95 M126.25 324.75 V342.05" stroke="#77b8ea" stroke-width="1.3" fill="none"/>
<path d="M135.80 337.25 H149.20 M135.80 357.15 H149.20 M142.50 337.25 V357.15" stroke="#77b8ea" stroke-width="1.3" fill="none"/>
<path d="M152.05 364.10 H165.45 M152.05 384.50 H165.45 M158.75 364.10 V384.50" stroke="#77b8ea" stroke-width="1.3" fill="none"/>
<path d="M168.30 384.40 H181.70 M168.30 405.20 H181.70 M175.00 384.40 V405.20" stroke="#77b8ea" stroke-width="1.3" fill="none"/>
<path d="M184.55 407.00 H197.95 M184.55 427.40 H197.95 M191.25 407.00 V427.40" stroke="#77b8ea" stroke-width="1.3" fill="none"/>
<path d="M200.80 429.25 H214.20 M200.80 449.15 H214.20 M207.50 429.25 V449.15" stroke="#77b8ea" stroke-width="1.3" fill="none"/>
<path d="M217.05 445.85 H230.45 M217.05 462.75 H230.45 M223.75 445.85 V462.75" stroke="#77b8ea" stroke-width="1.3" fill="none"/>
<path d="M233.30 464.05 H246.70 M233.30 479.35 H246.70 M240.00 464.05 V479.35" stroke="#77b8ea" stroke-width="1.3" fill="none"/>
<path d="M249.55 479.90 H262.95 M249.55 494.70 H262.95 M256.25 479.90 V494.70" stroke="#77b8ea" stroke-width="1.3" fill="none"/>
<path d="M265.80 485.80 H279.20 M265.80 500.40 H279.20 M272.50 485.80 V500.40" stroke="#77b8ea" stroke-width="1.3" fill="none"/>
<path d="M282.05 494.20 H295.45 M282.05 506.20 H295.45 M288.75 494.20 V506.20" stroke="#77b8ea" stroke-width="1.3" fill="none"/>
<path d="M298.30 497.95 H311.70 M298.30 508.95 H311.70 M305.00 497.95 V508.95" stroke="#77b8ea" stroke-width="1.3" fill="none"/>
<path d="M314.55 500.50 H327.95 M314.55 510.50 H327.95 M321.25 500.50 V510.50" stroke="#77b8ea" stroke-width="1.3" fill="none"/>
<path d="M330.80 503.00 H344.20 M330.80 512.00 H344.20 M337.50 503.00 V512.00" stroke="#77b8ea" stroke-width="1.3" fill="none"/>
<path d="M347.05 504.65 H360.45 M347.05 512.65 H360.45 M353.75 504.65 V512.65" stroke="#77b8ea" stroke-width="1.3" fill="none"/>
<path d="M363.30 506.80 H376.70 M363.30 513.80 H376.70 M370.00 506.80 V513.80" stroke="#77b8ea" stroke-width="1.3" fill="none"/>
<path d="M379.55 508.50 H392.95 M379.55 515.50 H392.95 M386.25 508.50 V515.50" stroke="#77b8ea" stroke-width="1.3" fill="none"/>
<path d="M395.80 509.40 H409.20 M395.80 515.40 H409.20 M402.50 509.40 V515.40" stroke="#77b8ea" stroke-width="1.3" fill="none"/>
<path d="M412.05 509.60 H425.45 M412.05 515.60 H425.45 M418.75 509.60 V515.60" stroke="#77b8ea" stroke-width="1.3" fill="none"/>
<path d="M428.30 511.80 H441.70 M428.30 517.80 H441.70 M435.00 511.80 V517.80" stroke="#77b8ea" stroke-width="1.3" fill="none"/>
<path d="M444.55 513.05 H457.95 M444.55 519.05 H457.95 M451.25 513.05 V519.05" stroke="#77b8ea" stroke-width="1.3" fill="none"/>
<path d="M460.80 513.20 H474.20 M460.80 519.20 H474.20 M467.50 513.20 V519.20" stroke="#77b8ea" stroke-width="1.3" fill="none"/>
<circle cx="110.00" cy="314.10" r="6.0" fill="#77b8ea"/>
<circle cx="126.25" cy="333.40" r="6.0" fill="#77b8ea"/>
<circle cx="142.50" cy="347.20" r="6.0" fill="#77b8ea"/>
<circle cx="158.75" cy="374.30" r="6.0" fill="#77b8ea"/>
<circle cx="175.00" cy="394.80" r="6.0" fill="#77b8ea"/>
<circle cx="191.25" cy="417.20" r="6.0" fill="#77b8ea"/>
<circle cx="207.50" cy="439.20" r="6.0" fill="#77b8ea"/>
<circle cx="223.75" cy="454.30" r="6.0" fill="#77b8ea"/>
<circle cx="240.00" cy="471.70" r="6.0" fill="#77b8ea"/>
<circle cx="256.25" cy="487.30" r="6.0" fill="#77b8ea"/>
<circle cx="272.50" cy="493.10" r="6.0" fill="#77b8ea"/>
<circle cx="288.75" cy="500.20" r="6.0" fill="#77b8ea"/>
<circle cx="305.00" cy="503.45" r="6.0" fill="#77b8ea"/>
<circle cx="321.25" cy="505.50" r="6.0" fill="#77b8ea"/>
<circle cx="337.50" cy="507.50" r="6.0" fill="#77b8ea"/>
<circle cx="353.75" cy="508.65" r="6.0" fill="#77b8ea"/>
<circle cx="370.00" cy="510.30" r="6.0" fill="#77b8ea"/>
<circle cx="386.25" cy="512.00" r="6.0" fill="#77b8ea"/>
<circle cx="402.50" cy="512.40" r="6.0" fill="#77b8ea"/>
<circle cx="418.75" cy="512.60" r="6.0" fill="#77b8ea"/>
<circle cx="435.00" cy="514.80" r="6.0" fill="#77b8ea"/>
<circle cx="451.25" cy="516.05" r="6.0" fill="#77b8ea"/>
<circle cx="467.50" cy="516.20" r="6.0" fill="#77b8ea"/>
<path d="M401.30 300.10 H414.70 M401.30 315.40 H414.70 M408.00 300.10 V315.40" stroke="#000" stroke-width="1.4" fill="none"/>
<rect x="403.60" y="303.30" width="8.8" height="8.9" fill="#000"/>
<text x="435.2" y="312.85" font-size="15.3" text-anchor="start" font-weight="normal" fill="#000" stroke="#000" stroke-width="0.15" stroke-linejoin="round" >Nav1.5e</text>
<path d="M401.30 320.50 H414.70 M401.30 336.00 H414.70 M408.00 320.50 V336.00" stroke="#c55a1f" stroke-width="1.4" fill="none"/>
<path d="M408.00 320.78 L414.95 331.98 L401.05 331.98Z" fill="#c55a1f"/>
<text x="435.2" y="333.35" font-size="15.3" text-anchor="start" font-weight="normal" fill="#000" stroke="#000" stroke-width="0.15" stroke-linejoin="round" >DI-CN</text>
<path d="M401.30 340.95 H414.70 M401.30 356.25 H414.70 M408.00 340.95 V356.25" stroke="#dfa52a" stroke-width="1.4" fill="none"/>
<path d="M408.00 356.07 L414.95 344.87 L401.05 344.87Z" fill="#dfa52a"/>
<text x="435.2" y="353.70000000000005" font-size="15.3" text-anchor="start" font-weight="normal" fill="#000" stroke="#000" stroke-width="0.15" stroke-linejoin="round" >DII-CN</text>
<path d="M401.30 361.30 H414.70 M401.30 376.50 H414.70 M408.00 361.30 V376.50" stroke="#6a3394" stroke-width="1.4" fill="none"/>
<path d="M408.00 361.20 L414.30 368.90 L408.00 376.60 L401.70 368.90Z" fill="#6a3394"/>
<text x="435.2" y="374.0" font-size="15.3" text-anchor="start" font-weight="normal" fill="#000" stroke="#000" stroke-width="0.15" stroke-linejoin="round" >DIII-CN</text>
<path d="M401.30 382.30 H414.70 M401.30 396.70 H414.70 M408.00 382.30 V396.70" stroke="#77b8ea" stroke-width="1.4" fill="none"/>
<circle cx="408.00" cy="389.50" r="6.0" fill="#77b8ea"/>
<text x="435.2" y="394.6" font-size="15.3" text-anchor="start" font-weight="normal" fill="#000" stroke="#000" stroke-width="0.15" stroke-linejoin="round" >DIV-CN</text>
</svg></body></html>
